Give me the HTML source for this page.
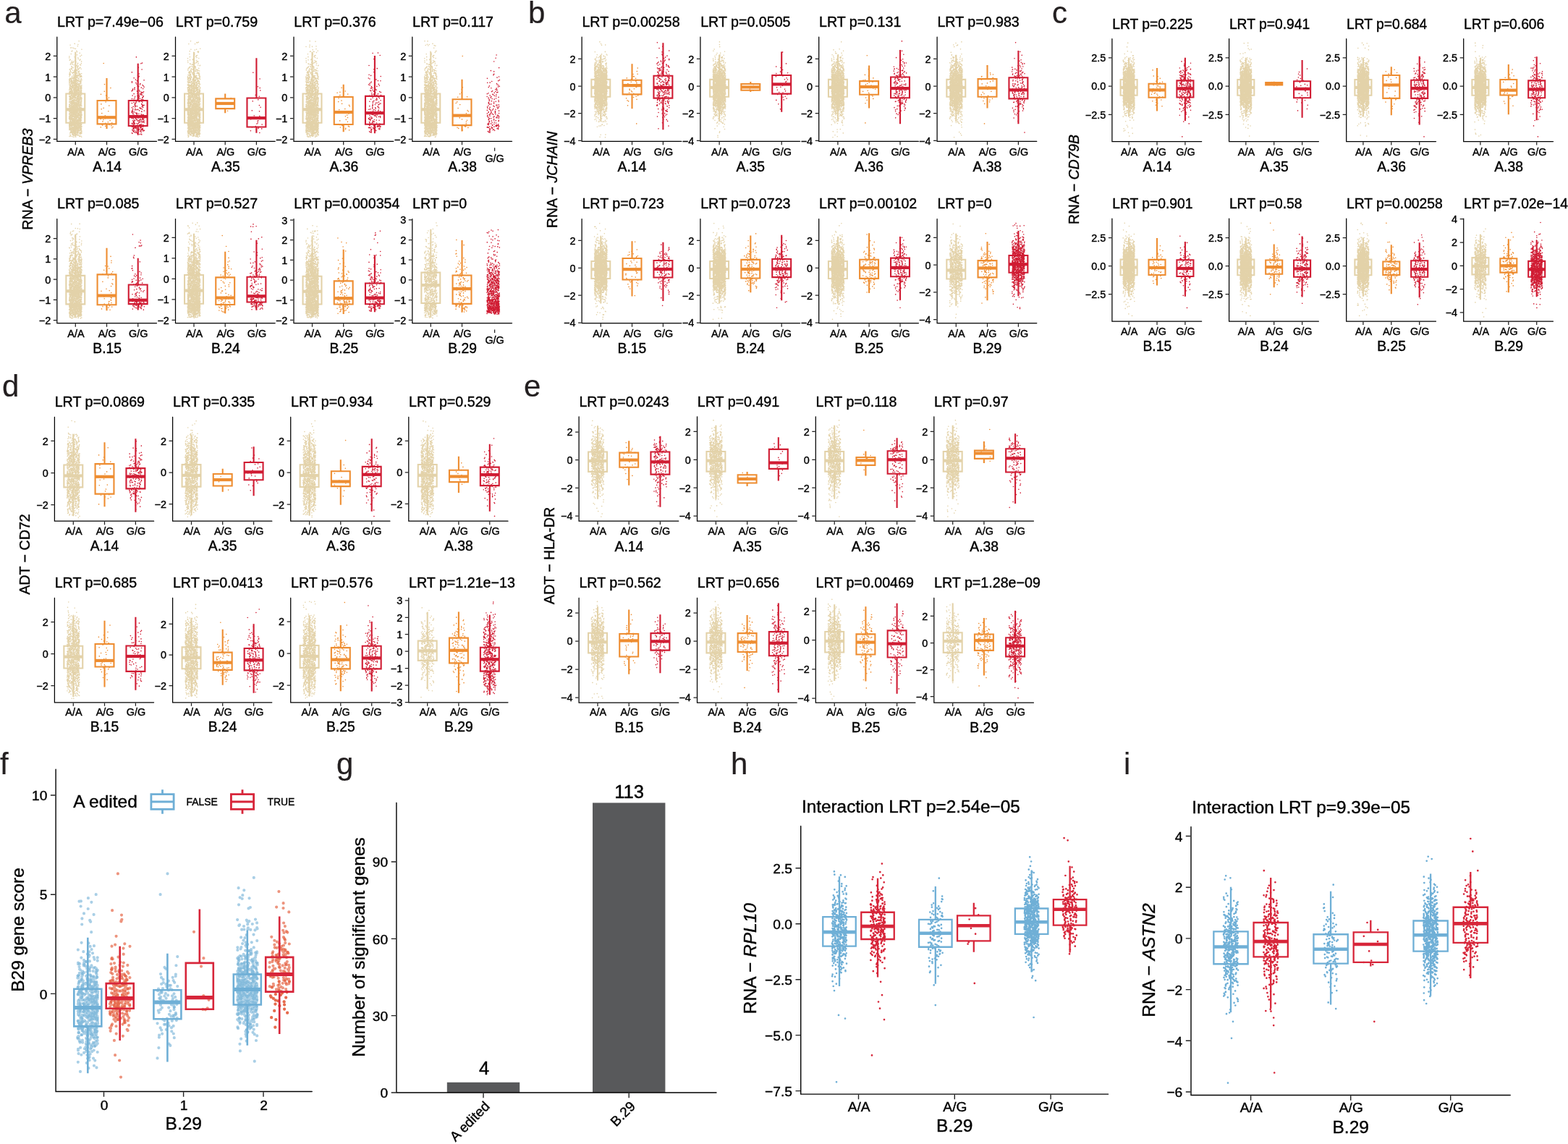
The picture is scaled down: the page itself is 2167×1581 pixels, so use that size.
<!DOCTYPE html>
<html lang="en">
<head>
<meta charset="utf-8">
<title>Figure</title>
<style>
html,body{margin:0;padding:0;background:#fff}
body{width:2167px;height:1581px;overflow:hidden}
svg{display:block;font-family:"Liberation Sans", "DejaVu Sans", sans-serif}
text{stroke:#000;stroke-width:.4px}
.L{fill:#231f20;stroke:#231f20;stroke-width:.2px}
</style>
</head>
<body>
<svg width="2167" height="1581" viewBox="0 0 2167 1581" fill="#000">
<defs><g fill="none">
<path vector-effect="non-scaling-stroke" id="u12a" d="M-98 32h0m58 110h0m-21 42h0m-7 94h0m55 44h0m-52 115h0m36 81h0m-53 117h0m64 88h0m-52 46h0m8 110h0m-33 58h0"/>
<path vector-effect="non-scaling-stroke" id="u12b" d="M93 26h0m-44 127h0m39 2h0m-34 147h0m-134 24h0m157 99h0m-30 95h0m-42 54h0m60 125h0m-119 97h0m-3 97h0m68 88h0"/>
<path vector-effect="non-scaling-stroke" id="u12c" d="M18 14h0m74 104h0m-159 40h0m133 153h0m-120 13h0m-15 111h0m-21 64h0m6 115h0m168 110h0m-30 70h0m-18 53h0m-40 130h0"/>
<path vector-effect="non-scaling-stroke" id="u20a" d="M25 3h0m-3 59h0m69 51h0m-37 36h0m-43 70h0m-78 18h0m13 89h0m12 10h0m46 65h0m-103 23h0m36 73h0m123 55h0m-59 24h0m57 66h0m-75 80h0m93 15h0m-110 42h0m-30 74h0m68 71h0m-21 33h0"/>
<path vector-effect="non-scaling-stroke" id="u20b" d="M-35 32h0m27 18h0m32 52h0m-97 47h0m39 79h0m42 19h0m26 66h0m-82 53h0m21 30h0m42 53h0m-101 54h0m128 37h0m7 33h0m-69 84h0m-27 39h0m43 67h0m-90 29h0m178 58h0m-59 74h0m-119 72h0"/>
<path vector-effect="non-scaling-stroke" id="u20c" d="M-62 28h0m-2 37h0m144 44h0m-11 64h0m-109 17h0m-52 80h0m8 19h0m30 78h0m-43 29h0m100 33h0m-35 82h0m-60 26h0m22 39h0m84 56h0m82 59h0m-25 49h0m-65 42h0m25 79h0m-26 48h0m-75 78h0"/>
<path vector-effect="non-scaling-stroke" id="u30a" d="M18 16h0m-85 39h0m-28 20h0m169 39h0m-11 21h0m-160 41h0m6 25h0m151 26h0m-47 26h0m-91 29h0m-3 60h0m169 7h0m-145 36h0m57 26h0m-56 31h0m105 38h0m-31 30h0m81 36h0m-14 58h0m-74 31h0m17 35h0m18 8h0m-143 59h0m154 12h0m-45 56h0m-59 13h0m143 40h0m-122 37h0m59 55h0m-3 33h0"/>
<path vector-effect="non-scaling-stroke" id="u30b" d="M83 27h0m-177 7h0m176 56h0m-102 14h0m4 41h0m-34 14h0m63 37h0m33 27h0m-69 56h0m50 19h0m-1 39h0m18 23h0m44 16h0m-49 61h0m-14 9h0m-45 27h0m32 39h0m-94 34h0m32 52h0m-47 26h0m155 34h0m-92 42h0m56 12h0m-65 41h0m22 32h0m1 53h0m66 35h0m-32 43h0m-14 45h0m32 21h0"/>
<path vector-effect="non-scaling-stroke" id="u30c" d="M40 30h0m-108 29h0m109 16h0m25 41h0m-103 16h0m15 36h0m0 21h0m70 49h0m-24 18h0m-93 48h0m1 8h0m151 53h0m-121 23h0m1 40h0m-14 13h0m43 51h0m-14 25h0m75 26h0m-15 41h0m42 40h0m-154 42h0m-24 22h0m44 46h0m-1 43h0m53 19h0m21 47h0m-55 39h0m-27 8h0m104 35h0m10 63h0"/>
<path vector-effect="non-scaling-stroke" id="u45a" d="M-75 16h0m107 6h0m-65 19h0m63 33h0m60 21h0m-128 28h0m-58 8h0m84 16h0m-41 32h0m90 9h0m-37 33h0m-61 10h0m132 24h0m-162 34h0m174 22h0m-136 18h0m115 25h0m-155 3h0m109 27h0m75 13h0m-88 36h0m-82 18h0m127 27h0m13 6h0m26 29h0m-145 22h0m24 18h0m-33 20h0m77 31h0m-84 25h0m3 10h0m-2 43h0m84 18h0m76 21h0m-46 15h0m-67 30h0m-34 21h0m144 17h0m-150 37h0m3 28h0m80 21h0m-35 28h0m62 30h0m-120 12h0m2 21h0"/>
<path vector-effect="non-scaling-stroke" id="u45b" d="M61 11h0m-34 25h0m-71 14h0m78 29h0m-22 17h0m6 24h0m-43 9h0m-17 22h0m84 33h0m-52 15h0m-69 18h0m97 21h0m-17 18h0m82 35h0m6 2h0m-27 36h0m-120 21h0m86 7h0m-108 36h0m169 4h0m-137 41h0m8 20h0m-57 22h0m42 17h0m-40 22h0m15 22h0m-6 18h0m17 21h0m63 21h0m33 30h0m44 19h0m-142 21h0m42 29h0m7 29h0m-9 2h0m27 46h0m-22 20h0m-59 19h0m6 14h0m44 29h0m65 29h0m-76 17h0m-30 19h0m156 34h0m-98 21h0"/>
<path vector-effect="non-scaling-stroke" id="u45c" d="M18 0h0m-52 29h0m-11 20h0m-18 21h0m150 27h0m-114 25h0m81 2h0m-45 30h0m53 25h0m-75 18h0m-79 13h0m23 21h0m82 38h0m-49 1h0m103 30h0m-58 21h0m-44 18h0m92 17h0m-11 30h0m-128 23h0m46 15h0m5 33h0m90 26h0m-53 15h0m-38 22h0m104 9h0m20 30h0m-77 29h0m22 15h0m-66 18h0m93 25h0m-145 37h0m52 2h0m17 38h0m106 25h0m-61 22h0m-16 11h0m-78 35h0m97 10h0m-7 48h0m45 5h0m-106 27h0m91 38h0m18 28h0m-131 2h0"/>
<path vector-effect="non-scaling-stroke" id="u70a" d="M-54 8h0m101 17h0m42 12h0m4 12h0m-166 10h0m163 14h0m-126 15h0m-37 6h0m115 14h0m-55 16h0m-21 22h0m4 9h0m15 10h0m-62 14h0m88 16h0m84 6h0m-140 25h0m101 5h0m-43 16h0m37 17h0m-53 6h0m80 21h0m-17 15h0m-155 10h0m137 10h0m-129 12h0m141 18h0m-8 20h0m-140 6h0m172 17h0m-65 11h0m-49 8h0m97 21h0m5 10h0m-55 18h0m28 8h0m-55 13h0m90 25h0m-135 15h0m55 13h0m85 4h0m16 26h0m-150 5h0m98 23h0m3 14h0m0 16h0m39 12h0m-1 9h0m8 14h0m-64 17h0m-60 7h0m-66 18h0m49 16h0m0 12h0m-8 26h0m155 13h0m-56 5h0m-105 17h0m147 18h0m-166 24h0m-1 14h0m183 9h0m-178 24h0m62 11h0m88 18h0m14 14h0m-153 22h0m7 2h0m99 24h0m7 23h0"/>
<path vector-effect="non-scaling-stroke" id="u70b" d="M20 9h0m-40 13h0m87 13h0m-23 16h0m-130 11h0m77 9h0m-51 13h0m127 14h0m20 12h0m-103 10h0m67 23h0m-128 3h0m90 15h0m-34 13h0m-59 16h0m67 15h0m-18 16h0m-3 6h0m-65 22h0m3 11h0m35 19h0m-21 9h0m141 13h0m-1 19h0m-156 13h0m8 13h0m189 14h0m-78 12h0m-104 14h0m0 15h0m37 5h0m25 20h0m21 10h0m68 19h0m-111 15h0m-38 3h0m130 15h0m2 14h0m-14 13h0m-8 17h0m2 22h0m-127 4h0m177 19h0m-128 15h0m111 15h0m-139 10h0m60 25h0m-23 8h0m110 12h0m-121 23h0m133 13h0m12 11h0m-28 10h0m-118 26h0m4 6h0m108 13h0m-4 24h0m-106 15h0m0 6h0m-48 27h0m60 11h0m3 12h0m-33 21h0m136 9h0m-98 25h0m45 8h0m41 27h0m-31 9h0m15 15h0m-137 19h0"/>
<path vector-effect="non-scaling-stroke" id="u70c" d="M74 9h0m-142 11h0m6 11h0m109 20h0m-86 6h0m27 11h0m63 25h0m-136 12h0m168 14h0m-157 11h0m170 14h0m-93 12h0m73 8h0m-111 17h0m-62 6h0m56 22h0m2 6h0m108 18h0m-143 13h0m109 19h0m45 9h0m-103 12h0m62 9h0m50 21h0m-106 5h0m0 20h0m80 8h0m-35 14h0m-43 17h0m-44 21h0m12 9h0m56 15h0m-90 15h0m113 13h0m62 6h0m-35 25h0m-59 13h0m-69 16h0m164 12h0m-65 5h0m-102 27h0m152 8h0m-138 10h0m117 21h0m-28 18h0m33 1h0m-51 18h0m83 21h0m-167 12h0m82 14h0m-73 19h0m-28 11h0m-5 22h0m30 8h0m45 11h0m-28 15h0m48 16h0m-58 25h0m-33 4h0m148 27h0m-127 14h0m104 10h0m12 17h0m35 10h0m-59 23h0m-33 16h0m-56 7h0m-17 23h0m22 19h0m43 18h0"/>
<path vector-effect="non-scaling-stroke" id="u100a" d="M-48 6h0m81 4h0m-91 16h0m132 2h0m-21 16h0m-70 10h0m79 11h0m26 7h0m-75 11h0m5 1h0m-115 14h0m161 7h0m22 12h0m-149 11h0m-28 9h0m50 11h0m-49 10h0m10 7h0m143 11h0m-50 6h0m-40 6h0m6 9h0m48 9h0m-56 13h0m119 8h0m6 15h0m-180 4h0m156 8h0m-143 11h0m16 15h0m38 6h0m-9 5h0m35 16h0m-106 10h0m83 2h0m-4 15h0m81 6h0m-33 15h0m18 3h0m-1 14h0m-34 11h0m54 6h0m23 15h0m-148 3h0m94 9h0m-88 17h0m61 5h0m1 9h0m7 10h0m36 15h0m-69 10h0m-44 2h0m114 10h0m-42 10h0m-28 17h0m93 3h0m-163 17h0m181 9h0m-123 4h0m-29 9h0m45 16h0m-15 5h0m126 16h0m-146 5h0m104 9h0m-118 17h0m28 2h0m102 17h0m-85 12h0m-75 1h0m66 18h0m-19 4h0m127 9h0m-82 14h0m4 8h0m83 11h0m-44 17h0m2 8h0m-74 5h0m86 19h0m-81 5h0m-77 9h0m37 19h0m-1 9h0m73 7h0m-53 8h0m-55 11h0m167 13h0m-81 10h0m16 12h0m-94 10h0m187 12h0m-106 14h0m53 8h0m-20 10h0m-109 15h0m54 12h0m22 5h0m-69 14h0m90 17h0"/>
<path vector-effect="non-scaling-stroke" id="u100b" d="M41 4h0m-68 13h0m105 6h0m-88 7h0m-18 12h0m86 10h0m-75 12h0m71 4h0m-99 13h0m-6 7h0m-7 10h0m11 5h0m7 9h0m2 12h0m91 15h0m28 3h0m-178 11h0m14 10h0m175 7h0m5 12h0m-130 8h0m-18 8h0m69 14h0m-22 11h0m84 9h0m-46 2h0m-63 9h0m56 10h0m-109 10h0m118 15h0m46 10h0m-16 9h0m-74 5h0m-12 12h0m16 9h0m-88 10h0m146 6h0m-113 16h0m6 3h0m42 16h0m10 11h0m54 1h0m-14 10h0m10 18h0m-64 8h0m-40 2h0m113 18h0m-118 7h0m124 9h0m17 6h0m-37 9h0m27 9h0m-61 13h0m23 7h0m-73 20h0m-30 8h0m103 2h0m10 12h0m-116 8h0m77 12h0m-79 10h0m48 8h0m35 10h0m-4 10h0m-96 13h0m108 7h0m-80 17h0m-19 9h0m146 9h0m-70 7h0m-39 18h0m-38 9h0m139 5h0m-97 17h0m8 5h0m0 9h0m49 17h0m-1 11h0m-3 8h0m-13 6h0m-52 12h0m138 11h0m10 17h0m-139 7h0m4 8h0m114 18h0m-69 9h0m43 7h0m-4 16h0m-22 12h0m0 10h0m43 7h0m5 11h0m26 9h0m-156 16h0m19 11h0m-32 5h0m164 15h0m-81 10h0m-75 13h0"/>
<path vector-effect="non-scaling-stroke" id="u100c" d="M-39 6h0m109 4h0m-161 16h0m55 6h0m-1 11h0m-54 10h0m120 11h0m35 5h0m-101 12h0m65 3h0m45 13h0m-7 7h0m-125 15h0m82 4h0m-26 10h0m-18 12h0m-22 5h0m103 16h0m-21 3h0m-17 16h0m-4 10h0m-38 5h0m52 11h0m-102 13h0m149 3h0m-117 13h0m-49 8h0m-5 5h0m19 16h0m39 5h0m-51 13h0m19 3h0m37 15h0m-14 5h0m88 11h0m-141 14h0m17 10h0m64 6h0m-63 6h0m116 16h0m56 10h0m-134 11h0m72 7h0m20 6h0m-34 16h0m-62 8h0m10 11h0m47 4h0m-20 13h0m58 12h0m26 7h0m-99 8h0m-15 16h0m108 1h0m-107 15h0m72 12h0m-30 6h0m2 15h0m-20 1h0m104 12h0m-112 12h0m73 13h0m-17 3h0m-20 19h0m70 3h0m-88 8h0m13 12h0m65 12h0m-83 7h0m-71 12h0m108 16h0m-24 6h0m-94 11h0m-5 9h0m163 8h0m-111 18h0m117 2h0m-127 11h0m66 19h0m41 6h0m-41 16h0m-101 11h0m123 6h0m-42 15h0m-37 8h0m58 12h0m-10 14h0m53 2h0m-133 14h0m73 17h0m-59 2h0m145 12h0m-178 18h0m59 10h0m83 8h0m-91 10h0m100 18h0m-9 11h0m2 13h0m-93 9h0"/>
<path vector-effect="non-scaling-stroke" id="u150a" d="M87 4h0m-43 6h0m-51 3h0m53 9h0m-99 6h0m50 9h0m71 1h0m22 8h0m-38 4h0m-9 10h0m-42 2h0m-41 9h0m63 4h0m74 8h0m-119 5h0m-51 9h0m-9 3h0m139 11h0m-101 1h0m-44 10h0m26 2h0m12 11h0m-17 6h0m102 6h0m-100 6h0m16 5h0m15 5h0m-29 10h0m119 3h0m0 5h0m-32 11h0m-33 6h0m108 6h0m-108 4h0m48 9h0m-60 4h0m115 7h0m-101 5h0m-85 7h0m137 8h0m-6 5h0m-52 7h0m-39 5h0m82 6h0m-91 7h0m-31 4h0m108 7h0m18 6h0m-40 7h0m12 5h0m-62 6h0m83 8h0m-81 7h0m94 7h0m-116 4h0m44 10h0m30 5h0m-35 6h0m77 4h0m47 10h0m-17 5h0m28 6h0m-138 4h0m24 11h0m93 5h0m-164 4h0m111 5h0m-76 13h0m38 3h0m79 7h0m-48 9h0m64 3h0m-120 7h0m71 7h0m17 4h0m-137 8h0m165 8h0m19 8h0m-1 1h0m-17 12h0m-44 1h0m46 8h0m-169 7h0m127 9h0m-56 6h0m63 4h0m-29 6h0m-25 7h0m-42 10h0m2 8h0m28 7h0m11 6h0m-71 4h0m-9 8h0m71 6h0m-31 6h0m126 8h0m-115 9h0m65 5h0m-1 8h0m-96 2h0m23 12h0m-41 5h0m47 7h0m-55 3h0m100 8h0m-97 11h0m61 5h0m73 8h0m-91 3h0m84 12h0m-25 2h0m-77 9h0m75 7h0m71 9h0m21 4h0m-68 8h0m-40 7h0m58 9h0m-143 3h0m58 9h0m126 8h0m-144 6h0m22 8h0m38 7h0m46 5h0m0 11h0m-116 6h0m139 9h0m-30 9h0m-85 1h0m-51 12h0m69 4h0m-72 11h0m122 4h0m-65 5h0m31 13h0m-44 8h0m-18 7h0m127 7h0m-102 3h0m121 10h0m-95 5h0m-64 15h0m-3 7h0m75 5h0m-33 8h0m116 6h0m6 6h0m-144 7h0"/>
<path vector-effect="non-scaling-stroke" id="u150b" d="M8 1h0m-14 7h0m-34 5h0m-36 6h0m87 10h0m-106 5h0m15 8h0m61 6h0m-62 7h0m-11 3h0m115 10h0m-91 2h0m39 10h0m23 1h0m70 8h0m-11 4h0m-141 12h0m133 5h0m29 6h0m-45 5h0m-41 7h0m21 3h0m-40 9h0m108 7h0m-101 5h0m72 6h0m17 5h0m-24 9h0m-128 6h0m160 6h0m-5 6h0m-77 3h0m98 10h0m-148 3h0m10 7h0m31 9h0m53 8h0m46 4h0m-175 8h0m124 3h0m51 8h0m-82 3h0m-62 11h0m48 1h0m-78 7h0m120 8h0m44 8h0m-116 4h0m-44 10h0m16 4h0m-4 8h0m35 7h0m68 7h0m-85 5h0m90 6h0m-20 4h0m57 7h0m-4 10h0m-144 3h0m175 7h0m-168 4h0m-9 6h0m22 9h0m138 9h0m-72 6h0m27 4h0m-20 6h0m-3 4h0m-67 10h0m44 4h0m112 11h0m-133 5h0m119 4h0m-65 6h0m-64 10h0m-6 7h0m91 7h0m-26 4h0m57 9h0m-108 1h0m20 6h0m-6 11h0m-45 6h0m33 4h0m77 7h0m-81 10h0m8 7h0m70 7h0m14 4h0m-110 9h0m24 7h0m130 1h0m-65 13h0m-131 1h0m136 11h0m54 7h0m-29 6h0m-82 5h0m-19 8h0m115 7h0m1 6h0m-126 9h0m11 2h0m53 10h0m21 4h0m-60 8h0m65 5h0m-101 8h0m26 12h0m-55 6h0m117 5h0m-36 8h0m16 3h0m-50 12h0m74 4h0m-3 7h0m-97 7h0m-21 8h0m74 4h0m75 9h0m-92 5h0m45 11h0m1 7h0m-70 10h0m-30 4h0m95 9h0m-87 8h0m31 5h0m132 6h0m-159 6h0m27 8h0m89 10h0m25 4h0m-155 7h0m102 7h0m28 12h0m-64 3h0m48 12h0m-96 7h0m3 8h0m62 2h0m31 12h0m-91 6h0m59 9h0m-42 3h0m93 10h0m50 13h0m-125 4h0m89 10h0m-109 9h0"/>
<path vector-effect="non-scaling-stroke" id="u150c" d="M19 6h0m-72 4h0m-18 8h0m156 5h0m-142 7h0m125 7h0m-8 6h0m-116 6h0m4 2h0m-12 8h0m131 9h0m-116 2h0m-10 5h0m22 7h0m-51 9h0m150 5h0m-36 5h0m53 6h0m-106 8h0m30 9h0m-66 2h0m26 5h0m110 6h0m-5 11h0m-97 4h0m-44 5h0m35 6h0m-24 8h0m62 6h0m16 4h0m35 11h0m-102 4h0m-1 7h0m7 7h0m101 3h0m-100 6h0m21 9h0m106 5h0m15 9h0m-122 4h0m6 7h0m-29 8h0m104 6h0m-1 3h0m3 8h0m-130 6h0m162 6h0m-127 9h0m-58 4h0m111 7h0m-63 4h0m-6 5h0m37 8h0m54 5h0m-103 5h0m-1 9h0m155 9h0m-123 4h0m84 9h0m34 5h0m-67 3h0m75 8h0m-16 5h0m-166 12h0m90 6h0m-7 6h0m-31 7h0m64 2h0m-76 11h0m2 5h0m70 4h0m-24 9h0m32 8h0m-8 1h0m-75 6h0m34 10h0m0 7h0m29 8h0m12 5h0m-16 6h0m-77 3h0m16 9h0m92 6h0m-106 8h0m3 8h0m5 4h0m61 9h0m40 2h0m-89 8h0m67 6h0m-69 10h0m30 10h0m80 1h0m-67 9h0m2 7h0m-86 6h0m101 9h0m-98 6h0m56 5h0m71 7h0m8 5h0m-133 10h0m111 8h0m54 3h0m-64 5h0m30 13h0m-48 7h0m-88 7h0m29 6h0m160 6h0m-29 6h0m0 8h0m-72 2h0m48 12h0m-109 9h0m88 4h0m60 6h0m-169 8h0m134 8h0m-51 7h0m73 6h0m-30 9h0m-120 8h0m150 6h0m18 7h0m-38 5h0m-2 10h0m-53 5h0m-52 11h0m-10 2h0m133 12h0m-87 3h0m48 11h0m62 5h0m-171 8h0m52 6h0m54 6h0m16 10h0m-99 10h0m86 3h0m10 11h0m20 2h0m-143 9h0m8 14h0m20 7h0m140 2h0m9 12h0m-56 2h0m-81 11h0m105 8h0"/>
<path vector-effect="non-scaling-stroke" id="u220a" d="M86 2h0m-65 6h0m-95 1h0m140 6h0m-22 6h0m37 0h0m-155 7h0m162 5h0m-73 2h0m6 6h0m-11 3h0m0 6h0m4 1h0m-99 7h0m80 5h0m-50 1h0m125 4h0m-87 7h0m-38 5h0m121 0h0m-130 8h0m-20 2h0m90 5h0m63 5h0m-100 5h0m-39 2h0m48 5h0m-17 5h0m69 3h0m-83 3h0m86 6h0m-51 3h0m-1 5h0m56 3h0m-88 7h0m117 3h0m-164 5h0m42 3h0m96 6h0m-137 4h0m25 4h0m65 2h0m-42 6h0m95 6h0m-117 4h0m44 3h0m-53 4h0m5 6h0m-22 1h0m171 7h0m-136 2h0m48 4h0m-33 6h0m94 5h0m41 5h0m0 3h0m-111 5h0m-34 1h0m89 8h0m-121 4h0m45 4h0m31 2h0m55 7h0m-141 5h0m123 2h0m-46 4h0m24 6h0m-24 1h0m-21 6h0m110 3h0m28 7h0m-95 4h0m23 5h0m55 4h0m-136 3h0m135 4h0m-98 4h0m75 4h0m19 3h0m-130 5h0m42 5h0m65 6h0m-15 4h0m-12 2h0m-108 7h0m104 6h0m-77 2h0m128 5h0m-153 5h0m167 2h0m-59 4h0m11 8h0m-128 3h0m39 3h0m86 4h0m-130 5h0m79 3h0m29 6h0m49 4h0m20 7h0m-104 4h0m99 3h0m5 3h0m-119 7h0m45 1h0m-69 5h0m44 5h0m58 6h0m17 5h0m-86 3h0m35 4h0m9 5h0m-42 6h0m-34 3h0m78 5h0m-26 5h0m-20 2h0m-33 5h0m103 7h0m49 5h0m-128 1h0m20 6h0m-64 4h0m155 7h0m-96 3h0m32 4h0m38 4h0m-73 4h0m70 7h0m-76 2h0m-35 6h0m92 5h0m-58 3h0m-27 4h0m70 6h0m51 6h0m-44 4h0m-28 2h0m69 8h0m20 4h0m-126 5h0m143 5h0m-78 3h0m45 5h0m-67 5h0m-6 5h0m11 3h0m-93 5h0m163 3h0m9 4h0m-85 8h0m88 5h0m-26 2h0m-76 4h0m-17 5h0m65 8h0m-108 2h0m168 7h0m-177 5h0m51 4h0m37 2h0m88 5h0m-113 4h0m71 5h0m-47 6h0m21 7h0m54 3h0m8 5h0m-35 5h0m-122 4h0m152 5h0m16 6h0m-19 2h0m-169 5h0m38 4h0m116 6h0m18 6h0m-145 4h0m8 5h0m150 7h0m-77 4h0m29 5h0m25 6h0m-65 3h0m-67 5h0m131 3h0m-129 7h0m-30 2h0m109 7h0m38 8h0m-35 2h0m-85 3h0m86 7h0m66 7h0m-105 3h0m-23 4h0m109 5h0m-7 7h0m-63 3h0m-51 8h0m-36 4h0m112 6h0m-112 5h0m65 4h0m125 4h0m-57 7h0m37 4h0m-81 4h0m-62 8h0m63 2h0m77 7h0m-128 6h0m120 4h0m-105 4h0m58 6h0m-89 7h0m141 4h0m0 7h0m-67 6h0m-42 2h0"/>
<path vector-effect="non-scaling-stroke" id="u220b" d="M81 2h0m-24 3h0m-109 5h0m31 3h0m4 7h0m-65 4h0m87 3h0m-49 3h0m-36 7h0m107 4h0m-91 2h0m77 6h0m48 3h0m25 5h0m-97 4h0m-27 6h0m94 4h0m-36 4h0m-85 5h0m138 4h0m-172 2h0m178 7h0m16 3h0m-134 2h0m-28 5h0m139 3h0m-90 6h0m58 4h0m-60 5h0m-15 2h0m-29 5h0m155 6h0m-181 4h0m177 2h0m-111 8h0m-22 2h0m128 5h0m-41 4h0m31 2h0m-164 6h0m140 4h0m13 3h0m-32 6h0m53 6h0m-154 2h0m122 6h0m-68 2h0m-49 7h0m155 1h0m-146 4h0m48 4h0m-46 7h0m57 2h0m13 5h0m-61 5h0m0 6h0m-45 3h0m29 6h0m162 3h0m-60 2h0m45 4h0m-42 7h0m-65 1h0m-26 7h0m62 5h0m60 2h0m-123 6h0m84 3h0m-48 6h0m-74 4h0m7 3h0m125 6h0m-18 4h0m-25 3h0m-72 5h0m-2 6h0m122 2h0m-130 7h0m29 3h0m-28 5h0m36 5h0m110 1h0m-134 5h0m155 4h0m-90 6h0m-75 4h0m120 4h0m-105 2h0m62 9h0m23 1h0m-112 5h0m59 7h0m3 2h0m0 6h0m18 2h0m90 7h0m6 1h0m-157 7h0m106 3h0m21 7h0m-59 2h0m21 6h0m-106 3h0m15 3h0m112 5h0m-43 6h0m-63 4h0m90 3h0m-85 8h0m3 2h0m155 3h0m-34 7h0m-148 4h0m183 3h0m-55 5h0m1 7h0m39 1h0m-134 7h0m17 1h0m-15 6h0m42 5h0m86 4h0m13 6h0m-153 4h0m20 2h0m116 7h0m10 6h0m-81 4h0m-72 3h0m125 3h0m-103 7h0m-49 2h0m45 6h0m-35 7h0m79 3h0m-53 5h0m9 4h0m-4 4h0m58 6h0m-7 1h0m-75 9h0m113 4h0m14 4h0m-66 2h0m58 8h0m-16 4h0m43 3h0m4 4h0m-74 8h0m46 3h0m-111 2h0m25 8h0m97 3h0m-143 6h0m34 4h0m33 5h0m78 4h0m-30 5h0m-64 3h0m59 6h0m35 5h0m-109 4h0m48 5h0m53 7h0m45 2h0m-65 8h0m46 3h0m-52 5h0m-17 2h0m-21 9h0m-9 5h0m85 2h0m-121 5h0m-21 6h0m106 2h0m-100 7h0m-21 4h0m167 7h0m-99 2h0m59 5h0m-18 6h0m3 7h0m31 3h0m2 4h0m-25 8h0m-60 5h0m51 2h0m-9 4h0m13 5h0m-114 9h0m-1 2h0m65 5h0m-39 3h0m68 8h0m-26 6h0m57 5h0m-68 5h0m-45 4h0m86 4h0m84 7h0m-129 5h0m94 3h0m37 8h0m-120 3h0m33 7h0m-13 5h0m-9 2h0m65 7h0m51 4h0m-115 4h0m-46 6h0m150 8h0m-175 6h0m104 0h0m79 7h0m-2 5h0m-181 6h0m138 7h0m-36 4h0m-75 6h0"/>
<path vector-effect="non-scaling-stroke" id="u220c" d="M-21 1h0m46 4h0m-95 6h0m-13 5h0m23 2h0m-3 6h0m126 2h0m-14 5h0m25 6h0m-14 2h0m4 5h0m-142 4h0m161 5h0m-71 3h0m-96 6h0m141 4h0m-155 3h0m81 4h0m-47 6h0m142 1h0m-92 7h0m-68 5h0m149 4h0m-87 3h0m-49 6h0m68 3h0m29 4h0m6 5h0m18 2h0m-101 5h0m100 4h0m24 7h0m18 4h0m-86 5h0m-91 3h0m6 1h0m168 7h0m-7 4h0m-44 3h0m-112 6h0m116 3h0m-2 5h0m24 4h0m-50 5h0m56 5h0m28 3h0m-25 5h0m-11 3h0m-79 4h0m98 6h0m-7 5h0m8 3h0m-152 6h0m34 1h0m101 5h0m-40 6h0m-48 1h0m95 7h0m0 2h0m-14 7h0m40 3h0m-111 5h0m16 5h0m9 5h0m27 3h0m-116 1h0m-13 8h0m98 3h0m-65 6h0m125 2h0m-20 4h0m-7 4h0m49 5h0m-115 4h0m-35 4h0m-9 6h0m68 3h0m-57 7h0m142 1h0m-109 7h0m-13 1h0m-48 5h0m62 5h0m117 6h0m-147 2h0m-11 4h0m77 7h0m-28 2h0m12 5h0m71 6h0m-68 5h0m97 4h0m-93 5h0m-75 4h0m66 3h0m20 4h0m-48 7h0m99 2h0m-57 5h0m-109 6h0m160 2h0m-91 5h0m67 2h0m-110 7h0m79 2h0m49 7h0m-147 4h0m58 5h0m68 5h0m-77 5h0m28 2h0m-16 5h0m-25 3h0m3 6h0m25 5h0m-29 5h0m74 4h0m35 6h0m-45 4h0m-99 3h0m83 4h0m-5 3h0m10 6h0m-79 7h0m46 2h0m25 4h0m87 7h0m-115 1h0m79 7h0m-85 4h0m43 5h0m88 4h0m-13 3h0m-34 7h0m-75 3h0m51 6h0m-86 2h0m-22 7h0m17 4h0m38 5h0m13 5h0m-66 5h0m9 6h0m125 0h0m38 6h0m-179 4h0m33 7h0m121 2h0m22 6h0m-172 6h0m153 4h0m-1 4h0m-51 6h0m33 5h0m-24 2h0m15 8h0m-110 4h0m51 2h0m-29 6h0m103 3h0m-107 6h0m-33 7h0m176 4h0m-87 5h0m38 2h0m59 4h0m-112 7h0m115 4h0m-49 4h0m-92 4h0m83 6h0m-79 6h0m108 5h0m-79 2h0m68 7h0m11 7h0m15 2h0m-72 7h0m-92 6h0m134 2h0m42 6h0m-62 6h0m-44 3h0m-33 7h0m-49 2h0m164 4h0m-92 6h0m-27 8h0m22 5h0m120 4h0m-10 4h0m-126 4h0m94 7h0m-55 6h0m-84 5h0m34 5h0m142 4h0m-70 6h0m-29 4h0m-51 5h0m124 2h0m6 7h0m-131 3h0m69 8h0m37 2h0m-90 8h0m77 3h0m-57 9h0m59 1h0m5 8h0m29 4h0m5 4h0m25 9h0m-148 3h0m-39 6h0m52 6h0m-50 5h0m78 6h0m31 2h0m56 9h0"/>
<path vector-effect="non-scaling-stroke" id="u330a" d="M0 1h0m17 2h0m-100 3h0m-5 4h0m96 2h0m-45 4h0m-3 3h0m3 2h0m-48 3h0m163 3h0m-57 2h0m-11 4h0m-106 1h0m171 3h0m-59 3h0m-115 3h0m135 2h0m-44 3h0m38 5h0m50 2h0m-136 3h0m123 2h0m-98 3h0m46 4h0m-76 2h0m46 2h0m70 4h0m-76 1h0m95 3h0m-72 4h0m20 4h0m33 0h0m-38 3h0m55 4h0m-42 4h0m-107 2h0m145 2h0m-12 3h0m-116 3h0m143 3h0m-67 4h0m84 1h0m-131 3h0m-20 3h0m29 2h0m99 4h0m-69 4h0m-66 3h0m152 2h0m-159 1h0m-1 3h0m90 4h0m-51 4h0m-34 3h0m91 1h0m-5 4h0m-22 2h0m-39 4h0m60 3h0m-90 1h0m93 4h0m-77 3h0m90 2h0m-125 3h0m24 4h0m33 3h0m79 2h0m-123 3h0m167 2h0m-178 3h0m111 4h0m60 1h0m-47 3h0m-98 3h0m72 3h0m-48 4h0m43 3h0m15 2h0m27 3h0m7 4h0m13 0h0m-26 3h0m-109 3h0m1 4h0m82 3h0m70 3h0m-81 1h0m-50 3h0m94 4h0m-48 4h0m-25 3h0m10 1h0m61 5h0m-74 2h0m-17 2h0m-57 3h0m41 4h0m131 1h0m-78 3h0m-62 3h0m3 3h0m134 3h0m-41 5h0m-63 1h0m2 2h0m-3 5h0m19 3h0m13 0h0m39 5h0m-77 2h0m94 3h0m8 2h0m-29 4h0m7 3h0m-8 3h0m62 4h0m-192 2h0m28 2h0m9 4h0m118 3h0m-109 3h0m142 2h0m-108 4h0m83 1h0m-71 4h0m92 4h0m-102 1h0m-81 4h0m168 2h0m-55 3h0m42 4h0m-26 3h0m-115 3h0m159 1h0m-126 4h0m38 2h0m-74 3h0m61 4h0m90 1h0m-151 4h0m151 5h0m10 0h0m-137 5h0m-20 3h0m55 3h0m112 1h0m-62 4h0m51 3h0m6 4h0m-14 2h0m33 3h0m-172 3h0m117 3h0m10 2h0m-8 4h0m-52 3h0m-2 3h0m-3 2h0m-21 2h0m-26 4h0m-35 3h0m43 2h0m-45 3h0m115 4h0m63 3h0m-66 3h0m-65 2h0m125 3h0m-36 5h0m7 3h0m12 3h0m-85 1h0m32 3h0m25 4h0m4 2h0m-122 5h0m48 0h0m98 4h0m-121 5h0m49 0h0m32 4h0m-28 5h0m34 2h0m68 1h0m-130 3h0m36 5h0m-42 1h0m7 5h0m81 1h0m-106 3h0m158 4h0m-106 4h0m26 3h0m-77 4h0m61 1h0m29 3h0m-123 3h0m16 4h0m119 4h0m-105 3h0m-2 2h0m-37 4h0m196 3h0m-57 3h0m-48 2h0m10 3h0m8 3h0m-94 2h0m177 4h0m-8 4h0m-30 3h0m-32 2h0m-103 2h0m68 3h0m-54 3h0m155 3h0m-142 4h0m75 5h0m-68 1h0m-19 5h0m49 1h0m55 5h0m-51 1h0m58 5h0m-56 3h0m10 3h0m-70 2h0m108 3h0m-92 2h0m124 7h0m-151 1h0m24 3h0m60 3h0m-77 5h0m2 2h0m76 2h0m-48 5h0m127 2h0m-108 3h0m76 3h0m-18 4h0m-5 3h0m67 3h0m-183 2h0m172 4h0m-1 3h0m-78 3h0m82 4h0m-101 3h0m-4 4h0m30 3h0m-100 3h0m114 3h0m48 4h0m-59 2h0m-73 4h0m96 1h0m-56 4h0m-42 3h0m43 4h0m29 5h0m-44 1h0m93 2h0m-10 3h0m-122 4h0m29 4h0m24 2h0m-68 3h0m46 4h0m69 3h0m40 5h0m-41 1h0m69 4h0m-148 3h0m129 6h0m-174 3h0m1 1h0m183 4h0m-124 3h0m49 4h0m-55 5h0m81 1h0m-75 3h0m-23 4h0m157 3h0m-156 2h0m17 6h0m81 2h0m-105 3h0m109 3h0m56 5h0m-99 2h0m93 3h0m-63 5h0m32 2h0m-135 5h0m146 1h0m-22 5h0m4 5h0m-120 1h0m91 5h0m19 4h0m-23 1h0m70 5h0m-89 4h0m29 2h0m-43 3h0m-55 3h0m48 4h0m65 4h0m-94 2h0m8 6h0m119 1h0m-106 3h0m122 4h0m-15 6h0m-67 2h0m32 4h0m27 4h0m-159 3h0m70 3h0m67 3h0m-17 5h0m66 3h0m-57 1h0m-32 4h0m-38 4h0m-8 5h0m61 4h0m0 4h0"/>
<path vector-effect="non-scaling-stroke" id="u330b" d="M11 2h0m-109 3h0m42 1h0m149 5h0m-136 1h0m-11 3h0m-9 2h0m-9 5h0m144 2h0m-86 2h0m-63 2h0m101 4h0m60 2h0m16 4h0m-82 3h0m10 3h0m-5 3h0m22 2h0m-24 4h0m-49 1h0m-64 3h0m166 4h0m22 2h0m-189 3h0m-2 3h0m193 2h0m-120 5h0m-64 1h0m30 2h0m25 5h0m118 3h0m-123 3h0m71 2h0m21 1h0m-135 5h0m38 2h0m-13 3h0m-44 2h0m57 4h0m68 2h0m-44 4h0m-52 3h0m127 1h0m-128 3h0m-14 4h0m49 3h0m12 3h0m-19 2h0m15 4h0m114 0h0m-124 5h0m20 2h0m76 2h0m0 5h0m-86 1h0m-53 4h0m48 3h0m1 1h0m4 5h0m-51 1h0m-3 3h0m110 2h0m-50 5h0m21 3h0m-3 2h0m6 4h0m-44 1h0m60 4h0m61 2h0m-92 2h0m-15 3h0m121 5h0m-68 1h0m-117 3h0m112 2h0m44 4h0m-126 4h0m110 1h0m11 3h0m4 4h0m-93 2h0m-48 4h0m62 2h0m-47 4h0m-6 2h0m40 3h0m76 2h0m-3 3h0m-121 4h0m168 3h0m-185 2h0m14 2h0m34 3h0m-36 4h0m74 4h0m-89 1h0m157 3h0m-37 4h0m-120 2h0m194 3h0m-32 2h0m-31 4h0m-55 2h0m65 4h0m-145 2h0m51 3h0m52 2h0m95 3h0m-25 3h0m-64 3h0m-103 3h0m108 2h0m-108 5h0m157 1h0m-26 4h0m-88 3h0m-40 3h0m-8 4h0m106 0h0m-41 3h0m18 5h0m-32 3h0m-37 3h0m26 2h0m19 3h0m134 1h0m-34 5h0m-23 1h0m-99 5h0m100 1h0m-67 4h0m101 4h0m-22 1h0m-92 3h0m76 2h0m-34 4h0m-55 3h0m3 4h0m70 3h0m-81 4h0m111 0h0m9 4h0m-139 3h0m134 4h0m47 3h0m-186 1h0m40 3h0m86 5h0m-2 1h0m52 3h0m-167 5h0m11 2h0m160 4h0m-40 2h0m-79 1h0m-2 6h0m25 2h0m94 3h0m-8 3h0m-156 2h0m148 4h0m-100 2h0m117 3h0m-30 2h0m-22 5h0m-24 3h0m2 3h0m6 3h0m64 0h0m-115 6h0m6 0h0m-28 5h0m-50 4h0m161 1h0m-126 3h0m3 3h0m134 4h0m-2 2h0m-91 5h0m96 1h0m-39 3h0m-23 5h0m-5 1h0m-13 4h0m-92 2h0m-3 5h0m56 2h0m-47 2h0m30 4h0m67 2h0m-43 3h0m23 3h0m106 4h0m-128 3h0m83 2h0m-115 3h0m66 4h0m-99 1h0m54 3h0m108 6h0m25 1h0m-70 4h0m-94 4h0m147 1h0m-21 3h0m-84 4h0m64 4h0m-72 1h0m132 3h0m-146 5h0m-18 2h0m82 2h0m-37 4h0m86 5h0m-21 3h0m33 3h0m-23 2h0m-130 2h0m73 2h0m-14 4h0m-67 5h0m70 3h0m21 1h0m-67 5h0m149 3h0m4 2h0m-109 3h0m-41 4h0m97 3h0m-115 2h0m127 5h0m-72 1h0m35 4h0m27 5h0m-5 3h0m-76 1h0m87 3h0m-133 4h0m173 3h0m-94 4h0m65 1h0m-118 5h0m125 3h0m31 2h0m11 4h0m-72 3h0m-95 4h0m-14 1h0m175 6h0m-105 1h0m24 4h0m21 4h0m-131 2h0m196 4h0m-5 4h0m-41 1h0m-142 5h0m34 2h0m8 4h0m61 3h0m68 3h0m-41 2h0m-117 5h0m47 4h0m-15 2h0m112 2h0m-23 3h0m-98 6h0m23 1h0m130 3h0m-165 3h0m166 3h0m-184 5h0m69 2h0m82 4h0m-118 5h0m3 1h0m-6 3h0m88 4h0m47 4h0m-85 4h0m5 2h0m-17 5h0m-52 2h0m127 5h0m-3 2h0m9 3h0m-165 2h0m150 5h0m-42 3h0m-100 4h0m165 3h0m-121 2h0m27 5h0m-48 3h0m69 4h0m27 3h0m-70 4h0m15 4h0m-5 2h0m79 4h0m40 3h0m-113 4h0m-8 1h0m-8 4h0m96 3h0m19 4h0m-111 2h0m113 7h0m20 3h0m-65 3h0m-100 4h0m85 2h0m3 4h0m57 2h0m-45 4h0m68 2h0m0 4h0m-103 5h0m1 4h0m-9 4h0m77 0h0m-7 5h0m-86 3h0m42 6h0m-64 2h0m-7 2h0m108 4h0m-72 6h0m-73 1h0"/>
<path vector-effect="non-scaling-stroke" id="u330c" d="M77 3h0m-34 2h0m-78 2h0m32 2h0m-12 3h0m19 5h0m-7 1h0m82 3h0m-32 3h0m5 4h0m16 2h0m-46 2h0m53 3h0m-80 4h0m97 2h0m-77 2h0m-75 5h0m63 0h0m-30 3h0m75 3h0m-145 3h0m4 2h0m1 5h0m160 2h0m-112 4h0m114 0h0m13 5h0m-32 3h0m-16 3h0m-111 2h0m121 2h0m-113 5h0m31 1h0m113 4h0m15 1h0m-180 4h0m60 3h0m109 2h0m-121 2h0m12 4h0m66 3h0m-119 3h0m-6 3h0m138 2h0m-104 3h0m-42 2h0m32 4h0m-22 4h0m111 1h0m-68 4h0m112 1h0m-74 5h0m-28 1h0m-38 4h0m144 3h0m-65 2h0m-84 3h0m-7 3h0m168 4h0m-10 3h0m-54 1h0m-34 4h0m40 3h0m-117 1h0m171 5h0m-76 3h0m78 3h0m-47 2h0m-85 1h0m41 4h0m68 2h0m-81 5h0m-16 3h0m-11 2h0m-13 2h0m23 3h0m-36 4h0m18 3h0m94 1h0m-109 4h0m45 3h0m11 3h0m-65 2h0m150 2h0m-3 3h0m-30 3h0m-39 3h0m-40 3h0m100 2h0m16 3h0m-124 5h0m115 1h0m-122 4h0m143 3h0m-78 4h0m38 1h0m-138 3h0m14 3h0m40 2h0m-53 4h0m-7 2h0m195 5h0m-193 2h0m148 1h0m-10 4h0m42 3h0m-66 2h0m-64 4h0m138 2h0m-21 5h0m-57 2h0m-93 2h0m134 4h0m22 1h0m-159 4h0m29 2h0m118 4h0m-78 3h0m-6 4h0m49 0h0m48 5h0m-91 3h0m41 2h0m56 3h0m-15 3h0m-156 3h0m36 1h0m128 5h0m-58 4h0m-1 1h0m-14 3h0m83 3h0m-177 4h0m110 3h0m-30 2h0m65 4h0m-86 1h0m-25 3h0m90 3h0m-84 3h0m119 3h0m5 2h0m-78 5h0m103 1h0m-75 5h0m-1 2h0m-117 3h0m61 2h0m85 3h0m16 4h0m-51 4h0m-73 2h0m103 1h0m-104 6h0m41 2h0m93 3h0m-14 3h0m-24 3h0m24 3h0m-48 1h0m-75 3h0m-4 5h0m5 2h0m41 2h0m66 3h0m-118 3h0m65 4h0m99 3h0m-24 4h0m-144 2h0m23 3h0m-19 3h0m13 3h0m111 4h0m-132 2h0m67 2h0m5 4h0m17 4h0m-70 1h0m122 2h0m5 6h0m0 3h0m-89 2h0m108 3h0m4 2h0m-164 4h0m3 1h0m30 6h0m81 2h0m-74 2h0m-44 3h0m117 3h0m-32 4h0m19 3h0m-97 3h0m36 1h0m94 5h0m12 3h0m-9 3h0m14 3h0m-128 2h0m79 4h0m-79 3h0m82 4h0m-20 2h0m-33 2h0m-50 6h0m94 1h0m-30 3h0m68 2h0m-87 3h0m-39 4h0m-26 5h0m157 0h0m-118 3h0m48 4h0m-87 3h0m169 5h0m-108 1h0m-40 3h0m58 4h0m12 3h0m-91 3h0m75 2h0m79 5h0m-159 2h0m3 5h0m112 1h0m-65 4h0m-19 3h0m-27 4h0m58 1h0m105 5h0m-88 4h0m-6 3h0m-36 2h0m13 3h0m11 4h0m47 4h0m19 1h0m-32 3h0m-48 4h0m-23 1h0m-23 6h0m37 2h0m61 2h0m-15 6h0m-35 3h0m-48 3h0m144 1h0m-52 3h0m65 4h0m-12 4h0m-116 1h0m70 5h0m86 4h0m-32 3h0m-41 2h0m18 4h0m-47 2h0m64 3h0m14 3h0m-143 6h0m14 3h0m-24 3h0m103 2h0m12 5h0m-117 1h0m42 5h0m90 2h0m-104 4h0m157 3h0m-77 3h0m-113 3h0m68 5h0m23 3h0m-37 2h0m96 2h0m9 4h0m18 4h0m-114 3h0m35 4h0m-21 4h0m-31 3h0m67 2h0m-68 4h0m-38 2h0m59 4h0m21 4h0m-53 3h0m61 3h0m89 5h0m-130 3h0m-11 2h0m96 5h0m-116 4h0m52 0h0m15 3h0m103 6h0m-50 2h0m-12 5h0m-6 3h0m-88 4h0m102 1h0m7 3h0m37 5h0m-124 4h0m-55 2h0m79 3h0m111 5h0m-93 4h0m11 3h0m0 1h0m-85 4h0m29 6h0m3 3h0m22 2h0m98 4h0m-155 4h0m75 1h0m-38 4h0m-55 4h0m98 6h0m19 2h0m-124 5h0m144 4h0m-27 2h0m0 4h0m-51 4h0m53 1h0"/>
<path vector-effect="non-scaling-stroke" id="u500a" d="M91 1h0m-70 2h0m23 2h0m-3 2h0m-74 1h0m-22 2h0m-35 2h0m188 1h0m-174 2h0m88 3h0m-3 1h0m-92 3h0m20 2h0m127 0h0m-139 3h0m17 2h0m-22 2h0m107 2h0m-110 1h0m43 3h0m-47 2h0m176 0h0m-187 2h0m192 2h0m-43 2h0m-9 3h0m-78 1h0m-58 2h0m23 2h0m12 2h0m16 1h0m31 2h0m-70 3h0m-11 2h0m49 1h0m98 2h0m-66 1h0m-33 2h0m-10 2h0m125 3h0m-112 2h0m17 0h0m-3 3h0m-32 2h0m91 2h0m-35 1h0m-5 2h0m29 3h0m-52 2h0m67 1h0m-81 2h0m10 1h0m58 2h0m45 2h0m-45 2h0m24 3h0m-72 2h0m64 0h0m53 2h0m-75 2h0m14 3h0m-38 2h0m29 2h0m-41 1h0m-58 2h0m81 2h0m-85 2h0m-9 2h0m189 1h0m-12 1h0m-118 3h0m111 1h0m-45 2h0m-104 3h0m6 1h0m162 2h0m-8 2h0m-87 2h0m26 1h0m-124 3h0m82 1h0m-69 2h0m104 2h0m3 2h0m21 3h0m46 2h0m-82 1h0m50 3h0m14 1h0m-101 2h0m75 1h0m-129 2h0m6 3h0m134 2h0m37 1h0m-136 1h0m-27 2h0m-20 2h0m76 3h0m-5 1h0m82 2h0m-24 1h0m4 2h0m-115 3h0m-15 2h0m54 2h0m-54 1h0m-2 3h0m31 2h0m62 1h0m-27 2h0m0 2h0m59 2h0m36 1h0m-61 3h0m57 2h0m-73 2h0m60 0h0m-34 4h0m-100 1h0m2 1h0m106 2h0m-107 3h0m125 2h0m-41 2h0m-77 1h0m100 2h0m18 3h0m12 0h0m-126 3h0m142 2h0m-174 2h0m178 2h0m0 0h0m-143 4h0m42 0h0m60 3h0m-55 2h0m-70 1h0m17 2h0m36 2h0m124 2h0m-45 2h0m-13 1h0m-86 3h0m19 2h0m86 1h0m-139 3h0m97 2h0m-59 2h0m130 2h0m-29 1h0m8 2h0m-3 2h0m-33 1h0m-86 3h0m54 1h0m37 3h0m15 2h0m33 1h0m-78 3h0m-64 1h0m54 2h0m-28 3h0m-13 1h0m33 3h0m-71 1h0m121 2h0m-69 2h0m49 1h0m15 2h0m-10 3h0m23 0h0m25 4h0m-78 1h0m43 1h0m-120 2h0m82 2h0m8 2h0m90 2h0m-46 2h0m-133 2h0m39 1h0m83 2h0m-11 3h0m-75 1h0m-45 3h0m58 1h0m5 3h0m133 2h0m-169 1h0m74 2h0m-71 2h0m-18 2h0m-2 1h0m110 3h0m-10 2h0m37 2h0m-100 1h0m-17 3h0m135 2h0m-73 2h0m-8 1h0m0 2h0m34 2h0m-84 2h0m70 1h0m-106 3h0m184 2h0m-176 2h0m7 2h0m159 1h0m-80 2h0m41 3h0m35 1h0m-44 1h0m8 3h0m8 2h0m-120 3h0m142 2h0m-150 2h0m42 1h0m53 3h0m60 0h0m-88 4h0m98 1h0m-34 2h0m-70 1h0m-76 2h0m117 3h0m-77 2h0m95 1h0m34 2h0m-22 2h0m-73 1h0m-28 3h0m95 3h0m30 2h0m10 0h0m-165 3h0m3 1h0m6 3h0m13 1h0m15 2h0m132 2h0m-159 3h0m160 1h0m-132 2h0m26 3h0m83 2h0m-51 1h0m31 2h0m-55 2h0m84 3h0m8 2h0m-113 1h0m42 3h0m85 0h0m-107 3h0m111 2h0m-101 2h0m-76 1h0m-12 2h0m80 2h0m15 3h0m-77 2h0m142 3h0m-48 2h0m16 1h0m-125 2h0m9 1h0m117 2h0m20 2h0m-40 3h0m-68 1h0m108 2h0m-59 2h0m-73 2h0m63 3h0m61 1h0m-94 2h0m16 2h0m50 2h0m17 2h0m-45 2h0m-34 3h0m25 2h0m91 2h0m-170 2h0m190 1h0m-118 2h0m47 3h0m24 2h0m-90 1h0m43 3h0m-28 1h0m5 2h0m74 3h0m42 1h0m-49 1h0m-47 4h0m-18 1h0m98 2h0m-99 3h0m-47 2h0m-20 2h0m44 2h0m65 0h0m-3 4h0m77 1h0m-138 2h0m31 2h0m-22 3h0m29 2h0m90 2h0m3 1h0m-156 2h0m-26 3h0m105 1h0m-69 2h0m121 2h0m-158 3h0m192 1h0m-91 3h0m-81 2h0m58 1h0m19 2h0m18 2h0m-45 3h0m102 2h0m-154 2h0m99 1h0m-83 4h0m-36 2h0m112 2h0m36 2h0m32 2h0m-140 2h0m58 1h0m84 1h0m-158 3h0m-5 2h0m170 2h0m-173 2h0m125 2h0m26 2h0m-121 2h0m79 2h0m-75 3h0m-41 1h0m81 2h0m-78 2h0m68 3h0m-32 3h0m-20 1h0m15 2h0m153 2h0m-55 1h0m3 3h0m-117 3h0m157 1h0m-161 3h0m57 2h0m79 1h0m-25 2h0m-106 2h0m-8 2h0m127 4h0m19 2h0m1 0h0m-140 3h0m-13 3h0m126 1h0m12 3h0m-24 2h0m-28 1h0m15 2h0m-39 3h0m-47 3h0m92 0h0m-92 4h0m120 2h0m21 1h0m-68 3h0m-7 1h0m95 3h0m-52 2h0m-100 3h0m138 0h0m-127 4h0m-43 1h0m94 2h0m84 2h0m-128 2h0m12 2h0m-11 4h0m121 0h0m-55 2h0m20 3h0m-116 2h0m158 2h0m-39 2h0m13 3h0m-90 2h0m-11 3h0m60 2h0m-96 1h0m35 2h0m-47 2h0m170 2h0m-41 4h0m-135 1h0m77 3h0m9 2h0m-61 2h0m54 2h0m1 1h0m-46 4h0m76 1h0m-91 3h0m24 3h0m53 1h0m-79 2h0m33 2h0m-48 1h0m137 3h0m-25 2h0m-104 3h0m118 3h0m43 1h0m-146 3h0m48 2h0m71 1h0m-4 2h0m-78 2h0m15 2h0m48 3h0m10 2h0m-121 2h0m94 2h0m72 3h0m-13 2h0m-3 3h0m-40 1h0m55 2h0m-103 2h0m-65 3h0m97 3h0m-96 1h0m46 2h0m-33 4h0m71 2h0m79 2h0m-116 2h0m-50 3h0m109 2h0m-22 2h0m-56 2h0m28 2h0m74 3h0m-40 2h0m-22 1h0m-28 3h0m19 2h0m61 3h0m-8 2h0m41 1h0m-130 4h0m-27 3h0m153 0h0m-2 2h0m-9 2h0m-65 4h0m42 2h0m-17 3h0m-19 1h0m7 3h0m39 2h0m-81 2h0m81 3h0m-54 2h0m-73 3h0m50 1h0m117 4h0m11 1h0m-110 3h0m76 2h0m-35 1h0m24 2h0m-82 4h0m56 2h0m-27 2h0m94 2h0m-172 4h0m90 0h0m80 4h0m-185 2h0m101 2h0m-94 2h0m168 3h0"/>
<path vector-effect="non-scaling-stroke" id="u500b" d="M-18 0h0m-73 4h0m15 0h0m41 3h0m17 1h0m98 2h0m-110 1h0m62 2h0m-27 2h0m74 3h0m-93 2h0m47 1h0m36 2h0m-136 2h0m166 2h0m-18 2h0m-162 2h0m147 1h0m-31 2h0m-32 3h0m-84 1h0m39 2h0m7 1h0m-50 2h0m178 3h0m-22 1h0m-96 2h0m101 1h0m-127 2h0m52 3h0m42 2h0m48 1h0m-93 3h0m-31 2h0m84 1h0m23 2h0m-116 1h0m-30 3h0m125 1h0m7 2h0m-60 3h0m39 0h0m11 3h0m-41 1h0m-108 2h0m97 2h0m98 2h0m-189 3h0m23 0h0m3 4h0m24 1h0m139 2h0m-29 2h0m-42 2h0m52 1h0m-57 3h0m42 0h0m-53 4h0m9 0h0m25 2h0m-35 3h0m-86 1h0m-2 3h0m50 1h0m84 2h0m-86 1h0m89 3h0m28 2h0m-96 1h0m-47 2h0m75 1h0m-15 4h0m-21 1h0m-55 1h0m-15 3h0m55 1h0m100 3h0m-27 2h0m-27 2h0m-24 2h0m101 1h0m-108 1h0m51 2h0m-55 3h0m77 2h0m-85 2h0m74 0h0m9 3h0m13 1h0m-80 2h0m-1 2h0m60 2h0m56 3h0m-118 1h0m46 2h0m33 3h0m-126 1h0m149 1h0m-107 3h0m-21 2h0m32 2h0m99 2h0m-93 1h0m101 2h0m-115 1h0m80 2h0m-5 2h0m-29 3h0m-15 1h0m-29 1h0m3 2h0m-37 3h0m-16 2h0m166 1h0m-47 3h0m-31 1h0m2 2h0m-98 3h0m71 1h0m43 1h0m-136 2h0m104 2h0m10 3h0m51 1h0m-97 3h0m110 2h0m7 1h0m-48 2h0m4 2h0m-103 1h0m43 2h0m114 2h0m-42 3h0m-70 2h0m81 1h0m-113 1h0m12 3h0m38 1h0m-91 3h0m108 2h0m5 1h0m-42 1h0m39 3h0m64 3h0m-121 2h0m-12 2h0m139 0h0m-169 3h0m-11 2h0m65 2h0m-43 2h0m157 2h0m-162 1h0m67 2h0m-42 2h0m133 2h0m-164 1h0m46 3h0m-1 1h0m96 3h0m-24 1h0m-47 1h0m9 4h0m-11 1h0m-81 2h0m109 1h0m-24 3h0m-2 2h0m69 2h0m-21 1h0m57 2h0m-104 3h0m-42 1h0m22 1h0m118 3h0m-133 1h0m134 4h0m-159 1h0m81 2h0m-87 1h0m44 3h0m77 1h0m-61 3h0m-44 1h0m96 2h0m-66 3h0m93 1h0m-158 2h0m40 1h0m136 3h0m-58 2h0m-69 1h0m62 3h0m5 0h0m33 2h0m24 3h0m-172 2h0m139 3h0m-65 1h0m21 2h0m25 2h0m-117 1h0m42 2h0m123 2h0m-157 3h0m24 2h0m31 0h0m89 3h0m-96 2h0m25 1h0m-83 2h0m71 3h0m63 2h0m-16 1h0m32 3h0m-73 2h0m68 2h0m-39 2h0m38 1h0m-60 2h0m46 1h0m13 3h0m-110 2h0m41 1h0m-75 2h0m76 2h0m-66 3h0m61 1h0m-72 3h0m87 2h0m-53 1h0m112 2h0m-6 3h0m-138 2h0m-3 2h0m94 0h0m50 2h0m43 3h0m-57 3h0m-79 1h0m47 3h0m-62 2h0m135 1h0m-56 1h0m-4 3h0m-72 2h0m122 2h0m-56 1h0m67 3h0m-148 1h0m99 3h0m50 1h0m-9 2h0m-160 3h0m174 2h0m-32 2h0m1 2h0m5 0h0m-87 3h0m63 1h0m58 3h0m-180 3h0m155 0h0m-132 3h0m-24 2h0m121 2h0m-65 2h0m127 2h0m-127 2h0m113 2h0m-178 2h0m88 1h0m69 2h0m-15 3h0m-16 2h0m-61 1h0m93 2h0m-116 2h0m12 2h0m87 3h0m17 2h0m-120 1h0m111 3h0m-81 2h0m45 1h0m-111 3h0m117 2h0m-31 1h0m-43 3h0m-39 2h0m64 0h0m81 3h0m-119 2h0m109 3h0m-97 1h0m-13 3h0m43 0h0m-43 4h0m119 0h0m-44 3h0m-64 3h0m-3 2h0m-9 1h0m105 3h0m13 1h0m-57 2h0m32 1h0m-36 3h0m-48 2h0m93 3h0m-22 2h0m-85 2h0m-24 1h0m187 3h0m-165 1h0m95 2h0m-3 2h0m13 1h0m61 3h0m-136 3h0m129 1h0m-121 2h0m113 2h0m-49 3h0m-42 2h0m-47 2h0m134 2h0m-56 2h0m58 2h0m-166 1h0m178 2h0m-179 3h0m27 1h0m126 3h0m12 2h0m-63 2h0m66 2h0m-110 2h0m10 2h0m113 3h0m-134 2h0m112 1h0m-64 2h0m-92 2h0m170 2h0m-181 3h0m193 2h0m-145 1h0m9 2h0m-37 4h0m120 1h0m-2 2h0m-103 2h0m-12 1h0m12 2h0m27 4h0m-18 1h0m32 1h0m59 3h0m-26 3h0m47 0h0m-99 4h0m96 1h0m37 2h0m-167 3h0m-12 2h0m101 3h0m58 1h0m9 1h0m-93 3h0m-25 2h0m49 3h0m-54 1h0m94 2h0m16 2h0m-99 3h0m36 3h0m60 0h0m-163 4h0m108 0h0m-2 4h0m-52 2h0m36 0h0m-58 3h0m103 2h0m-64 2h0m-52 3h0m74 3h0m90 0h0m-15 3h0m-161 2h0m29 2h0m111 2h0m-80 3h0m100 1h0m-25 3h0m-51 2h0m-74 3h0m104 1h0m-55 3h0m-45 3h0m87 0h0m19 3h0m-65 2h0m127 1h0m-124 4h0m62 2h0m-72 1h0m59 2h0m-8 2h0m-72 3h0m145 2h0m-43 2h0m-83 3h0m4 2h0m78 2h0m43 2h0m-74 1h0m-33 4h0m106 2h0m-104 2h0m65 3h0m-123 1h0m47 2h0m135 3h0m-79 1h0m-76 2h0m149 3h0m-47 3h0m-92 1h0m104 2h0m-30 3h0m-76 2h0m62 1h0m-8 3h0m54 2h0m-96 3h0m96 2h0m24 2h0m-40 3h0m-100 2h0m56 1h0m8 2h0m-90 3h0m93 3h0m-68 1h0m17 2h0m-44 3h0m153 2h0m-135 3h0m25 1h0m23 3h0m6 1h0m39 3h0m-99 2h0m-9 2h0m115 2h0m-7 3h0m-71 2h0m104 3h0m-65 3h0m6 0h0m31 4h0m-115 1h0m97 3h0m-8 1h0m-72 3h0m19 4h0m103 0h0m-70 4h0m79 1h0m-134 2h0m-22 3h0m162 3h0m28 2h0m-136 2h0m19 1h0m11 3h0m32 2h0m-77 3h0m33 2h0m30 2h0m-65 1h0m90 4h0m16 1h0m42 4h0m-147 2h0m0 3h0m13 1h0m-58 3h0m141 1h0m-84 4h0m30 2h0m-18 2h0m-17 3h0m94 2h0m-44 3h0m51 1h0m-144 1h0m48 3h0"/>
<path vector-effect="non-scaling-stroke" id="u500c" d="M-52 2h0m96 2h0m51 1h0m-7 1h0m-134 2h0m76 3h0m-94 2h0m27 1h0m90 1h0m-130 2h0m72 3h0m40 1h0m51 3h0m-56 1h0m-85 2h0m121 2h0m-55 1h0m82 2h0m-2 2h0m-190 3h0m129 0h0m-28 3h0m28 2h0m-110 2h0m5 2h0m34 1h0m139 2h0m-48 1h0m0 3h0m45 1h0m-3 2h0m-191 3h0m109 2h0m-40 1h0m-39 2h0m127 1h0m-17 2h0m18 2h0m40 2h0m-133 3h0m18 0h0m82 2h0m27 4h0m-178 2h0m-1 1h0m-12 2h0m93 1h0m-88 2h0m91 3h0m54 0h0m-14 3h0m32 2h0m-67 2h0m-98 1h0m65 2h0m119 1h0m-160 3h0m35 1h0m-43 2h0m32 3h0m-25 2h0m115 2h0m-49 1h0m97 2h0m-86 3h0m32 0h0m-51 2h0m24 2h0m-36 2h0m-44 2h0m-24 2h0m14 2h0m179 1h0m-49 3h0m42 2h0m-70 1h0m38 2h0m-92 2h0m-3 3h0m19 1h0m13 1h0m-85 2h0m41 3h0m30 1h0m-38 3h0m32 2h0m70 1h0m19 2h0m-130 2h0m158 2h0m-100 2h0m-8 1h0m-45 2h0m-4 2h0m9 2h0m13 2h0m129 2h0m-46 2h0m-23 2h0m-85 2h0m104 2h0m-58 1h0m120 2h0m-102 2h0m57 3h0m9 0h0m18 2h0m9 2h0m-141 2h0m103 2h0m-132 1h0m105 4h0m31 1h0m-85 2h0m105 1h0m-106 1h0m-47 4h0m4 1h0m121 2h0m-91 2h0m-18 2h0m146 1h0m9 3h0m-173 1h0m97 3h0m-35 2h0m32 2h0m-56 1h0m81 1h0m41 3h0m-133 1h0m-12 2h0m0 2h0m145 3h0m-180 1h0m74 3h0m105 0h0m-73 2h0m27 3h0m62 2h0m-132 2h0m8 2h0m24 2h0m32 2h0m-77 1h0m142 1h0m6 2h0m-195 2h0m155 2h0m-24 2h0m57 2h0m-94 3h0m-13 2h0m111 0h0m-169 2h0m72 3h0m60 2h0m-118 2h0m1 1h0m70 2h0m-41 2h0m3 3h0m-10 1h0m83 2h0m-32 2h0m70 1h0m-172 3h0m119 1h0m33 2h0m-127 3h0m150 1h0m-139 1h0m73 3h0m36 2h0m7 1h0m-65 4h0m-43 1h0m27 2h0m-15 2h0m103 2h0m20 0h0m-49 3h0m-127 2h0m9 3h0m76 0h0m-58 3h0m142 1h0m-14 3h0m-171 3h0m134 0h0m-134 3h0m119 2h0m77 0h0m3 3h0m-121 1h0m32 2h0m15 3h0m-49 2h0m-53 1h0m173 2h0m-129 3h0m-53 2h0m134 2h0m26 1h0m-66 3h0m42 0h0m43 3h0m-21 3h0m-62 1h0m38 2h0m-3 2h0m-98 1h0m102 3h0m-131 1h0m108 3h0m-41 2h0m-22 2h0m133 1h0m-194 1h0m136 4h0m44 0h0m-149 2h0m134 2h0m-163 2h0m155 3h0m-111 1h0m43 3h0m-32 1h0m118 3h0m-125 2h0m27 2h0m72 1h0m-144 3h0m45 1h0m-7 3h0m33 1h0m101 1h0m-158 3h0m86 1h0m-34 3h0m16 1h0m-7 3h0m71 2h0m-22 2h0m-48 1h0m101 3h0m-110 2h0m56 2h0m35 2h0m20 2h0m-184 1h0m63 2h0m-10 2h0m84 2h0m-67 2h0m28 2h0m-97 3h0m45 1h0m-2 2h0m101 2h0m-67 2h0m50 1h0m-80 2h0m115 2h0m-24 3h0m-58 1h0m-76 3h0m40 1h0m17 4h0m51 0h0m71 2h0m-171 2h0m94 3h0m-47 1h0m13 2h0m-51 2h0m143 3h0m-84 2h0m-62 1h0m101 2h0m27 3h0m-80 1h0m119 3h0m-136 1h0m-24 2h0m-22 3h0m76 1h0m16 2h0m35 3h0m61 1h0m-105 1h0m37 3h0m-112 1h0m177 2h0m-126 3h0m-49 2h0m97 1h0m17 3h0m-115 3h0m43 1h0m4 1h0m-60 4h0m175 2h0m-57 1h0m-41 2h0m35 3h0m42 0h0m-143 4h0m120 2h0m16 1h0m47 2h0m-129 2h0m27 2h0m5 3h0m15 1h0m59 3h0m-112 1h0m95 2h0m-140 3h0m44 2h0m-1 1h0m35 2h0m48 3h0m-44 1h0m-98 2h0m60 4h0m10 0h0m-17 3h0m28 2h0m-76 2h0m114 3h0m-12 1h0m-8 2h0m-51 1h0m146 4h0m-52 1h0m50 3h0m2 1h0m-67 2h0m-20 3h0m-4 2h0m92 2h0m-17 1h0m-15 2h0m-67 2h0m23 2h0m20 2h0m-39 3h0m52 1h0m-31 3h0m-104 3h0m62 0h0m-16 4h0m58 1h0m-17 2h0m21 2h0m-28 3h0m-6 1h0m9 2h0m-87 2h0m-5 3h0m96 2h0m-82 1h0m27 3h0m34 2h0m3 2h0m-61 3h0m38 1h0m117 2h0m-92 2h0m7 2h0m46 2h0m33 2h0m-170 3h0m92 2h0m-60 2h0m62 3h0m19 1h0m2 2h0m3 1h0m68 4h0m-101 2h0m12 2h0m56 0h0m-65 4h0m-56 1h0m25 3h0m-57 1h0m-1 3h0m123 3h0m44 2h0m-73 2h0m-34 1h0m118 2h0m2 2h0m-180 3h0m139 2h0m-125 3h0m175 2h0m1 2h0m-150 1h0m-18 3h0m164 1h0m-46 3h0m-45 2h0m-9 2h0m109 2h0m-120 3h0m-43 2h0m89 1h0m-67 2h0m142 3h0m-43 3h0m13 2h0m15 1h0m-126 3h0m29 2h0m-13 1h0m-49 3h0m96 3h0m-116 2h0m117 1h0m50 3h0m-129 2h0m153 2h0m-187 3h0m103 2h0m6 3h0m22 1h0m-39 2h0m-31 3h0m-20 1h0m126 2h0m-85 2h0m-64 3h0m105 2h0m64 2h0m-170 4h0m140 0h0m2 2h0m-38 2h0m-6 4h0m33 1h0m-71 4h0m61 1h0m-102 1h0m55 3h0m95 3h0m-78 2h0m-66 2h0m-24 2h0m109 3h0m40 1h0m-41 3h0m8 2h0m-113 3h0m151 3h0m-52 2h0m-118 1h0m159 1h0m11 4h0m-180 3h0m3 0h0m74 2h0m74 4h0m-10 2h0m31 3h0m-45 1h0m-73 2h0m-30 3h0m-5 3h0m23 0h0m65 4h0m21 2h0m47 2h0m0 3h0m-9 2h0m27 2h0m-192 2h0m102 2h0m53 2h0m-119 4h0m146 0h0m-151 4h0m70 1h0m-79 2h0m39 4h0m112 3h0m-56 1h0m-6 2h0m27 2h0m58 3h0m-2 2h0m-193 4h0m157 2h0m-91 3h0m42 0h0m-83 3h0m151 3h0m-25 1h0"/>
<path vector-effect="non-scaling-stroke" id="u750a" d="M-38 0h0m63 2h0m36 1h0m-61 1h0m29 2h0m-66 1h0m-61 1h0m24 1h0m51 1h0m61 1h0m-85 3h0m105 0h0m-10 2h0m-67 1h0m74 0h0m-10 2h0m-135 2h0m175 1h0m-78 1h0m49 1h0m11 2h0m-65 1h0m-59 1h0m156 1h0m0 2h0m-53 1h0m-56 1h0m17 1h0m-56 1h0m90 2h0m46 1h0m-174 1h0m157 1h0m-15 1h0m-60 2h0m32 1h0m12 1h0m-44 2h0m10 0h0m-54 2h0m-24 2h0m150 0h0m-166 1h0m40 1h0m89 2h0m-42 1h0m71 2h0m-167 1h0m196 1h0m-64 1h0m-105 2h0m59 0h0m77 2h0m-61 1h0m19 2h0m42 1h0m21 2h0m2 0h0m-106 2h0m-79 1h0m154 1h0m-96 2h0m36 0h0m32 2h0m-47 1h0m-43 1h0m23 2h0m135 0h0m-141 2h0m-11 2h0m92 0h0m-65 1h0m106 2h0m-35 1h0m-50 1h0m-24 2h0m86 0h0m-52 3h0m89 0h0m-47 2h0m48 0h0m-159 3h0m157 0h0m-77 2h0m-56 1h0m-31 1h0m76 1h0m-88 2h0m-11 1h0m107 0h0m-94 3h0m57 1h0m13 1h0m65 1h0m-133 2h0m43 0h0m79 1h0m29 2h0m-7 1h0m-64 1h0m41 1h0m29 2h0m-143 1h0m124 2h0m44 0h0m-162 2h0m165 1h0m-135 1h0m-19 1h0m56 2h0m46 1h0m-111 1h0m-17 2h0m103 1h0m68 1h0m-181 2h0m107 0h0m-13 2h0m-37 1h0m-4 2h0m13 1h0m10 0h0m88 2h0m-111 1h0m33 1h0m-29 1h0m64 2h0m-48 1h0m91 2h0m-144 1h0m17 1h0m-24 1h0m117 2h0m62 1h0m-21 1h0m-150 1h0m169 1h0m-49 1h0m-64 2h0m-33 1h0m-28 2h0m28 0h0m149 2h0m-157 1h0m-41 2h0m162 0h0m-141 2h0m33 1h0m143 1h0m-182 2h0m54 2h0m21 0h0m97 1h0m-28 2h0m-158 1h0m99 2h0m56 0h0m-131 2h0m90 1h0m-56 1h0m73 1h0m-98 2h0m162 1h0m-68 2h0m26 0h0m-45 2h0m-50 1h0m-43 2h0m68 0h0m-45 2h0m62 1h0m43 2h0m39 0h0m-69 2h0m49 1h0m-95 1h0m-62 1h0m77 1h0m59 1h0m4 2h0m-46 1h0m84 2h0m-28 1h0m29 1h0m-130 1h0m29 2h0m-44 1h0m-30 1h0m121 1h0m-127 2h0m48 1h0m9 1h0m-6 1h0m97 2h0m28 1h0m-163 2h0m37 0h0m126 1h0m-123 2h0m21 1h0m-39 1h0m25 2h0m110 0h0m-81 3h0m39 1h0m-33 1h0m-11 1h0m-35 1h0m10 2h0m129 1h0m-139 2h0m86 0h0m-15 1h0m-104 2h0m151 1h0m-99 1h0m86 1h0m-16 2h0m-88 2h0m33 0h0m-78 1h0m71 2h0m-52 1h0m43 1h0m-23 2h0m129 0h0m-164 2h0m-1 2h0m79 0h0m-20 2h0m-54 2h0m91 1h0m33 1h0m-108 1h0m15 1h0m136 2h0m-130 1h0m38 1h0m93 2h0m-159 1h0m-4 1h0m-22 1h0m1 2h0m158 0h0m-89 2h0m-1 1h0m-50 2h0m76 1h0m16 1h0m44 1h0m39 1h0m-139 2h0m-6 1h0m8 1h0m104 2h0m-1 1h0m-105 1h0m15 1h0m24 1h0m-84 2h0m57 1h0m27 2h0m25 1h0m71 1h0m-92 1h0m50 1h0m-24 2h0m-4 2h0m-19 1h0m55 0h0m-59 1h0m-52 2h0m67 2h0m65 1h0m-116 1h0m125 1h0m-102 1h0m-60 2h0m21 2h0m29 0h0m46 2h0m67 1h0m-153 2h0m161 0h0m-172 1h0m125 2h0m-101 2h0m-22 1h0m105 1h0m44 1h0m-107 1h0m121 2h0m-121 1h0m-13 2h0m46 0h0m-5 2h0m-24 2h0m17 0h0m-71 2h0m171 0h0m-183 2h0m33 1h0m104 1h0m-87 2h0m8 1h0m87 1h0m-26 2h0m-54 2h0m-54 1h0m101 1h0m-53 1h0m100 1h0m27 1h0m-64 2h0m-62 1h0m-25 2h0m25 1h0m111 1h0m-97 2h0m101 0h0m-67 2h0m51 1h0m-104 1h0m105 1h0m-35 1h0m-46 2h0m42 2h0m-83 2h0m64 0h0m-88 2h0m127 1h0m-77 2h0m-4 1h0m92 0h0m-43 2h0m-28 1h0m77 2h0m-88 1h0m-23 1h0m-7 2h0m73 0h0m-3 2h0m-44 1h0m12 1h0m-63 2h0m151 1h0m-153 2h0m132 0h0m-107 2h0m-35 1h0m141 2h0m-60 1h0m-64 1h0m68 1h0m-9 2h0m74 2h0m3 1h0m19 0h0m-144 3h0m154 0h0m-149 2h0m92 0h0m41 2h0m-78 2h0m-53 1h0m-37 1h0m70 2h0m8 1h0m-85 1h0m28 1h0m18 1h0m72 2h0m-4 1h0m-41 1h0m-59 2h0m31 0h0m-13 2h0m34 1h0m-58 1h0m136 3h0m-140 1h0m176 1h0m12 1h0m-76 2h0m45 1h0m-131 1h0m72 2h0m-65 1h0m1 1h0m142 1h0m-136 2h0m144 0h0m-113 2h0m119 1h0m-155 2h0m57 2h0m2 0h0m-1 1h0m66 2h0m-105 1h0m0 2h0m141 2h0m-90 1h0m-16 1h0m38 1h0m-71 1h0m76 1h0m-42 1h0m-13 2h0m-6 2h0m102 0h0m5 2h0m-3 2h0m-165 1h0m158 1h0m-52 1h0m-22 1h0m-40 2h0m6 2h0m-34 1h0m124 1h0m-143 1h0m79 2h0m51 1h0m-111 1h0m62 1h0m88 2h0m-78 1h0m13 1h0m17 1h0m56 2h0m-145 2h0m26 0h0m90 3h0m-63 1h0m45 2h0m33 0h0m-80 2h0m78 1h0m-28 1h0m-87 2h0m72 2h0m37 0h0m-162 2h0m16 1h0m142 1h0m-21 2h0m38 2h0m4 1h0m-81 1h0m29 0h0m-68 2h0m118 2h0m-120 1h0m105 1h0m-48 2h0m-52 1h0m67 1h0m51 2h0m-24 1h0m-118 2h0m156 1h0m-141 1h0m-54 1h0m170 1h0m-81 2h0m-93 2h0m70 1h0m21 1h0m49 2h0m15 0h0m-12 2h0m-101 1h0m43 2h0m28 2h0m20 0h0m-98 2h0m-5 1h0m102 2h0m-99 1h0m-20 1h0m118 1h0m65 2h0m-104 2h0m-77 1h0m163 1h0m9 1h0m-164 2h0m82 1h0m-29 2h0m44 1h0m-77 1h0m135 2h0m-50 1h0m65 0h0m-66 3h0m27 0h0m-84 3h0m-38 1h0m67 0h0m94 2h0m-123 1h0m42 3h0m6 0h0m-65 2h0m73 1h0m-41 1h0m52 1h0m-16 2h0m-89 2h0m158 1h0m-45 1h0m-95 2h0m5 1h0m61 2h0m48 1h0m35 1h0m-9 2h0m-156 1h0m-13 1h0m141 2h0m-58 1h0m58 2h0m-65 1h0m-35 1h0m118 1h0m-176 2h0m124 1h0m35 2h0m-31 1h0m-38 1h0m-43 2h0m87 0h0m54 3h0m-123 1h0m71 1h0m-138 1h0m92 2h0m-92 1h0m4 2h0m83 1h0m40 1h0m1 1h0m2 2h0m-106 2h0m96 1h0m-106 1h0m38 1h0m-14 2h0m102 1h0m50 2h0m-151 2h0m-14 1h0m17 0h0m-8 3h0m39 1h0m84 2h0m-152 1h0m96 1h0m-17 1h0m-54 2h0m43 1h0m9 2h0m-3 2h0m-60 1h0m14 1h0m6 2h0m135 0h0m-51 3h0m42 0h0m-55 1h0m-86 2h0m169 2h0m-104 1h0m-14 2h0m13 0h0m-79 3h0m69 0h0m-24 3h0m94 0h0m29 2h0m16 1h0m-185 2h0m133 1h0m22 2h0m22 1h0m-59 1h0m-116 2h0m33 1h0m87 2h0m-67 2h0m78 0h0m9 2h0m-33 1h0m-42 2h0m10 0h0m-1 2h0m20 2h0m-70 2h0m44 1h0m-50 1h0m0 2h0m146 1h0m-153 1h0m81 2h0m49 1h0m-142 2h0m6 1h0m6 2h0m-23 1h0m89 2h0m13 1h0m90 1h0m-45 2h0m-56 2h0m31 0h0m52 2h0m-79 1h0m80 2h0m-156 1h0m102 1h0m31 3h0m29 0h0m-51 2h0m-47 1h0m-31 2h0m130 2h0m-133 1h0m-36 1h0m123 2h0m39 1h0m-3 2h0m-50 1h0m65 1h0m-130 2h0m11 2h0m28 0h0m52 2h0m4 2h0m-36 1h0m54 1h0m-24 1h0m43 3h0m-10 1h0m-16 2h0m-120 1h0m-17 1h0m134 1h0m-89 3h0m-68 1h0m48 1h0m63 1h0m79 2h0m-22 2h0m-145 2h0m173 0h0m-187 2h0m139 2h0m-121 2h0m165 0h0m-22 1h0m-163 3h0m101 1h0m69 2h0m-116 1h0m-3 2h0m9 1h0m33 1h0m91 2h0m-100 1h0m104 1h0m-163 2h0m-33 1h0m108 2h0m66 1h0m-122 1h0m-8 3h0m87 2h0m46 0h0m-47 2h0m22 1h0m-37 2h0m51 2h0m-158 1h0m26 1h0m-23 1h0m84 2h0m-95 2h0m97 2h0m64 1h0m0 2h0m4 1h0m-132 1h0m90 2h0m-66 1h0m-11 2h0m138 1h0m-180 2h0m142 1h0m31 2h0m-28 2h0m46 1h0m-134 1h0m129 1h0m-168 2h0m141 2h0m-96 1h0m-39 2h0m42 1h0m-10 2h0m-24 2h0m153 1h0m1 1h0m-93 1h0m-26 3h0m-22 1h0m77 1h0m1 2h0m-111 2h0m76 1h0m-76 1h0m1 2h0m9 1h0m-11 1h0m127 3h0m-50 1h0m-71 2h0m156 2h0m-31 2h0m20 1h0m-95 1h0m121 1h0m-66 3h0m2 0h0m-50 1h0m-41 2h0m-33 2h0m23 1h0m169 2h0m-107 2h0m-58 2h0m38 1h0m123 2h0m3 1h0m-34 2h0m-25 2h0m-49 1h0m-59 2h0m112 1h0m-140 1h0"/>
<path vector-effect="non-scaling-stroke" id="u750b" d="M63 0h0m-1 2h0m-134 1h0m105 1h0m-64 2h0m28 0h0m71 2h0m-28 1h0m-97 1h0m-22 2h0m173 0h0m0 2h0m-14 1h0m-179 1h0m183 1h0m-109 3h0m0 1h0m70 0h0m47 1h0m-126 2h0m17 2h0m79 1h0m28 0h0m-76 2h0m40 1h0m-118 2h0m-5 1h0m79 2h0m39 0h0m-105 1h0m141 2h0m-96 1h0m-42 1h0m151 1h0m-170 2h0m133 1h0m-135 2h0m19 0h0m148 2h0m-91 1h0m49 1h0m-118 1h0m144 2h0m-140 2h0m144 0h0m-69 1h0m-99 2h0m30 1h0m55 1h0m49 1h0m-116 2h0m112 0h0m11 2h0m36 2h0m-146 1h0m134 1h0m-165 2h0m78 1h0m41 1h0m-65 1h0m-30 1h0m47 1h0m90 1h0m-147 2h0m101 1h0m-19 1h0m-59 2h0m81 0h0m-76 2h0m45 1h0m23 1h0m37 1h0m7 2h0m-149 2h0m41 0h0m-53 2h0m80 1h0m-62 2h0m134 0h0m-9 1h0m-23 2h0m-71 1h0m-17 1h0m28 2h0m102 0h0m-83 3h0m-42 1h0m117 1h0m-118 1h0m30 1h0m-38 2h0m65 0h0m-31 2h0m125 1h0m-59 1h0m-55 1h0m-51 1h0m22 2h0m-37 1h0m52 2h0m43 0h0m-81 2h0m69 1h0m-76 2h0m111 0h0m-126 2h0m41 1h0m146 1h0m-82 1h0m-107 2h0m65 1h0m127 1h0m-8 2h0m-111 1h0m35 1h0m-61 2h0m3 0h0m37 1h0m90 2h0m-81 1h0m49 1h0m-1 2h0m4 1h0m-24 2h0m5 0h0m-50 2h0m15 1h0m72 1h0m10 2h0m-156 1h0m106 1h0m-50 2h0m98 0h0m-41 2h0m-65 1h0m43 1h0m-27 1h0m108 2h0m-172 1h0m-20 1h0m42 1h0m-43 2h0m61 1h0m-29 2h0m30 0h0m54 1h0m8 3h0m36 0h0m-96 1h0m-10 2h0m19 1h0m100 1h0m21 1h0m-30 2h0m-153 1h0m152 1h0m-85 1h0m72 2h0m37 0h0m-49 2h0m50 1h0m-16 1h0m26 2h0m-79 1h0m44 2h0m-59 1h0m-70 1h0m151 2h0m-161 1h0m133 1h0m-104 2h0m42 0h0m93 1h0m-113 2h0m109 1h0m-139 1h0m34 2h0m11 0h0m74 2h0m-110 1h0m54 1h0m-95 2h0m-4 1h0m40 1h0m-29 1h0m72 2h0m-12 1h0m52 1h0m-61 1h0m-7 1h0m51 2h0m54 1h0m12 2h0m-127 1h0m92 1h0m-64 1h0m-7 1h0m-47 1h0m134 1h0m-107 2h0m16 1h0m51 2h0m-22 1h0m-17 2h0m11 0h0m45 1h0m-126 2h0m129 1h0m-134 1h0m168 1h0m-146 3h0m36 0h0m130 2h0m-42 1h0m-125 2h0m72 0h0m18 2h0m-74 2h0m109 1h0m37 1h0m-52 1h0m18 1h0m2 1h0m-120 1h0m93 2h0m41 1h0m-136 1h0m122 2h0m-131 1h0m16 2h0m59 1h0m-74 1h0m149 1h0m-111 1h0m16 1h0m68 2h0m-104 1h0m-18 1h0m115 1h0m-98 2h0m-22 1h0m83 1h0m28 2h0m-93 1h0m145 1h0m-185 2h0m141 0h0m39 2h0m-46 1h0m-67 1h0m-21 1h0m73 2h0m55 1h0m-171 2h0m74 1h0m42 1h0m54 1h0m-141 2h0m56 1h0m-27 1h0m58 1h0m34 2h0m19 1h0m21 1h0m-159 1h0m103 1h0m2 2h0m46 1h0m-8 1h0m-9 2h0m-34 1h0m-126 1h0m-1 2h0m161 1h0m12 0h0m-63 2h0m13 2h0m-116 1h0m162 1h0m-166 1h0m125 2h0m7 1h0m44 1h0m-167 2h0m32 0h0m59 2h0m-27 1h0m-17 1h0m-65 2h0m34 1h0m-8 2h0m90 0h0m-58 2h0m35 2h0m-30 1h0m92 1h0m-102 1h0m-43 1h0m6 1h0m132 2h0m-79 1h0m42 2h0m-103 1h0m157 1h0m-71 1h0m-7 2h0m-15 1h0m1 1h0m-23 1h0m-36 1h0m84 2h0m82 2h0m-60 1h0m-103 1h0m65 1h0m4 1h0m-85 2h0m163 1h0m-109 1h0m68 2h0m-26 1h0m-27 2h0m60 0h0m40 2h0m-121 1h0m-41 1h0m-8 1h0m18 1h0m9 3h0m125 1h0m5 0h0m-19 2h0m-71 1h0m-2 2h0m5 0h0m-7 2h0m10 1h0m104 2h0m-17 1h0m-150 1h0m-1 2h0m12 1h0m41 1h0m9 2h0m90 1h0m-131 2h0m67 0h0m-97 2h0m12 0h0m95 2h0m-110 1h0m111 2h0m60 1h0m-138 1h0m23 2h0m139 1h0m-115 1h0m112 2h0m-172 2h0m33 0h0m-2 1h0m31 1h0m-53 2h0m68 2h0m-83 1h0m80 1h0m-65 2h0m77 1h0m-69 2h0m109 0h0m-24 1h0m-62 2h0m-37 1h0m75 1h0m-56 2h0m31 1h0m106 1h0m-141 2h0m54 0h0m87 2h0m-108 2h0m65 1h0m-134 1h0m141 1h0m-3 2h0m-79 1h0m127 1h0m-82 2h0m76 0h0m-135 3h0m98 0h0m-3 2h0m-108 1h0m156 1h0m-140 2h0m-16 1h0m22 1h0m58 1h0m54 2h0m-90 1h0m-51 2h0m99 0h0m-35 3h0m36 0h0m-47 2h0m-25 2h0m120 0h0m-115 2h0m91 1h0m-10 2h0m48 1h0m-137 1h0m98 2h0m-132 1h0m143 1h0m-25 1h0m-26 2h0m41 1h0m26 1h0m-148 2h0m102 1h0m-98 2h0m41 0h0m-30 2h0m-28 1h0m124 2h0m-50 2h0m23 0h0m-17 2h0m21 1h0m73 1h0m-28 2h0m0 2h0m25 0h0m-98 2h0m-71 1h0m70 2h0m34 1h0m-89 1h0m126 1h0m-150 1h0m43 2h0m-22 2h0m64 0h0m-64 2h0m67 1h0m-56 2h0m56 1h0m-80 1h0m137 1h0m-53 2h0m-47 2h0m33 0h0m-9 1h0m-62 3h0m136 0h0m-82 2h0m-14 1h0m83 2h0m25 0h0m-165 3h0m161 1h0m-73 1h0m-15 1h0m-42 1h0m-4 2h0m82 1h0m89 1h0m-62 2h0m-72 1h0m53 2h0m71 1h0m-133 2h0m-13 1h0m144 1h0m-82 1h0m-77 2h0m148 1h0m-48 1h0m7 2h0m16 2h0m40 1h0m-11 1h0m-124 1h0m5 1h0m39 1h0m29 2h0m-45 1h0m79 1h0m-5 2h0m20 2h0m20 1h0m-80 1h0m78 2h0m-57 1h0m-129 1h0m-2 2h0m29 2h0m77 0h0m-104 1h0m158 2h0m-2 2h0m-147 1h0m174 1h0m-53 2h0m-58 1h0m50 1h0m-95 2h0m-15 1h0m12 2h0m109 1h0m4 1h0m-117 2h0m148 1h0m-130 1h0m27 2h0m78 1h0m7 2h0m10 1h0m-101 2h0m53 0h0m1 1h0m-54 3h0m100 1h0m-138 1h0m164 1h0m-14 2h0m-102 1h0m-24 2h0m72 1h0m69 1h0m-77 1h0m-76 2h0m-26 2h0m108 1h0m-27 1h0m-77 2h0m52 1h0m-21 2h0m102 0h0m-127 2h0m22 1h0m142 2h0m-184 2h0m103 0h0m-100 2h0m175 1h0m-13 1h0m-165 2h0m160 1h0m-68 2h0m-44 1h0m69 2h0m70 1h0m-110 1h0m-73 2h0m171 1h0m-66 2h0m4 0h0m52 3h0m-80 1h0m-31 1h0m44 2h0m-5 1h0m55 1h0m7 2h0m-94 2h0m6 0h0m4 3h0m32 0h0m-23 1h0m-49 2h0m-17 2h0m45 0h0m-18 2h0m151 2h0m-5 2h0m-8 1h0m-129 1h0m34 1h0m32 3h0m49 0h0m-141 1h0m-27 3h0m7 0h0m164 2h0m21 2h0m-109 1h0m-18 2h0m90 0h0m-75 3h0m105 0h0m-87 1h0m33 3h0m-15 1h0m19 2h0m46 0h0m-147 2h0m90 2h0m68 0h0m-46 3h0m4 0h0m-152 2h0m9 1h0m126 2h0m-96 2h0m0 1h0m-30 1h0m-6 2h0m8 0h0m-9 2h0m14 2h0m46 2h0m119 1h0m-34 1h0m-66 2h0m-62 2h0m4 0h0m72 2h0m-1 1h0m72 1h0m-92 3h0m37 1h0m-75 1h0m51 2h0m96 1h0m-2 2h0m-97 1h0m30 2h0m71 1h0m-1 2h0m-77 1h0m-84 1h0m150 1h0m-156 2h0m14 2h0m7 0h0m17 3h0m23 0h0m-50 2h0m99 2h0m23 2h0m21 1h0m1 0h0m-144 2h0m31 1h0m116 2h0m-138 1h0m-34 2h0m2 1h0m137 2h0m42 2h0m-20 1h0m14 2h0m-176 1h0m118 2h0m26 1h0m-67 1h0m-16 1h0m-28 3h0m75 1h0m45 1h0m-153 2h0m99 2h0m80 1h0m-127 2h0m-36 1h0m-15 1h0m48 2h0m68 0h0m-92 2h0m40 2h0m-22 1h0m38 3h0m114 0h0m-168 1h0m-31 3h0m37 1h0m68 2h0m64 1h0m-65 2h0m10 0h0m53 2h0m-133 2h0m-17 2h0m167 1h0m-141 1h0m2 2h0m-22 1h0m-2 3h0m62 0h0m-41 1h0m44 3h0m53 1h0m32 2h0m-122 1h0m105 2h0m13 0h0m-104 2h0m1 2h0m79 2h0m-37 1h0m58 1h0m-81 2h0m-81 2h0m67 0h0m80 2h0m-123 1h0m74 3h0m41 0h0m-98 3h0m117 1h0m-24 2h0m2 2h0m54 0h0m-71 2h0m68 2h0m-100 1h0m-5 2h0m20 1h0m-102 1h0m104 2h0m-42 2h0m53 1h0m-25 2h0m-24 1h0m9 1h0m-58 3h0m135 0h0m27 3h0m-67 1h0m-9 2h0m-81 1h0m23 2h0m65 0h0m-71 3h0m118 2h0m-137 1h0m154 1h0m3 1h0m-59 2h0m-49 2h0m-65 1h0m54 2h0m85 1h0m-102 1h0m83 3h0m-81 2h0m153 0h0m-71 3h0"/>
<path vector-effect="non-scaling-stroke" id="u750c" d="M-88 1h0m148 0h0m-45 2h0m-69 1h0m-40 2h0m102 1h0m-41 2h0m53 0h0m55 2h0m-153 1h0m14 0h0m5 3h0m4 0h0m-44 1h0m30 2h0m165 1h0m-150 2h0m80 0h0m49 1h0m13 2h0m-40 2h0m-10 1h0m52 1h0m-165 2h0m142 0h0m-68 2h0m-81 1h0m18 1h0m-5 1h0m92 1h0m74 2h0m-110 1h0m55 1h0m-62 2h0m114 1h0m-49 1h0m-74 2h0m-4 1h0m92 1h0m-155 2h0m144 0h0m2 2h0m-72 1h0m17 0h0m-24 3h0m26 1h0m45 0h0m-97 2h0m19 1h0m-34 1h0m12 2h0m118 1h0m-41 1h0m72 1h0m-165 2h0m172 1h0m-169 1h0m105 2h0m52 1h0m-179 1h0m6 0h0m0 3h0m162 0h0m-55 2h0m-95 1h0m92 1h0m-65 1h0m13 2h0m90 1h0m-97 2h0m-49 1h0m181 1h0m-1 1h0m-81 1h0m80 1h0m-78 1h0m0 2h0m52 0h0m-156 3h0m63 1h0m51 1h0m3 1h0m-4 1h0m-84 2h0m51 0h0m-54 1h0m113 2h0m-55 2h0m33 0h0m32 2h0m-46 1h0m-101 1h0m16 2h0m10 1h0m77 1h0m-97 1h0m122 2h0m-135 2h0m146 0h0m-136 1h0m160 1h0m-70 2h0m42 2h0m16 0h0m-145 1h0m53 2h0m-10 1h0m42 1h0m-89 2h0m-6 1h0m158 1h0m-159 2h0m109 0h0m-75 2h0m34 1h0m65 2h0m5 1h0m33 0h0m-118 3h0m46 0h0m-21 2h0m49 0h0m-103 2h0m152 1h0m-121 1h0m62 2h0m-72 1h0m0 2h0m127 1h0m23 0h0m-69 2h0m-19 2h0m-94 1h0m97 0h0m-81 3h0m16 0h0m96 1h0m-71 2h0m-3 1h0m-67 1h0m99 1h0m-81 1h0m15 2h0m37 1h0m55 1h0m68 2h0m-188 1h0m70 1h0m28 1h0m-6 1h0m67 2h0m-141 1h0m-1 1h0m24 2h0m45 1h0m-60 1h0m123 1h0m15 1h0m-99 2h0m51 1h0m-89 1h0m78 2h0m56 0h0m-2 3h0m-39 1h0m-37 1h0m-71 1h0m126 1h0m-120 2h0m-20 1h0m95 1h0m59 1h0m-50 2h0m-58 1h0m18 1h0m2 1h0m49 2h0m29 1h0m-80 1h0m-59 1h0m-10 2h0m83 0h0m99 3h0m-48 1h0m-104 1h0m117 1h0m-127 2h0m64 0h0m22 1h0m74 1h0m-52 2h0m-91 1h0m99 1h0m-27 2h0m68 1h0m17 1h0m-191 1h0m83 2h0m73 1h0m-84 1h0m57 1h0m-91 1h0m156 2h0m-151 2h0m6 0h0m-27 2h0m-5 1h0m18 1h0m76 1h0m-85 2h0m-24 2h0m108 1h0m-102 1h0m2 1h0m67 1h0m116 1h0m-118 1h0m-2 2h0m-64 1h0m0 1h0m146 1h0m-87 2h0m-60 1h0m99 2h0m17 0h0m55 2h0m-106 2h0m87 0h0m14 2h0m-134 1h0m88 1h0m0 2h0m-100 1h0m64 1h0m75 2h0m20 1h0m-17 1h0m-158 2h0m24 0h0m116 1h0m-60 2h0m-7 1h0m-2 1h0m101 2h0m-153 1h0m48 2h0m-4 1h0m53 0h0m-18 3h0m49 0h0m-79 2h0m-33 1h0m8 1h0m47 1h0m4 2h0m51 1h0m15 2h0m-3 1h0m-20 1h0m-119 2h0m28 1h0m64 0h0m-61 2h0m83 2h0m21 0h0m-39 1h0m-83 1h0m45 3h0m69 1h0m29 0h0m-126 3h0m68 0h0m-79 1h0m145 1h0m-118 3h0m90 0h0m-120 2h0m-23 1h0m17 1h0m-36 1h0m184 2h0m-81 1h0m1 1h0m-106 2h0m171 0h0m-12 2h0m-62 1h0m69 1h0m-18 2h0m-112 1h0m99 2h0m-60 1h0m14 1h0m34 2h0m-8 1h0m2 0h0m-108 2h0m33 1h0m41 2h0m25 0h0m85 2h0m-185 2h0m161 0h0m-61 2h0m1 1h0m65 1h0m-83 1h0m30 2h0m39 1h0m30 1h0m-103 2h0m-74 2h0m72 1h0m-26 1h0m11 1h0m-17 1h0m83 2h0m22 1h0m-103 2h0m51 1h0m24 1h0m55 1h0m-133 1h0m113 2h0m-94 1h0m79 1h0m-144 1h0m168 2h0m-17 1h0m-102 2h0m-43 1h0m177 1h0m-16 1h0m3 2h0m-146 1h0m-31 1h0m82 2h0m61 1h0m-67 1h0m-61 1h0m180 2h0m-2 1h0m-196 1h0m83 1h0m96 2h0m-8 2h0m25 1h0m-159 1h0m65 0h0m71 2h0m-54 1h0m3 1h0m-40 2h0m67 2h0m45 0h0m-181 1h0m55 3h0m32 1h0m86 1h0m-119 1h0m28 1h0m-63 2h0m120 1h0m-92 1h0m63 2h0m-94 1h0m169 1h0m-153 2h0m-22 1h0m21 1h0m58 1h0m86 2h0m-31 1h0m-98 2h0m136 0h0m-168 3h0m161 0h0m-153 2h0m33 1h0m61 1h0m-4 1h0m72 2h0m-157 1h0m-40 2h0m79 1h0m85 1h0m7 1h0m-29 2h0m-123 1h0m-16 1h0m101 2h0m-84 1h0m111 1h0m-27 2h0m30 2h0m41 1h0m-105 1h0m100 0h0m-90 2h0m73 1h0m-81 1h0m-68 2h0m176 1h0m-170 2h0m173 1h0m-183 1h0m5 2h0m8 1h0m4 1h0m147 1h0m1 2h0m-56 1h0m-66 1h0m136 2h0m-53 2h0m-15 1h0m16 1h0m-24 1h0m67 1h0m-107 2h0m33 1h0m-54 2h0m29 1h0m104 1h0m-36 1h0m40 1h0m-58 2h0m-13 1h0m-87 2h0m96 0h0m-69 2h0m-47 1h0m105 2h0m80 1h0m-25 2h0m-126 1h0m85 1h0m-29 2h0m13 2h0m25 0h0m-32 1h0m73 1h0m-160 2h0m-9 1h0m5 2h0m182 1h0m-67 2h0m-20 1h0m41 1h0m-135 1h0m27 1h0m40 3h0m33 0h0m82 2h0m-175 2h0m105 1h0m48 0h0m-97 2h0m53 1h0m29 2h0m-109 2h0m114 1h0m-149 1h0m33 1h0m92 2h0m-57 2h0m66 0h0m-110 1h0m81 3h0m-86 1h0m53 0h0m68 2h0m-140 2h0m110 0h0m-18 2h0m44 2h0m-118 1h0m15 1h0m157 1h0m-148 3h0m60 0h0m-34 2h0m93 1h0m-30 1h0m-3 2h0m61 1h0m-185 1h0m75 2h0m33 1h0m-107 2h0m32 1h0m77 2h0m-88 1h0m38 1h0m-9 1h0m126 1h0m-57 2h0m-35 2h0m28 0h0m59 1h0m-37 3h0m-38 1h0m-108 1h0m86 2h0m-41 1h0m145 1h0m-101 2h0m57 0h0m-89 2h0m15 2h0m89 0h0m-40 2h0m-98 1h0m150 2h0m0 2h0m5 1h0m-100 2h0m98 1h0m-113 1h0m123 1h0m-18 1h0m-116 2h0m74 1h0m-57 1h0m21 1h0m-15 3h0m30 1h0m-24 1h0m-13 1h0m78 2h0m-77 1h0m10 1h0m-79 2h0m153 1h0m-71 2h0m-8 1h0m29 1h0m72 1h0m-152 3h0m116 0h0m29 2h0m-34 1h0m-66 2h0m108 1h0m-21 2h0m-151 1h0m110 2h0m74 1h0m-108 1h0m66 2h0m-81 1h0m74 1h0m-57 2h0m52 1h0m-105 2h0m133 0h0m-41 2h0m-9 2h0m-106 1h0m2 1h0m-9 3h0m109 0h0m-30 1h0m-22 2h0m65 1h0m61 2h0m-53 1h0m2 1h0m-2 1h0m47 2h0m-28 3h0m6 0h0m-93 2h0m60 1h0m23 2h0m14 0h0m-105 2h0m72 1h0m-35 2h0m-57 1h0m96 3h0m24 0h0m-42 2h0m5 1h0m-92 1h0m42 2h0m77 2h0m-103 1h0m81 1h0m-8 2h0m-98 1h0m172 1h0m-95 2h0m102 1h0m-104 1h0m-65 2h0m11 1h0m153 2h0m-153 2h0m80 0h0m77 3h0m-138 1h0m109 1h0m-97 2h0m54 0h0m44 3h0m25 1h0m-13 1h0m17 1h0m-163 3h0m70 1h0m18 0h0m52 3h0m-31 1h0m-35 1h0m-62 2h0m-27 1h0m29 2h0m84 0h0m-127 3h0m148 0h0m3 2h0m4 2h0m14 2h0m11 0h0m-1 2h0m-14 1h0m-92 2h0m94 1h0m-171 2h0m24 1h0m118 1h0m-102 2h0m35 2h0m-27 1h0m129 2h0m-132 1h0m17 1h0m2 2h0m122 1h0m-137 2h0m7 2h0m-19 1h0m69 0h0m-104 2h0m180 2h0m-3 1h0m-174 2h0m80 1h0m65 2h0m-141 2h0m69 1h0m-14 2h0m22 1h0m-20 1h0m19 1h0m47 2h0m-61 2h0m97 0h0m-24 3h0m-106 1h0m24 1h0m45 2h0m25 2h0m-59 1h0m-5 1h0m-14 2h0m107 0h0m-61 3h0m-77 2h0m171 0h0m-28 3h0m-11 1h0m14 2h0m-43 1h0m-89 1h0m147 1h0m-103 3h0m110 0h0m-56 1h0m5 2h0m-82 1h0m81 3h0m26 0h0m-31 3h0m47 0h0m-75 2h0m-62 2h0m105 1h0m7 2h0m-21 2h0m49 0h0m-51 2h0m51 2h0m-23 2h0m-70 1h0m100 1h0m-102 1h0m68 2h0m-84 2h0m98 1h0m-59 2h0m-43 1h0m57 2h0m-7 2h0m-87 1h0m25 1h0m129 2h0m-21 2h0m-43 1h0m-117 2h0m81 1h0m-25 2h0m12 0h0m4 3h0m-61 2h0m48 1h0m120 1h0m-35 1h0m-121 2h0m165 2h0m-46 1h0m-143 2h0m100 0h0m-63 3h0m102 2h0m-90 1h0m93 1h0m-130 2h0m-2 2h0m66 1h0m-80 2h0m0 1h0m111 1h0m-16 2h0m86 1h0m3 2h0m-36 2h0m-35 1h0m80 1h0m-15 2h0m-131 3h0m140 0h0m-45 3h0m49 1h0m-11 1h0m-144 2h0m134 1h0m-50 1h0m40 3h0"/>
<path vector-effect="non-scaling-stroke" id="t12a" d="M89 31h0m-43 12h0m-145 60h0m82 21h0m76 39h0m-19 38h0m-99 58h0m119 83h0m-112 2h0m119 94h0m-39 181h0m-127 295h0"/>
<path vector-effect="non-scaling-stroke" id="t12b" d="M45 7h0m-16 30h0m-37 58h0m40 33h0m-47 30h0m85 48h0m-59 41h0m-53 41h0m123 90h0m1 50h0m-97 150h0m101 94h0"/>
<path vector-effect="non-scaling-stroke" id="t12c" d="M-95 20h0m58 37h0m-7 17h0m25 46h0m-58 50h0m151 47h0m-152 50h0m45 51h0m-14 73h0m56 71h0m-55 87h0m51 316h0"/>
<path vector-effect="non-scaling-stroke" id="t20a" d="M-47 14h0m113 11h0m-33 31h0m-95 14h0m132 22h0m-150 23h0m40 12h0m17 46h0m-34 16h0m83 40h0m-24 18h0m-23 21h0m-76 58h0m40 24h0m81 25h0m-80 46h0m15 70h0m-4 109h0m-23 34h0m13 124h0"/>
<path vector-effect="non-scaling-stroke" id="t20b" d="M5 6h0m-19 28h0m5 7h0m95 35h0m-142 26h0m24 6h0m122 35h0m-33 10h0m-53 23h0m-69 48h0m152 17h0m-141 38h0m104 35h0m-130 34h0m159 57h0m-40 55h0m41 33h0m13 36h0m-72 130h0m37 128h0"/>
<path vector-effect="non-scaling-stroke" id="t20c" d="M-75 7h0m48 23h0m65 27h0m-50 18h0m100 21h0m-6 29h0m-146 10h0m124 22h0m-21 42h0m-25 16h0m-60 21h0m87 54h0m-90 15h0m48 28h0m-48 77h0m99 40h0m-128 46h0m157 111h0m-44 50h0m7 182h0"/>
<path vector-effect="non-scaling-stroke" id="t30a" d="M22 2h0m-118 18h0m84 14h0m-28 5h0m-56 26h0m143 7h0m-114 20h0m138 4h0m-8 17h0m-36 16h0m71 28h0m-167 4h0m131 24h0m-4 10h0m-38 22h0m0 28h0m22 9h0m-131 39h0m81 16h0m-34 21h0m60 14h0m-97 35h0m34 21h0m2 37h0m119 54h0m-164 36h0m125 29h0m-108 103h0m-7 30h0m114 100h0"/>
<path vector-effect="non-scaling-stroke" id="t30b" d="M-78 12h0m115 3h0m-102 17h0m124 10h0m-148 21h0m13 14h0m-4 12h0m148 10h0m-68 20h0m-30 10h0m18 23h0m29 12h0m-20 14h0m55 29h0m-4 15h0m-74 16h0m-48 22h0m159 14h0m-11 39h0m-83 30h0m4 14h0m-79 17h0m6 44h0m108 41h0m-31 32h0m-54 55h0m60 26h0m-87 88h0m66 53h0m50 234h0"/>
<path vector-effect="non-scaling-stroke" id="t30c" d="M37 3h0m31 12h0m-37 15h0m-7 22h0m-92 14h0m76 6h0m90 21h0m-14 17h0m-1 5h0m8 14h0m-115 20h0m54 22h0m-78 10h0m141 15h0m-168 29h0m140 9h0m-98 22h0m33 34h0m41 15h0m18 34h0m-36 11h0m-72 26h0m93 27h0m-95 41h0m24 50h0m111 48h0m14 67h0m-8 12h0m3 83h0m-123 159h0"/>
<path vector-effect="non-scaling-stroke" id="t45a" d="M57 1h0m-3 15h0m-50 3h0m-71 16h0m35 6h0m36 8h0m-103 5h0m38 8h0m78 14h0m-113 12h0m111 5h0m16 13h0m-61 14h0m-57 9h0m156 8h0m7 9h0m-60 18h0m-105 7h0m67 14h0m-18 7h0m3 16h0m25 15h0m-21 5h0m-31 11h0m54 23h0m-67 11h0m81 12h0m39 24h0m-26 1h0m-81 16h0m61 17h0m95 29h0m-172 10h0m-1 32h0m130 15h0m25 31h0m-144 19h0m57 18h0m86 25h0m-56 58h0m40 29h0m-25 34h0m-31 66h0m71 58h0m-69 124h0"/>
<path vector-effect="non-scaling-stroke" id="t45b" d="M40 1h0m-124 8h0m116 15h0m66 2h0m-143 10h0m26 11h0m71 8h0m-52 17h0m-48 3h0m58 11h0m87 9h0m-19 16h0m-95 10h0m-41 7h0m-14 12h0m98 13h0m-61 2h0m47 14h0m-72 16h0m4 6h0m21 13h0m-20 13h0m5 19h0m83 5h0m41 21h0m-151 11h0m-20 11h0m159 11h0m-144 19h0m20 15h0m7 26h0m147 22h0m-40 4h0m-29 30h0m-103 15h0m-19 19h0m194 42h0m-156 22h0m-29 21h0m87 42h0m-8 23h0m0 65h0m49 23h0m-129 73h0m80 158h0"/>
<path vector-effect="non-scaling-stroke" id="t45c" d="M-93 6h0m109 4h0m-26 13h0m51 11h0m-105 2h0m113 9h0m14 12h0m-42 12h0m-41 8h0m-31 8h0m48 13h0m95 9h0m-129 11h0m-1 13h0m127 7h0m-188 9h0m145 10h0m-103 12h0m87 16h0m-102 11h0m2 9h0m170 16h0m-138 13h0m12 6h0m-19 20h0m72 18h0m68 15h0m-6 8h0m-36 16h0m-107 11h0m52 16h0m101 35h0m-135 17h0m-37 14h0m79 24h0m-31 13h0m-40 43h0m-31 29h0m30 13h0m21 29h0m27 56h0m-24 42h0m104 55h0m-118 118h0m27 130h0"/>
<path vector-effect="non-scaling-stroke" id="t70a" d="M-48 3h0m71 7h0m-11 1h0m-69 9h0m151 8h0m-193 1h0m140 10h0m-88 6h0m100 5h0m-107 2h0m107 8h0m-109 8h0m152 4h0m-76 8h0m54 4h0m-85 7h0m-23 5h0m-57 5h0m68 11h0m86 2h0m13 12h0m-13 1h0m-28 10h0m50 4h0m-155 10h0m-13 7h0m38 4h0m43 9h0m30 8h0m-8 11h0m-77 3h0m53 9h0m-96 12h0m8 5h0m185 6h0m-152 13h0m117 8h0m-150 7h0m124 5h0m-84 10h0m52 11h0m88 6h0m-140 17h0m9 12h0m6 5h0m30 15h0m95 3h0m-67 13h0m63 11h0m-158 13h0m-6 9h0m99 19h0m39 8h0m-142 22h0m86 4h0m-41 19h0m-3 22h0m-38 14h0m43 23h0m17 18h0m39 8h0m47 37h0m30 33h0m-36 5h0m-58 53h0m46 28h0m-91 30h0m81 44h0m-14 58h0m-86 73h0"/>
<path vector-effect="non-scaling-stroke" id="t70b" d="M84 2h0m-70 8h0m56 4h0m-12 8h0m-14 4h0m-69 5h0m102 6h0m-166 3h0m179 6h0m-97 8h0m63 7h0m34 6h0m-106 4h0m-54 5h0m88 7h0m38 5h0m-149 12h0m56 6h0m-34 7h0m2 4h0m99 9h0m-107 2h0m169 8h0m-176 8h0m119 8h0m-21 5h0m-49 10h0m-49 4h0m142 12h0m-102 3h0m44 9h0m2 5h0m91 12h0m-4 7h0m11 11h0m-197 4h0m193 8h0m-160 10h0m-4 7h0m70 13h0m7 5h0m-12 12h0m-92 12h0m85 11h0m3 10h0m20 6h0m64 14h0m-89 7h0m-53 9h0m83 15h0m-57 21h0m-17 7h0m5 14h0m-17 9h0m68 23h0m73 8h0m-100 27h0m42 7h0m-75 22h0m18 26h0m30 9h0m103 36h0m-115 9h0m30 21h0m-11 57h0m-50 13h0m-16 46h0m82 53h0m-98 99h0m161 86h0"/>
<path vector-effect="non-scaling-stroke" id="t70c" d="M37 4h0m6 7h0m-110 6h0m77 1h0m-92 6h0m23 8h0m124 7h0m-70 1h0m100 5h0m-128 7h0m18 6h0m-57 9h0m123 6h0m-59 5h0m-65 8h0m61 2h0m-6 8h0m-63 5h0m128 10h0m-134 7h0m94 6h0m-27 3h0m107 7h0m-151 11h0m56 3h0m-31 11h0m-21 3h0m29 14h0m95 6h0m-116 5h0m57 8h0m-57 7h0m-27 7h0m14 9h0m9 10h0m-34 11h0m59 1h0m46 11h0m84 6h0m-9 14h0m-113 5h0m106 10h0m-30 12h0m29 12h0m-162 10h0m136 14h0m-5 10h0m-104 4h0m-44 18h0m85 13h0m-73 15h0m93 1h0m-81 23h0m41 12h0m53 13h0m-58 12h0m69 21h0m63 10h0m0 24h0m-80 23h0m-111 17h0m134 14h0m26 44h0m-74 20h0m-7 28h0m19 27h0m-18 40h0m112 40h0m-158 76h0m54 53h0"/>
<path vector-effect="non-scaling-stroke" id="t100a" d="M-25 2h0m107 2h0m-152 6h0m44 5h0m-73 1h0m15 7h0m165 4h0m-152 4h0m125 3h0m-121 2h0m148 6h0m-34 4h0m-31 3h0m-42 4h0m-71 4h0m155 7h0m35 2h0m-33 4h0m-14 5h0m-66 3h0m-39 7h0m119 4h0m-41 5h0m-74 4h0m134 5h0m-58 2h0m-118 4h0m178 4h0m-115 6h0m77 4h0m-42 6h0m-36 3h0m-36 6h0m78 7h0m-98 3h0m34 4h0m-30 6h0m43 3h0m66 8h0m75 6h0m-79 3h0m-68 5h0m-16 4h0m121 9h0m12 4h0m-162 8h0m171 2h0m-170 9h0m181 4h0m-39 7h0m-10 5h0m-33 5h0m82 7h0m-60 8h0m-94 2h0m69 10h0m-78 4h0m64 6h0m-1 5h0m-80 8h0m91 7h0m-74 5h0m155 12h0m-70 6h0m-102 4h0m31 7h0m33 7h0m-35 15h0m79 7h0m-73 8h0m-35 6h0m31 6h0m101 9h0m-65 15h0m74 4h0m-23 10h0m-103 7h0m178 11h0m-102 10h0m35 14h0m-83 9h0m-43 20h0m82 12h0m0 6h0m29 10h0m41 22h0m-25 15h0m-85 20h0m73 16h0m62 17h0m1 20h0m-75 18h0m16 17h0m-66 14h0m-54 30h0m-5 45h0m39 15h0m62 46h0m-96 66h0m52 63h0"/>
<path vector-effect="non-scaling-stroke" id="t100b" d="M-44 3h0m86 3h0m-9 4h0m9 5h0m-111 3h0m106 4h0m-21 4h0m-104 4h0m63 5h0m-8 1h0m-1 5h0m119 5h0m-165 2h0m114 4h0m-75 5h0m-17 6h0m116 2h0m-71 8h0m-17 1h0m125 6h0m-26 5h0m-7 4h0m-161 5h0m170 3h0m-136 6h0m145 4h0m-80 1h0m-61 7h0m27 3h0m-10 8h0m87 1h0m-46 7h0m-24 6h0m-14 6h0m135 0h0m-29 9h0m-85 1h0m62 8h0m-118 5h0m147 3h0m-12 6h0m-149 3h0m142 10h0m-33 2h0m-67 9h0m52 1h0m-12 9h0m55 4h0m-60 8h0m99 5h0m1 7h0m-180 5h0m90 6h0m-25 4h0m117 7h0m-137 10h0m137 3h0m-124 10h0m4 5h0m94 4h0m29 9h0m-14 4h0m-45 11h0m28 3h0m-37 7h0m-103 13h0m-9 4h0m53 5h0m92 11h0m-112 5h0m49 16h0m10 0h0m-2 14h0m46 12h0m-102 2h0m142 17h0m-85 9h0m-98 7h0m166 14h0m-155 6h0m93 14h0m59 8h0m1 10h0m-52 18h0m5 13h0m60 11h0m-179 24h0m40 9h0m-38 18h0m129 25h0m-80 12h0m51 18h0m-81 22h0m143 15h0m-146 29h0m48 55h0m-66 4h0m64 54h0m44 67h0m-89 102h0"/>
<path vector-effect="non-scaling-stroke" id="t100c" d="M-91 1h0m18 4h0m149 3h0m-60 6h0m-5 3h0m10 5h0m65 5h0m-46 2h0m39 5h0m-80 5h0m1 0h0m-40 6h0m102 3h0m-130 4h0m22 6h0m15 5h0m19 5h0m33 1h0m-11 6h0m-107 3h0m16 8h0m71 0h0m91 5h0m-72 5h0m70 5h0m-149 7h0m110 4h0m-54 2h0m32 5h0m82 6h0m-98 5h0m-61 3h0m-28 6h0m40 3h0m11 9h0m51 0h0m-53 5h0m-25 6h0m28 7h0m-30 5h0m-4 6h0m142 6h0m-75 1h0m15 10h0m-80 1h0m18 8h0m116 4h0m-33 8h0m-107 7h0m63 5h0m-74 3h0m61 9h0m19 5h0m2 7h0m41 7h0m-102 2h0m45 11h0m-77 6h0m112 2h0m-9 9h0m-23 7h0m88 5h0m-41 10h0m-115 10h0m39 5h0m90 8h0m23 8h0m-18 7h0m31 10h0m1 7h0m11 9h0m-72 6h0m5 12h0m-72 3h0m75 8h0m-95 10h0m-6 16h0m167 9h0m-166 10h0m62 8h0m35 11h0m-48 20h0m-63 1h0m9 17h0m48 15h0m26 12h0m62 21h0m-132 18h0m-1 9h0m-21 24h0m127 14h0m-118 17h0m-13 25h0m55 27h0m128 19h0m11 24h0m1 39h0m-52 31h0m17 54h0m-71 87h0"/>
<path vector-effect="non-scaling-stroke" id="t150a" d="M-93 1h0m51 3h0m76 1h0m-32 3h0m9 4h0m-18 3h0m52 2h0m-77 2h0m16 2h0m33 3h0m-70 2h0m-46 3h0m29 4h0m97 3h0m-116 2h0m151 2h0m-42 3h0m-1 3h0m-110 3h0m139 3h0m-35 1h0m-105 3h0m-2 4h0m79 4h0m72 2h0m10 4h0m27 2h0m-148 3h0m65 2h0m-25 4h0m83 3h0m-89 3h0m42 0h0m-31 5h0m-51 3h0m-3 2h0m76 2h0m-80 4h0m19 3h0m22 3h0m58 2h0m-12 4h0m-93 4h0m47 2h0m6 3h0m-60 4h0m59 4h0m37 4h0m-50 2h0m100 3h0m30 4h0m-185 2h0m66 3h0m-14 4h0m10 2h0m-2 5h0m105 2h0m-139 6h0m59 1h0m72 5h0m-153 4h0m112 1h0m-55 6h0m116 3h0m-178 2h0m159 3h0m-161 6h0m137 4h0m-77 2h0m20 5h0m44 1h0m58 6h0m-70 4h0m-67 3h0m134 3h0m-24 5h0m-124 3h0m14 6h0m-14 1h0m105 5h0m7 6h0m-67 1h0m-13 8h0m17 4h0m40 4h0m-7 3h0m-14 5h0m-27 5h0m85 3h0m-16 3h0m-42 8h0m-31 1h0m-1 9h0m-62 2h0m100 6h0m66 2h0m-132 6h0m21 8h0m113 3h0m-92 5h0m-53 3h0m138 7h0m-29 7h0m52 3h0m-95 4h0m66 7h0m-121 5h0m151 8h0m-166 6h0m79 4h0m-17 5h0m-92 6h0m133 12h0m-102 7h0m12 6h0m125 3h0m-121 6h0m-46 6h0m117 13h0m-20 7h0m-51 6h0m-41 4h0m-6 12h0m33 7h0m141 9h0m-119 12h0m141 9h0m-195 8h0m28 5h0m76 7h0m-104 14h0m80 7h0m-16 20h0m132 4h0m-14 13h0m-23 17h0m-143 10h0m-16 19h0m133 10h0m-71 21h0m108 4h0m-129 29h0m28 24h0m119 24h0m-98 24h0m91 25h0m-87 26h0m41 45h0m-134 31h0m52 39h0"/>
<path vector-effect="non-scaling-stroke" id="t150b" d="M-6 1h0m-28 2h0m128 2h0m-54 4h0m-74 3h0m-32 3h0m-25 3h0m70 2h0m46 2h0m-99 1h0m96 5h0m-97 2h0m137 4h0m-74 2h0m-60 2h0m61 2h0m-55 4h0m140 3h0m-25 3h0m-112 3h0m94 2h0m60 2h0m-176 3h0m35 2h0m149 2h0m-197 6h0m151 2h0m9 2h0m-17 4h0m-18 2h0m-98 2h0m-5 3h0m127 5h0m-118 3h0m113 1h0m47 5h0m-159 1h0m12 3h0m24 4h0m63 3h0m16 4h0m-117 1h0m39 3h0m122 5h0m-132 3h0m90 3h0m-132 3h0m74 3h0m62 2h0m-112 5h0m-29 2h0m180 3h0m-147 4h0m103 4h0m-134 2h0m120 3h0m-73 6h0m98 2h0m-156 3h0m6 4h0m118 4h0m-53 1h0m92 4h0m-36 5h0m-1 1h0m40 5h0m-127 3h0m40 3h0m-46 7h0m76 2h0m-59 5h0m140 4h0m-8 4h0m-7 1h0m-111 3h0m111 5h0m-84 6h0m-33 2h0m-42 6h0m-9 3h0m167 4h0m-174 5h0m121 2h0m-36 5h0m-7 4h0m-18 6h0m68 4h0m-36 5h0m-41 1h0m95 5h0m42 8h0m-148 2h0m107 7h0m-107 2h0m14 4h0m129 8h0m-104 5h0m21 3h0m5 8h0m38 2h0m-118 7h0m18 5h0m123 5h0m-51 4h0m-98 7h0m-9 7h0m164 2h0m-102 7h0m12 7h0m-11 4h0m54 10h0m8 7h0m-35 3h0m-53 6h0m138 7h0m-157 7h0m-14 8h0m19 7h0m51 9h0m38 6h0m-57 7h0m74 3h0m-63 8h0m73 14h0m-21 10h0m-89 4h0m-5 9h0m-11 6h0m173 18h0m-109 6h0m90 14h0m-97 9h0m-16 9h0m26 11h0m-89 14h0m45 6h0m102 21h0m-108 4h0m144 16h0m-131 20h0m76 17h0m-79 13h0m-42 16h0m25 37h0m14 24h0m138 26h0m-82 13h0m-10 51h0m30 35h0m67 31h0"/>
<path vector-effect="non-scaling-stroke" id="t150c" d="M-56 1h0m97 2h0m-8 2h0m9 3h0m-106 3h0m19 4h0m106 2h0m-25 3h0m-27 2h0m-9 2h0m98 2h0m-94 3h0m90 2h0m-110 3h0m85 3h0m-158 4h0m147 4h0m10 1h0m-109 3h0m-24 1h0m164 4h0m-117 2h0m6 4h0m-7 2h0m16 3h0m36 2h0m-22 4h0m50 4h0m12 3h0m-109 1h0m-15 3h0m137 4h0m5 3h0m-58 4h0m25 1h0m-90 4h0m27 3h0m-88 3h0m34 2h0m155 5h0m-40 1h0m-22 4h0m-113 3h0m91 1h0m-85 5h0m113 3h0m50 2h0m-78 5h0m33 2h0m23 3h0m-58 3h0m-94 3h0m138 5h0m-40 4h0m-60 1h0m70 3h0m-99 6h0m78 1h0m-18 5h0m102 2h0m-39 3h0m27 6h0m-32 4h0m-96 2h0m64 4h0m48 2h0m-66 5h0m-58 2h0m91 4h0m63 6h0m-168 1h0m109 7h0m-127 4h0m118 2h0m3 3h0m24 3h0m7 6h0m-1 5h0m-56 3h0m-13 3h0m-54 5h0m21 6h0m129 2h0m-46 3h0m-132 7h0m62 5h0m127 4h0m-106 1h0m21 7h0m-29 4h0m114 4h0m-82 5h0m-40 5h0m-12 3h0m100 5h0m9 7h0m-106 5h0m55 5h0m-107 5h0m167 3h0m-52 7h0m44 4h0m-141 7h0m-9 6h0m125 6h0m57 4h0m-156 3h0m-4 9h0m-2 8h0m-2 4h0m64 7h0m-85 4h0m109 4h0m7 10h0m-36 7h0m-67 3h0m88 10h0m-64 5h0m16 6h0m21 13h0m-55 8h0m30 1h0m89 15h0m24 7h0m-162 4h0m46 13h0m14 5h0m125 14h0m-150 5h0m3 7h0m27 12h0m106 10h0m-43 8h0m-117 18h0m124 12h0m20 16h0m-61 3h0m-46 15h0m-30 13h0m141 26h0m-116 9h0m111 25h0m-149 27h0m164 22h0m-102 23h0m21 12h0m-41 23h0m15 58h0m54 57h0m-24 23h0"/>
<path vector-effect="non-scaling-stroke" id="t220a" d="M-57 2h0m64 1h0m44 1h0m-143 3h0m139 1h0m32 2h0m-110 1h0m130 3h0m-166 1h0m142 2h0m-86 1h0m11 3h0m51 0h0m-56 2h0m-91 2h0m19 2h0m21 2h0m105 2h0m-120 2h0m60 2h0m26 2h0m-50 2h0m32 1h0m4 2h0m-32 2h0m-45 2h0m101 2h0m9 2h0m-133 1h0m21 3h0m172 1h0m-144 1h0m126 3h0m-143 1h0m128 3h0m-141 1h0m177 2h0m-151 3h0m-34 2h0m83 1h0m-70 2h0m13 2h0m154 2h0m-67 3h0m-34 1h0m75 1h0m33 4h0m-36 1h0m-121 3h0m101 0h0m8 4h0m-41 2h0m-1 1h0m4 2h0m-112 2h0m131 3h0m15 2h0m-65 2h0m-47 2h0m81 2h0m-108 2h0m166 2h0m9 2h0m-146 2h0m23 1h0m-50 5h0m8 0h0m39 2h0m5 4h0m42 1h0m-10 3h0m87 2h0m-156 2h0m43 3h0m38 1h0m10 2h0m-82 3h0m49 1h0m94 3h0m-101 2h0m-38 2h0m61 2h0m-33 2h0m2 3h0m50 2h0m30 3h0m-29 2h0m-83 3h0m13 1h0m127 4h0m-2 2h0m20 2h0m-112 2h0m0 2h0m-75 4h0m96 2h0m4 3h0m-20 1h0m43 4h0m16 2h0m-15 1h0m36 5h0m-106 2h0m47 1h0m-29 4h0m35 2h0m-68 2h0m-14 5h0m40 1h0m-15 3h0m28 3h0m-15 1h0m11 3h0m-7 4h0m-12 4h0m62 0h0m-57 4h0m9 3h0m99 2h0m-103 4h0m47 3h0m7 1h0m-98 5h0m1 1h0m78 4h0m44 3h0m-86 1h0m6 4h0m105 3h0m-67 5h0m43 2h0m-12 2h0m-114 4h0m134 4h0m-28 2h0m-26 2h0m-42 3h0m-1 4h0m128 3h0m-110 5h0m44 3h0m-81 1h0m135 7h0m-2 1h0m-53 5h0m-108 1h0m178 6h0m-180 4h0m-7 1h0m109 5h0m69 4h0m-127 4h0m21 4h0m-9 5h0m18 2h0m-44 5h0m86 4h0m-50 1h0m-8 4h0m-16 6h0m12 3h0m107 4h0m-160 3h0m155 7h0m-48 2h0m1 7h0m-65 5h0m77 4h0m-75 5h0m35 5h0m60 0h0m-42 9h0m84 2h0m-4 7h0m-83 6h0m-106 1h0m31 9h0m103 5h0m55 2h0m-151 7h0m99 5h0m36 4h0m-103 6h0m69 8h0m-94 5h0m-8 4h0m-4 11h0m2 2h0m6 7h0m79 10h0m-12 3h0m-37 9h0m79 7h0m-23 5h0m-100 9h0m138 13h0m-155 2h0m163 7h0m-165 9h0m11 10h0m48 9h0m-57 16h0m52 3h0m70 17h0m-24 9h0m-81 4h0m49 23h0m-18 7h0m108 10h0m2 10h0m-4 27h0m15 12h0m-121 11h0m75 26h0m-124 11h0m17 41h0m53 28h0m-26 22h0m97 11h0m-15 46h0"/>
<path vector-effect="non-scaling-stroke" id="t220b" d="M-86 0h0m181 3h0m-122 1h0m-48 2h0m-2 2h0m46 1h0m-62 2h0m103 3h0m45 2h0m1 1h0m-1 2h0m-25 1h0m46 3h0m-151 1h0m86 3h0m47 1h0m-107 2h0m-50 1h0m195 1h0m-85 4h0m19 1h0m-76 1h0m64 3h0m-89 1h0m4 2h0m-30 3h0m5 2h0m165 1h0m-38 1h0m34 2h0m-1 2h0m-135 2h0m150 2h0m-84 1h0m60 3h0m-114 1h0m116 2h0m36 2h0m-139 3h0m-25 1h0m-17 2h0m158 2h0m-168 2h0m88 2h0m57 3h0m-84 2h0m72 1h0m-61 2h0m-50 2h0m39 3h0m16 1h0m67 3h0m7 2h0m42 2h0m-41 1h0m-90 2h0m46 3h0m-25 1h0m85 4h0m-87 2h0m19 0h0m9 4h0m-29 1h0m46 2h0m18 3h0m41 1h0m-126 2h0m-14 4h0m120 1h0m-114 2h0m-11 1h0m10 2h0m-45 4h0m96 2h0m63 1h0m1 3h0m-121 3h0m84 1h0m36 3h0m-118 1h0m55 4h0m-5 3h0m-13 1h0m-65 2h0m170 2h0m-167 4h0m116 1h0m28 2h0m-31 2h0m-94 4h0m4 1h0m-45 3h0m101 2h0m20 4h0m47 2h0m1 3h0m-66 1h0m15 2h0m-112 4h0m44 1h0m-36 3h0m134 4h0m-108 2h0m71 2h0m33 3h0m47 2h0m-3 2h0m-29 2h0m-8 5h0m-52 2h0m24 3h0m-1 2h0m-78 4h0m18 2h0m66 3h0m-113 2h0m-17 2h0m45 3h0m33 3h0m-20 2h0m-26 5h0m-13 3h0m26 3h0m93 2h0m-63 3h0m101 3h0m-122 1h0m142 4h0m-78 3h0m-95 4h0m169 3h0m-70 2h0m1 4h0m-38 2h0m21 4h0m5 3h0m50 2h0m-116 6h0m87 0h0m-68 4h0m71 4h0m17 2h0m-85 6h0m47 3h0m39 5h0m-48 3h0m-13 2h0m-61 4h0m123 5h0m8 3h0m-104 3h0m6 2h0m-42 6h0m59 2h0m-13 4h0m62 6h0m-92 4h0m34 3h0m95 5h0m-65 2h0m-102 6h0m187 2h0m-10 6h0m18 2h0m-99 5h0m-43 3h0m43 4h0m77 9h0m-26 1h0m-27 6h0m-67 3h0m122 8h0m-16 3h0m12 5h0m-80 4h0m77 4h0m-48 5h0m-75 7h0m36 3h0m-55 10h0m76 3h0m45 4h0m-120 9h0m76 4h0m28 9h0m23 3h0m-112 8h0m77 7h0m48 2h0m-128 8h0m117 10h0m15 5h0m-82 8h0m-22 7h0m127 6h0m-149 8h0m136 7h0m-183 11h0m165 10h0m-9 11h0m22 6h0m-135 13h0m119 1h0m-155 11h0m19 20h0m138 2h0m-10 22h0m-132 5h0m105 10h0m43 22h0m-145 7h0m97 14h0m-24 24h0m99 24h0m-172 14h0m55 27h0m117 34h0m-126 23h0m92 15h0m15 33h0"/>
<path vector-effect="non-scaling-stroke" id="t220c" d="M-15 1h0m98 1h0m-77 2h0m-56 2h0m24 2h0m-2 3h0m8 0h0m106 2h0m2 2h0m-43 1h0m-21 3h0m-9 2h0m64 2h0m-15 2h0m-141 1h0m-9 2h0m72 2h0m71 0h0m24 4h0m-28 1h0m-34 2h0m-53 2h0m35 1h0m-15 3h0m-7 1h0m-66 1h0m28 3h0m103 2h0m-111 2h0m-19 1h0m56 2h0m69 3h0m53 1h0m-99 1h0m65 2h0m-17 3h0m-111 1h0m159 3h0m-161 2h0m147 2h0m9 2h0m-83 1h0m66 3h0m-126 1h0m150 2h0m-71 3h0m-47 2h0m59 1h0m-66 1h0m-13 3h0m130 2h0m-163 3h0m139 1h0m10 3h0m-23 1h0m-18 3h0m-109 2h0m12 2h0m21 3h0m69 0h0m-31 3h0m11 1h0m74 3h0m-162 3h0m141 2h0m-72 1h0m39 3h0m38 2h0m-146 1h0m64 3h0m-17 3h0m104 1h0m-160 2h0m192 4h0m-102 2h0m-14 1h0m43 2h0m63 3h0m-42 1h0m27 4h0m-132 3h0m42 0h0m56 3h0m42 2h0m-33 3h0m-125 3h0m98 2h0m-17 2h0m-80 2h0m1 1h0m-14 3h0m130 4h0m-80 2h0m-55 3h0m119 1h0m-59 4h0m44 0h0m-107 4h0m185 1h0m-79 3h0m24 2h0m-68 5h0m34 1h0m65 2h0m-116 4h0m74 3h0m-98 3h0m107 0h0m-126 4h0m149 2h0m-87 4h0m112 2h0m-71 2h0m63 3h0m-25 4h0m49 2h0m-118 2h0m-70 5h0m98 2h0m-39 3h0m-5 3h0m-42 1h0m143 4h0m35 3h0m-97 2h0m84 3h0m-93 2h0m-44 6h0m88 2h0m55 4h0m-5 2h0m-133 3h0m-15 4h0m42 1h0m47 4h0m-64 2h0m-14 3h0m97 6h0m51 2h0m-148 4h0m27 2h0m109 5h0m-84 2h0m75 3h0m-160 4h0m21 3h0m163 2h0m-27 4h0m-36 4h0m-95 6h0m110 4h0m34 2h0m-56 4h0m-96 2h0m51 5h0m-59 3h0m75 3h0m69 8h0m-164 3h0m82 5h0m-48 3h0m6 2h0m-17 4h0m92 7h0m-30 2h0m-69 4h0m101 5h0m65 5h0m11 5h0m-46 4h0m-144 4h0m106 5h0m-55 8h0m14 3h0m44 7h0m-70 1h0m107 5h0m-11 10h0m-11 3h0m48 4h0m-30 8h0m-50 7h0m34 5h0m68 6h0m-195 2h0m40 6h0m114 8h0m-90 5h0m-8 11h0m48 0h0m-107 12h0m197 4h0m-116 5h0m4 7h0m-29 13h0m129 7h0m-7 7h0m-155 10h0m111 8h0m-106 5h0m106 15h0m-117 8h0m113 9h0m-103 8h0m114 11h0m-51 18h0m-16 1h0m-61 21h0m51 17h0m-45 13h0m14 10h0m122 14h0m-44 27h0m18 13h0m-23 17h0m-92 31h0m147 25h0m-55 21h0m15 17h0m-91 39h0"/>
<path vector-effect="non-scaling-stroke" id="t330a" d="M15 1h0m-112 1h0m119 1h0m-52 1h0m89 2h0m-86 1h0m36 1h0m-98 1h0m20 1h0m9 2h0m63 0h0m-38 2h0m72 0h0m-70 2h0m-52 1h0m14 2h0m121 0h0m-140 2h0m63 1h0m-44 1h0m-14 1h0m166 1h0m-114 2h0m1 0h0m51 2h0m-12 1h0m-17 1h0m-44 2h0m60 1h0m91 1h0m-130 1h0m-58 1h0m16 2h0m73 1h0m28 1h0m-41 1h0m57 2h0m24 0h0m-81 2h0m63 2h0m-123 1h0m118 1h0m-106 1h0m136 2h0m-13 1h0m-117 1h0m120 1h0m-18 2h0m-90 1h0m-37 1h0m29 1h0m119 1h0m-115 1h0m-44 2h0m177 1h0m-133 1h0m122 2h0m-23 1h0m16 2h0m-102 1h0m92 1h0m-147 2h0m34 0h0m73 2h0m12 1h0m-96 2h0m55 2h0m6 0h0m3 1h0m73 2h0m-103 1h0m-3 2h0m0 1h0m46 1h0m-17 1h0m-75 1h0m-13 2h0m32 2h0m63 0h0m-26 3h0m118 0h0m-102 3h0m48 1h0m-65 1h0m52 1h0m18 2h0m-23 1h0m-66 1h0m12 2h0m74 1h0m-60 2h0m0 0h0m-51 3h0m84 0h0m3 2h0m-95 1h0m-5 2h0m137 2h0m-43 1h0m-6 1h0m-13 2h0m5 1h0m-88 2h0m157 1h0m-125 2h0m68 0h0m17 3h0m21 1h0m-125 1h0m171 2h0m-173 2h0m155 1h0m-147 1h0m13 2h0m10 2h0m113 0h0m-144 3h0m56 0h0m73 2h0m-89 1h0m-47 2h0m115 2h0m-116 1h0m73 2h0m5 1h0m-56 1h0m49 3h0m-15 1h0m15 1h0m88 2h0m-104 1h0m-35 2h0m107 2h0m-23 1h0m-29 2h0m-49 1h0m77 2h0m-109 1h0m79 2h0m-44 2h0m39 1h0m-6 2h0m16 2h0m49 1h0m-78 2h0m-27 2h0m110 1h0m-75 1h0m98 2h0m-29 2h0m-38 1h0m95 2h0m-114 3h0m-13 1h0m107 1h0m-13 3h0m-70 1h0m84 1h0m3 3h0m-35 1h0m-81 2h0m-49 1h0m63 2h0m-54 2h0m132 2h0m22 3h0m-163 1h0m124 2h0m-58 1h0m-38 2h0m86 2h0m-25 2h0m58 1h0m-83 2h0m70 3h0m-55 2h0m-42 2h0m92 0h0m6 2h0m-63 3h0m-20 2h0m103 1h0m-140 3h0m48 1h0m-31 3h0m100 1h0m-88 1h0m-42 3h0m23 3h0m63 1h0m-58 1h0m59 4h0m-64 2h0m84 1h0m49 1h0m-7 3h0m-74 1h0m-87 4h0m127 0h0m-40 4h0m-58 2h0m92 1h0m-35 3h0m91 1h0m-137 3h0m-3 2h0m13 1h0m109 3h0m-144 3h0m174 3h0m-2 1h0m-2 2h0m7 3h0m-10 1h0m-83 4h0m-32 2h0m-38 2h0m116 2h0m39 3h0m6 0h0m-150 5h0m7 1h0m67 4h0m29 2h0m-79 1h0m38 2h0m90 2h0m2 3h0m-174 3h0m71 3h0m-50 3h0m141 1h0m-21 5h0m20 0h0m-168 5h0m179 3h0m-128 2h0m126 3h0m-38 1h0m-56 2h0m-86 4h0m89 2h0m39 5h0m35 1h0m-9 2h0m23 4h0m-154 3h0m80 2h0m80 4h0m1 3h0m-148 2h0m148 3h0m-46 3h0m7 2h0m-147 6h0m149 1h0m-153 4h0m190 3h0m-181 2h0m0 5h0m148 3h0m-29 4h0m-30 2h0m-86 3h0m177 3h0m-145 5h0m76 4h0m-34 1h0m75 5h0m-91 5h0m-21 2h0m21 3h0m6 4h0m-17 7h0m56 1h0m-60 6h0m37 4h0m-42 2h0m-34 5h0m109 4h0m-82 6h0m37 3h0m32 5h0m-63 4h0m139 3h0m-88 4h0m-10 4h0m44 9h0m-7 1h0m-84 8h0m35 5h0m3 2h0m-82 8h0m152 3h0m-59 8h0m-94 3h0m33 9h0m45 3h0m29 3h0m19 11h0m66 2h0m-69 8h0m-41 5h0m102 8h0m-69 8h0m46 5h0m-27 8h0m-90 8h0m56 10h0m-73 5h0m120 11h0m-39 2h0m87 13h0m-124 10h0m88 6h0m-140 11h0m33 10h0m57 9h0m-82 18h0m12 3h0m120 16h0m-76 15h0m26 16h0m56 14h0m-161 12h0m60 23h0m83 16h0m-50 26h0m41 37h0m-39 27h0"/>
<path vector-effect="non-scaling-stroke" id="t330b" d="M-48 1h0m7 0h0m65 1h0m33 3h0m22 1h0m-104 1h0m-1 1h0m-26 1h0m79 0h0m-70 3h0m59 0h0m-61 2h0m-43 1h0m105 0h0m-112 2h0m66 1h0m-3 1h0m91 1h0m-90 2h0m-63 2h0m94 0h0m-53 1h0m153 1h0m-44 2h0m-137 1h0m114 2h0m26 0h0m33 2h0m-147 1h0m52 1h0m51 1h0m18 2h0m19 0h0m-113 2h0m104 2h0m-42 1h0m-95 1h0m94 1h0m52 1h0m-128 2h0m6 0h0m-8 2h0m117 1h0m-91 2h0m-18 1h0m5 0h0m121 2h0m-179 1h0m-2 1h0m68 3h0m112 0h0m-61 2h0m72 1h0m-178 2h0m48 1h0m16 1h0m46 0h0m52 2h0m-43 2h0m-22 1h0m-26 1h0m56 1h0m-25 2h0m30 1h0m-102 2h0m62 0h0m73 2h0m-34 1h0m-15 1h0m25 2h0m-143 1h0m157 1h0m-58 3h0m31 0h0m-147 2h0m191 1h0m-148 1h0m0 1h0m80 2h0m-24 1h0m-35 2h0m74 1h0m-23 1h0m18 2h0m-33 2h0m66 0h0m-92 3h0m7 0h0m74 1h0m-19 3h0m-35 1h0m33 1h0m52 2h0m-147 1h0m107 1h0m-116 1h0m128 2h0m14 2h0m-76 1h0m97 1h0m-114 2h0m25 1h0m-4 2h0m49 1h0m-26 1h0m-15 2h0m-28 1h0m-34 1h0m3 3h0m127 0h0m-145 3h0m6 1h0m76 0h0m-108 3h0m22 1h0m3 2h0m144 1h0m-154 1h0m23 2h0m-2 2h0m72 1h0m-2 1h0m6 3h0m7 1h0m74 2h0m-188 1h0m59 1h0m122 3h0m-64 1h0m42 1h0m-92 2h0m-69 1h0m188 2h0m-18 1h0m-55 2h0m-108 2h0m97 0h0m-82 2h0m42 2h0m45 1h0m48 3h0m-56 2h0m33 1h0m4 1h0m-148 2h0m192 1h0m-183 2h0m52 2h0m87 1h0m-37 3h0m-99 2h0m58 0h0m56 2h0m-7 3h0m10 0h0m-39 2h0m81 3h0m16 0h0m9 2h0m-49 3h0m-138 2h0m37 1h0m102 2h0m-94 2h0m10 0h0m73 2h0m-3 3h0m-25 1h0m-101 1h0m42 2h0m53 3h0m-49 2h0m30 1h0m-44 2h0m74 1h0m-94 3h0m7 2h0m148 2h0m-72 2h0m-46 1h0m-44 2h0m165 2h0m18 2h0m-155 3h0m118 0h0m-2 2h0m16 3h0m-98 2h0m92 1h0m-32 2h0m-74 2h0m16 2h0m114 3h0m-1 1h0m-32 4h0m-141 2h0m92 1h0m49 2h0m-118 2h0m41 2h0m97 2h0m-2 2h0m-26 3h0m-107 1h0m49 3h0m-40 3h0m76 1h0m8 2h0m19 3h0m-145 2h0m134 1h0m15 3h0m-28 2h0m-102 2h0m15 2h0m127 4h0m-15 3h0m-53 1h0m53 2h0m-62 2h0m-40 4h0m16 2h0m116 2h0m-137 3h0m20 2h0m-39 2h0m9 2h0m34 4h0m32 0h0m-24 3h0m46 3h0m-114 4h0m6 2h0m-12 2h0m182 4h0m-92 1h0m-27 2h0m121 3h0m-3 3h0m-118 2h0m-25 3h0m11 3h0m5 4h0m12 2h0m67 3h0m-92 3h0m37 2h0m110 4h0m-20 3h0m-166 2h0m97 2h0m-53 4h0m-48 3h0m71 4h0m21 2h0m-90 5h0m83 2h0m3 3h0m-66 2h0m100 5h0m-83 3h0m16 2h0m95 4h0m-130 3h0m-6 4h0m85 2h0m-25 3h0m51 5h0m-84 5h0m-24 4h0m103 3h0m59 3h0m-133 3h0m9 4h0m94 6h0m-56 3h0m60 2h0m-33 7h0m37 1h0m-139 6h0m70 4h0m16 4h0m44 6h0m-97 5h0m143 4h0m-41 2h0m-78 5h0m101 3h0m-115 8h0m57 2h0m-21 7h0m-82 3h0m21 6h0m-39 7h0m190 3h0m4 9h0m-113 3h0m90 9h0m19 6h0m-180 1h0m150 11h0m-149 6h0m94 2h0m-101 6h0m24 12h0m152 4h0m-44 8h0m-92 6h0m61 10h0m59 5h0m-75 9h0m39 13h0m-126 9h0m112 7h0m-82 13h0m99 9h0m40 6h0m-105 10h0m-30 14h0m153 16h0m-83 11h0m-4 12h0m16 20h0m23 10h0m47 23h0m-182 17h0m92 12h0m-30 28h0m23 15h0m-78 35h0"/>
<path vector-effect="non-scaling-stroke" id="t330c" d="M-86 1h0m76 0h0m-70 2h0m-9 1h0m54 2h0m58 0h0m66 2h0m-169 1h0m62 0h0m-42 2h0m89 1h0m-17 1h0m-92 2h0m11 1h0m163 1h0m-36 1h0m18 1h0m-135 1h0m22 2h0m72 1h0m-126 1h0m155 1h0m-74 1h0m-36 2h0m-1 1h0m96 1h0m-78 2h0m23 0h0m24 1h0m60 2h0m-69 1h0m-25 1h0m9 2h0m-17 1h0m96 1h0m-40 2h0m-87 1h0m86 0h0m-94 3h0m159 0h0m-150 1h0m93 1h0m-63 2h0m-65 2h0m102 0h0m-108 2h0m54 1h0m123 1h0m-107 1h0m-18 2h0m53 1h0m34 2h0m42 0h0m-153 2h0m-7 2h0m163 0h0m-105 2h0m106 1h0m-96 2h0m-66 1h0m65 1h0m-78 2h0m13 0h0m41 3h0m19 1h0m64 1h0m-26 1h0m-108 1h0m178 2h0m-142 2h0m-20 1h0m58 1h0m-54 2h0m85 0h0m-88 2h0m143 1h0m-137 1h0m73 2h0m-93 2h0m7 0h0m-17 1h0m151 2h0m-77 1h0m-16 2h0m110 1h0m-92 1h0m-80 2h0m128 2h0m1 0h0m-129 3h0m72 1h0m-23 1h0m93 2h0m-148 1h0m144 1h0m-122 1h0m16 2h0m-12 2h0m13 1h0m-14 2h0m140 1h0m-66 2h0m53 0h0m-94 2h0m1 1h0m25 2h0m-40 1h0m141 1h0m-132 3h0m78 1h0m5 1h0m-93 2h0m-5 1h0m120 2h0m7 1h0m13 1h0m-134 2h0m31 1h0m-65 2h0m135 2h0m27 1h0m-98 2h0m94 1h0m-16 2h0m-137 2h0m153 0h0m-75 3h0m74 0h0m-76 3h0m40 1h0m-85 2h0m70 0h0m-72 2h0m7 2h0m-26 2h0m124 1h0m11 2h0m6 2h0m-45 1h0m-103 2h0m103 2h0m47 1h0m-5 2h0m-163 2h0m11 1h0m184 2h0m-167 1h0m-23 2h0m41 2h0m26 2h0m59 1h0m31 2h0m-106 1h0m97 3h0m45 0h0m-96 2h0m-39 3h0m56 0h0m-35 2h0m-55 3h0m16 0h0m-21 3h0m115 2h0m-132 1h0m156 1h0m-72 2h0m24 3h0m39 1h0m-89 3h0m7 1h0m58 1h0m-122 3h0m23 1h0m56 3h0m-22 2h0m50 2h0m15 0h0m-57 3h0m48 2h0m36 2h0m-16 2h0m-24 1h0m-82 2h0m75 2h0m61 2h0m27 1h0m-42 3h0m-108 1h0m83 3h0m57 2h0m-91 1h0m79 4h0m-52 1h0m-111 3h0m-13 1h0m129 2h0m-118 1h0m138 3h0m13 3h0m-8 1h0m-131 2h0m46 2h0m29 2h0m-15 3h0m-60 1h0m30 2h0m95 4h0m-117 1h0m70 3h0m-94 3h0m135 2h0m-6 1h0m-27 4h0m86 1h0m-141 3h0m140 2h0m-182 2h0m83 1h0m-48 4h0m100 1h0m-66 3h0m50 3h0m-95 2h0m53 2h0m-33 1h0m137 4h0m-135 3h0m17 3h0m-34 2h0m96 3h0m-119 1h0m124 2h0m49 3h0m-44 2h0m18 2h0m-61 5h0m82 2h0m-87 4h0m0 3h0m65 2h0m-151 3h0m164 2h0m-120 2h0m-30 3h0m104 3h0m39 1h0m-118 4h0m105 5h0m-29 3h0m-90 1h0m11 4h0m-8 1h0m-36 5h0m122 2h0m-20 3h0m67 3h0m-97 3h0m-59 2h0m87 6h0m92 2h0m-7 4h0m8 4h0m-58 4h0m-130 3h0m55 1h0m26 5h0m-63 5h0m85 1h0m-71 3h0m56 3h0m95 7h0m-7 2h0m-181 4h0m62 3h0m52 6h0m-73 2h0m115 7h0m-110 2h0m-15 5h0m101 3h0m-42 5h0m-81 5h0m89 4h0m-96 5h0m147 2h0m-135 3h0m33 7h0m115 3h0m-13 4h0m-74 6h0m-18 5h0m46 8h0m-103 5h0m124 5h0m-33 3h0m53 4h0m-88 7h0m107 9h0m-100 4h0m114 7h0m-123 7h0m-35 3h0m48 11h0m-30 1h0m136 7h0m-176 9h0m185 8h0m-59 10h0m-113 1h0m64 13h0m13 9h0m61 8h0m-42 5h0m-16 10h0m-65 10h0m-13 14h0m5 6h0m75 10h0m48 7h0m-118 22h0m-24 8h0m121 13h0m7 13h0m-18 11h0m-56 31h0m90 10h0m-85 20h0m62 15h0m-96 49h0m156 9h0"/>
<path vector-effect="non-scaling-stroke" id="t500a" d="M-92 0h0m69 1h0m-61 1h0m40 1h0m8 0h0m10 2h0m83 0h0m-23 1h0m-91 1h0m94 0h0m-44 1h0m-57 1h0m7 0h0m75 1h0m19 1h0m-121 1h0m115 0h0m-113 2h0m142 0h0m-131 1h0m93 1h0m67 1h0m-123 1h0m17 0h0m97 1h0m-157 1h0m49 1h0m63 0h0m17 1h0m-49 1h0m-45 1h0m45 0h0m95 1h0m-170 2h0m40 0h0m-18 1h0m86 0h0m-110 2h0m13 0h0m-32 1h0m123 1h0m8 1h0m7 0h0m36 1h0m-48 1h0m-81 1h0m117 1h0m26 0h0m-173 1h0m152 1h0m-112 1h0m-28 1h0m-8 1h0m16 0h0m112 1h0m-16 1h0m-51 1h0m5 0h0m12 2h0m85 0h0m-131 1h0m19 1h0m-60 1h0m38 0h0m84 1h0m32 1h0m-133 1h0m63 1h0m-51 1h0m103 0h0m-152 1h0m116 1h0m-87 1h0m133 1h0m-66 1h0m64 0h0m-116 1h0m43 1h0m-18 1h0m54 1h0m56 0h0m3 1h0m-111 1h0m38 1h0m29 1h0m5 1h0m-74 1h0m11 1h0m27 0h0m-25 1h0m-35 1h0m38 1h0m93 1h0m-79 1h0m-30 1h0m79 0h0m-126 1h0m80 1h0m-25 1h0m-71 1h0m13 1h0m121 1h0m-94 1h0m91 0h0m15 2h0m27 0h0m-85 1h0m58 1h0m32 1h0m-134 1h0m-13 1h0m74 0h0m-52 1h0m-39 1h0m88 1h0m65 1h0m-96 1h0m110 0h0m-23 2h0m-88 1h0m-16 1h0m-5 1h0m-31 1h0m16 0h0m57 1h0m-7 1h0m5 1h0m43 1h0m56 0h0m-169 1h0m-4 2h0m35 0h0m-54 2h0m34 1h0m45 0h0m109 1h0m-56 1h0m1 1h0m48 1h0m16 1h0m-185 1h0m164 0h0m-148 1h0m154 2h0m-128 1h0m17 0h0m-7 1h0m108 1h0m-136 1h0m126 1h0m-45 1h0m-33 1h0m-7 1h0m-51 1h0m17 0h0m18 2h0m-34 1h0m-6 1h0m111 0h0m-71 1h0m98 2h0m-95 1h0m4 0h0m-71 2h0m46 0h0m125 1h0m17 1h0m-130 1h0m80 1h0m-49 1h0m-82 2h0m56 0h0m91 1h0m-76 1h0m-22 1h0m125 1h0m-176 1h0m25 1h0m132 1h0m-53 1h0m7 1h0m-74 1h0m57 2h0m46 1h0m6 0h0m10 1h0m-81 1h0m-23 1h0m-17 1h0m-35 2h0m74 0h0m48 1h0m-67 1h0m20 2h0m71 0h0m-136 1h0m67 2h0m2 0h0m-78 1h0m8 1h0m120 1h0m-68 2h0m10 0h0m123 2h0m-113 1h0m74 1h0m-26 1h0m-94 1h0m116 1h0m-14 1h0m-79 1h0m121 1h0m-42 1h0m-75 1h0m-57 1h0m173 1h0m-128 1h0m-51 1h0m121 2h0m54 0h0m-157 2h0m167 1h0m-158 1h0m27 1h0m-40 1h0m117 1h0m-121 1h0m126 1h0m-68 2h0m108 0h0m-68 2h0m-69 1h0m131 1h0m-79 1h0m-53 1h0m52 1h0m8 1h0m-94 1h0m51 2h0m60 1h0m-91 2h0m61 0h0m-80 1h0m34 2h0m74 0h0m-24 1h0m-58 2h0m51 1h0m-10 1h0m52 2h0m9 0h0m-108 1h0m6 2h0m-20 2h0m-9 1h0m10 0h0m74 2h0m103 1h0m-184 2h0m157 0h0m-99 1h0m97 2h0m15 1h0m-123 1h0m29 1h0m-7 2h0m77 1h0m-121 1h0m106 1h0m-93 1h0m66 2h0m-77 1h0m117 1h0m-116 2h0m41 1h0m122 1h0m-195 2h0m69 0h0m-58 2h0m136 1h0m38 2h0m-2 1h0m-9 1h0m-25 1h0m-60 1h0m38 2h0m28 1h0m-42 2h0m-108 1h0m122 1h0m-114 1h0m120 2h0m-12 1h0m30 1h0m-12 2h0m34 1h0m-116 1h0m-59 2h0m82 2h0m-1 1h0m57 1h0m45 1h0m-50 1h0m24 2h0m-15 1h0m-145 2h0m157 1h0m-88 2h0m82 1h0m-2 1h0m-113 2h0m133 1h0m-50 1h0m-20 2h0m-16 2h0m-65 2h0m57 0h0m-15 1h0m100 2h0m-78 1h0m66 2h0m-14 2h0m63 1h0m-153 1h0m125 2h0m-78 1h0m15 2h0m71 2h0m-161 2h0m12 0h0m149 2h0m-35 1h0m-136 3h0m149 0h0m-93 3h0m126 2h0m-18 1h0m-38 2h0m-14 1h0m-64 1h0m87 2h0m22 1h0m-76 2h0m-65 2h0m176 1h0m-168 2h0m18 3h0m70 1h0m19 1h0m-29 2h0m32 1h0m-119 2h0m93 1h0m-87 3h0m-19 2h0m57 1h0m-27 3h0m3 0h0m-20 2h0m175 2h0m-135 1h0m-13 2h0m-39 2h0m140 3h0m5 0h0m-134 3h0m108 1h0m64 3h0m-70 1h0m-56 3h0m113 1h0m-147 1h0m80 2h0m29 4h0m34 0h0m-137 2h0m-19 3h0m10 1h0m171 1h0m-74 4h0m-29 1h0m-25 2h0m103 1h0m-109 3h0m7 3h0m51 1h0m55 2h0m-132 2h0m-21 3h0m165 2h0m-161 2h0m167 2h0m-194 1h0m131 4h0m-133 1h0m57 2h0m139 3h0m-123 2h0m3 1h0m31 3h0m90 2h0m-19 2h0m-112 2h0m80 3h0m-130 2h0m67 3h0m-34 3h0m44 1h0m35 4h0m64 2h0m-91 1h0m85 4h0m9 3h0m-62 1h0m39 3h0m-53 3h0m-25 1h0m26 4h0m-1 1h0m62 5h0m-19 2h0m5 4h0m-115 2h0m-46 1h0m95 3h0m47 5h0m-94 1h0m15 3h0m110 4h0m-108 2h0m13 2h0m77 4h0m-103 4h0m135 1h0m-132 5h0m53 3h0m-46 2h0m60 3h0m70 2h0m-2 4h0m-180 4h0m85 3h0m9 5h0m36 3h0m10 2h0m-39 6h0m-100 2h0m76 5h0m90 1h0m-58 6h0m-110 3h0m180 3h0m-182 5h0m135 4h0m-51 4h0m37 3h0m49 4h0m-88 5h0m-2 4h0m-70 4h0m-11 3h0m-2 7h0m156 3h0m-158 7h0m182 4h0m-65 7h0m-2 2h0m-18 8h0m14 4h0m9 5h0m-59 4h0m107 4h0m-73 8h0m65 8h0m-52 4h0m-39 3h0m-16 8h0m-31 10h0m118 3h0m-28 11h0m-7 8h0m59 1h0m-47 14h0m-108 7h0m166 1h0m-112 17h0m20 9h0m103 5h0m-139 10h0m-16 11h0m139 8h0m-151 13h0m80 9h0m30 10h0m27 23h0m-43 16h0m-90 2h0m22 16h0m0 18h0m-54 31h0"/>
<path vector-effect="non-scaling-stroke" id="t500b" d="M21 0h0m68 1h0m-177 1h0m109 0h0m-35 2h0m-78 1h0m117 0h0m57 0h0m-160 2h0m174 0h0m-100 1h0m44 1h0m-56 1h0m-67 1h0m96 0h0m-60 1h0m43 0h0m-74 1h0m63 2h0m109 0h0m-173 1h0m143 1h0m-8 1h0m37 0h0m-44 1h0m-70 1h0m112 0h0m-184 2h0m42 0h0m89 1h0m-133 1h0m167 0h0m-66 1h0m-103 2h0m60 0h0m-52 1h0m51 0h0m-26 2h0m39 0h0m117 1h0m-71 1h0m73 0h0m-142 1h0m147 1h0m-128 1h0m104 0h0m-78 1h0m-77 1h0m130 1h0m-141 1h0m25 1h0m124 1h0m18 0h0m-26 1h0m-37 1h0m-37 1h0m39 1h0m33 0h0m-54 1h0m-82 2h0m137 0h0m9 1h0m-71 1h0m-44 1h0m29 0h0m97 1h0m-44 1h0m-109 1h0m107 0h0m-114 1h0m181 1h0m-114 1h0m-1 1h0m119 1h0m-129 1h0m33 0h0m47 1h0m36 1h0m-63 1h0m-76 1h0m75 0h0m-45 2h0m94 1h0m8 0h0m-152 1h0m141 1h0m-92 1h0m6 0h0m20 1h0m71 1h0m-112 1h0m110 1h0m-155 1h0m101 1h0m-45 1h0m-63 1h0m62 0h0m-28 1h0m35 1h0m19 1h0m39 1h0m-125 1h0m90 1h0m-50 1h0m125 0h0m-90 1h0m77 1h0m-98 1h0m72 1h0m4 0h0m-42 2h0m-50 1h0m-3 1h0m157 0h0m-99 1h0m23 1h0m-73 1h0m57 1h0m-90 1h0m44 0h0m8 2h0m0 0h0m-28 1h0m93 1h0m41 1h0m-112 1h0m50 1h0m12 1h0m-106 1h0m167 1h0m-112 1h0m120 0h0m-96 1h0m90 2h0m6 0h0m-133 1h0m98 1h0m-141 1h0m68 1h0m48 0h0m-17 1h0m63 1h0m-117 2h0m-60 1h0m61 0h0m94 2h0m8 0h0m-57 1h0m-63 2h0m44 0h0m28 1h0m-91 1h0m81 1h0m82 0h0m-13 2h0m-163 1h0m53 1h0m-37 1h0m161 0h0m-103 2h0m-43 1h0m-32 1h0m86 1h0m23 0h0m-71 2h0m91 0h0m11 1h0m-64 2h0m37 0h0m-22 2h0m80 0h0m-163 1h0m171 1h0m-189 1h0m4 1h0m115 1h0m-56 1h0m-10 1h0m8 1h0m0 1h0m17 1h0m60 1h0m-93 1h0m112 1h0m8 1h0m-114 1h0m-35 2h0m66 0h0m19 1h0m-76 1h0m162 1h0m-116 1h0m-17 2h0m9 0h0m62 2h0m13 0h0m-43 1h0m-13 1h0m-79 1h0m163 1h0m-22 2h0m38 0h0m-1 2h0m-137 1h0m5 1h0m30 0h0m-29 1h0m107 2h0m-121 1h0m82 1h0m-36 1h0m73 1h0m-133 1h0m69 1h0m-69 1h0m156 2h0m-140 1h0m68 1h0m79 1h0m-164 1h0m117 1h0m3 1h0m-8 1h0m-134 1h0m70 1h0m42 2h0m68 0h0m-97 2h0m-37 1h0m101 0h0m-24 2h0m1 0h0m55 2h0m15 1h0m-103 1h0m-20 1h0m22 1h0m102 1h0m-141 2h0m41 0h0m54 2h0m2 1h0m-112 2h0m70 0h0m-48 2h0m114 0h0m-71 2h0m-53 1h0m-18 1h0m61 1h0m0 1h0m-22 1h0m54 1h0m-79 2h0m119 1h0m-37 1h0m-109 2h0m106 0h0m-17 3h0m52 0h0m-117 2h0m125 0h0m-26 2h0m52 1h0m-98 2h0m-87 1h0m68 1h0m14 1h0m-74 1h0m-4 1h0m8 1h0m102 2h0m13 1h0m8 2h0m46 0h0m-121 2h0m-7 2h0m43 1h0m64 0h0m-78 2h0m19 1h0m2 1h0m1 2h0m3 1h0m-15 2h0m54 0h0m-21 2h0m-121 1h0m183 2h0m-97 2h0m21 0h0m-103 1h0m124 2h0m-111 2h0m128 1h0m12 1h0m-58 1h0m1 2h0m41 1h0m-105 1h0m23 2h0m-57 1h0m25 2h0m41 1h0m-72 1h0m60 2h0m65 1h0m48 1h0m13 2h0m-147 1h0m-34 1h0m111 2h0m37 1h0m-139 2h0m40 1h0m48 2h0m44 1h0m10 2h0m29 2h0m-139 1h0m18 2h0m26 0h0m-101 3h0m133 0h0m-42 3h0m70 0h0m-28 2h0m-40 2h0m22 2h0m82 1h0m2 1h0m-120 2h0m-35 1h0m136 2h0m-6 2h0m-76 2h0m7 1h0m-89 1h0m160 2h0m-72 2h0m63 2h0m21 0h0m-183 2h0m107 3h0m17 1h0m14 1h0m20 2h0m7 2h0m-115 1h0m-9 2h0m89 2h0m54 0h0m-35 2h0m-34 3h0m-45 1h0m53 2h0m26 2h0m-36 1h0m13 3h0m-62 2h0m21 1h0m-18 2h0m9 2h0m10 1h0m34 2h0m-108 2h0m138 1h0m-40 2h0m-83 2h0m-31 2h0m72 2h0m-59 2h0m90 1h0m1 2h0m-82 2h0m56 3h0m117 2h0m-43 2h0m-25 1h0m-111 3h0m42 1h0m-53 2h0m83 3h0m-41 1h0m-10 2h0m9 2h0m18 3h0m49 2h0m74 2h0m-104 1h0m23 2h0m-41 3h0m-44 2h0m19 1h0m93 3h0m47 3h0m-68 1h0m70 4h0m3 0h0m12 3h0m0 2h0m-161 3h0m-14 2h0m24 3h0m-7 1h0m-37 4h0m184 2h0m-110 2h0m13 3h0m56 3h0m-36 2h0m-41 1h0m56 2h0m-81 3h0m107 4h0m-61 2h0m46 3h0m57 2h0m-101 2h0m33 3h0m47 2h0m-51 5h0m-32 2h0m-37 2h0m9 4h0m51 1h0m-17 4h0m15 2h0m-73 3h0m142 2h0m-73 3h0m11 5h0m-29 2h0m55 2h0m-64 5h0m101 3h0m-77 4h0m10 3h0m-49 1h0m1 5h0m24 3h0m103 4h0m-145 1h0m109 6h0m11 1h0m-157 3h0m149 4h0m-100 5h0m111 4h0m-135 4h0m2 3h0m27 2h0m72 6h0m-64 5h0m-49 1h0m131 5h0m-53 4h0m53 4h0m-50 5h0m-43 5h0m103 4h0m-96 4h0m-14 8h0m28 1h0m0 8h0m-2 1h0m-64 9h0m110 3h0m-98 7h0m152 4h0m-30 3h0m-84 6h0m81 7h0m26 5h0m-166 5h0m55 6h0m105 11h0m-29 4h0m16 5h0m-61 5h0m37 13h0m-125 3h0m153 10h0m-51 8h0m-74 8h0m159 4h0m-10 13h0m-158 5h0m31 12h0m44 10h0m100 15h0m-140 3h0m55 19h0m83 11h0m-173 8h0m-20 23h0m71 8h0m95 22h0m-138 21h0m42 28h0"/>
<path vector-effect="non-scaling-stroke" id="t500c" d="M-98 1h0m98 0h0m-22 1h0m-53 1h0m8 0h0m73 1h0m73 1h0m-124 1h0m81 0h0m45 1h0m-36 1h0m-88 1h0m-50 1h0m18 0h0m60 1h0m-46 1h0m69 0h0m-97 2h0m64 0h0m13 1h0m20 1h0m-56 1h0m37 0h0m52 1h0m-89 1h0m102 1h0m-86 1h0m23 0h0m99 1h0m-176 1h0m130 0h0m-78 1h0m97 1h0m-146 1h0m168 1h0m-40 1h0m-42 1h0m46 0h0m-131 1h0m17 1h0m59 1h0m59 0h0m-85 1h0m-39 1h0m63 1h0m79 1h0m20 0h0m-96 1h0m69 1h0m-111 1h0m42 0h0m-76 2h0m25 0h0m20 1h0m107 1h0m-81 1h0m32 1h0m38 0h0m37 1h0m-84 1h0m-1 1h0m-28 1h0m74 1h0m24 0h0m-56 1h0m-76 1h0m60 1h0m-17 1h0m58 0h0m-127 2h0m157 0h0m-74 1h0m75 1h0m-179 1h0m101 0h0m82 1h0m-159 1h0m161 1h0m-36 1h0m-140 1h0m53 1h0m-55 1h0m110 0h0m-25 2h0m18 0h0m-6 1h0m19 0h0m-77 2h0m-28 1h0m90 1h0m88 0h0m-57 1h0m-67 1h0m66 1h0m-105 1h0m33 1h0m11 0h0m-74 1h0m33 1h0m128 1h0m-133 1h0m40 0h0m-29 2h0m18 0h0m7 2h0m98 0h0m17 1h0m-87 1h0m42 1h0m33 0h0m-152 2h0m165 0h0m-32 1h0m-49 1h0m85 1h0m-86 1h0m-62 1h0m-7 1h0m21 1h0m37 1h0m69 0h0m-66 1h0m-82 1h0m152 1h0m-59 1h0m52 1h0m-91 1h0m84 0h0m-150 2h0m111 0h0m21 2h0m-74 1h0m38 0h0m-72 1h0m166 1h0m-116 1h0m59 1h0m-112 1h0m7 1h0m119 1h0m-121 1h0m125 1h0m-65 1h0m1 0h0m64 1h0m-73 2h0m10 0h0m65 1h0m-127 1h0m92 1h0m-41 1h0m10 1h0m-52 1h0m29 0h0m132 2h0m-55 1h0m-34 1h0m63 0h0m-172 2h0m21 0h0m132 2h0m-107 1h0m86 0h0m-113 1h0m23 1h0m104 1h0m-125 1h0m125 1h0m-138 1h0m-2 1h0m58 2h0m-61 1h0m150 0h0m46 1h0m-189 1h0m117 1h0m-51 1h0m85 1h0m-19 1h0m-42 1h0m20 1h0m9 1h0m-24 1h0m38 1h0m-123 1h0m-5 1h0m65 1h0m-54 1h0m38 1h0m-6 2h0m121 0h0m1 1h0m-118 1h0m-14 1h0m24 1h0m60 2h0m45 1h0m-142 1h0m149 0h0m-84 1h0m-28 2h0m115 0h0m-123 1h0m61 1h0m-54 1h0m70 2h0m-101 1h0m63 0h0m0 2h0m-45 1h0m-38 1h0m68 1h0m5 1h0m-8 1h0m-63 2h0m37 1h0m118 0h0m-84 1h0m-81 1h0m118 1h0m26 1h0m-130 2h0m-3 1h0m14 0h0m31 2h0m-18 1h0m40 1h0m-90 2h0m55 0h0m-18 2h0m72 0h0m9 2h0m-95 1h0m112 1h0m-36 1h0m93 1h0m-46 1h0m-46 2h0m52 1h0m-45 1h0m-46 2h0m7 1h0m43 0h0m-10 1h0m-92 1h0m108 1h0m79 2h0m0 1h0m-53 1h0m-75 2h0m124 0h0m-182 2h0m105 0h0m-7 2h0m-20 2h0m6 0h0m75 2h0m-54 1h0m-50 2h0m110 0h0m-25 1h0m-38 2h0m-8 1h0m81 1h0m-14 1h0m-58 2h0m73 1h0m-108 1h0m53 2h0m-90 1h0m27 1h0m-26 1h0m-31 1h0m59 1h0m69 2h0m40 1h0m-48 1h0m-95 2h0m1 0h0m0 3h0m39 0h0m-55 2h0m4 1h0m2 1h0m119 1h0m-131 1h0m-7 1h0m118 2h0m19 2h0m-81 2h0m120 0h0m-139 2h0m142 1h0m-187 2h0m152 1h0m12 2h0m18 0h0m-89 2h0m72 1h0m-102 2h0m121 0h0m-112 2h0m-51 2h0m133 1h0m0 2h0m-42 1h0m1 1h0m-15 2h0m28 0h0m39 2h0m-144 2h0m156 1h0m-86 1h0m-75 2h0m25 1h0m135 2h0m-57 1h0m11 2h0m-112 1h0m101 2h0m-33 2h0m77 0h0m-40 2h0m-122 2h0m91 1h0m2 1h0m-18 2h0m-30 1h0m37 2h0m-41 1h0m-5 2h0m121 2h0m-54 1h0m27 2h0m-80 2h0m148 1h0m-103 2h0m63 2h0m-152 1h0m8 2h0m68 0h0m-42 2h0m104 3h0m36 1h0m-20 2h0m24 1h0m-180 2h0m30 1h0m152 2h0m-9 2h0m-21 1h0m-155 3h0m124 1h0m-114 1h0m38 3h0m42 1h0m102 2h0m-171 1h0m121 2h0m-81 3h0m39 0h0m-68 3h0m80 1h0m-113 1h0m105 4h0m33 1h0m-12 2h0m65 2h0m1 2h0m-74 1h0m4 1h0m-16 3h0m-72 1h0m21 3h0m-52 2h0m118 2h0m65 1h0m10 3h0m-70 1h0m-77 3h0m64 2h0m5 1h0m26 2h0m36 3h0m-39 1h0m-32 2h0m-82 2h0m16 3h0m133 1h0m-156 3h0m18 2h0m-30 3h0m25 1h0m52 3h0m99 0h0m-78 4h0m-57 1h0m0 3h0m-7 1h0m-1 3h0m-2 2h0m43 3h0m105 1h0m-76 5h0m59 0h0m-136 2h0m1 3h0m110 3h0m28 1h0m-99 3h0m83 3h0m-141 2h0m155 2h0m8 3h0m-102 2h0m-38 3h0m53 4h0m-67 2h0m-5 3h0m41 3h0m95 3h0m-116 2h0m65 1h0m-2 4h0m-4 4h0m-73 2h0m103 1h0m3 3h0m-8 4h0m-67 2h0m130 4h0m-138 3h0m109 2h0m9 5h0m-119 2h0m77 5h0m-120 2h0m43 3h0m94 3h0m12 4h0m-59 3h0m-13 2h0m-19 3h0m34 5h0m-13 4h0m44 1h0m-121 5h0m49 4h0m120 4h0m0 5h0m-158 3h0m103 1h0m-101 4h0m13 6h0m-2 4h0m95 3h0m-51 6h0m45 2h0m-16 5h0m19 4h0m-83 3h0m27 6h0m41 5h0m84 7h0m-100 1h0m105 7h0m-33 7h0m-68 1h0m-26 8h0m1 3h0m10 7h0m-34 4h0m-11 8h0m71 2h0m62 8h0m-47 8h0m19 6h0m-136 8h0m83 2h0m56 10h0m21 5h0m-61 11h0m53 4h0m-154 6h0m135 10h0m-102 12h0m45 3h0m4 9h0m3 10h0m-87 14h0m176 5h0m-32 15h0m-110 17h0m95 6h0m6 19h0m14 10h0m-43 18h0m-78 14h0m79 14h0m60 24h0"/>
<path vector-effect="non-scaling-stroke" id="t750a" d="M86 0h0m-109 1h0m123 0h0m-48 1h0m19 0h0m-153 1h0m6 0h0m-14 1h0m86 0h0m64 1h0m-30 1h0m37 0h0m10 0h0m-60 1h0m-87 1h0m29 0h0m-22 1h0m27 0h0m102 1h0m5 0h0m-105 1h0m81 0h0m36 0h0m-17 1h0m-46 1h0m36 0h0m-116 1h0m128 0h0m7 0h0m-167 1h0m125 1h0m11 0h0m18 1h0m-153 1h0m16 0h0m2 0h0m91 1h0m68 0h0m-2 1h0m0 0h0m-145 1h0m23 1h0m81 0h0m-43 1h0m99 0h0m-194 1h0m111 0h0m-27 1h0m50 0h0m-72 1h0m25 0h0m-11 1h0m15 1h0m62 0h0m-57 1h0m39 0h0m46 0h0m-69 1h0m-27 1h0m58 0h0m-129 1h0m63 0h0m-63 1h0m104 0h0m-108 1h0m118 0h0m-121 1h0m97 1h0m51 0h0m-111 1h0m40 0h0m96 0h0m-148 1h0m163 0h0m-165 1h0m-33 1h0m151 0h0m-94 1h0m93 0h0m-116 1h0m150 0h0m-34 1h0m-110 1h0m18 0h0m97 0h0m-79 1h0m43 1h0m9 0h0m-18 1h0m-73 1h0m109 0h0m46 0h0m-124 1h0m-30 1h0m58 0h0m-31 1h0m49 0h0m22 1h0m25 0h0m-112 1h0m141 0h0m-147 1h0m117 0h0m-68 1h0m-50 1h0m23 0h0m34 1h0m84 0h0m-130 1h0m119 0h0m-117 1h0m46 0h0m80 1h0m6 0h0m-109 1h0m-46 1h0m130 0h0m-152 1h0m27 0h0m105 1h0m45 0h0m-182 1h0m69 1h0m90 0h0m-142 1h0m96 0h0m-37 1h0m21 0h0m24 1h0m-22 1h0m93 0h0m-119 1h0m-66 1h0m26 0h0m120 0h0m23 1h0m-160 1h0m155 0h0m-170 1h0m73 1h0m60 0h0m15 0h0m-48 1h0m64 0h0m-116 1h0m-23 1h0m153 0h0m-156 1h0m123 0h0m-95 1h0m-58 1h0m83 0h0m-20 1h0m7 0h0m25 1h0m5 1h0m38 0h0m-126 1h0m174 0h0m-24 1h0m-62 1h0m12 0h0m2 1h0m52 0h0m-166 1h0m136 1h0m11 0h0m-83 1h0m72 0h0m-110 1h0m47 0h0m77 1h0m33 0h0m0 1h0m-21 1h0m0 0h0m-65 1h0m91 0h0m-76 1h0m-79 1h0m47 0h0m68 1h0m-18 1h0m5 0h0m12 1h0m8 0h0m-108 1h0m105 0h0m-58 1h0m-28 1h0m130 0h0m-103 1h0m-11 1h0m25 0h0m-98 1h0m128 0h0m-87 1h0m-35 1h0m162 0h0m-161 1h0m44 1h0m83 0h0m-128 1h0m163 0h0m-39 1h0m39 0h0m-85 1h0m93 0h0m-86 1h0m-4 1h0m35 0h0m-105 1h0m137 1h0m25 0h0m-148 1h0m77 0h0m-19 1h0m-86 1h0m54 0h0m2 1h0m17 0h0m-37 2h0m10 0h0m116 0h0m-31 1h0m-40 1h0m7 1h0m33 0h0m23 1h0m16 0h0m-6 1h0m15 1h0m3 0h0m-138 1h0m4 0h0m95 1h0m-31 1h0m-37 1h0m107 0h0m-139 1h0m70 0h0m33 1h0m-59 1h0m33 1h0m53 0h0m-147 1h0m42 0h0m-50 1h0m97 0h0m69 1h0m1 1h0m-31 1h0m14 0h0m-79 1h0m13 0h0m19 1h0m-65 1h0m21 0h0m17 1h0m32 1h0m20 0h0m-137 1h0m75 1h0m6 0h0m-97 1h0m111 0h0m8 1h0m48 1h0m-160 1h0m102 0h0m29 1h0m-39 1h0m13 0h0m26 1h0m-98 1h0m83 0h0m25 1h0m15 0h0m-79 1h0m16 1h0m-88 1h0m169 0h0m-97 1h0m68 0h0m-70 1h0m-52 1h0m90 1h0m69 0h0m-193 1h0m8 0h0m39 2h0m128 0h0m-82 1h0m19 0h0m-18 1h0m45 1h0m-37 1h0m43 0h0m6 1h0m10 0h0m-38 1h0m-25 1h0m73 0h0m-22 1h0m-38 1h0m12 1h0m-89 1h0m31 0h0m120 1h0m-135 1h0m32 0h0m-6 1h0m-62 1h0m18 0h0m81 1h0m-86 1h0m90 0h0m-8 1h0m26 1h0m30 1h0m-113 1h0m91 0h0m-78 1h0m19 0h0m-51 1h0m84 1h0m64 0h0m-89 1h0m-72 1h0m22 1h0m69 0h0m-62 1h0m-37 1h0m156 0h0m-58 1h0m65 1h0m-73 1h0m6 0h0m23 1h0m63 1h0m-191 1h0m21 1h0m8 0h0m-11 1h0m122 1h0m-66 1h0m-69 1h0m141 0h0m-9 1h0m0 1h0m50 0h0m-138 1h0m33 1h0m0 0h0m113 1h0m-151 1h0m-28 1h0m174 0h0m-55 2h0m45 0h0m-51 1h0m-4 1h0m41 0h0m-155 1h0m-15 1h0m122 1h0m73 1h0m3 0h0m-28 1h0m28 0h0m-111 2h0m96 0h0m-21 1h0m30 1h0m-149 1h0m62 0h0m-28 2h0m24 0h0m-28 1h0m-65 1h0m49 0h0m115 1h0m-126 1h0m29 1h0m65 1h0m47 0h0m-133 1h0m-25 1h0m50 1h0m78 1h0m27 0h0m-142 1h0m45 1h0m53 1h0m11 0h0m-12 1h0m-121 1h0m63 1h0m66 0h0m31 1h0m-114 1h0m55 1h0m-116 1h0m59 1h0m69 1h0m-62 1h0m89 1h0m37 0h0m-145 1h0m-1 1h0m55 1h0m60 0h0m-158 2h0m89 0h0m1 1h0m73 1h0m-84 1h0m14 1h0m44 1h0m-134 1h0m25 0h0m36 1h0m109 1h0m-49 1h0m-120 1h0m69 1h0m25 0h0m47 1h0m-133 1h0m152 1h0m20 1h0m-122 1h0m53 0h0m-77 1h0m151 1h0m-143 2h0m59 0h0m44 1h0m19 1h0m-145 1h0m114 0h0m52 1h0m-167 1h0m17 1h0m98 1h0m34 1h0m-13 1h0m-158 1h0m187 1h0m-149 1h0m63 1h0m36 1h0m-35 1h0m51 0h0m-78 1h0m-42 1h0m56 1h0m36 1h0m56 1h0m-172 1h0m119 1h0m-85 1h0m-16 1h0m99 0h0m64 1h0m-143 2h0m-49 1h0m108 1h0m62 0h0m-141 1h0m53 1h0m-29 1h0m13 1h0m28 2h0m7 0h0m71 1h0m-57 1h0m-75 1h0m77 1h0m-71 1h0m16 1h0m81 1h0m-104 1h0m-35 1h0m115 1h0m-43 1h0m1 1h0m95 1h0m-62 1h0m-34 1h0m-69 1h0m49 1h0m80 1h0m-126 1h0m137 1h0m-77 1h0m1 1h0m-26 1h0m138 1h0m-18 1h0m-165 1h0m95 2h0m62 0h0m-127 1h0m30 2h0m77 0h0m8 1h0m-20 2h0m51 1h0m-2 1h0m-121 1h0m76 1h0m-21 1h0m-97 1h0m73 1h0m71 1h0m-153 1h0m2 1h0m140 1h0m-10 1h0m-93 2h0m-22 1h0m24 1h0m25 1h0m-16 1h0m26 1h0m-65 1h0m83 2h0m42 1h0m-133 1h0m26 1h0m89 1h0m-113 1h0m93 1h0m-100 2h0m26 0h0m12 1h0m66 2h0m-14 1h0m-48 1h0m10 2h0m44 0h0m-97 2h0m30 2h0m73 0h0m24 1h0m-56 2h0m-5 1h0m86 1h0m-145 1h0m11 1h0m-16 2h0m22 1h0m112 1h0m-76 2h0m94 1h0m31 1h0m-79 1h0m-72 1h0m91 2h0m30 1h0m-50 1h0m13 2h0m47 0h0m-12 2h0m-84 2h0m-63 1h0m68 1h0m-6 1h0m87 2h0m-7 1h0m-45 1h0m44 1h0m15 1h0m-133 2h0m111 2h0m-16 1h0m51 1h0m-79 2h0m34 2h0m9 0h0m7 1h0m-20 3h0m34 1h0m25 1h0m-184 1h0m-3 2h0m86 1h0m105 2h0m-159 1h0m2 2h0m71 1h0m58 1h0m-71 2h0m25 2h0m-25 1h0m-72 1h0m86 2h0m-93 2h0m144 1h0m-136 2h0m160 1h0m-54 1h0m47 1h0m-146 2h0m-24 2h0m54 2h0m105 1h0m-82 1h0m72 2h0m32 2h0m-178 2h0m65 1h0m4 1h0m66 1h0m-73 3h0m113 2h0m-167 1h0m64 2h0m-59 1h0m125 2h0m-20 2h0m1 2h0m-17 1h0m21 2h0m-90 2h0m70 1h0m54 2h0m9 2h0m-63 2h0m77 2h0m-136 2h0m10 1h0m-51 2h0m9 2h0m1 1h0m122 2h0m-129 2h0m117 2h0m-82 2h0m55 3h0m62 1h0m-1 1h0m-153 3h0m119 1h0m-23 2h0m11 2h0m-47 2h0m11 3h0m93 2h0m-54 2h0m-30 2h0m41 1h0m-94 2h0m91 3h0m58 2h0m-46 1h0m-122 4h0m-16 2h0m161 2h0m-163 2h0m154 2h0m-141 2h0m103 3h0m-63 1h0m-15 4h0m121 1h0m-28 3h0m36 3h0m-38 3h0m28 1h0m-15 3h0m-28 2h0m77 2h0m-108 2h0m-33 3h0m-16 2h0m123 3h0m-158 4h0m178 2h0m-88 2h0m-2 4h0m107 3h0m-67 1h0m56 4h0m-69 2h0m-1 2h0m-40 5h0m65 0h0m-102 4h0m-7 3h0m-27 4h0m24 1h0m96 4h0m-81 5h0m88 2h0m-97 2h0m-5 4h0m146 2h0m-81 5h0m59 1h0m-144 7h0m154 3h0m-161 4h0m105 1h0m-85 6h0m40 4h0m5 4h0m3 2h0m-61 5h0m0 2h0m146 4h0m-87 7h0m-36 4h0m61 3h0m2 4h0m66 2h0m-88 5h0m-16 4h0m58 6h0m-70 4h0m53 5h0m22 6h0m-71 3h0m18 6h0m88 8h0m-33 4h0m24 7h0m-81 7h0m112 6h0m-44 6h0m-47 2h0m-33 11h0m85 1h0m-67 8h0m67 7h0m4 12h0m0 6h0m-135 6h0m54 6h0m107 7h0m-131 11h0m59 8h0m16 17h0m-97 7h0m25 11h0m-14 8h0m112 19h0m31 11h0m-2 12h0"/>
<path vector-effect="non-scaling-stroke" id="t750b" d="M-70 0h0m64 1h0m59 0h0m-144 1h0m151 0h0m-152 1h0m50 1h0m62 0h0m30 0h0m-84 1h0m16 1h0m104 0h0m-127 1h0m88 0h0m-103 1h0m47 0h0m95 0h0m-132 1h0m98 0h0m-71 1h0m80 0h0m-38 1h0m57 1h0m5 0h0m-122 1h0m9 0h0m72 1h0m38 0h0m-138 1h0m156 0h0m-176 1h0m101 0h0m-78 1h0m69 0h0m-62 1h0m103 0h0m-37 1h0m-67 1h0m62 0h0m3 0h0m-47 1h0m-28 1h0m43 0h0m-22 1h0m36 0h0m95 0h0m-95 1h0m-71 1h0m41 0h0m-18 1h0m125 0h0m-171 1h0m61 0h0m96 1h0m9 0h0m-121 1h0m130 0h0m-60 1h0m-96 1h0m113 0h0m54 0h0m-176 1h0m-14 1h0m145 0h0m-109 1h0m98 0h0m-40 1h0m24 0h0m43 1h0m-87 1h0m7 0h0m18 1h0m41 0h0m55 0h0m-148 1h0m76 1h0m11 0h0m-101 1h0m90 0h0m-103 1h0m6 0h0m35 1h0m68 0h0m-110 1h0m170 1h0m4 0h0m-191 1h0m127 0h0m-108 1h0m176 0h0m-156 1h0m1 0h0m-41 1h0m174 0h0m-107 1h0m19 0h0m47 1h0m-54 1h0m106 0h0m-10 1h0m-167 1h0m28 0h0m-5 1h0m141 0h0m-167 1h0m162 0h0m-151 1h0m75 0h0m-70 1h0m28 0h0m35 1h0m10 0h0m28 1h0m-96 1h0m102 0h0m-34 1h0m77 0h0m-105 1h0m-46 1h0m36 0h0m84 0h0m-16 1h0m-13 1h0m75 0h0m-157 1h0m161 0h0m-131 1h0m54 0h0m-85 1h0m14 0h0m125 1h0m-122 1h0m82 0h0m40 1h0m-145 1h0m110 0h0m-54 1h0m42 0h0m-21 1h0m80 0h0m-32 1h0m-96 1h0m48 0h0m-21 1h0m63 0h0m-81 1h0m60 0h0m-47 1h0m23 0h0m-82 1h0m-14 1h0m18 0h0m-14 1h0m114 0h0m-69 1h0m110 0h0m-96 1h0m37 1h0m-98 1h0m31 0h0m141 0h0m-171 1h0m29 1h0m87 0h0m-68 1h0m4 1h0m30 0h0m106 0h0m-32 1h0m-150 1h0m93 0h0m-15 1h0m43 0h0m-71 1h0m104 0h0m-15 1h0m5 1h0m16 0h0m-154 1h0m13 1h0m32 0h0m-16 1h0m73 0h0m50 1h0m-43 1h0m42 0h0m18 1h0m1 0h0m-33 1h0m-150 1h0m15 1h0m74 0h0m-57 1h0m82 0h0m46 0h0m-161 1h0m169 1h0m-58 1h0m48 0h0m-82 1h0m-34 1h0m31 0h0m5 0h0m-27 1h0m41 1h0m1 0h0m-57 1h0m128 0h0m12 1h0m-122 1h0m-58 1h0m78 0h0m48 0h0m25 1h0m-152 1h0m76 0h0m-7 1h0m55 1h0m-95 1h0m114 0h0m11 1h0m29 0h0m-103 1h0m-63 1h0m123 0h0m-39 1h0m98 0h0m-110 1h0m-11 1h0m116 0h0m-49 1h0m-140 1h0m155 0h0m-75 1h0m-28 1h0m131 0h0m1 0h0m-99 2h0m89 0h0m-118 1h0m42 0h0m19 1h0m-99 1h0m138 0h0m-148 1h0m42 0h0m105 1h0m-40 1h0m78 0h0m-178 1h0m74 1h0m75 0h0m-93 1h0m-70 1h0m156 0h0m-64 1h0m13 1h0m67 0h0m-31 1h0m-38 1h0m54 0h0m-138 1h0m20 1h0m116 0h0m-74 1h0m66 0h0m-151 1h0m94 1h0m28 1h0m53 0h0m-133 1h0m9 0h0m-25 1h0m40 1h0m-1 1h0m115 0h0m-11 1h0m-156 1h0m159 0h0m-157 1h0m119 0h0m-59 1h0m-1 1h0m-75 1h0m67 0h0m64 1h0m-23 1h0m73 0h0m-85 1h0m-97 1h0m129 0h0m-115 1h0m34 1h0m82 0h0m14 1h0m-52 1h0m1 1h0m71 0h0m7 1h0m-159 1h0m113 0h0m10 1h0m26 0h0m-120 1h0m-8 1h0m88 1h0m-42 1h0m34 0h0m-87 1h0m6 0h0m52 1h0m-56 1h0m2 1h0m146 0h0m-132 1h0m-40 1h0m10 0h0m171 1h0m-97 1h0m56 0h0m-61 1h0m89 1h0m-97 1h0m18 0h0m18 1h0m70 1h0m-163 1h0m143 0h0m-155 1h0m88 1h0m-83 1h0m177 0h0m-185 1h0m91 1h0m52 0h0m-128 1h0m10 1h0m44 1h0m100 0h0m-62 1h0m-85 1h0m20 0h0m99 1h0m-8 1h0m-107 1h0m63 0h0m-6 1h0m56 1h0m-83 1h0m-53 1h0m44 1h0m129 0h0m-66 1h0m31 0h0m-26 1h0m16 1h0m-7 1h0m44 0h0m-41 1h0m-26 1h0m-11 1h0m64 0h0m-145 1h0m162 1h0m-153 1h0m128 1h0m-124 1h0m50 0h0m67 1h0m12 1h0m29 0h0m-172 1h0m185 1h0m-83 1h0m-52 1h0m99 0h0m-3 1h0m-6 1h0m-141 1h0m21 0h0m135 1h0m-76 1h0m-89 1h0m10 1h0m80 0h0m-17 2h0m112 0h0m-166 1h0m120 0h0m-63 1h0m-60 1h0m146 1h0m13 1h0m-150 1h0m35 1h0m-22 1h0m28 0h0m38 1h0m-58 1h0m68 0h0m-47 1h0m-52 2h0m107 0h0m62 1h0m-109 1h0m36 1h0m14 0h0m-122 2h0m163 0h0m-60 1h0m-63 1h0m54 0h0m-50 2h0m90 1h0m17 0h0m-46 1h0m50 1h0m-136 1h0m61 1h0m-75 1h0m17 0h0m7 1h0m93 1h0m-68 1h0m35 0h0m-85 1h0m-3 2h0m116 0h0m-47 1h0m-37 1h0m4 1h0m40 1h0m-55 1h0m145 1h0m29 0h0m-74 2h0m27 0h0m-41 1h0m55 1h0m-42 1h0m-71 1h0m100 0h0m-51 1h0m93 2h0m-60 1h0m30 0h0m-30 1h0m-36 1h0m60 1h0m5 0h0m-134 2h0m126 1h0m-143 1h0m17 1h0m133 0h0m-125 1h0m44 1h0m-75 1h0m54 1h0m-3 1h0m132 0h0m-48 2h0m-141 1h0m34 0h0m112 2h0m40 1h0m-180 1h0m136 0h0m-64 1h0m45 1h0m-33 1h0m91 1h0m-175 1h0m122 1h0m-50 1h0m91 1h0m-55 1h0m-71 1h0m117 1h0m-101 1h0m47 1h0m81 1h0m-63 1h0m66 1h0m-168 1h0m99 1h0m-87 1h0m114 1h0m-132 1h0m127 1h0m-27 1h0m20 1h0m44 1h0m-45 1h0m-121 1h0m30 1h0m-6 1h0m40 1h0m-36 1h0m112 1h0m34 1h0m-45 1h0m-143 2h0m17 0h0m81 1h0m-43 2h0m80 1h0m-16 1h0m60 0h0m-129 2h0m59 0h0m51 2h0m-43 1h0m73 1h0m-110 1h0m110 1h0m-21 1h0m-129 1h0m132 2h0m-8 1h0m19 0h0m-170 1h0m132 1h0m-9 2h0m-135 2h0m197 0h0m-107 2h0m90 0h0m-42 1h0m-118 2h0m169 1h0m-86 1h0m28 1h0m-62 2h0m-38 1h0m111 1h0m28 1h0m-1 1h0m-114 2h0m13 0h0m0 2h0m96 0h0m-130 2h0m128 2h0m26 1h0m-45 1h0m6 1h0m-44 1h0m11 0h0m-111 3h0m159 0h0m-61 2h0m-13 1h0m38 1h0m-94 1h0m70 2h0m28 0h0m-67 2h0m30 1h0m-32 1h0m92 2h0m-142 1h0m115 2h0m-82 1h0m58 1h0m-26 2h0m91 1h0m-63 1h0m-74 1h0m50 2h0m35 1h0m38 1h0m-93 1h0m16 2h0m28 1h0m-36 2h0m53 1h0m-28 2h0m-50 1h0m-9 1h0m23 2h0m21 1h0m42 1h0m-90 2h0m120 1h0m-125 1h0m152 2h0m-93 1h0m-73 2h0m-12 1h0m48 1h0m53 2h0m70 1h0m-172 2h0m96 1h0m15 2h0m47 1h0m-56 2h0m-40 1h0m-6 1h0m63 2h0m59 1h0m-117 2h0m6 2h0m105 1h0m-19 2h0m29 2h0m-169 1h0m33 2h0m9 2h0m80 0h0m-129 2h0m12 1h0m179 2h0m-15 3h0m14 0h0m-56 2h0m0 3h0m-139 1h0m54 1h0m-8 3h0m119 0h0m-111 2h0m125 3h0m-174 1h0m187 1h0m-55 2h0m-40 1h0m47 2h0m-124 2h0m115 2h0m-119 2h0m121 1h0m-84 2h0m11 3h0m49 2h0m67 0h0m-107 3h0m-35 3h0m70 2h0m-102 1h0m108 1h0m-42 3h0m86 1h0m-160 3h0m128 2h0m54 1h0m-81 3h0m76 1h0m-112 2h0m131 3h0m-14 3h0m-94 1h0m-53 2h0m155 2h0m7 1h0m-156 2h0m131 3h0m-142 2h0m-13 3h0m166 2h0m-149 2h0m115 2h0m-48 2h0m-24 2h0m16 4h0m68 2h0m-67 2h0m77 2h0m-161 3h0m161 3h0m-5 2h0m-45 2h0m-103 3h0m44 1h0m43 3h0m15 4h0m-108 2h0m73 3h0m-72 2h0m125 3h0m-18 1h0m9 5h0m-48 2h0m-46 1h0m18 5h0m59 3h0m-41 2h0m-21 2h0m-10 4h0m78 2h0m53 4h0m-1 4h0m-32 1h0m-56 5h0m-51 1h0m44 5h0m15 1h0m7 3h0m95 4h0m-24 5h0m-68 1h0m42 6h0m-49 3h0m95 3h0m-7 5h0m-78 1h0m-9 5h0m-77 5h0m150 3h0m-58 4h0m73 5h0m-124 1h0m0 4h0m77 5h0m-68 4h0m103 6h0m-131 2h0m-38 4h0m125 6h0m38 8h0m-44 2h0m20 8h0m-36 3h0m-99 5h0m49 8h0m58 5h0m32 5h0m51 3h0m-82 8h0m64 6h0m-116 4h0m73 9h0m-39 3h0m51 7h0m-147 8h0m55 11h0m113 4h0m-108 11h0m60 3h0m-82 10h0m-13 10h0m69 10h0m21 7h0m-1 18h0m42 10h0m-120 12h0m87 12h0m-63 4h0m-54 24h0"/>
<path vector-effect="non-scaling-stroke" id="t750c" d="M78 0h0m-52 1h0m67 0h0m-149 1h0m105 0h0m-31 1h0m81 0h0m-88 1h0m75 0h0m-11 1h0m20 0h0m-9 1h0m-148 1h0m121 0h0m-60 1h0m18 0h0m-112 1h0m155 0h0m-136 1h0m134 0h0m-17 1h0m18 0h0m-75 1h0m46 0h0m-95 1h0m39 0h0m9 1h0m98 0h0m-165 1h0m80 0h0m-19 1h0m104 0h0m-110 1h0m102 0h0m-131 1h0m92 0h0m-130 1h0m79 0h0m-57 1h0m154 0h0m-62 1h0m31 0h0m-102 1h0m7 0h0m73 1h0m-117 1h0m175 0h0m-137 1h0m29 0h0m-33 1h0m67 0h0m-40 1h0m55 0h0m-64 1h0m30 0h0m-74 1h0m105 0h0m-22 1h0m34 0h0m-133 1h0m40 0h0m63 1h0m40 0h0m-9 1h0m7 1h0m14 0h0m-112 1h0m150 0h0m-178 1h0m91 0h0m-106 1h0m132 0h0m-31 1h0m-7 1h0m77 0h0m-148 1h0m54 0h0m-48 1h0m46 0h0m-49 1h0m40 0h0m74 1h0m53 0h0m-117 1h0m-76 1h0m66 0h0m5 0h0m-71 1h0m42 1h0m-1 1h0m141 0h0m-92 1h0m33 0h0m-119 1h0m29 0h0m139 1h0m17 0h0m-176 1h0m98 0h0m-30 1h0m11 0h0m-20 1h0m22 1h0m2 0h0m95 0h0m-58 1h0m-64 1h0m18 0h0m-77 1h0m176 0h0m-117 1h0m62 0h0m-55 1h0m103 0h0m-26 1h0m-153 1h0m7 1h0m9 0h0m65 0h0m-17 1h0m-57 1h0m153 0h0m-128 1h0m11 0h0m-32 1h0m7 0h0m-6 1h0m105 1h0m20 0h0m11 0h0m1 1h0m-126 1h0m14 0h0m-27 1h0m142 0h0m-3 1h0m-147 1h0m149 0h0m-60 1h0m97 0h0m-151 1h0m-2 1h0m31 0h0m-62 1h0m98 0h0m-33 1h0m6 0h0m-15 1h0m9 1h0m93 0h0m-138 1h0m43 0h0m-10 1h0m53 0h0m-78 1h0m151 0h0m-182 1h0m195 0h0m-104 1h0m-79 1h0m49 1h0m117 0h0m-106 1h0m97 0h0m20 1h0m-53 1h0m19 0h0m-18 1h0m57 0h0m-96 1h0m78 0h0m-76 1h0m87 0h0m4 1h0m-92 1h0m61 0h0m8 1h0m-104 1h0m119 0h0m-150 1h0m78 0h0m-84 1h0m133 0h0m-161 1h0m176 0h0m-19 1h0m-52 1h0m-59 1h0m134 0h0m-141 1h0m81 0h0m-28 1h0m77 0h0m28 1h0m-122 1h0m101 0h0m-9 1h0m-72 1h0m32 0h0m-121 1h0m10 0h0m98 1h0m-98 1h0m96 0h0m-28 1h0m107 0h0m-145 1h0m75 1h0m39 0h0m-64 1h0m10 1h0m41 0h0m-72 1h0m105 0h0m-67 1h0m84 0h0m-99 1h0m95 1h0m-26 1h0m23 0h0m-187 1h0m148 0h0m-54 1h0m23 0h0m-71 1h0m-10 1h0m-16 1h0m96 0h0m9 0h0m-62 1h0m-1 1h0m31 1h0m35 0h0m-13 1h0m-55 1h0m7 0h0m90 1h0m30 0h0m-93 1h0m18 1h0m58 0h0m24 1h0m-123 1h0m36 0h0m-35 1h0m68 0h0m17 1h0m6 1h0m17 0h0m-112 1h0m47 1h0m-103 1h0m140 0h0m-140 1h0m73 0h0m-69 1h0m58 1h0m-45 1h0m36 0h0m-2 1h0m97 1h0m21 0h0m-110 1h0m25 0h0m68 1h0m-49 1h0m41 0h0m-94 1h0m99 0h0m-85 1h0m19 1h0m52 0h0m-118 1h0m61 1h0m-38 1h0m12 0h0m12 1h0m79 1h0m17 0h0m-176 1h0m87 1h0m86 0h0m0 1h0m-74 1h0m54 0h0m-131 1h0m57 1h0m79 0h0m-75 1h0m14 0h0m57 1h0m-22 1h0m-129 1h0m43 1h0m126 0h0m6 1h0m-177 1h0m175 0h0m-143 1h0m85 1h0m39 0h0m38 1h0m-147 1h0m67 0h0m13 1h0m-8 1h0m57 0h0m-78 1h0m53 1h0m-118 1h0m29 0h0m100 1h0m-158 1h0m188 0h0m-137 1h0m-21 1h0m118 1h0m1 0h0m-113 1h0m100 1h0m7 0h0m-140 1h0m84 1h0m-90 1h0m108 0h0m-48 1h0m72 0h0m38 1h0m-102 1h0m126 1h0m-181 1h0m8 0h0m24 1h0m61 1h0m-40 1h0m7 0h0m-17 1h0m39 1h0m10 0h0m-55 1h0m-9 1h0m-3 1h0m104 0h0m-117 1h0m102 1h0m-127 1h0m4 0h0m38 1h0m89 1h0m-78 1h0m30 0h0m5 1h0m13 0h0m-99 2h0m150 0h0m-123 1h0m34 1h0m-5 1h0m75 0h0m-125 1h0m10 1h0m15 0h0m72 1h0m-24 1h0m-32 1h0m109 1h0m32 0h0m-164 1h0m115 1h0m-144 1h0m25 0h0m100 1h0m38 1h0m-120 1h0m95 1h0m45 0h0m-97 1h0m-77 1h0m151 1h0m-65 1h0m66 0h0m-83 1h0m-76 1h0m151 1h0m26 0h0m-61 1h0m-90 1h0m-18 1h0m49 0h0m-25 1h0m151 1h0m-120 1h0m8 1h0m29 0h0m-15 1h0m53 1h0m-59 1h0m12 1h0m46 1h0m8 0h0m-73 1h0m-44 1h0m11 1h0m54 1h0m36 0h0m-116 1h0m6 1h0m59 1h0m-50 1h0m54 1h0m-60 1h0m103 0h0m52 1h0m-165 1h0m48 1h0m60 0h0m-45 2h0m-57 1h0m174 0h0m-161 1h0m111 2h0m13 0h0m-119 1h0m70 0h0m-55 2h0m43 0h0m-82 1h0m153 1h0m-117 1h0m43 0h0m50 2h0m40 0h0m-176 1h0m11 1h0m27 1h0m122 1h0m-32 1h0m-71 1h0m13 1h0m65 1h0m-111 1h0m41 0h0m2 1h0m105 1h0m-162 1h0m112 1h0m3 1h0m55 1h0m-127 1h0m100 0h0m-79 2h0m-79 1h0m186 1h0m6 0h0m-66 1h0m-123 2h0m162 0h0m-16 1h0m-62 1h0m74 1h0m-14 1h0m41 1h0m-1 1h0m-172 1h0m48 0h0m103 1h0m-62 1h0m-101 1h0m58 1h0m-47 2h0m46 0h0m-31 2h0m5 0h0m53 1h0m-85 1h0m1 1h0m79 2h0m40 0h0m20 1h0m-17 1h0m65 1h0m-78 1h0m4 1h0m-50 1h0m5 1h0m49 1h0m69 1h0m-5 1h0m-92 1h0m99 1h0m-105 1h0m10 1h0m79 1h0m12 1h0m-19 1h0m11 1h0m-137 1h0m-30 1h0m24 1h0m-27 1h0m14 1h0m73 1h0m-95 1h0m174 1h0m-143 1h0m110 1h0m-43 1h0m-65 2h0m38 1h0m-23 1h0m5 1h0m44 1h0m61 0h0m-114 2h0m114 1h0m-48 2h0m73 1h0m-16 1h0m-115 1h0m137 0h0m-175 2h0m87 0h0m-24 1h0m51 2h0m54 1h0m-101 2h0m19 1h0m61 1h0m-20 1h0m-15 1h0m-32 1h0m34 1h0m-6 1h0m-25 1h0m-1 2h0m24 1h0m-46 1h0m33 1h0m-96 1h0m121 2h0m22 0h0m-8 1h0m42 1h0m-110 2h0m104 1h0m-105 1h0m-32 2h0m67 1h0m-7 1h0m-57 2h0m18 0h0m79 2h0m-1 1h0m10 2h0m-4 1h0m23 1h0m-12 1h0m-2 1h0m36 1h0m-72 2h0m-26 1h0m80 1h0m-38 2h0m-121 1h0m110 1h0m-35 1h0m68 2h0m7 1h0m-149 1h0m130 1h0m-119 1h0m17 2h0m-37 2h0m158 1h0m-73 1h0m89 2h0m-119 1h0m126 1h0m-7 1h0m-109 2h0m-7 1h0m120 2h0m-67 1h0m-51 1h0m99 2h0m9 1h0m-136 1h0m128 2h0m-111 2h0m62 1h0m-66 2h0m109 1h0m20 2h0m13 0h0m-69 2h0m-72 1h0m-4 2h0m97 1h0m-149 2h0m20 2h0m112 2h0m-42 1h0m-54 2h0m54 0h0m105 3h0m-142 2h0m18 0h0m89 2h0m26 1h0m-37 2h0m-41 1h0m63 2h0m3 2h0m-155 2h0m134 0h0m-55 3h0m-55 2h0m-37 1h0m49 2h0m53 1h0m55 2h0m-116 1h0m31 2h0m65 2h0m-52 2h0m83 2h0m-111 1h0m34 2h0m-90 2h0m52 2h0m-21 2h0m120 1h0m-76 3h0m110 0h0m-127 2h0m-2 3h0m28 1h0m25 1h0m-87 4h0m18 1h0m-10 3h0m13 1h0m-35 2h0m155 1h0m-157 2h0m10 2h0m125 2h0m-2 3h0m27 1h0m15 2h0m-3 2h0m-141 2h0m74 2h0m1 2h0m-10 3h0m-59 3h0m-44 1h0m31 3h0m64 2h0m47 1h0m-97 3h0m79 3h0m-90 1h0m27 2h0m125 2h0m-151 4h0m10 2h0m-14 2h0m105 2h0m9 3h0m-68 2h0m-60 3h0m110 2h0m14 3h0m46 1h0m-129 4h0m-61 1h0m138 2h0m33 5h0m-2 2h0m-22 3h0m-12 2h0m4 4h0m-70 3h0m-56 2h0m166 1h0m-13 4h0m16 3h0m-1 2h0m-75 3h0m44 5h0m-11 2h0m-28 3h0m48 2h0m-56 3h0m-7 3h0m6 5h0m-101 2h0m154 2h0m-79 4h0m19 4h0m-63 2h0m114 3h0m-132 7h0m107 1h0m-55 4h0m-2 4h0m-34 6h0m138 0h0m25 5h0m-64 3h0m-5 7h0m15 3h0m-99 3h0m142 6h0m-10 1h0m-39 6h0m-77 5h0m57 5h0m74 5h0m-41 3h0m-10 7h0m-129 4h0m177 7h0m-74 1h0m-89 8h0m148 3h0m-144 10h0m72 1h0m63 10h0m-127 5h0m72 6h0m-93 5h0m77 6h0m61 6h0m-149 12h0m180 8h0m-11 6h0m-43 3h0m39 8h0m-6 12h0m-139 11h0m-11 5h0m81 8h0m-58 12h0m11 13h0m106 7h0m-68 19h0m-39 15h0m86 6h0"/>
<path vector-effect="non-scaling-stroke" id="m12a" d="M23 46h0m-60 52h0m45 19h0m2 52h0m-99 77h0m157 32h0m-89 107h0m16 64h0m36 72h0m-125 32h0m142 155h0m-125 139h0"/>
<path vector-effect="non-scaling-stroke" id="m12b" d="M-46 29h0m9 62h0m63 52h0m-72 51h0m97 15h0m-150 94h0m130 44h0m-77 69h0m128 61h0m-61 110h0m42 127h0m-93 219h0"/>
<path vector-effect="non-scaling-stroke" id="m12c" d="M-63 7h0m44 88h0m90 20h0m-48 74h0m-84 36h0m125 85h0m-118 40h0m57 80h0m-77 107h0m68 57h0m3 97h0m-74 153h0"/>
<path vector-effect="non-scaling-stroke" id="m20a" d="M-76 2h0m152 52h0m-28 15h0m-82 50h0m73 12h0m57 53h0m3 33h0m-151 32h0m51 11h0m-5 44h0m88 59h0m-33 4h0m-17 81h0m1 37h0m55 38h0m-126 33h0m56 106h0m39 37h0m-41 116h0m68 21h0"/>
<path vector-effect="non-scaling-stroke" id="m20b" d="M43 18h0m-79 43h0m103 13h0m7 27h0m-37 29h0m-5 39h0m-55 44h0m-2 36h0m18 29h0m-42 29h0m47 24h0m-86 58h0m63 42h0m-30 41h0m-6 52h0m112 27h0m-104 91h0m-18 87h0m153 74h0m-74 86h0"/>
<path vector-effect="non-scaling-stroke" id="m20c" d="M-52 13h0m121 39h0m-7 13h0m-92 28h0m-42 58h0m138 29h0m-91 19h0m-55 38h0m179 22h0m-144 54h0m131 46h0m-103 22h0m68 51h0m8 42h0m-67 28h0m-44 91h0m148 67h0m-39 59h0m-18 92h0m-18 33h0"/>
<path vector-effect="non-scaling-stroke" id="m30a" d="M90 0h0m5 25h0m1 25h0m-88 29h0m-47 21h0m-40 14h0m-21 28h0m75 14h0m43 25h0m-99 5h0m38 37h0m-49 25h0m-4 14h0m49 21h0m102 41h0m-150 14h0m169 15h0m-117 43h0m93 24h0m30 36h0m-49 36h0m-12 25h0m21 35h0m-26 37h0m-111 23h0m136 49h0m8 49h0m-39 83h0m64 43h0m-37 99h0"/>
<path vector-effect="non-scaling-stroke" id="m30b" d="M19 3h0m-94 30h0m32 13h0m40 20h0m70 20h0m-32 31h0m-91 13h0m115 15h0m-76 28h0m10 15h0m31 23h0m7 38h0m50 21h0m-146 19h0m13 13h0m42 47h0m7 18h0m67 14h0m-163 52h0m160 16h0m-83 45h0m-26 16h0m5 41h0m42 38h0m42 14h0m-19 61h0m-66 29h0m-11 72h0m140 58h0m-173 124h0"/>
<path vector-effect="non-scaling-stroke" id="m30c" d="M92 11h0m-96 15h0m46 32h0m-76 24h0m35 4h0m-22 37h0m50 8h0m-93 27h0m67 15h0m-15 31h0m-36 4h0m6 39h0m49 6h0m2 38h0m-40 25h0m106 27h0m-53 15h0m21 44h0m-60 18h0m-60 36h0m108 37h0m67 24h0m-193 23h0m180 25h0m-58 54h0m28 31h0m-8 82h0m51 18h0m-58 111h0m-117 16h0"/>
<path vector-effect="non-scaling-stroke" id="m45a" d="M59 10h0m-146 9h0m8 18h0m50 4h0m-61 26h0m24 10h0m125 12h0m34 10h0m-99 17h0m99 8h0m-173 25h0m101 10h0m-45 18h0m25 10h0m-67 15h0m108 20h0m25 8h0m-29 17h0m-95 18h0m17 16h0m129 14h0m-43 19h0m54 13h0m-64 16h0m54 9h0m-88 26h0m-90 26h0m121 12h0m-71 26h0m113 20h0m-133 17h0m16 6h0m-4 44h0m13 11h0m103 17h0m-16 43h0m-53 9h0m-53 41h0m-22 30h0m71 18h0m60 57h0m-64 31h0m29 56h0m-22 7h0m67 72h0"/>
<path vector-effect="non-scaling-stroke" id="m45b" d="M-29 1h0m113 21h0m-144 7h0m34 25h0m79 11h0m5 6h0m13 12h0m-81 18h0m105 12h0m-82 14h0m-87 18h0m35 17h0m6 13h0m33 15h0m77 9h0m-163 13h0m152 25h0m-17 3h0m0 24h0m-111 16h0m-17 7h0m156 17h0m-39 16h0m52 17h0m-123 15h0m62 33h0m2 20h0m26 14h0m-70 21h0m107 24h0m5 7h0m-140 29h0m-20 24h0m92 28h0m-40 24h0m-9 3h0m-54 33h0m77 18h0m-8 37h0m94 52h0m-19 39h0m-79 11h0m105 79h0m-40 32h0m-131 43h0"/>
<path vector-effect="non-scaling-stroke" id="m45c" d="M37 0h0m31 19h0m21 15h0m-103 13h0m88 21h0m-155 3h0m3 19h0m158 16h0m-131 16h0m67 3h0m66 12h0m-69 15h0m-90 22h0m90 15h0m-77 9h0m10 10h0m13 20h0m2 17h0m-54 11h0m9 19h0m32 13h0m109 21h0m-70 9h0m98 31h0m-59 8h0m71 19h0m-2 10h0m-21 23h0m-154 20h0m93 18h0m8 37h0m-82 19h0m117 12h0m-8 28h0m-127 18h0m71 31h0m61 31h0m-48 18h0m55 28h0m-82 34h0m75 54h0m31 38h0m-29 20h0m17 56h0m-18 40h0"/>
<path vector-effect="non-scaling-stroke" id="m70a" d="M-56 3h0m63 11h0m81 9h0m1 9h0m-35 6h0m-106 14h0m-34 8h0m-12 3h0m137 10h0m-70 12h0m110 4h0m-174 11h0m126 14h0m-106 9h0m130 9h0m-105 5h0m-19 10h0m31 3h0m-27 16h0m39 7h0m5 12h0m0 4h0m26 14h0m43 2h0m-14 9h0m-88 16h0m21 6h0m7 13h0m-8 7h0m-40 7h0m6 12h0m143 9h0m-153 15h0m74 10h0m65 15h0m-137 3h0m152 12h0m-146 12h0m90 16h0m45 7h0m12 17h0m-32 11h0m-33 5h0m-32 13h0m-71 15h0m150 19h0m-46 5h0m-72 19h0m143 14h0m16 16h0m-57 7h0m-124 20h0m80 14h0m83 11h0m-115 19h0m-39 9h0m105 27h0m-96 19h0m116 15h0m-2 26h0m-111 17h0m35 10h0m-15 27h0m37 23h0m-92 21h0m84 39h0m-79 11h0m139 44h0m-21 62h0m30 15h0"/>
<path vector-effect="non-scaling-stroke" id="m70b" d="M-9 5h0m-20 8h0m109 6h0m-19 12h0m-82 10h0m108 7h0m-152 9h0m39 6h0m-73 12h0m149 11h0m-84 6h0m109 10h0m-82 13h0m101 0h0m-160 15h0m13 10h0m-30 8h0m152 10h0m-149 8h0m47 4h0m106 15h0m-32 9h0m-60 6h0m-32 5h0m107 18h0m-39 10h0m8 5h0m-109 9h0m167 10h0m-32 10h0m-35 8h0m-116 13h0m34 10h0m45 9h0m113 18h0m-51 7h0m-35 13h0m-31 3h0m74 17h0m18 14h0m4 11h0m-63 4h0m-26 12h0m-50 13h0m109 15h0m11 13h0m-2 9h0m-124 17h0m96 11h0m58 18h0m-173 21h0m186 4h0m-142 21h0m57 8h0m-102 27h0m42 18h0m-8 11h0m26 17h0m129 12h0m-82 32h0m-69 14h0m21 14h0m-20 22h0m34 39h0m41 11h0m-15 19h0m-49 36h0m20 34h0m87 68h0m-56 6h0"/>
<path vector-effect="non-scaling-stroke" id="m70c" d="M-67 1h0m65 11h0m-85 8h0m72 13h0m-59 10h0m-19 2h0m71 16h0m117 4h0m-166 12h0m123 10h0m-92 3h0m3 15h0m-34 5h0m14 6h0m27 10h0m-46 14h0m4 5h0m111 13h0m-13 9h0m-33 7h0m-3 5h0m-25 15h0m-56 8h0m80 8h0m-58 13h0m0 7h0m-19 6h0m-11 10h0m45 7h0m-16 13h0m41 16h0m-42 10h0m85 10h0m-66 9h0m-1 11h0m50 11h0m55 4h0m-92 13h0m18 19h0m114 12h0m-38 12h0m15 3h0m-83 16h0m-43 7h0m62 15h0m-72 13h0m84 15h0m-98 14h0m58 14h0m39 7h0m-56 17h0m4 12h0m-56 22h0m135 15h0m32 21h0m-49 6h0m-24 12h0m-85 26h0m81 19h0m-75 9h0m-8 33h0m119 22h0m-117 22h0m110 25h0m-89 32h0m43 13h0m-70 48h0m10 5h0m136 69h0m31 27h0"/>
<path vector-effect="non-scaling-stroke" id="m100a" d="M57 0h0m-151 7h0m113 7h0m-24 9h0m-18 4h0m-51 6h0m-14 6h0m60 10h0m-11 3h0m-16 8h0m-29 6h0m148 5h0m-55 6h0m-35 8h0m13 2h0m41 12h0m57 0h0m-49 8h0m-18 9h0m17 3h0m-113 9h0m157 2h0m-125 12h0m35 1h0m12 9h0m94 5h0m-62 6h0m-120 6h0m183 10h0m-105 6h0m-46 2h0m74 8h0m35 5h0m-7 8h0m42 9h0m-137 6h0m-44 8h0m16 5h0m25 8h0m140 7h0m-145 7h0m67 8h0m33 5h0m-71 6h0m68 7h0m9 10h0m-116 7h0m75 9h0m-34 6h0m58 3h0m-55 7h0m-48 12h0m160 8h0m-173 9h0m93 3h0m28 7h0m-131 11h0m52 10h0m-23 8h0m-6 6h0m60 7h0m62 15h0m-70 6h0m84 7h0m-43 9h0m22 13h0m28 2h0m-18 11h0m-107 9h0m37 13h0m-42 13h0m20 8h0m110 3h0m-43 17h0m-12 5h0m-91 12h0m157 17h0m-136 7h0m9 13h0m-24 14h0m23 7h0m93 16h0m39 4h0m-160 20h0m150 7h0m1 16h0m-133 23h0m88 10h0m-119 11h0m176 14h0m-32 16h0m-90 22h0m84 23h0m-49 17h0m-33 16h0m87 30h0m-103 14h0m9 19h0m-40 41h0m49 47h0"/>
<path vector-effect="non-scaling-stroke" id="m100b" d="M-4 0h0m24 9h0m35 9h0m-129 6h0m-11 4h0m111 6h0m70 5h0m-109 7h0m-55 4h0m-28 11h0m73 5h0m-66 4h0m-10 5h0m90 10h0m41 4h0m-112 4h0m18 7h0m97 7h0m30 10h0m-26 4h0m-8 6h0m32 4h0m-52 6h0m-61 10h0m138 6h0m-53 2h0m-72 10h0m2 7h0m-43 2h0m51 11h0m43 1h0m-114 11h0m128 4h0m-123 10h0m25 4h0m-21 4h0m138 7h0m30 9h0m-78 7h0m41 9h0m27 8h0m18 4h0m-78 4h0m55 11h0m36 9h0m-127 5h0m-11 8h0m107 5h0m-61 7h0m1 7h0m40 7h0m-67 13h0m28 4h0m-75 8h0m-6 12h0m-4 5h0m77 7h0m21 7h0m-7 7h0m-37 9h0m28 10h0m-83 14h0m41 2h0m69 8h0m39 8h0m-129 13h0m-6 12h0m147 8h0m-26 11h0m25 10h0m-128 10h0m27 1h0m29 15h0m33 15h0m-98 1h0m143 18h0m-85 10h0m25 15h0m14 1h0m-122 18h0m152 15h0m2 5h0m-122 20h0m54 11h0m39 8h0m-109 20h0m94 10h0m-8 18h0m-20 17h0m55 4h0m34 30h0m-21 13h0m-25 6h0m-127 22h0m104 18h0m-43 38h0m-11 23h0m55 24h0m49 32h0m-4 28h0"/>
<path vector-effect="non-scaling-stroke" id="m100c" d="M27 5h0m48 5h0m-90 7h0m-10 6h0m-24 7h0m106 7h0m-107 6h0m55 2h0m56 5h0m-142 8h0m26 5h0m131 9h0m-155 8h0m164 3h0m-174 7h0m185 7h0m-164 2h0m121 11h0m34 3h0m-57 6h0m-29 6h0m-76 6h0m120 7h0m-35 6h0m38 5h0m-140 9h0m57 8h0m-19 6h0m-28 5h0m145 3h0m-128 9h0m-13 6h0m173 7h0m-166 10h0m31 0h0m-45 7h0m175 8h0m-72 11h0m18 7h0m-80 6h0m43 5h0m-94 5h0m125 10h0m-103 5h0m45 8h0m95 10h0m-31 2h0m-114 8h0m17 8h0m-25 8h0m43 8h0m-39 12h0m166 2h0m-92 10h0m-80 7h0m146 11h0m-53 4h0m44 11h0m-44 9h0m-56 5h0m75 11h0m-14 10h0m42 9h0m3 10h0m-54 6h0m65 6h0m11 9h0m9 10h0m-179 15h0m147 5h0m-39 13h0m-85 6h0m119 9h0m17 16h0m-65 4h0m27 9h0m-35 20h0m-89 6h0m183 15h0m-28 12h0m-55 2h0m29 14h0m26 11h0m28 16h0m-170 22h0m19 12h0m-27 9h0m5 11h0m115 16h0m38 15h0m-162 23h0m21 14h0m145 23h0m-143 21h0m60 11h0m2 37h0m58 17h0m-137 29h0m74 22h0m-2 28h0"/>
<path vector-effect="non-scaling-stroke" id="m150a" d="M49 2h0m49 6h0m-94 2h0m-84 3h0m12 4h0m144 4h0m-71 4h0m-60 7h0m-13 3h0m54 6h0m97 1h0m-116 4h0m-64 4h0m125 6h0m-93 6h0m103 4h0m-81 4h0m99 2h0m6 5h0m-10 1h0m-44 6h0m-28 4h0m112 5h0m-176 5h0m170 5h0m-173 1h0m54 7h0m28 0h0m-62 7h0m145 2h0m-14 6h0m-46 3h0m68 5h0m-42 6h0m34 2h0m-136 6h0m-17 2h0m124 3h0m14 5h0m-61 3h0m82 5h0m-65 4h0m-52 5h0m66 4h0m25 4h0m-86 5h0m110 5h0m-109 2h0m72 6h0m-31 6h0m-67 3h0m96 3h0m-54 8h0m36 3h0m61 3h0m1 5h0m-155 4h0m104 4h0m-18 5h0m-40 4h0m-28 4h0m116 5h0m2 8h0m-105 1h0m101 7h0m-134 4h0m-16 5h0m-5 5h0m167 6h0m-175 3h0m160 7h0m-160 4h0m85 3h0m63 7h0m-68 5h0m-59 4h0m61 8h0m4 4h0m71 5h0m-146 4h0m173 3h0m-181 10h0m65 2h0m-51 5h0m-15 5h0m16 6h0m128 4h0m40 10h0m-152 2h0m9 9h0m6 5h0m-14 3h0m141 5h0m-14 5h0m-86 7h0m87 5h0m-134 6h0m15 6h0m23 11h0m95 1h0m-62 7h0m-100 6h0m158 6h0m-136 8h0m11 10h0m108 1h0m-73 12h0m-46 7h0m128 2h0m-116 6h0m159 11h0m-113 4h0m-26 6h0m119 10h0m22 10h0m-131 2h0m115 7h0m-128 9h0m23 6h0m-74 7h0m186 12h0m-102 9h0m76 9h0m-87 4h0m-43 6h0m10 13h0m29 10h0m-11 12h0m109 5h0m-61 4h0m-106 14h0m177 14h0m-79 2h0m31 18h0m-90 8h0m3 15h0m-27 4h0m164 15h0m-101 9h0m71 18h0m-31 5h0m-6 24h0m-79 5h0m75 22h0m55 14h0m-39 12h0m-67 36h0m-36 9h0m132 25h0m-52 29h0"/>
<path vector-effect="non-scaling-stroke" id="m150b" d="M-98 4h0m139 0h0m-101 8h0m-2 2h0m5 4h0m75 6h0m-27 5h0m42 0h0m38 7h0m-61 4h0m11 4h0m-54 4h0m70 5h0m-55 1h0m4 6h0m66 6h0m-76 3h0m-42 4h0m145 5h0m-29 2h0m44 2h0m-4 6h0m-101 5h0m-4 5h0m18 3h0m49 2h0m-134 6h0m85 5h0m-23 2h0m8 7h0m38 1h0m-36 4h0m-42 7h0m67 3h0m27 3h0m-123 7h0m93 3h0m56 5h0m-17 1h0m-31 5h0m69 4h0m7 6h0m0 2h0m-76 4h0m-7 8h0m2 4h0m-49 1h0m13 6h0m-19 3h0m55 7h0m1 2h0m-67 5h0m64 3h0m31 6h0m-56 4h0m18 4h0m-14 5h0m-73 5h0m176 4h0m-170 5h0m94 3h0m-74 8h0m34 3h0m38 4h0m-74 6h0m122 5h0m-72 2h0m-54 6h0m150 5h0m6 8h0m-19 4h0m-127 2h0m137 6h0m-112 8h0m-6 5h0m74 2h0m-66 5h0m121 8h0m-9 2h0m-179 8h0m24 4h0m60 5h0m35 6h0m4 6h0m-6 3h0m-49 7h0m1 2h0m101 9h0m-116 3h0m118 6h0m-26 5h0m-124 7h0m18 4h0m123 7h0m-113 8h0m-10 6h0m42 4h0m103 4h0m-4 9h0m5 4h0m-169 7h0m171 7h0m-99 4h0m-33 7h0m-34 10h0m135 7h0m-150 4h0m102 6h0m39 6h0m-89 8h0m53 6h0m51 7h0m6 11h0m-142 8h0m154 6h0m-79 5h0m-63 10h0m61 1h0m-85 11h0m-22 8h0m176 5h0m-41 8h0m32 11h0m-152 12h0m135 5h0m-29 6h0m14 9h0m-50 15h0m-1 2h0m-47 10h0m102 18h0m-126 6h0m93 5h0m25 17h0m-54 8h0m28 5h0m24 17h0m-66 7h0m55 22h0m-104 4h0m52 13h0m35 15h0m33 24h0m52 6h0m-43 18h0m46 23h0m-149 16h0m92 30h0m-108 10h0m114 47h0"/>
<path vector-effect="non-scaling-stroke" id="m150c" d="M-34 1h0m105 5h0m-69 3h0m49 5h0m-80 4h0m19 4h0m40 3h0m47 4h0m-21 6h0m26 4h0m-82 4h0m94 6h0m-125 4h0m112 3h0m-91 4h0m-35 2h0m118 8h0m-144 1h0m110 6h0m-44 4h0m45 3h0m-110 5h0m136 5h0m-84 2h0m-62 7h0m127 4h0m24 2h0m-41 5h0m-119 4h0m53 2h0m77 6h0m-19 2h0m14 7h0m-66 3h0m-31 6h0m98 1h0m-126 7h0m-7 4h0m189 4h0m-157 1h0m130 7h0m-97 4h0m131 1h0m-60 5h0m-104 5h0m158 5h0m-24 5h0m-103 4h0m-2 3h0m93 7h0m8 4h0m-11 2h0m-104 5h0m103 5h0m-127 2h0m138 8h0m-139 2h0m69 6h0m2 2h0m-55 9h0m-39 4h0m69 3h0m100 5h0m-138 3h0m49 5h0m93 7h0m0 4h0m-78 6h0m-8 5h0m65 2h0m-30 5h0m70 6h0m0 3h0m-22 9h0m-69 5h0m9 3h0m-22 5h0m37 5h0m52 5h0m-169 8h0m51 6h0m114 2h0m-160 5h0m128 9h0m-53 3h0m-24 6h0m9 4h0m122 7h0m-77 7h0m-101 1h0m106 8h0m-113 7h0m-8 3h0m190 4h0m-186 9h0m103 4h0m81 7h0m-60 9h0m-56 1h0m-2 9h0m58 6h0m-103 5h0m-4 5h0m81 10h0m67 6h0m13 8h0m-9 4h0m-148 8h0m35 7h0m48 6h0m-81 4h0m77 9h0m76 7h0m-22 9h0m30 6h0m-143 9h0m146 7h0m-102 7h0m-30 6h0m3 12h0m64 2h0m-105 7h0m0 14h0m46 2h0m-20 15h0m-1 4h0m0 12h0m63 8h0m-82 10h0m162 12h0m-141 8h0m91 12h0m-4 6h0m-117 5h0m6 21h0m5 10h0m37 13h0m-44 11h0m162 3h0m-9 12h0m-42 12h0m-26 21h0m83 16h0m-136 9h0m-6 18h0m42 28h0m-39 9h0m-3 33h0m57 22h0m36 16h0"/>
<path vector-effect="non-scaling-stroke" id="m220a" d="M-81 1h0m179 4h0m-109 1h0m45 4h0m-119 2h0m83 5h0m73 1h0m-73 2h0m-73 3h0m-4 2h0m134 4h0m22 3h0m-170 4h0m132 1h0m54 3h0m-162 3h0m153 3h0m-129 5h0m10 1h0m60 1h0m-83 4h0m143 4h0m-151 3h0m80 2h0m49 3h0m25 2h0m-172 4h0m41 1h0m-13 4h0m118 3h0m-75 4h0m83 1h0m-68 2h0m-25 3h0m-20 4h0m89 4h0m32 2h0m-73 3h0m88 3h0m-12 3h0m-85 3h0m-38 1h0m110 4h0m-142 2h0m138 3h0m-101 4h0m41 0h0m80 3h0m-152 5h0m12 3h0m59 2h0m-58 3h0m50 2h0m8 3h0m-24 3h0m-53 1h0m107 5h0m8 3h0m-40 2h0m68 4h0m-129 3h0m-1 3h0m34 1h0m56 3h0m-38 2h0m77 6h0m-64 2h0m-84 2h0m176 4h0m-91 1h0m-26 3h0m117 5h0m-41 1h0m10 5h0m-134 3h0m40 1h0m-61 4h0m161 2h0m-59 5h0m-60 2h0m117 2h0m-111 4h0m93 5h0m-72 2h0m33 2h0m65 3h0m-105 3h0m87 4h0m-135 4h0m92 3h0m75 4h0m-98 3h0m90 2h0m-124 2h0m72 4h0m-76 2h0m61 5h0m-3 3h0m63 3h0m-139 3h0m3 3h0m-22 4h0m88 3h0m-88 4h0m137 3h0m9 3h0m22 5h0m-114 2h0m127 2h0m-129 5h0m85 2h0m-116 6h0m137 3h0m-6 3h0m-141 5h0m71 3h0m22 4h0m-16 2h0m-84 4h0m169 4h0m-51 2h0m-17 5h0m-7 4h0m79 2h0m-175 4h0m162 5h0m-93 1h0m-27 5h0m26 4h0m107 5h0m-105 5h0m67 0h0m-26 6h0m-8 2h0m-24 7h0m-68 3h0m157 5h0m-22 2h0m-84 6h0m90 1h0m-96 7h0m30 4h0m80 2h0m-34 5h0m-127 5h0m57 1h0m-31 5h0m129 4h0m-72 4h0m-24 6h0m-83 2h0m111 5h0m16 4h0m-22 8h0m-62 5h0m130 4h0m25 5h0m-164 4h0m-18 2h0m176 7h0m-86 1h0m45 6h0m-26 6h0m-125 4h0m48 3h0m49 8h0m88 3h0m-25 6h0m-89 2h0m-25 9h0m-6 5h0m-6 2h0m111 7h0m-128 5h0m4 7h0m133 4h0m-152 7h0m-2 5h0m9 6h0m168 2h0m-139 6h0m27 5h0m-51 8h0m5 7h0m111 3h0m-100 7h0m168 9h0m-86 5h0m-14 8h0m46 6h0m-7 7h0m-126 6h0m24 5h0m26 7h0m-11 6h0m120 7h0m-36 10h0m-130 2h0m108 6h0m-81 13h0m15 5h0m58 13h0m-75 1h0m98 8h0m57 9h0m-54 17h0m13 7h0m-68 4h0m99 15h0m-109 9h0m126 7h0m-11 18h0m4 7h0m-184 17h0m186 4h0m-73 17h0m5 17h0m11 10h0m55 29h0m-25 11h0"/>
<path vector-effect="non-scaling-stroke" id="m220b" d="M6 0h0m79 3h0m-63 5h0m-103 1h0m45 5h0m87 1h0m-135 2h0m78 4h0m-11 3h0m-73 2h0m78 5h0m1 1h0m11 3h0m-79 4h0m7 1h0m57 3h0m60 4h0m-64 3h0m37 3h0m11 3h0m68 2h0m-176 3h0m91 3h0m40 1h0m-38 5h0m78 2h0m-31 3h0m-3 3h0m8 2h0m-7 2h0m-16 5h0m-30 1h0m71 3h0m-33 4h0m-44 1h0m-106 5h0m126 3h0m-70 1h0m40 3h0m-72 3h0m145 2h0m-155 5h0m-11 1h0m65 2h0m53 4h0m-5 4h0m33 2h0m-138 3h0m146 1h0m17 5h0m11 3h0m-171 3h0m101 0h0m47 5h0m-133 3h0m45 3h0m-61 1h0m93 3h0m-14 5h0m12 0h0m-99 4h0m63 3h0m25 4h0m-92 2h0m1 3h0m50 4h0m97 3h0m18 1h0m-130 3h0m-24 4h0m62 2h0m-35 3h0m40 5h0m-8 1h0m-21 4h0m146 1h0m-91 3h0m27 5h0m-82 2h0m13 4h0m81 1h0m-21 4h0m5 3h0m13 4h0m-32 1h0m-79 6h0m19 2h0m104 3h0m-154 5h0m159 1h0m-118 4h0m-1 4h0m98 3h0m-118 1h0m167 5h0m-67 3h0m19 2h0m-109 5h0m82 3h0m85 2h0m-48 4h0m-80 3h0m10 2h0m38 6h0m-36 4h0m-31 1h0m43 5h0m20 2h0m74 2h0m1 4h0m-104 4h0m53 5h0m10 2h0m23 5h0m-100 1h0m110 4h0m-44 6h0m-51 2h0m-1 3h0m77 4h0m-94 5h0m17 2h0m86 4h0m23 5h0m-132 2h0m59 5h0m72 2h0m-185 5h0m168 4h0m13 4h0m-86 2h0m-41 4h0m-30 6h0m68 3h0m64 5h0m-79 2h0m72 4h0m32 6h0m-75 3h0m-75 2h0m144 5h0m-169 4h0m146 5h0m-158 3h0m0 3h0m122 8h0m12 1h0m32 4h0m5 6h0m-166 4h0m48 5h0m-33 4h0m171 4h0m-34 4h0m-138 4h0m121 4h0m-116 4h0m34 4h0m68 8h0m-58 4h0m26 5h0m85 6h0m-60 4h0m31 2h0m-139 7h0m72 3h0m63 6h0m-122 3h0m-7 7h0m68 6h0m-31 4h0m107 5h0m-89 2h0m115 6h0m-164 5h0m6 10h0m5 2h0m119 5h0m-12 7h0m-105 3h0m91 10h0m-39 6h0m-30 6h0m118 4h0m-134 3h0m118 9h0m-162 8h0m114 4h0m-69 5h0m-20 7h0m-24 9h0m80 6h0m65 8h0m-13 4h0m53 5h0m-167 11h0m10 8h0m115 2h0m-126 7h0m61 7h0m-20 14h0m23 8h0m36 6h0m9 4h0m-43 10h0m-83 9h0m68 14h0m84 7h0m-134 13h0m125 4h0m-104 16h0m-5 4h0m-33 13h0m92 12h0m104 20h0m-54 17h0m-117 11h0m133 13h0m-58 31h0m14 17h0"/>
<path vector-effect="non-scaling-stroke" id="m220c" d="M45 2h0m-132 1h0m173 3h0m-70 4h0m33 1h0m-44 3h0m-64 6h0m-1 2h0m135 3h0m17 2h0m-77 2h0m-71 4h0m98 1h0m-96 4h0m1 2h0m145 4h0m-114 2h0m116 3h0m-174 2h0m77 3h0m31 4h0m-75 4h0m97 1h0m40 4h0m-33 2h0m-125 2h0m111 4h0m10 1h0m-118 3h0m117 4h0m-129 4h0m-21 2h0m159 2h0m-38 2h0m-33 3h0m-52 3h0m44 4h0m34 3h0m32 3h0m13 2h0m-89 4h0m16 1h0m35 2h0m-59 3h0m-48 3h0m100 4h0m75 3h0m-175 3h0m33 3h0m56 3h0m15 0h0m-103 5h0m-16 2h0m123 3h0m-120 2h0m18 5h0m83 0h0m-52 5h0m141 3h0m-58 1h0m57 5h0m-6 1h0m-129 3h0m-54 4h0m6 2h0m4 4h0m7 4h0m97 0h0m-66 4h0m9 5h0m-49 2h0m99 3h0m-39 2h0m-36 2h0m28 4h0m133 2h0m-41 4h0m-38 3h0m-116 2h0m116 5h0m30 2h0m-14 2h0m15 3h0m-30 3h0m-38 4h0m-65 3h0m-8 4h0m-3 2h0m103 5h0m-18 2h0m-29 4h0m-53 3h0m158 3h0m29 3h0m-162 4h0m107 4h0m-100 1h0m-5 5h0m40 1h0m-18 6h0m28 1h0m5 3h0m11 4h0m-21 5h0m10 2h0m-43 3h0m133 5h0m-21 4h0m-96 1h0m63 4h0m39 3h0m-162 3h0m45 4h0m101 4h0m-40 3h0m-48 5h0m-34 3h0m33 4h0m41 3h0m39 2h0m-130 5h0m95 4h0m48 3h0m-28 3h0m-5 6h0m42 1h0m-110 4h0m-23 6h0m144 2h0m-129 4h0m19 4h0m97 4h0m-34 3h0m-68 6h0m-47 5h0m58 1h0m71 4h0m-11 4h0m-24 4h0m-63 5h0m136 1h0m-126 8h0m100 1h0m-105 6h0m140 4h0m-169 3h0m93 6h0m17 2h0m-78 7h0m110 3h0m-54 5h0m80 2h0m1 5h0m-129 3h0m17 5h0m73 8h0m-49 2h0m26 4h0m-96 4h0m66 5h0m-78 6h0m45 3h0m-35 7h0m141 6h0m-117 1h0m128 5h0m-124 5h0m96 6h0m-133 4h0m143 6h0m-60 4h0m-49 5h0m8 6h0m117 8h0m23 3h0m-3 6h0m-173 6h0m130 2h0m-95 8h0m81 5h0m-92 7h0m86 3h0m-60 10h0m33 3h0m-20 7h0m-16 2h0m-35 11h0m104 5h0m-115 4h0m145 10h0m-104 3h0m84 8h0m-97 4h0m83 9h0m39 5h0m-171 10h0m193 8h0m-174 5h0m138 9h0m-65 7h0m33 12h0m-106 8h0m29 4h0m1 8h0m-1 12h0m60 5h0m9 8h0m-80 13h0m-1 13h0m147 9h0m-94 8h0m-60 10h0m74 14h0m9 8h0m-97 14h0m21 20h0m125 5h0m-132 24h0m43 24h0m78 25h0"/>
<path vector-effect="non-scaling-stroke" id="m330a" d="M-53 2h0m152 0h0m-15 2h0m-169 2h0m1 2h0m-3 3h0m101 1h0m-88 2h0m41 1h0m124 3h0m-34 2h0m-108 2h0m-38 1h0m22 3h0m63 2h0m79 0h0m-145 3h0m47 1h0m27 2h0m24 2h0m-58 2h0m123 3h0m-90 2h0m-22 1h0m118 1h0m-132 4h0m-26 1h0m141 1h0m-17 3h0m-147 2h0m37 2h0m46 0h0m-48 3h0m53 1h0m-9 3h0m-29 2h0m92 1h0m-70 3h0m79 1h0m-131 2h0m75 2h0m-39 2h0m88 2h0m-89 1h0m89 2h0m-111 2h0m-41 2h0m112 2h0m11 2h0m-118 2h0m166 1h0m-173 2h0m170 2h0m-157 2h0m96 1h0m-76 4h0m-12 2h0m159 0h0m-157 3h0m151 1h0m-132 3h0m32 0h0m91 3h0m-83 1h0m-62 3h0m-15 2h0m65 1h0m16 2h0m-12 2h0m94 1h0m-90 3h0m-82 1h0m152 2h0m-98 3h0m47 2h0m-37 2h0m81 1h0m-128 1h0m-17 2h0m71 3h0m117 2h0m-22 1h0m-7 3h0m12 2h0m-174 1h0m56 2h0m17 3h0m105 0h0m-46 2h0m-42 2h0m-43 3h0m17 1h0m9 2h0m-61 2h0m170 2h0m-41 2h0m-139 3h0m1 1h0m178 3h0m-166 1h0m151 2h0m-65 1h0m-33 3h0m-16 2h0m111 2h0m9 2h0m-5 3h0m-80 1h0m-66 1h0m8 3h0m129 1h0m-36 2h0m67 2h0m-133 2h0m-35 3h0m86 2h0m-103 2h0m62 1h0m76 3h0m-104 1h0m73 3h0m55 3h0m-108 1h0m116 3h0m-3 2h0m26 1h0m-1 2h0m-39 2h0m16 2h0m-136 1h0m156 3h0m-132 2h0m137 2h0m-50 4h0m43 1h0m-172 2h0m124 2h0m-68 2h0m-33 2h0m129 2h0m-149 2h0m77 2h0m-37 3h0m47 2h0m60 2h0m-64 2h0m71 2h0m-144 2h0m-20 3h0m45 3h0m102 1h0m-97 3h0m24 2h0m77 2h0m-132 3h0m161 0h0m-72 3h0m24 2h0m-35 4h0m-35 1h0m80 3h0m-46 3h0m81 2h0m-58 2h0m-125 3h0m15 2h0m16 2h0m16 2h0m-46 2h0m95 1h0m-69 3h0m21 4h0m-21 1h0m-26 3h0m77 2h0m51 2h0m-34 3h0m-43 2h0m-41 4h0m153 0h0m-124 3h0m-19 3h0m10 1h0m139 4h0m-13 1h0m-87 3h0m101 3h0m-32 1h0m-64 4h0m-8 1h0m83 3h0m-126 4h0m-20 3h0m157 1h0m-65 3h0m51 3h0m-139 2h0m99 3h0m25 3h0m-133 2h0m47 2h0m2 2h0m28 3h0m-50 4h0m22 2h0m81 1h0m-78 3h0m-43 4h0m177 1h0m-165 4h0m65 3h0m84 2h0m-142 3h0m67 3h0m-10 2h0m-36 5h0m16 2h0m-7 1h0m11 2h0m29 5h0m41 1h0m-139 5h0m43 1h0m37 3h0m-24 3h0m-17 4h0m146 3h0m-73 3h0m64 2h0m-6 3h0m-136 2h0m48 3h0m16 5h0m23 0h0m68 6h0m-73 1h0m-67 5h0m106 2h0m-71 2h0m-23 5h0m-22 1h0m69 5h0m-18 1h0m-61 6h0m127 1h0m11 2h0m-102 4h0m70 4h0m-27 4h0m-110 1h0m51 6h0m14 3h0m77 4h0m-70 2h0m43 3h0m-9 4h0m-3 4h0m-91 2h0m126 3h0m-54 4h0m-73 3h0m1 5h0m60 3h0m34 4h0m-58 3h0m117 5h0m8 1h0m-16 3h0m-154 7h0m128 2h0m-122 4h0m139 5h0m-9 3h0m-33 5h0m8 2h0m44 4h0m-106 3h0m137 4h0m-172 4h0m43 4h0m-4 5h0m18 7h0m103 2h0m-80 2h0m85 8h0m-34 2h0m-48 6h0m27 2h0m25 5h0m37 5h0m-69 6h0m-103 4h0m73 3h0m-81 5h0m129 8h0m-75 1h0m-42 6h0m65 3h0m-71 10h0m27 2h0m73 8h0m46 3h0m29 3h0m-183 7h0m79 7h0m-31 6h0m-15 7h0m144 4h0m-77 7h0m-102 5h0m29 8h0m-18 7h0m64 1h0m85 11h0m-93 6h0m-51 4h0m66 13h0m20 6h0m24 10h0m-79 7h0m-49 8h0m7 5h0m164 11h0m-91 13h0m84 2h0m-126 11h0m-6 21h0m115 11h0m-42 10h0m-40 16h0"/>
<path vector-effect="non-scaling-stroke" id="m330b" d="M25 1h0m-98 1h0m17 2h0m122 2h0m1 2h0m-7 2h0m1 1h0m-123 3h0m123 1h0m-88 2h0m-35 2h0m132 2h0m-77 2h0m-28 2h0m1 3h0m-54 1h0m107 1h0m9 2h0m-29 3h0m9 1h0m92 3h0m-8 2h0m-131 1h0m96 3h0m0 0h0m23 2h0m-140 3h0m110 1h0m-2 2h0m-79 3h0m-28 1h0m105 2h0m-132 2h0m132 1h0m-34 2h0m-20 3h0m70 2h0m-154 2h0m-8 2h0m35 0h0m149 3h0m-131 2h0m46 2h0m-48 2h0m64 2h0m6 2h0m53 2h0m-168 1h0m100 2h0m30 1h0m1 2h0m-134 3h0m130 2h0m-42 1h0m-13 3h0m86 1h0m-143 2h0m79 1h0m-19 2h0m109 3h0m-43 1h0m-74 2h0m-42 2h0m94 2h0m-70 2h0m86 1h0m-14 2h0m-30 2h0m70 2h0m-4 2h0m-39 1h0m18 3h0m-135 1h0m4 3h0m147 2h0m-77 1h0m116 3h0m-184 1h0m121 1h0m-10 2h0m-88 2h0m86 2h0m-35 3h0m-59 1h0m-2 2h0m-8 1h0m106 4h0m34 0h0m-83 3h0m-40 2h0m95 2h0m-117 1h0m144 2h0m26 2h0m-87 3h0m-93 1h0m100 1h0m-11 3h0m103 2h0m-21 2h0m-107 1h0m81 3h0m-24 3h0m8 1h0m19 2h0m-68 2h0m-70 1h0m11 4h0m148 1h0m-88 1h0m-66 2h0m130 3h0m-55 3h0m68 1h0m-28 2h0m-95 2h0m103 2h0m-100 2h0m-19 2h0m154 2h0m-133 2h0m53 2h0m7 1h0m-99 3h0m102 2h0m-8 1h0m63 3h0m-95 3h0m2 1h0m-59 2h0m82 3h0m48 2h0m-25 1h0m22 3h0m32 1h0m-122 4h0m-36 2h0m137 1h0m-1 3h0m15 2h0m-47 1h0m48 3h0m-101 1h0m53 2h0m18 3h0m-120 2h0m107 2h0m74 4h0m-105 1h0m-39 2h0m67 3h0m16 2h0m-132 2h0m33 2h0m-18 3h0m128 2h0m-91 3h0m37 0h0m-7 3h0m71 2h0m30 3h0m-107 3h0m22 0h0m-76 4h0m30 1h0m63 4h0m14 2h0m-119 2h0m73 3h0m-61 1h0m149 3h0m-118 1h0m114 4h0m14 2h0m-85 2h0m-33 2h0m5 2h0m-20 4h0m33 2h0m45 2h0m-126 3h0m194 2h0m-123 2h0m-10 3h0m-59 2h0m26 4h0m43 0h0m94 3h0m-39 2h0m-18 3h0m39 2h0m32 4h0m-2 1h0m-51 5h0m11 0h0m-48 3h0m93 4h0m-127 3h0m37 1h0m10 4h0m32 0h0m-99 3h0m119 3h0m-79 3h0m-27 2h0m147 4h0m-72 1h0m9 4h0m-102 2h0m50 2h0m92 3h0m-140 3h0m164 3h0m-157 2h0m63 3h0m79 4h0m-139 1h0m46 3h0m90 4h0m8 4h0m7 1h0m-111 2h0m93 5h0m-141 1h0m161 4h0m-50 3h0m-1 2h0m-17 3h0m-101 2h0m18 3h0m13 4h0m-27 3h0m14 3h0m22 3h0m-45 4h0m131 0h0m-84 5h0m121 4h0m-103 1h0m23 3h0m29 5h0m-113 2h0m30 5h0m-44 2h0m69 3h0m-26 4h0m-33 1h0m64 4h0m-30 4h0m132 3h0m-93 4h0m42 2h0m-116 3h0m5 2h0m-2 4h0m122 6h0m-130 1h0m26 4h0m147 3h0m-23 3h0m-79 3h0m95 5h0m-50 5h0m49 4h0m1 2h0m-171 2h0m24 4h0m46 4h0m-70 6h0m28 3h0m-29 4h0m118 4h0m-28 2h0m36 6h0m30 2h0m-20 6h0m36 3h0m-82 4h0m-13 4h0m-82 3h0m42 6h0m145 3h0m-116 4h0m103 5h0m-82 2h0m87 6h0m-39 6h0m-63 1h0m-37 6h0m93 3h0m50 4h0m-80 9h0m59 0h0m-113 5h0m-17 6h0m86 5h0m-16 4h0m-29 4h0m81 7h0m-140 8h0m26 6h0m38 3h0m-74 5h0m45 4h0m-1 4h0m133 7h0m-171 9h0m85 1h0m-35 9h0m62 9h0m-111 5h0m70 4h0m17 7h0m-36 10h0m3 4h0m12 4h0m-63 9h0m166 6h0m-67 10h0m29 8h0m-123 9h0m147 8h0m-157 11h0m128 5h0m32 19h0m-129 10h0m61 2h0m-22 21h0m-45 5h0m102 18h0"/>
<path vector-effect="non-scaling-stroke" id="m330c" d="M-39 0h0m-17 2h0m86 3h0m52 1h0m-159 2h0m133 3h0m-121 2h0m79 0h0m61 3h0m-70 2h0m3 2h0m-68 1h0m14 2h0m138 3h0m-146 2h0m139 1h0m-102 1h0m58 3h0m-88 1h0m135 2h0m-18 3h0m11 1h0m-61 3h0m-89 1h0m-17 2h0m153 1h0m-18 2h0m-74 2h0m116 3h0m-12 2h0m8 1h0m-51 2h0m4 2h0m-98 2h0m20 1h0m120 2h0m-164 3h0m176 2h0m-171 1h0m97 1h0m-47 4h0m33 1h0m-24 1h0m-64 3h0m69 2h0m30 0h0m-104 2h0m174 3h0m-27 2h0m-123 2h0m4 2h0m100 1h0m13 2h0m-49 3h0m-48 1h0m128 2h0m-69 2h0m-18 1h0m-73 3h0m152 2h0m-64 1h0m-69 3h0m137 0h0m-170 3h0m139 2h0m-88 1h0m13 3h0m44 1h0m-97 3h0m86 0h0m-93 2h0m89 2h0m72 3h0m-90 2h0m111 2h0m-91 1h0m11 3h0m11 2h0m55 0h0m-145 4h0m23 1h0m-33 2h0m30 2h0m-47 2h0m68 1h0m85 1h0m-109 2h0m39 3h0m-38 1h0m10 3h0m23 1h0m19 2h0m-60 2h0m-39 2h0m133 3h0m-95 1h0m140 3h0m-86 1h0m1 2h0m-28 2h0m63 2h0m5 2h0m18 2h0m-1 1h0m-69 2h0m70 3h0m-82 1h0m-15 2h0m92 3h0m-11 1h0m-11 2h0m-130 3h0m140 1h0m-109 2h0m-3 2h0m153 2h0m-99 2h0m61 3h0m-79 2h0m-50 1h0m88 2h0m28 3h0m-111 3h0m115 0h0m-96 3h0m21 2h0m131 2h0m-189 3h0m160 1h0m-104 2h0m136 2h0m-14 3h0m-82 2h0m5 1h0m-64 3h0m152 2h0m-62 3h0m31 0h0m-134 3h0m156 2h0m-22 3h0m-127 1h0m93 3h0m-9 2h0m-92 2h0m147 2h0m-11 2h0m6 3h0m-115 3h0m137 2h0m-138 2h0m37 1h0m92 3h0m-15 2h0m20 2h0m-107 3h0m-70 1h0m189 4h0m-31 1h0m-92 2h0m-58 3h0m43 1h0m114 4h0m-153 2h0m3 3h0m107 1h0m36 3h0m-161 2h0m98 1h0m-13 4h0m-58 2h0m29 1h0m68 3h0m34 4h0m-137 2h0m27 2h0m33 1h0m-41 4h0m-23 1h0m32 4h0m54 1h0m60 3h0m23 2h0m-128 4h0m109 0h0m-107 4h0m30 1h0m28 2h0m-91 3h0m52 4h0m-18 3h0m116 1h0m-7 3h0m-103 3h0m-71 1h0m196 3h0m-118 4h0m104 2h0m-110 1h0m-1 5h0m30 2h0m-70 1h0m4 5h0m1 1h0m106 3h0m-53 2h0m-78 3h0m183 3h0m-29 2h0m-91 3h0m33 1h0m74 3h0m-128 4h0m114 2h0m-4 4h0m-88 3h0m114 3h0m-36 1h0m-39 4h0m-91 1h0m103 4h0m-95 4h0m-8 1h0m102 3h0m-15 4h0m-46 1h0m120 4h0m-31 4h0m-25 1h0m-130 3h0m99 3h0m30 4h0m-119 4h0m169 3h0m-59 3h0m-103 1h0m35 5h0m51 3h0m65 2h0m-23 4h0m-126 3h0m91 3h0m-91 4h0m49 1h0m120 3h0m-100 4h0m-29 3h0m71 4h0m56 4h0m-94 1h0m84 5h0m-168 1h0m164 4h0m-159 3h0m1 3h0m40 5h0m43 4h0m-12 2h0m32 5h0m56 4h0m-76 2h0m-63 3h0m20 5h0m-40 2h0m47 5h0m-41 2h0m143 4h0m17 4h0m-48 5h0m-123 1h0m158 5h0m-130 4h0m-25 3h0m143 4h0m44 3h0m-111 5h0m20 6h0m-22 1h0m99 7h0m-18 3h0m-129 3h0m11 4h0m101 5h0m-110 6h0m51 4h0m-6 5h0m44 0h0m16 4h0m-99 5h0m40 4h0m42 9h0m-72 2h0m-30 6h0m156 5h0m-158 4h0m13 7h0m52 4h0m35 3h0m-34 8h0m-50 3h0m8 3h0m113 8h0m-5 6h0m-99 4h0m-18 6h0m75 3h0m81 6h0m-168 10h0m115 6h0m14 4h0m-45 5h0m-37 8h0m88 9h0m-73 7h0m-85 1h0m97 7h0m68 7h0m-126 10h0m60 6h0m-22 15h0m-15 1h0m-34 10h0m104 12h0m-37 5h0m-38 16h0m-41 8h0m-17 19h0m64 6h0m-24 10h0m55 17h0"/>
<path vector-effect="non-scaling-stroke" id="m500a" d="M59 0h0m-116 2h0m24 1h0m88 1h0m-24 2h0m-124 1h0m155 1h0m-53 1h0m-18 2h0m-64 1h0m-23 2h0m100 0h0m-31 1h0m102 2h0m-141 1h0m150 1h0m-76 2h0m66 1h0m-25 1h0m-69 1h0m91 1h0m8 1h0m-164 2h0m89 0h0m40 3h0m-47 1h0m-89 1h0m44 0h0m-48 2h0m80 1h0m35 2h0m-114 1h0m167 2h0m-2 1h0m-162 1h0m50 1h0m104 1h0m-49 1h0m41 1h0m-152 2h0m14 1h0m13 1h0m45 2h0m-28 1h0m59 1h0m-95 1h0m169 2h0m-18 1h0m-71 1h0m-23 1h0m-45 1h0m121 2h0m22 0h0m-89 2h0m37 1h0m-49 1h0m68 2h0m-58 1h0m112 2h0m-184 1h0m160 0h0m-64 2h0m1 2h0m69 0h0m-150 1h0m136 2h0m-1 1h0m-8 1h0m-84 1h0m-28 1h0m105 2h0m20 2h0m-150 1h0m49 1h0m-11 1h0m111 1h0m-120 2h0m145 0h0m-71 2h0m-106 2h0m108 0h0m27 1h0m9 2h0m-29 1h0m58 2h0m-54 1h0m-33 1h0m68 2h0m-158 1h0m104 0h0m-75 2h0m42 1h0m-8 2h0m44 0h0m90 2h0m-177 1h0m156 1h0m-165 2h0m130 0h0m-118 2h0m-9 1h0m166 2h0m-116 1h0m-4 1h0m137 1h0m-170 1h0m80 2h0m-98 1h0m58 0h0m-22 2h0m136 1h0m-32 1h0m-138 2h0m175 1h0m-110 1h0m29 2h0m36 0h0m-62 2h0m51 2h0m10 0h0m-132 2h0m16 1h0m-8 2h0m-16 1h0m138 1h0m-50 1h0m-16 2h0m-59 1h0m59 0h0m-7 2h0m-7 1h0m9 2h0m116 1h0m-147 1h0m9 2h0m56 0h0m-53 2h0m-36 1h0m35 1h0m105 2h0m39 1h0m-20 2h0m-106 1h0m93 0h0m1 2h0m-140 2h0m79 0h0m-86 1h0m148 2h0m-18 1h0m0 1h0m-95 2h0m121 1h0m-167 2h0m138 0h0m48 3h0m-62 1h0m16 0h0m-42 2h0m42 1h0m-82 2h0m25 0h0m-54 2h0m0 1h0m89 2h0m-63 1h0m15 2h0m-36 1h0m37 1h0m27 1h0m-51 2h0m104 1h0m-28 1h0m-23 1h0m64 2h0m-90 2h0m96 1h0m-84 2h0m31 0h0m-76 2h0m-30 1h0m59 1h0m92 1h0m-162 2h0m121 1h0m-99 2h0m160 1h0m-98 2h0m5 1h0m31 1h0m-81 2h0m84 1h0m28 1h0m23 2h0m-129 1h0m35 1h0m-48 1h0m57 1h0m11 2h0m7 2h0m-68 2h0m65 1h0m77 1h0m2 2h0m-58 1h0m67 1h0m-9 1h0m-106 2h0m26 2h0m83 1h0m-98 2h0m6 1h0m-91 1h0m195 2h0m-4 1h0m-64 2h0m58 0h0m-36 2h0m-39 1h0m52 3h0m22 1h0m-17 1h0m-83 2h0m50 1h0m48 2h0m-179 1h0m154 1h0m37 1h0m-70 2h0m-41 1h0m36 2h0m-108 1h0m153 1h0m-167 2h0m79 2h0m79 1h0m-118 2h0m119 2h0m-147 1h0m178 1h0m-22 2h0m5 1h0m-39 1h0m13 2h0m-58 2h0m103 2h0m-59 1h0m1 0h0m-75 2h0m84 2h0m14 1h0m-15 3h0m-9 1h0m-4 2h0m-67 2h0m7 0h0m94 2h0m-161 2h0m183 1h0m-58 1h0m-86 2h0m116 2h0m-29 1h0m-72 2h0m15 1h0m11 2h0m34 1h0m3 2h0m-59 2h0m122 2h0m-54 1h0m-65 2h0m86 0h0m-77 2h0m-60 2h0m2 2h0m-1 1h0m4 2h0m8 1h0m-12 3h0m94 0h0m-74 3h0m57 0h0m40 3h0m-78 1h0m90 1h0m-29 3h0m-62 1h0m10 1h0m68 3h0m-50 1h0m24 1h0m65 2h0m-55 2h0m17 1h0m-98 3h0m93 0h0m-12 3h0m1 1h0m-50 3h0m61 0h0m10 2h0m-11 2h0m-121 2h0m90 1h0m61 3h0m23 0h0m16 3h0m-149 2h0m40 1h0m-28 1h0m-41 2h0m20 2h0m151 3h0m-50 1h0m-119 2h0m79 2h0m-54 1h0m67 1h0m74 2h0m-155 3h0m-28 2h0m52 0h0m120 3h0m-157 1h0m99 3h0m79 1h0m-121 3h0m9 0h0m-21 2h0m128 2h0m-87 2h0m15 1h0m28 3h0m-128 2h0m89 3h0m80 0h0m-164 3h0m102 1h0m61 2h0m-167 3h0m110 1h0m-73 1h0m74 3h0m-108 1h0m13 2h0m38 2h0m-2 4h0m-48 1h0m44 1h0m43 3h0m45 0h0m-89 3h0m109 2h0m-77 2h0m-90 3h0m100 0h0m81 4h0m-132 2h0m54 2h0m81 2h0m-120 1h0m18 3h0m83 0h0m-170 3h0m139 2h0m-111 2h0m19 2h0m80 3h0m1 2h0m-38 2h0m-37 1h0m110 4h0m-82 1h0m-51 3h0m16 0h0m-27 3h0m52 3h0m34 1h0m-50 2h0m40 4h0m69 1h0m-22 3h0m-83 3h0m40 0h0m74 2h0m-109 3h0m102 2h0m-84 2h0m3 3h0m46 1h0m-2 3h0m61 3h0m-119 1h0m12 3h0m35 2h0m-57 4h0m-32 2h0m51 1h0m3 3h0m111 3h0m-125 2h0m80 3h0m-70 1h0m-17 2h0m2 3h0m-8 2h0m97 4h0m-90 3h0m24 0h0m109 3h0m-104 3h0m42 3h0m-68 1h0m-19 3h0m-22 2h0m74 5h0m97 1h0m-116 4h0m9 2h0m-17 3h0m-20 2h0m-31 2h0m114 2h0m-8 5h0m-4 3h0m64 3h0m-165 1h0m54 3h0m59 4h0m-58 3h0m18 0h0m85 4h0m-145 5h0m1 0h0m73 4h0m-5 3h0m-53 4h0m120 3h0m-92 1h0m111 4h0m-54 3h0m-15 2h0m-89 6h0m33 0h0m18 4h0m105 3h0m-145 4h0m-24 3h0m128 4h0m23 2h0m-93 6h0m-62 2h0m50 4h0m131 2h0m-186 2h0m128 6h0m-88 4h0m111 1h0m-109 5h0m76 4h0m66 3h0m-68 2h0m41 7h0m-73 2h0m96 5h0m-115 5h0m2 4h0m24 4h0m-1 3h0m81 4h0m-138 2h0m125 7h0m-74 6h0m75 0h0m-57 8h0m-37 2h0m-18 6h0m-7 6h0m-5 3h0m12 7h0m49 3h0m29 6h0m-122 6h0m1 7h0m52 5h0m-7 3h0m2 7h0m80 6h0m-21 4h0m11 9h0m-60 8h0m82 1h0m-69 15h0m-21 6h0m-47 6h0m75 9h0m7 4h0m86 13h0m-12 8h0"/>
<path vector-effect="non-scaling-stroke" id="m500b" d="M-17 1h0m94 1h0m-169 1h0m87 1h0m-80 1h0m29 2h0m56 1h0m-75 1h0m103 2h0m69 0h0m-48 2h0m-86 1h0m41 1h0m36 1h0m47 2h0m-98 1h0m20 1h0m19 2h0m-111 1h0m46 2h0m35 0h0m-39 1h0m-30 2h0m47 1h0m-59 2h0m113 0h0m20 2h0m-30 1h0m62 1h0m-122 2h0m-47 1h0m42 1h0m131 1h0m-49 1h0m-20 2h0m20 1h0m-80 1h0m41 1h0m-65 2h0m113 0h0m-24 2h0m76 2h0m-47 1h0m-49 1h0m40 0h0m-120 2h0m84 1h0m57 1h0m-12 2h0m-58 2h0m11 0h0m16 1h0m27 2h0m51 1h0m-72 1h0m-124 1h0m69 1h0m2 1h0m-27 3h0m98 0h0m52 1h0m-15 1h0m-75 2h0m-95 2h0m174 1h0m-183 1h0m184 1h0m-116 2h0m113 1h0m-137 1h0m145 1h0m-130 2h0m128 0h0m-6 1h0m-170 2h0m51 1h0m103 2h0m8 0h0m-63 2h0m-46 2h0m38 0h0m-83 2h0m152 1h0m1 1h0m-45 2h0m-39 1h0m68 0h0m-155 3h0m75 0h0m-36 2h0m-37 1h0m120 1h0m30 1h0m-121 2h0m-4 1h0m98 0h0m29 2h0m-57 2h0m5 0h0m-38 2h0m120 2h0m-130 1h0m91 1h0m2 1h0m-63 1h0m32 1h0m-83 2h0m-30 1h0m160 1h0m-151 2h0m80 0h0m42 1h0m54 2h0m-174 1h0m2 1h0m164 2h0m-42 1h0m17 1h0m-102 1h0m-47 2h0m159 0h0m-165 3h0m24 1h0m93 0h0m17 2h0m3 1h0m50 1h0m-159 2h0m130 0h0m-45 1h0m-105 3h0m160 0h0m-73 2h0m-54 2h0m-15 1h0m142 0h0m-78 2h0m78 1h0m-67 2h0m15 0h0m14 2h0m-90 1h0m6 1h0m91 2h0m38 0h0m-153 2h0m137 2h0m32 0h0m-59 2h0m-127 2h0m190 0h0m-46 2h0m-54 1h0m98 1h0m-70 2h0m-12 1h0m-29 2h0m19 1h0m93 1h0m-177 1h0m39 2h0m90 1h0m-38 1h0m-25 2h0m60 1h0m-121 1h0m109 1h0m-120 1h0m153 1h0m-136 3h0m165 0h0m-155 2h0m-31 1h0m67 2h0m36 0h0m-44 2h0m16 2h0m46 2h0m69 0h0m-21 2h0m-95 1h0m97 1h0m-43 2h0m-22 1h0m-116 2h0m156 0h0m-127 2h0m145 1h0m-132 1h0m-40 2h0m47 1h0m113 2h0m-126 1h0m-25 1h0m-7 3h0m173 0h0m-149 1h0m159 2h0m-132 2h0m8 1h0m135 1h0m-97 2h0m-64 1h0m3 1h0m-18 1h0m47 2h0m1 1h0m15 2h0m4 1h0m-10 2h0m15 1h0m-1 1h0m94 2h0m-157 2h0m61 1h0m99 1h0m-182 2h0m75 1h0m42 1h0m-45 2h0m-55 2h0m-21 1h0m8 1h0m79 1h0m86 2h0m-99 2h0m122 1h0m-151 1h0m55 2h0m67 2h0m-145 1h0m75 1h0m10 1h0m30 3h0m-134 1h0m155 1h0m2 2h0m-125 2h0m41 0h0m-36 2h0m30 2h0m100 1h0m-27 1h0m15 2h0m-151 2h0m8 2h0m7 1h0m160 0h0m-144 3h0m-13 1h0m7 2h0m141 2h0m-113 1h0m65 1h0m8 2h0m-23 2h0m26 1h0m-88 2h0m130 1h0m-24 1h0m-150 2h0m101 2h0m8 1h0m-2 2h0m-88 2h0m81 1h0m-56 1h0m39 2h0m-2 2h0m-39 2h0m97 0h0m20 2h0m-14 2h0m-13 2h0m-13 1h0m-2 1h0m-30 2h0m-25 1h0m40 2h0m-34 3h0m-30 1h0m0 1h0m29 2h0m-28 1h0m-14 3h0m2 1h0m0 1h0m121 2h0m28 2h0m-178 1h0m76 3h0m117 1h0m-62 1h0m-114 3h0m166 0h0m-111 2h0m85 2h0m-126 1h0m13 2h0m60 3h0m-71 1h0m-36 2h0m161 1h0m-48 2h0m65 2h0m-139 2h0m76 1h0m-60 2h0m-22 2h0m139 0h0m-8 3h0m-86 2h0m95 1h0m-100 3h0m48 1h0m-12 3h0m-84 1h0m144 1h0m-32 3h0m56 0h0m-23 2h0m-76 3h0m-20 1h0m-70 1h0m84 2h0m-42 3h0m116 0h0m-100 2h0m69 3h0m-49 2h0m51 1h0m-22 3h0m44 1h0m-19 3h0m2 1h0m-18 1h0m-66 2h0m-52 2h0m44 3h0m3 2h0m48 2h0m-34 1h0m-35 2h0m61 2h0m-75 2h0m71 2h0m56 2h0m-33 1h0m-93 3h0m35 1h0m-13 2h0m67 2h0m32 3h0m53 1h0m-107 3h0m-36 1h0m-6 2h0m93 3h0m-3 2h0m55 1h0m-26 2h0m-114 3h0m94 1h0m-54 3h0m29 1h0m45 3h0m-61 2h0m99 2h0m-192 2h0m19 1h0m3 3h0m149 1h0m-113 4h0m97 2h0m-88 2h0m8 2h0m103 2h0m-124 2h0m-21 2h0m-16 1h0m64 3h0m106 3h0m-112 2h0m-41 2h0m19 1h0m38 3h0m33 2h0m-56 3h0m119 1h0m-132 4h0m-37 2h0m142 1h0m-21 4h0m51 1h0m-191 2h0m32 2h0m130 2h0m4 4h0m-106 2h0m-29 2h0m136 1h0m-98 5h0m-44 1h0m75 4h0m62 1h0m-8 3h0m-150 3h0m91 1h0m-9 3h0m28 3h0m64 2h0m-11 1h0m-143 4h0m66 2h0m101 3h0m-23 3h0m-169 2h0m146 4h0m-126 1h0m-9 2h0m107 4h0m-41 2h0m-54 2h0m0 3h0m151 4h0m-43 3h0m-129 1h0m-4 5h0m88 1h0m-51 3h0m113 4h0m-76 2h0m-16 3h0m133 3h0m-108 3h0m-45 3h0m148 1h0m-9 5h0m12 2h0m-93 2h0m-52 3h0m27 6h0m124 0h0m-100 3h0m14 6h0m-28 1h0m-82 4h0m80 4h0m-51 3h0m71 3h0m-4 2h0m-56 3h0m43 3h0m31 5h0m-50 2h0m-8 4h0m-48 3h0m118 3h0m-49 7h0m-65 2h0m156 2h0m-7 5h0m-117 3h0m120 4h0m-156 4h0m53 6h0m120 3h0m-81 4h0m-28 2h0m16 4h0m68 7h0m-11 2h0m-39 6h0m77 5h0m-175 1h0m72 8h0m7 2h0m89 4h0m-156 6h0m50 6h0m-68 3h0m180 4h0m-136 9h0m49 5h0m81 4h0m-176 6h0m138 7h0m-141 1h0m115 10h0m61 3h0m-70 10h0m-95 6h0m25 9h0m86 7h0m-27 3h0m-21 8h0m72 13h0m-43 7h0m29 12h0m47 14h0"/>
<path vector-effect="non-scaling-stroke" id="m500c" d="M16 1h0m40 1h0m20 1h0m-172 2h0m89 0h0m-29 2h0m73 1h0m47 2h0m12 0h0m-133 2h0m6 1h0m-34 2h0m6 0h0m150 1h0m-55 2h0m-54 1h0m90 1h0m-76 2h0m44 1h0m-133 1h0m89 2h0m45 1h0m-54 1h0m-5 1h0m-31 1h0m102 1h0m-94 2h0m139 1h0m-76 2h0m58 1h0m-40 1h0m-138 1h0m109 1h0m-39 2h0m107 0h0m-2 2h0m-92 1h0m113 1h0m-141 2h0m8 0h0m-37 2h0m-13 1h0m16 2h0m82 1h0m22 1h0m-41 1h0m-21 1h0m-6 1h0m76 2h0m-18 1h0m-67 2h0m-33 1h0m-23 1h0m31 2h0m130 0h0m22 2h0m-154 1h0m83 0h0m-100 3h0m141 0h0m-140 2h0m169 1h0m-144 1h0m29 1h0m-3 2h0m105 1h0m20 1h0m-138 1h0m-46 2h0m80 1h0m30 1h0m-101 1h0m142 2h0m-118 1h0m113 1h0m7 2h0m-35 1h0m-96 1h0m156 1h0m-80 1h0m52 1h0m-17 2h0m-80 1h0m129 1h0m-36 2h0m-55 1h0m57 0h0m-136 2h0m47 2h0m13 0h0m-27 2h0m6 0h0m-56 2h0m102 1h0m-13 2h0m58 1h0m-91 1h0m21 1h0m90 2h0m-83 1h0m49 1h0m57 1h0m-149 2h0m55 0h0m21 2h0m-18 2h0m-78 1h0m104 1h0m-104 1h0m89 1h0m-96 1h0m-4 2h0m108 1h0m-109 1h0m57 2h0m39 0h0m42 2h0m-19 1h0m-16 1h0m-12 1h0m-35 1h0m-26 2h0m133 1h0m-101 1h0m-18 2h0m88 1h0m-135 1h0m7 2h0m99 0h0m-69 2h0m-22 1h0m95 1h0m-48 2h0m-36 1h0m21 1h0m-11 2h0m-38 1h0m127 1h0m8 1h0m-96 2h0m5 1h0m62 2h0m-41 1h0m-45 1h0m143 1h0m-167 2h0m157 0h0m13 1h0m-95 2h0m-46 1h0m-12 2h0m5 0h0m157 2h0m14 1h0m-92 1h0m51 2h0m-4 1h0m14 2h0m-85 1h0m35 1h0m85 1h0m-169 2h0m102 2h0m64 0h0m-85 1h0m52 2h0m-159 1h0m64 1h0m108 3h0m-57 1h0m-27 1h0m37 0h0m-36 2h0m-69 1h0m16 2h0m49 2h0m67 0h0m2 2h0m-122 1h0m151 2h0m-164 1h0m36 1h0m47 1h0m-96 2h0m38 2h0m102 0h0m32 3h0m17 0h0m-43 2h0m-87 1h0m25 1h0m35 2h0m-72 1h0m11 2h0m130 2h0m-163 1h0m97 1h0m-98 2h0m46 1h0m44 1h0m25 2h0m-109 1h0m53 0h0m64 3h0m-6 1h0m-95 2h0m131 0h0m-27 2h0m-126 2h0m33 0h0m31 2h0m-55 2h0m82 1h0m30 2h0m-56 1h0m5 1h0m71 2h0m-123 2h0m103 0h0m-69 2h0m-72 1h0m14 3h0m156 0h0m-122 1h0m-48 3h0m18 1h0m86 1h0m32 2h0m-35 1h0m-5 1h0m-5 2h0m-39 2h0m130 0h0m-99 2h0m73 2h0m-14 1h0m15 2h0m-55 1h0m14 2h0m-123 2h0m22 0h0m166 2h0m-123 2h0m5 0h0m39 2h0m6 1h0m42 2h0m-28 2h0m-28 1h0m51 2h0m30 1h0m-161 2h0m146 2h0m-12 1h0m-27 2h0m-67 1h0m-27 2h0m126 1h0m-151 2h0m108 1h0m19 2h0m-40 1h0m57 2h0m32 2h0m-151 1h0m-15 1h0m149 3h0m-139 1h0m131 1h0m15 3h0m-62 1h0m53 2h0m0 2h0m-30 1h0m57 0h0m-38 3h0m-55 2h0m5 0h0m-84 2h0m77 1h0m-32 2h0m-52 2h0m41 1h0m120 2h0m-106 3h0m8 0h0m38 3h0m-105 2h0m7 0h0m69 2h0m99 2h0m-31 1h0m-56 3h0m-38 2h0m112 0h0m-57 2h0m-115 3h0m105 0h0m-43 2h0m111 2h0m-118 1h0m-35 2h0m-26 3h0m186 1h0m-136 2h0m43 0h0m57 3h0m7 1h0m-113 3h0m87 1h0m-95 2h0m-35 1h0m191 2h0m-185 3h0m178 0h0m-31 2h0m5 3h0m7 1h0m-91 3h0m107 0h0m-84 3h0m28 2h0m35 1h0m-135 2h0m2 1h0m141 2h0m4 2h0m-88 2h0m85 2h0m-72 1h0m-65 2h0m-10 3h0m45 1h0m66 2h0m29 2h0m16 2h0m-104 1h0m104 3h0m-119 2h0m-27 2h0m149 1h0m-146 2h0m87 3h0m-101 1h0m10 1h0m157 4h0m-140 1h0m135 1h0m-133 2h0m3 3h0m29 0h0m-58 3h0m141 1h0m-47 4h0m71 1h0m-163 2h0m159 2h0m-129 1h0m88 4h0m32 2h0m-15 1h0m18 1h0m-149 2h0m109 3h0m36 2h0m-31 2h0m37 2h0m-124 2h0m-48 3h0m176 2h0m-56 3h0m18 0h0m-117 3h0m165 1h0m-164 3h0m110 3h0m-40 1h0m52 2h0m44 2h0m-99 2h0m-60 3h0m69 3h0m20 1h0m27 3h0m-89 2h0m-43 1h0m164 2h0m-120 4h0m27 1h0m-41 3h0m25 3h0m-73 1h0m50 2h0m0 4h0m74 2h0m-75 2h0m39 3h0m21 0h0m57 5h0m-95 2h0m108 0h0m-36 5h0m-62 2h0m-22 2h0m-60 1h0m50 3h0m23 3h0m-16 4h0m92 1h0m-83 1h0m33 3h0m-40 4h0m14 2h0m104 2h0m-140 3h0m-40 2h0m119 2h0m73 4h0m-175 3h0m38 3h0m73 2h0m-66 3h0m106 2h0m-60 2h0m16 4h0m63 1h0m-148 4h0m-13 1h0m4 4h0m16 4h0m12 2h0m-58 4h0m130 1h0m-11 3h0m23 2h0m-117 5h0m88 3h0m57 1h0m-43 3h0m-54 3h0m-68 5h0m84 2h0m-69 3h0m14 2h0m42 5h0m-53 3h0m103 2h0m60 3h0m-31 4h0m-140 4h0m-10 4h0m80 2h0m49 2h0m-79 4h0m117 3h0m-57 5h0m47 3h0m2 5h0m21 4h0m6 2h0m-121 3h0m9 5h0m89 2h0m-26 3h0m-62 5h0m-74 5h0m23 3h0m125 5h0m-88 2h0m130 4h0m-176 8h0m136 0h0m-107 5h0m126 4h0m-82 6h0m-10 2h0m-3 7h0m53 6h0m-99 2h0m14 6h0m141 5h0m-44 8h0m17 3h0m-156 6h0m83 5h0m46 3h0m-1 8h0m20 4h0m10 8h0m-123 5h0m141 5h0m-126 12h0m38 3h0m32 10h0m23 4h0m-143 12h0m11 9h0m59 9h0m8 13h0m-70 6h0"/>
<path vector-effect="non-scaling-stroke" id="m750a" d="M37 0h0m-64 1h0m24 1h0m-84 1h0m103 0h0m-78 2h0m86 0h0m-76 1h0m61 1h0m-93 1h0m8 1h0m-23 1h0m124 0h0m7 1h0m40 1h0m-55 1h0m48 0h0m-146 1h0m67 2h0m51 0h0m-20 1h0m-29 1h0m56 0h0m-47 1h0m79 1h0m-117 1h0m-50 1h0m154 1h0m-162 1h0m136 0h0m35 1h0m-137 1h0m57 1h0m102 0h0m-50 1h0m-63 2h0m71 0h0m-49 1h0m-80 1h0m33 0h0m-56 1h0m34 1h0m-17 1h0m127 1h0m-70 1h0m125 0h0m-194 2h0m175 0h0m-17 1h0m-115 1h0m32 0h0m26 1h0m9 1h0m-81 1h0m138 1h0m-117 1h0m24 0h0m74 2h0m6 0h0m-99 1h0m-30 1h0m85 1h0m-30 1h0m20 1h0m67 0h0m-167 1h0m54 0h0m16 2h0m120 0h0m-182 1h0m56 1h0m128 0h0m-49 1h0m24 1h0m26 1h0m-158 2h0m96 0h0m-133 1h0m26 1h0m11 0h0m42 2h0m57 0h0m-88 1h0m65 1h0m52 0h0m-134 1h0m126 1h0m-98 1h0m-5 1h0m3 0h0m47 1h0m-74 2h0m18 0h0m39 1h0m7 1h0m-83 1h0m6 0h0m7 1h0m161 1h0m-147 1h0m92 1h0m32 0h0m-37 1h0m-69 1h0m-46 1h0m-5 1h0m2 1h0m66 0h0m-25 1h0m125 1h0m-1 1h0m-118 1h0m77 0h0m-24 2h0m49 0h0m28 1h0m-82 1h0m-1 1h0m27 0h0m-59 1h0m58 1h0m-94 1h0m-36 1h0m35 1h0m48 0h0m16 1h0m77 1h0m-116 1h0m20 1h0m20 1h0m-75 1h0m154 0h0m-62 1h0m-63 1h0m129 1h0m-134 1h0m-9 1h0m140 0h0m-74 1h0m-75 1h0m-17 1h0m181 0h0m-50 1h0m-65 1h0m-11 1h0m-52 1h0m56 0h0m-57 1h0m118 2h0m6 0h0m39 1h0m-77 1h0m51 0h0m-138 1h0m6 2h0m41 0h0m121 1h0m11 0h0m-194 2h0m70 0h0m-25 1h0m-15 1h0m136 0h0m-158 2h0m42 0h0m54 2h0m1 0h0m76 1h0m-100 1h0m14 1h0m20 0h0m-103 2h0m152 0h0m-88 1h0m28 0h0m79 1h0m-176 2h0m174 0h0m-149 1h0m-14 1h0m11 1h0m154 0h0m-162 1h0m3 1h0m82 1h0m-104 1h0m4 0h0m87 1h0m-88 1h0m50 1h0m-20 1h0m-21 1h0m86 1h0m-87 1h0m84 0h0m45 1h0m6 1h0m-52 1h0m-81 1h0m136 0h0m44 1h0m-151 1h0m68 1h0m39 0h0m10 2h0m-88 1h0m127 0h0m-133 1h0m-44 1h0m155 1h0m-19 1h0m-92 1h0m116 0h0m-148 1h0m150 1h0m-33 1h0m30 0h0m-119 1h0m39 2h0m0 1h0m53 0h0m-129 1h0m141 0h0m26 1h0m-112 2h0m38 0h0m-63 1h0m-45 1h0m164 1h0m-22 1h0m-114 1h0m89 0h0m-101 2h0m90 0h0m-33 1h0m-11 1h0m33 1h0m-43 1h0m94 1h0m26 0h0m-71 1h0m-26 1h0m64 1h0m-50 1h0m-38 1h0m91 1h0m16 0h0m-122 2h0m56 0h0m-87 1h0m106 1h0m-90 1h0m29 1h0m-25 1h0m54 1h0m-62 1h0m105 0h0m-122 1h0m96 1h0m-5 1h0m45 1h0m-89 1h0m103 1h0m-144 1h0m63 0h0m-4 1h0m21 1h0m8 1h0m38 1h0m2 0h0m-43 2h0m-39 1h0m50 1h0m-44 1h0m4 0h0m112 1h0m-114 1h0m68 1h0m-90 1h0m-16 1h0m77 0h0m-54 2h0m138 0h0m-148 1h0m-46 2h0m85 0h0m108 1h0m-170 2h0m117 0h0m57 1h0m-89 1h0m65 0h0m-163 2h0m18 0h0m24 1h0m118 2h0m5 0h0m-58 1h0m-48 1h0m-52 1h0m49 1h0m123 1h0m-125 1h0m-25 1h0m56 1h0m34 1h0m-59 1h0m105 0h0m-144 2h0m159 0h0m-102 1h0m104 1h0m-168 1h0m147 1h0m-28 1h0m52 1h0m-82 1h0m-90 1h0m25 1h0m57 0h0m-40 1h0m123 2h0m-43 1h0m-116 1h0m2 0h0m5 1h0m13 2h0m8 0h0m-32 1h0m149 2h0m-156 1h0m11 0h0m137 1h0m-74 1h0m-54 1h0m36 1h0m-38 1h0m91 1h0m24 1h0m-97 1h0m63 1h0m-14 1h0m41 0h0m-117 2h0m123 0h0m36 2h0m-154 1h0m76 0h0m-48 1h0m-53 2h0m130 1h0m38 1h0m11 1h0m-136 1h0m3 0h0m126 1h0m-138 1h0m6 1h0m-30 1h0m177 2h0m-27 1h0m-125 1h0m-31 1h0m77 1h0m39 0h0m-59 2h0m-64 1h0m45 1h0m-20 1h0m6 0h0m121 1h0m-68 2h0m57 0h0m-72 2h0m-13 1h0m27 1h0m56 0h0m17 1h0m-86 1h0m107 1h0m-167 1h0m183 1h0m-34 2h0m6 0h0m-111 1h0m109 2h0m-94 1h0m6 0h0m-64 2h0m-5 1h0m81 0h0m-19 2h0m39 1h0m79 1h0m5 1h0m-108 1h0m91 1h0m-63 1h0m16 1h0m-103 1h0m117 1h0m-107 1h0m76 2h0m41 0h0m-143 2h0m159 0h0m-34 1h0m-100 1h0m-26 1h0m37 1h0m122 2h0m-18 1h0m-110 1h0m66 0h0m-69 2h0m84 1h0m49 1h0m-157 1h0m19 1h0m91 1h0m40 2h0m-86 1h0m4 0h0m-54 2h0m117 0h0m-60 2h0m-45 1h0m78 1h0m-116 1h0m81 1h0m45 1h0m-116 1h0m156 1h0m-164 2h0m85 0h0m-56 2h0m54 1h0m-88 1h0m19 1h0m114 2h0m32 0h0m-162 1h0m187 1h0m-174 1h0m155 2h0m20 0h0m-190 2h0m89 1h0m80 1h0m-168 2h0m76 0h0m59 2h0m21 1h0m-101 1h0m95 1h0m-67 1h0m-54 1h0m67 1h0m49 1h0m-131 2h0m78 0h0m4 2h0m9 1h0m-20 2h0m31 0h0m-21 1h0m-88 2h0m11 1h0m163 1h0m-87 1h0m-80 1h0m96 1h0m-38 2h0m32 1h0m77 1h0m-65 1h0m-41 2h0m20 1h0m66 0h0m-126 2h0m75 1h0m4 2h0m41 1h0m-7 1h0m-61 1h0m-2 1h0m-77 2h0m165 0h0m-10 2h0m-107 2h0m70 0h0m-69 1h0m102 1h0m-90 2h0m110 1h0m-40 1h0m48 2h0m-12 1h0m11 1h0m-176 1h0m136 1h0m-97 1h0m10 2h0m57 2h0m-54 1h0m-23 1h0m85 1h0m-117 1h0m168 1h0m-92 1h0m-27 3h0m125 0h0m-31 2h0m-46 1h0m10 1h0m2 1h0m-36 2h0m68 1h0m-21 1h0m-93 1h0m-15 2h0m55 0h0m-36 3h0m45 0h0m95 2h0m15 1h0m-77 1h0m-75 1h0m23 2h0m38 1h0m-15 2h0m-32 1h0m-51 1h0m130 2h0m-95 1h0m63 1h0m-37 2h0m88 1h0m-118 1h0m65 2h0m14 1h0m-35 1h0m-71 2h0m86 1h0m69 1h0m24 1h0m-46 2h0m38 2h0m-16 1h0m32 1h0m-22 2h0m-2 1h0m-72 1h0m-77 2h0m72 2h0m-24 1h0m122 1h0m-122 2h0m45 1h0m25 2h0m56 0h0m-28 2h0m-57 1h0m66 1h0m4 3h0m-23 1h0m-144 2h0m10 0h0m146 1h0m-35 2h0m-26 2h0m31 2h0m-88 1h0m103 1h0m-20 1h0m-128 2h0m82 1h0m-36 2h0m-46 2h0m99 1h0m18 1h0m-20 2h0m-34 1h0m93 2h0m-32 2h0m-77 1h0m25 1h0m81 1h0m-98 2h0m52 2h0m-53 1h0m53 3h0m-108 1h0m142 1h0m-135 2h0m106 1h0m14 2h0m40 1h0m-73 2h0m23 1h0m-62 2h0m62 2h0m0 1h0m-26 1h0m31 3h0m51 2h0m11 1h0m-172 2h0m32 0h0m36 2h0m-59 2h0m7 2h0m25 1h0m-24 3h0m85 1h0m-23 1h0m-18 3h0m47 1h0m-25 2h0m-19 1h0m-69 1h0m151 3h0m-109 1h0m5 2h0m37 1h0m42 3h0m-34 1h0m92 1h0m-21 2h0m-81 3h0m29 1h0m24 2h0m-17 3h0m-65 1h0m11 2h0m66 0h0m-127 3h0m-7 2h0m148 1h0m-114 3h0m79 1h0m38 1h0m-71 3h0m-72 2h0m16 2h0m5 2h0m93 2h0m11 1h0m7 2h0m38 1h0m-130 2h0m-4 3h0m140 3h0m-90 2h0m46 1h0m-148 1h0m160 2h0m-124 3h0m59 2h0m-94 1h0m140 2h0m43 2h0m-31 3h0m-155 1h0m83 3h0m-55 2h0m157 1h0m-177 4h0m123 1h0m-49 2h0m-45 3h0m91 2h0m45 2h0m-14 2h0m-111 1h0m13 3h0m-13 2h0m19 2h0m-45 3h0m-18 3h0m119 1h0m63 2h0m-104 3h0m30 3h0m25 1h0m-118 2h0m26 3h0m138 3h0m-10 2h0m-1 2h0m24 2h0m-182 3h0m132 4h0m-63 2h0m20 3h0m93 2h0m-164 2h0m68 2h0m77 3h0m-124 4h0m-11 3h0m55 0h0m-7 3h0m-75 3h0m129 4h0m34 2h0m13 3h0m-6 4h0m-18 1h0m-57 3h0m62 3h0m-139 3h0m88 2h0m-117 4h0m121 2h0m-24 3h0m6 4h0m68 4h0m-131 2h0m67 5h0m-31 3h0m60 4h0m-66 2h0m109 5h0m-98 3h0m-7 1h0m-69 7h0m67 0h0m-20 5h0m-40 5h0m24 2h0m37 4h0m82 6h0m-18 3h0m-81 5h0m132 4h0m-165 3h0m14 4h0m30 6h0m-68 4h0m33 7h0m56 3h0m16 5h0m76 8h0m4 7h0m-15 5h0m-31 8h0m-113 6h0m-16 7h0m122 7h0"/>
<path vector-effect="non-scaling-stroke" id="m750b" d="M45 0h0m-21 1h0m-14 1h0m6 1h0m47 1h0m-26 1h0m-19 1h0m12 0h0m-95 1h0m-10 1h0m150 1h0m-167 1h0m160 0h0m-116 1h0m119 1h0m-93 1h0m-3 1h0m94 0h0m-149 1h0m154 1h0m-74 1h0m-71 1h0m19 0h0m99 2h0m44 0h0m-52 1h0m38 0h0m19 1h0m-119 1h0m23 2h0m74 0h0m-149 1h0m28 0h0m62 2h0m1 0h0m-18 1h0m89 1h0m-70 1h0m-95 1h0m9 0h0m6 1h0m47 2h0m54 0h0m32 1h0m-23 1h0m43 0h0m-27 1h0m-133 1h0m122 1h0m-128 1h0m156 1h0m5 0h0m-47 1h0m-59 1h0m44 1h0m36 0h0m-55 2h0m8 0h0m53 1h0m-74 1h0m83 0h0m-68 1h0m37 1h0m-102 1h0m-33 1h0m61 1h0m100 0h0m-136 1h0m66 1h0m67 1h0m-122 1h0m3 1h0m71 1h0m8 0h0m-48 1h0m85 1h0m-163 1h0m80 1h0m64 0h0m-90 1h0m125 1h0m-131 1h0m23 1h0m45 0h0m-114 2h0m185 0h0m-17 1h0m22 1h0m-78 1h0m-55 1h0m106 0h0m33 1h0m-89 1h0m-34 1h0m59 0h0m-100 2h0m96 0h0m-126 1h0m71 1h0m48 1h0m-28 1h0m-15 1h0m116 0h0m-5 1h0m-166 1h0m101 0h0m-65 1h0m11 1h0m-10 1h0m12 1h0m1 1h0m-49 1h0m73 0h0m-43 1h0m-47 2h0m92 0h0m-32 1h0m85 1h0m8 0h0m20 2h0m1 0h0m-28 1h0m13 1h0m-50 1h0m13 1h0m-38 1h0m61 0h0m-34 1h0m49 1h0m-129 1h0m141 0h0m19 1h0m-75 1h0m-15 1h0m-33 1h0m52 1h0m40 0h0m-90 1h0m19 1h0m-24 1h0m69 1h0m17 0h0m-68 1h0m-43 1h0m-15 1h0m82 0h0m33 2h0m-74 1h0m38 0h0m38 1h0m17 1h0m-71 1h0m30 0h0m-98 1h0m136 1h0m-135 1h0m88 1h0m-23 1h0m60 0h0m-130 2h0m105 0h0m44 1h0m-144 1h0m66 0h0m-7 2h0m88 0h0m-172 1h0m53 1h0m59 1h0m41 0h0m-3 1h0m-44 1h0m-104 1h0m98 1h0m-11 1h0m68 1h0m-88 1h0m86 0h0m-7 1h0m18 1h0m-127 1h0m-41 1h0m170 0h0m-132 1h0m33 1h0m14 0h0m-54 1h0m4 1h0m16 1h0m90 1h0m32 0h0m-15 2h0m26 0h0m-186 1h0m91 1h0m56 1h0m27 1h0m-62 1h0m61 0h0m-12 1h0m-134 1h0m54 1h0m105 1h0m-152 1h0m48 1h0m85 0h0m-107 1h0m-55 1h0m71 1h0m18 0h0m-20 1h0m-47 1h0m34 2h0m22 0h0m-75 1h0m166 1h0m-76 1h0m78 0h0m-153 2h0m32 0h0m-37 1h0m105 1h0m-122 1h0m64 1h0m102 0h0m-118 2h0m35 0h0m80 1h0m-54 1h0m41 0h0m-51 1h0m-82 2h0m8 1h0m140 0h0m-78 1h0m-45 1h0m52 0h0m76 2h0m-157 1h0m128 0h0m-122 2h0m85 0h0m-2 1h0m-40 1h0m30 0h0m-10 2h0m102 0h0m-71 2h0m-35 1h0m50 0h0m54 1h0m-103 1h0m111 0h0m-87 1h0m-77 2h0m15 0h0m59 1h0m60 1h0m-41 1h0m76 1h0m-12 1h0m-1 1h0m12 0h0m-80 2h0m39 1h0m1 0h0m-68 1h0m106 1h0m-25 1h0m10 0h0m19 2h0m-163 1h0m14 1h0m84 0h0m8 1h0m-8 1h0m-108 1h0m93 1h0m-49 1h0m128 0h0m-111 1h0m-41 2h0m144 0h0m-155 2h0m145 0h0m-81 2h0m75 0h0m-131 1h0m6 1h0m93 1h0m-6 1h0m-43 1h0m18 1h0m83 1h0m-190 1h0m96 1h0m45 0h0m-72 1h0m125 1h0m-135 1h0m9 1h0m-67 1h0m45 1h0m-7 1h0m62 1h0m80 1h0m-12 1h0m-157 1h0m65 1h0m21 0h0m67 1h0m-27 1h0m-21 1h0m-59 1h0m58 1h0m14 1h0m-121 1h0m176 1h0m-150 1h0m63 0h0m71 1h0m-49 1h0m16 2h0m-47 1h0m-49 1h0m149 0h0m-141 1h0m-4 2h0m42 1h0m101 0h0m-138 1h0m41 2h0m5 1h0m88 0h0m5 1h0m-92 1h0m58 1h0m4 1h0m20 1h0m-27 1h0m20 1h0m-88 1h0m57 1h0m-40 1h0m-99 1h0m75 1h0m47 0h0m-73 1h0m15 1h0m-50 2h0m136 0h0m-105 1h0m35 2h0m-45 1h0m107 0h0m-33 1h0m-11 1h0m-86 1h0m15 2h0m102 1h0m-126 1h0m35 0h0m-32 1h0m102 1h0m75 1h0m-53 1h0m-40 1h0m-47 1h0m-44 2h0m180 0h0m-109 1h0m63 1h0m-102 2h0m103 0h0m-79 2h0m118 1h0m-39 1h0m8 0h0m-82 1h0m-40 2h0m-18 1h0m163 0h0m-16 1h0m-23 1h0m-121 1h0m47 2h0m-41 1h0m54 0h0m24 2h0m-68 1h0m95 1h0m17 0h0m-128 2h0m50 1h0m4 1h0m28 1h0m-20 1h0m-39 2h0m57 0h0m1 1h0m19 1h0m-52 1h0m98 1h0m-127 1h0m146 2h0m7 0h0m-71 1h0m-12 2h0m100 0h0m-108 2h0m71 0h0m-104 2h0m27 0h0m-10 2h0m64 0h0m-136 2h0m101 1h0m71 1h0m-172 1h0m102 1h0m-49 1h0m48 1h0m46 1h0m-117 2h0m75 1h0m86 0h0m-172 2h0m175 1h0m-126 1h0m9 1h0m84 1h0m-34 1h0m-125 2h0m123 0h0m-81 1h0m-24 2h0m73 1h0m-21 1h0m-69 1h0m4 1h0m108 1h0m15 1h0m40 1h0m10 2h0m-48 1h0m-45 1h0m12 1h0m90 1h0m-94 2h0m45 0h0m-105 2h0m10 0h0m151 2h0m-135 1h0m73 0h0m-69 2h0m16 2h0m45 0h0m-121 2h0m175 0h0m-39 2h0m49 1h0m-124 1h0m8 1h0m-20 1h0m-32 2h0m173 0h0m-145 2h0m19 1h0m-50 1h0m66 1h0m-32 2h0m136 0h0m-45 1h0m-113 2h0m36 2h0m46 0h0m51 2h0m-88 1h0m68 1h0m-74 1h0m114 2h0m13 0h0m-145 1h0m65 2h0m-77 2h0m122 1h0m-95 1h0m102 1h0m-53 1h0m-26 2h0m29 0h0m-74 2h0m46 1h0m84 1h0m-15 2h0m-155 1h0m3 1h0m22 1h0m114 1h0m26 1h0m-150 1h0m71 2h0m89 1h0m-131 1h0m42 2h0m29 0h0m-117 2h0m138 1h0m-39 2h0m-53 1h0m144 1h0m-119 1h0m96 1h0m-38 2h0m-63 1h0m-38 1h0m38 1h0m18 2h0m-39 2h0m146 0h0m-44 2h0m-131 1h0m121 2h0m12 0h0m-30 2h0m-76 1h0m-23 2h0m6 1h0m18 2h0m13 1h0m130 1h0m-75 1h0m15 2h0m-22 1h0m26 1h0m24 1h0m-26 2h0m-33 1h0m23 1h0m47 1h0m-106 2h0m-53 1h0m-10 2h0m155 1h0m18 2h0m-133 1h0m-36 2h0m117 1h0m24 2h0m51 0h0m-89 2h0m69 1h0m-13 2h0m-128 1h0m160 1h0m-10 2h0m-62 1h0m3 2h0m-105 1h0m-13 1h0m123 2h0m-76 1h0m3 2h0m-33 2h0m15 1h0m116 0h0m-94 2h0m-32 2h0m44 2h0m-43 1h0m11 2h0m47 0h0m-51 3h0m67 0h0m17 2h0m-7 1h0m77 2h0m-35 1h0m27 1h0m-76 3h0m8 0h0m69 2h0m-90 2h0m26 2h0m-14 1h0m-79 2h0m-14 2h0m33 1h0m98 1h0m11 1h0m36 2h0m-10 1h0m-49 2h0m-48 1h0m-45 3h0m123 0h0m-101 3h0m-25 1h0m65 2h0m37 1h0m2 2h0m-128 1h0m-3 3h0m147 1h0m-88 1h0m-70 2h0m67 2h0m-47 2h0m110 0h0m1 2h0m-66 2h0m93 1h0m-48 2h0m57 2h0m26 2h0m-19 1h0m-118 2h0m139 2h0m-83 2h0m-59 2h0m19 1h0m92 1h0m-82 1h0m14 3h0m-69 2h0m7 2h0m164 0h0m-21 2h0m-115 2h0m6 2h0m38 2h0m-18 1h0m95 2h0m-73 2h0m-18 2h0m-64 1h0m-22 3h0m72 2h0m50 1h0m43 2h0m1 2h0m25 2h0m-142 2h0m-53 1h0m165 2h0m-88 3h0m88 0h0m-161 4h0m103 0h0m-75 3h0m39 1h0m-37 3h0m109 1h0m-35 4h0m9 0h0m-118 2h0m131 3h0m2 1h0m-106 3h0m139 2h0m23 1h0m-44 3h0m34 1h0m-28 2h0m-97 3h0m1 1h0m51 3h0m-19 1h0m6 2h0m55 4h0m-51 2h0m8 1h0m56 3h0m-149 1h0m79 2h0m104 3h0m-6 4h0m-46 1h0m-142 3h0m0 1h0m174 4h0m-136 1h0m44 2h0m2 2h0m51 3h0m25 2h0m-80 2h0m96 4h0m-3 2h0m-117 1h0m55 4h0m-30 2h0m-31 3h0m-46 3h0m165 1h0m-69 2h0m97 4h0m-136 1h0m-20 3h0m55 4h0m-28 2h0m74 3h0m-76 2h0m0 4h0m-51 3h0m14 1h0m-8 5h0m160 3h0m-114 2h0m-14 2h0m118 3h0m-85 2h0m82 5h0m-132 1h0m153 5h0m-186 2h0m176 4h0m-119 2h0m38 4h0m63 2h0m-134 6h0m117 4h0m9 1h0m-46 5h0m-1 4h0m41 3h0m49 3h0m-49 3h0m-3 3h0m35 5h0m-40 3h0m-45 6h0m-8 5h0m27 4h0m8 3h0m35 4h0m-113 5h0m-40 4h0m162 4h0m0 5h0m8 6h0m3 5h0m-106 8h0m91 3h0m-105 8h0m73 9h0m-115 6h0m39 7h0m-9 4h0"/>
<path vector-effect="non-scaling-stroke" id="m750c" d="M-74 1h0m145 0h0m-108 1h0m-48 1h0m110 1h0m-37 1h0m-87 1h0m50 0h0m106 1h0m-41 1h0m-69 1h0m10 0h0m114 1h0m-28 1h0m28 1h0m8 1h0m17 0h0m-63 1h0m-44 1h0m37 1h0m-10 1h0m3 1h0m29 0h0m-76 1h0m53 1h0m-102 1h0m63 1h0m64 0h0m40 1h0m-7 1h0m-157 1h0m170 1h0m-147 1h0m141 0h0m-188 2h0m76 0h0m6 1h0m92 1h0m14 1h0m-82 1h0m-90 1h0m38 0h0m34 1h0m66 1h0m-132 1h0m58 0h0m-33 1h0m93 1h0m-83 1h0m-24 1h0m21 0h0m-51 1h0m2 2h0m27 0h0m-4 1h0m107 0h0m-17 1h0m-47 2h0m48 0h0m56 1h0m-38 1h0m22 0h0m-37 1h0m-15 1h0m-18 1h0m-86 1h0m30 0h0m1 2h0m73 0h0m76 1h0m-168 1h0m-16 1h0m77 1h0m26 0h0m44 1h0m-94 1h0m28 1h0m44 1h0m-33 1h0m23 0h0m59 1h0m-169 1h0m20 1h0m122 1h0m-127 1h0m127 0h0m43 1h0m-175 1h0m156 1h0m-98 1h0m-18 1h0m25 0h0m63 1h0m-120 1h0m25 1h0m132 0h0m-21 2h0m13 0h0m-92 1h0m-15 1h0m-8 1h0m78 1h0m16 1h0m8 0h0m-107 1h0m-44 1h0m173 0h0m-145 2h0m88 0h0m11 2h0m28 0h0m35 1h0m-124 1h0m124 0h0m-179 1h0m120 1h0m-77 1h0m1 1h0m13 0h0m93 1h0m-167 1h0m144 1h0m-81 1h0m-56 1h0m124 0h0m51 1h0m-68 1h0m-46 1h0m33 1h0m-60 1h0m17 0h0m74 1h0m-99 1h0m164 1h0m-168 1h0m4 1h0m95 0h0m0 1h0m52 1h0m-32 1h0m31 1h0m-114 1h0m23 0h0m-58 1h0m117 1h0m15 1h0m-39 1h0m-100 1h0m134 0h0m-14 1h0m-102 1h0m25 0h0m-27 2h0m45 0h0m-16 1h0m-28 1h0m126 1h0m26 0h0m-140 1h0m38 1h0m-92 1h0m92 1h0m-73 1h0m105 0h0m-87 2h0m75 0h0m-2 1h0m-19 1h0m101 0h0m-106 2h0m-82 1h0m159 0h0m-74 1h0m-36 1h0m29 1h0m10 0h0m14 2h0m69 0h0m-99 1h0m61 1h0m1 0h0m-124 2h0m118 0h0m-4 1h0m-55 1h0m95 1h0m-107 1h0m57 0h0m-64 1h0m87 1h0m-108 1h0m29 1h0m-31 1h0m134 0h0m-160 1h0m186 1h0m-103 1h0m12 1h0m-88 1h0m16 0h0m138 1h0m-123 1h0m-43 1h0m133 0h0m-111 2h0m111 0h0m-70 2h0m70 0h0m-113 1h0m40 0h0m-15 2h0m-13 1h0m113 1h0m51 0h0m-177 1h0m95 1h0m75 0h0m-105 2h0m61 0h0m1 1h0m-33 1h0m14 1h0m47 1h0m-102 1h0m25 0h0m-24 2h0m2 0h0m-35 1h0m-39 1h0m111 0h0m-17 2h0m65 1h0m-122 1h0m73 0h0m-4 1h0m-76 1h0m-4 1h0m52 0h0m-19 1h0m26 2h0m96 0h0m1 1h0m-34 1h0m-15 1h0m-12 1h0m0 1h0m-120 1h0m46 1h0m-42 1h0m111 0h0m59 1h0m-168 1h0m25 1h0m129 0h0m-130 2h0m25 0h0m45 1h0m-82 2h0m1 0h0m124 1h0m-52 1h0m21 0h0m37 1h0m-40 1h0m15 1h0m-29 2h0m24 0h0m-16 1h0m-86 1h0m126 1h0m41 0h0m-156 2h0m158 0h0m9 1h0m-179 1h0m53 1h0m41 2h0m62 0h0m-25 1h0m-78 1h0m1 1h0m-18 1h0m25 0h0m-78 2h0m163 0h0m-148 1h0m50 1h0m-37 1h0m74 1h0m-70 1h0m-4 1h0m-27 1h0m91 0h0m93 1h0m-116 2h0m-1 1h0m114 0h0m-76 2h0m10 0h0m-43 1h0m-7 1h0m128 1h0m-150 1h0m-15 1h0m9 0h0m48 2h0m34 1h0m-31 1h0m23 0h0m35 1h0m-125 2h0m57 0h0m97 1h0m-44 1h0m-108 1h0m113 1h0m-19 1h0m-85 1h0m20 1h0m-24 1h0m1 0h0m4 2h0m17 1h0m109 1h0m12 0h0m-112 1h0m-33 1h0m75 1h0m-51 1h0m131 1h0m-89 1h0m-63 2h0m120 0h0m-81 1h0m76 1h0m-71 1h0m15 1h0m-18 1h0m109 1h0m10 1h0m-91 1h0m-67 1h0m159 1h0m-61 1h0m-63 1h0m67 0h0m-19 1h0m11 2h0m-36 1h0m81 0h0m-17 1h0m-141 1h0m24 2h0m35 0h0m-7 1h0m-33 1h0m100 1h0m-115 2h0m4 0h0m40 2h0m70 0h0m-101 1h0m48 2h0m78 0h0m-69 2h0m17 0h0m-97 2h0m165 1h0m-68 1h0m66 0h0m-71 1h0m-7 2h0m104 0h0m-72 1h0m-53 2h0m-1 1h0m-45 1h0m132 0h0m-138 2h0m115 1h0m-120 1h0m61 1h0m37 0h0m-87 2h0m55 1h0m-69 1h0m67 0h0m80 2h0m-141 1h0m124 1h0m-129 1h0m180 1h0m-43 1h0m31 0h0m-85 1h0m92 2h0m-8 1h0m5 1h0m-101 1h0m27 1h0m-52 2h0m69 0h0m-30 1h0m82 1h0m-64 2h0m-55 1h0m-9 1h0m57 0h0m-77 2h0m108 1h0m-84 1h0m126 1h0m-86 1h0m70 1h0m-66 1h0m-93 1h0m20 1h0m15 1h0m77 1h0m-60 1h0m75 1h0m-79 2h0m23 0h0m64 1h0m-106 2h0m-11 1h0m104 1h0m47 0h0m-111 2h0m-59 1h0m146 1h0m-8 2h0m7 1h0m-105 1h0m132 0h0m-140 2h0m30 1h0m32 1h0m-40 1h0m-44 1h0m47 2h0m107 0h0m-84 2h0m86 0h0m-84 1h0m84 1h0m-159 2h0m75 1h0m-34 1h0m12 1h0m44 1h0m54 2h0m-76 1h0m9 1h0m64 1h0m-56 1h0m-78 1h0m50 2h0m14 1h0m6 0h0m31 2h0m-31 1h0m1 1h0m79 1h0m-65 2h0m76 0h0m-112 2h0m64 1h0m-110 1h0m162 2h0m-36 1h0m10 0h0m-34 1h0m31 1h0m4 2h0m30 1h0m-126 2h0m69 1h0m-138 1h0m82 1h0m55 1h0m-105 2h0m11 0h0m19 2h0m67 1h0m-68 2h0m124 0h0m-36 1h0m17 2h0m-161 1h0m103 1h0m-22 1h0m1 2h0m95 1h0m-129 1h0m-31 1h0m28 1h0m-39 2h0m104 1h0m81 1h0m-134 2h0m101 0h0m-110 1h0m-2 2h0m-19 1h0m106 1h0m-67 2h0m99 1h0m-143 2h0m144 1h0m-4 1h0m-166 2h0m190 0h0m-64 2h0m-33 1h0m55 1h0m-74 1h0m82 2h0m-39 1h0m-19 2h0m95 0h0m-148 2h0m44 1h0m-16 1h0m-43 2h0m55 2h0m-41 1h0m143 1h0m-126 1h0m-65 1h0m31 1h0m-29 2h0m108 1h0m81 1h0m-9 2h0m-37 1h0m36 2h0m-53 1h0m-107 1h0m89 2h0m57 1h0m-102 2h0m46 1h0m60 1h0m-156 2h0m169 0h0m-35 3h0m41 0h0m-90 1h0m-31 2h0m61 1h0m24 2h0m46 2h0m-101 1h0m-23 1h0m71 1h0m-99 2h0m21 1h0m46 1h0m83 2h0m-176 2h0m113 0h0m53 2h0m-147 1h0m-1 3h0m52 1h0m56 0h0m-77 2h0m0 2h0m58 1h0m-67 1h0m36 3h0m-98 1h0m59 1h0m55 1h0m82 2h0m-174 2h0m98 1h0m44 1h0m-25 2h0m-86 2h0m50 1h0m28 2h0m-113 1h0m166 2h0m-170 2h0m114 1h0m1 1h0m30 2h0m-127 1h0m152 1h0m-13 2h0m-52 2h0m18 1h0m22 2h0m29 1h0m-23 2h0m-46 2h0m79 0h0m-125 3h0m-34 2h0m30 1h0m4 1h0m35 2h0m8 1h0m-52 2h0m90 2h0m43 2h0m-77 1h0m-57 1h0m67 2h0m-127 2h0m188 1h0m-97 1h0m-50 3h0m106 1h0m-100 2h0m62 2h0m13 2h0m-1 1h0m-8 1h0m-56 3h0m22 1h0m115 1h0m-170 3h0m25 2h0m142 1h0m-136 1h0m39 3h0m5 0h0m19 4h0m49 0h0m-116 2h0m56 2h0m-81 3h0m-23 1h0m104 3h0m45 0h0m-95 2h0m-45 3h0m74 2h0m101 1h0m-13 2h0m-107 1h0m-37 3h0m118 2h0m-96 1h0m86 2h0m20 3h0m-58 1h0m19 1h0m11 3h0m51 2h0m-1 2h0m-106 2h0m36 1h0m-95 2h0m-18 3h0m31 3h0m142 0h0m-33 3h0m-136 2h0m157 1h0m-146 3h0m184 2h0m-83 2h0m9 1h0m-77 3h0m103 3h0m-75 1h0m3 1h0m-5 3h0m68 4h0m-117 2h0m33 0h0m-2 3h0m-3 2h0m112 2h0m24 3h0m-120 2h0m57 3h0m42 1h0m-158 4h0m96 2h0m85 2h0m-30 2h0m-123 2h0m109 2h0m-4 2h0m10 4h0m-102 3h0m38 2h0m72 3h0m-149 2h0m107 1h0m27 3h0m-99 4h0m149 2h0m-64 2h0m48 2h0m-132 4h0m57 3h0m-38 3h0m-66 2h0m63 2h0m-6 3h0m26 3h0m19 2h0m-82 2h0m179 5h0m-10 4h0m-96 2h0m19 2h0m2 4h0m-29 2h0m-60 2h0m147 6h0m-169 3h0m-2 3h0m17 2h0m-2 4h0m155 2h0m-115 4h0m-9 3h0m68 5h0m8 4h0m14 3h0m5 1h0m-84 6h0m49 3h0m-14 5h0m100 2h0m-177 5h0m181 3h0m-128 5h0m58 6h0m40 3h0m-23 4h0m13 4h0m37 9h0m-121 1h0m17 6h0m27 8h0m55 5h0m-92 7h0m63 5h0m-88 2h0m93 9h0m-52 9h0m-3 7h0"/>
</g></defs>
<g stroke-linecap="round" fill="none">
<text fill="#000" x="6.2" y="32" font-size="42" class="L">a</text>
<text fill="#000" x="45" y="247.6" font-size="19.65" text-anchor="middle" transform="rotate(-90 45 247.6)">RNA − <tspan font-style="italic">VPREB3</tspan></text>
<g stroke="#E3D2A9" stroke-width="1.65"><use href="#u500b" transform="translate(104.3 151.31)scale(-0.087 -0.02184)"/><use href="#t500b" transform="translate(104.3 129.46)scale(-0.087 -0.05776)"/><use href="#u500a" transform="translate(104.3 151.31)scale(-0.087 0.01839)"/><use href="#m500a" transform="translate(104.3 169.7)scale(0.087 0.01868)"/><path d="M109.1 56.8h0M102.4 67h0M112.9 68.2h0M98.3 65.8h0M99 71h0M100.7 66.1h0M107.8 61.5h0M97.1 62.2h0M103.2 60.4h0M107.3 63.7h0M105.9 70.4h0M104.4 67.4h0M99.8 70.3h0M98 66.2h0M102.1 189.5h0M110 188.6h0M98.2 188.4h0M109.7 188.4h0M112.7 189.2h0M104.7 189.3h0M100.4 188.8h0M96.1 188.6h0"/></g>
<g stroke="#EE8D31" stroke-width="1.65"><path d="M143.2 87.5h0M139.4 161.8h0M145.3 159.7h0M140.8 156.6h0M149.8 153.7h0M140.2 150.8h0M143.1 149.3h0M150.8 146h0M139.9 143.9h0M146.2 141.1h0M143.4 138.8h0M148.9 137h0M150.4 135h0M147.5 132.9h0M146.7 131.9h0M139.5 130.3h0M144.3 126.3h0M152.9 121.6h0M144.5 116.6h0M145.7 162.4h0M145.3 163.7h0M139.1 164.5h0M142.9 165.5h0M152.1 166.6h0M142 167.9h0M149.3 168.7h0M154.7 169.9h0M145.8 170.3h0M142.1 171.6h0M141 172.2h0M151 172.4h0M141.7 173.1h0M153.9 173.8h0M145.7 174.3h0M156 175.2h0M139.3 175.8h0M154.8 176.7h0"/></g>
<g stroke="#D01C33" stroke-width="1.65"><use href="#u70b" transform="translate(190.7 161.08)scale(0.087 -0.02213)"/><use href="#t70c" transform="translate(190.7 138.95)scale(-0.087 -0.05115)"/><use href="#u70c" transform="translate(190.7 161.08)scale(0.087 0.01293)"/><use href="#m70a" transform="translate(190.7 174.01)scale(0.087 0.01264)"/><path d="M188.4 78.9h0M194.9 87.8h0M196.5 87.1h0"/></g>
<path d="M104.3 71.7V129.46M104.3 169.7V188.38M91.35 129.46H117.25V169.7H91.35Z" stroke="#E3D2A9" stroke-width="2.1" fill="none" stroke-linecap="butt"/>
<path d="M91.35 151.31H117.25" stroke="#E3D2A9" stroke-width="4.2" stroke-linecap="butt"/>
<path d="M147.5 107.91V138.95M147.5 171.42V178.03M134.55 138.95H160.45V171.42H134.55Z" stroke="#EE8D31" stroke-width="2.1" fill="none" stroke-linecap="butt"/>
<path d="M134.55 162.23H160.45" stroke="#EE8D31" stroke-width="4.2" stroke-linecap="butt"/>
<path d="M190.7 87.8V138.95M190.7 174.01V186.65M177.75 138.95H203.65V174.01H177.75Z" stroke="#D01C33" stroke-width="2.1" fill="none" stroke-linecap="butt"/>
<path d="M177.75 161.08H203.65" stroke="#D01C33" stroke-width="4.2" stroke-linecap="butt"/>
<path d="M78.8 51.2V195.25H216.5" stroke="#000" stroke-width="1.25" fill="none" stroke-linejoin="miter"/>
<path d="M78.17 77.45h-4.4M78.17 106.19h-4.4M78.17 134.93h-4.4M78.17 163.66h-4.4M78.17 192.4h-4.4M104.3 195.88v4.4M147.5 195.88v4.4M190.7 195.88v4.4" stroke="#222" stroke-width="1.25" stroke-linecap="butt"/>
<text fill="#000" x="70.17" y="83" font-size="14.4" text-anchor="end">2</text>
<text fill="#000" x="70.17" y="112" font-size="14.4" text-anchor="end">1</text>
<text fill="#000" x="70.17" y="140" font-size="14.4" text-anchor="end">0</text>
<text fill="#000" x="70.17" y="169" font-size="14.4" text-anchor="end">−1</text>
<text fill="#000" x="70.17" y="198" font-size="14.4" text-anchor="end">−2</text>
<text fill="#000" x="104.9" y="215" font-size="14.4" text-anchor="middle">A/A</text>
<text fill="#000" x="148.1" y="215" font-size="14.4" text-anchor="middle">A/G</text>
<text fill="#000" x="191.3" y="215" font-size="14.4" text-anchor="middle">G/G</text>
<text fill="#000" x="79.1" y="37" font-size="19.65">LRT p=7.49e−06</text>
<text fill="#000" x="148.15" y="237" font-size="19.3" text-anchor="middle">A.14</text>
<g stroke="#E3D2A9" stroke-width="1.65"><use href="#u500a" transform="translate(268 151.31)scale(0.087 -0.02184)"/><use href="#t500c" transform="translate(268 129.46)scale(0.087 -0.05776)"/><use href="#u500c" transform="translate(268 151.31)scale(-0.087 0.01839)"/><use href="#m500c" transform="translate(268 169.7)scale(0.087 0.01868)"/><path d="M263.5 56.8h0M262.2 70.8h0M274.4 71.6h0M269.5 60.7h0M271.7 58.7h0M276.7 67.2h0M274 71.1h0M269.2 69.1h0M260.9 60.7h0M273.1 71.6h0M274.2 58.3h0M272.9 59.1h0M263.9 68.2h0M271.6 68.3h0M260.2 189.5h0M270.4 188.4h0M270.3 188.6h0M271.5 188.6h0M273.8 189.4h0M272 188.7h0M273 188.4h0M275.7 188.4h0"/></g>
<g stroke="#EE8D31" stroke-width="1.65"><path d="M306.4 142.6h0M319.1 135.5h0M319.3 144.1h0M314.6 153.2h0"/></g>
<g stroke="#D01C33" stroke-width="1.65"><path d="M358.9 160.3h0M351.2 159.8h0M358.5 153.8h0M348.3 152.8h0M360.1 148.2h0M358.4 145.6h0M349.2 139.8h0M356.8 137.8h0M358.3 133.2h0M353.3 131.4h0M359.8 125h0M359.2 121.6h0M356.3 119.7h0M359.1 109h0M349.8 100.2h0M359.1 164.4h0M346.6 164.8h0M356.7 166.8h0M356.1 167.6h0M356.2 169.7h0M355 171.1h0M362.1 172.1h0M353.4 174.6h0M348.3 175.8h0M357.2 176.7h0M356.9 177.6h0M361.7 177.9h0M354.1 179.1h0M346.4 180.7h0M358.8 183.5h0"/></g>
<path d="M268 71.7V129.46M268 169.7V188.38M255.05 129.46H280.95V169.7H255.05Z" stroke="#E3D2A9" stroke-width="2.1" fill="none" stroke-linecap="butt"/>
<path d="M255.05 151.31H280.95" stroke="#E3D2A9" stroke-width="4.2" stroke-linecap="butt"/>
<path d="M311.2 129.46V136.36M311.2 150.16V156.19M298.25 136.36H324.15V150.16H298.25Z" stroke="#EE8D31" stroke-width="2.1" fill="none" stroke-linecap="butt"/>
<path d="M298.25 142.97H324.15" stroke="#EE8D31" stroke-width="4.2" stroke-linecap="butt"/>
<path d="M354.4 80.32V135.5M354.4 175.44V183.78M341.45 135.5H367.35V175.44H341.45Z" stroke="#D01C33" stroke-width="2.1" fill="none" stroke-linecap="butt"/>
<path d="M341.45 163.09H367.35" stroke="#D01C33" stroke-width="4.2" stroke-linecap="butt"/>
<path d="M242.5 51.2V195.25H380.2" stroke="#000" stroke-width="1.25" fill="none" stroke-linejoin="miter"/>
<path d="M241.88 77.45h-4.4M241.88 106.19h-4.4M241.88 134.93h-4.4M241.88 163.66h-4.4M241.88 192.4h-4.4M268 195.88v4.4M311.2 195.88v4.4M354.4 195.88v4.4" stroke="#222" stroke-width="1.25" stroke-linecap="butt"/>
<text fill="#000" x="233.88" y="83" font-size="14.4" text-anchor="end">2</text>
<text fill="#000" x="233.88" y="112" font-size="14.4" text-anchor="end">1</text>
<text fill="#000" x="233.88" y="140" font-size="14.4" text-anchor="end">0</text>
<text fill="#000" x="233.88" y="169" font-size="14.4" text-anchor="end">−1</text>
<text fill="#000" x="233.88" y="198" font-size="14.4" text-anchor="end">−2</text>
<text fill="#000" x="268.6" y="215" font-size="14.4" text-anchor="middle">A/A</text>
<text fill="#000" x="311.8" y="215" font-size="14.4" text-anchor="middle">A/G</text>
<text fill="#000" x="355" y="215" font-size="14.4" text-anchor="middle">G/G</text>
<text fill="#000" x="242.8" y="37" font-size="19.65">LRT p=0.759</text>
<text fill="#000" x="311.85" y="237" font-size="19.3" text-anchor="middle">A.35</text>
<g stroke="#E3D2A9" stroke-width="1.65"><use href="#u500b" transform="translate(431.5 151.31)scale(-0.087 -0.02184)"/><use href="#t500c" transform="translate(431.5 129.46)scale(0.087 -0.05776)"/><use href="#u500b" transform="translate(431.5 151.31)scale(0.087 0.01839)"/><use href="#m500b" transform="translate(431.5 169.7)scale(-0.087 0.01868)"/><path d="M428.2 56.8h0M431.5 64.4h0M434.1 71.5h0M432.2 68.8h0M433.3 71.2h0M439.2 70.2h0M437 64h0M423 64.5h0M436 57.3h0M437 67.7h0M429.3 71h0M427.9 64.9h0M428.1 62.4h0M428.5 71.4h0M435.6 189.5h0M426.4 188.8h0M437.8 188.4h0M425.4 189h0M436 188.4h0M428.7 189.5h0M426.5 189.3h0M432.2 188.4h0"/></g>
<g stroke="#EE8D31" stroke-width="1.65"><path d="M481.3 154h0M468.7 151.6h0M476.8 150.6h0M483.3 147h0M482.5 145.4h0M472.6 143.3h0M467.7 140.6h0M472 139.1h0M468.1 136h0M474 133.4h0M468.4 133.3h0M470 131.7h0M469.9 131.5h0M480.7 130.1h0M466.1 128.2h0M469.9 127.3h0M477.3 126h0M472.1 121.2h0M478.9 155.6h0M481.9 157.1h0M479.7 159.1h0M477.4 160.7h0M480.5 162.6h0M478.3 165.3h0M469.7 166.9h0M480.4 168.3h0M467.3 171.5h0M470.1 172.7h0M472.6 173.3h0M473.5 173.5h0M481.4 174.4h0M482.7 175.1h0M470.4 176h0M477.7 177.4h0M477.5 178.7h0M482.6 179.8h0"/></g>
<g stroke="#D01C33" stroke-width="1.65"><use href="#u45c" transform="translate(517.9 156.19)scale(0.087 -0.02328)"/><use href="#t45b" transform="translate(517.9 132.91)scale(0.087 -0.05604)"/><use href="#u45b" transform="translate(517.9 156.19)scale(0.087 0.01552)"/><use href="#m45c" transform="translate(517.9 171.71)scale(-0.087 0.01264)"/><path d="M522.4 73.1h0M525.2 76.5h0M515.1 73.5h0"/></g>
<path d="M431.5 71.7V129.46M431.5 169.7V188.38M418.55 129.46H444.45V169.7H418.55Z" stroke="#E3D2A9" stroke-width="2.1" fill="none" stroke-linecap="butt"/>
<path d="M418.55 151.31H444.45" stroke="#E3D2A9" stroke-width="4.2" stroke-linecap="butt"/>
<path d="M474.7 116.82V134.06M474.7 172V182.34M461.75 134.06H487.65V172H461.75Z" stroke="#EE8D31" stroke-width="2.1" fill="none" stroke-linecap="butt"/>
<path d="M461.75 155.04H487.65" stroke="#EE8D31" stroke-width="4.2" stroke-linecap="butt"/>
<path d="M517.9 76.88V132.91M517.9 171.71V184.35M504.95 132.91H530.85V171.71H504.95Z" stroke="#D01C33" stroke-width="2.1" fill="none" stroke-linecap="butt"/>
<path d="M504.95 156.19H530.85" stroke="#D01C33" stroke-width="4.2" stroke-linecap="butt"/>
<path d="M406 51.2V195.25H543.7" stroke="#000" stroke-width="1.25" fill="none" stroke-linejoin="miter"/>
<path d="M405.38 77.45h-4.4M405.38 106.19h-4.4M405.38 134.93h-4.4M405.38 163.66h-4.4M405.38 192.4h-4.4M431.5 195.88v4.4M474.7 195.88v4.4M517.9 195.88v4.4" stroke="#222" stroke-width="1.25" stroke-linecap="butt"/>
<text fill="#000" x="397.38" y="83" font-size="14.4" text-anchor="end">2</text>
<text fill="#000" x="397.38" y="112" font-size="14.4" text-anchor="end">1</text>
<text fill="#000" x="397.38" y="140" font-size="14.4" text-anchor="end">0</text>
<text fill="#000" x="397.38" y="169" font-size="14.4" text-anchor="end">−1</text>
<text fill="#000" x="397.38" y="198" font-size="14.4" text-anchor="end">−2</text>
<text fill="#000" x="432.1" y="215" font-size="14.4" text-anchor="middle">A/A</text>
<text fill="#000" x="475.3" y="215" font-size="14.4" text-anchor="middle">A/G</text>
<text fill="#000" x="518.5" y="215" font-size="14.4" text-anchor="middle">G/G</text>
<text fill="#000" x="406.3" y="37" font-size="19.65">LRT p=0.376</text>
<text fill="#000" x="475.35" y="237" font-size="19.3" text-anchor="middle">A.36</text>
<g stroke="#E3D2A9" stroke-width="1.65"><use href="#u500c" transform="translate(595.3 151.31)scale(-0.087 -0.02184)"/><use href="#t500c" transform="translate(595.3 129.46)scale(0.087 -0.05776)"/><use href="#u500c" transform="translate(595.3 151.31)scale(-0.087 0.01839)"/><use href="#m500c" transform="translate(595.3 169.7)scale(0.087 0.01868)"/><path d="M587 56.8h0M590.4 61.3h0M603.1 70.5h0M601.9 71h0M591 56.9h0M599.7 66.3h0M598 60.4h0M588.2 62.5h0M591 56.9h0M594.9 71.3h0M593.2 61.5h0M601.8 63.3h0M600.2 62.9h0M591.8 63h0M601.4 189.5h0M586.6 188.4h0M591.4 188.6h0M602.1 188.8h0M593 188.4h0M593.8 188.9h0M592.4 188.5h0M589.3 188.5h0"/></g>
<g stroke="#EE8D31" stroke-width="1.65"><path d="M639.2 77.5h0M644.4 156.8h0M647.2 154h0M646.1 152.6h0M633.1 149.5h0M635.7 144.6h0M630.2 142.5h0M631.7 140.8h0M645.2 137.1h0M632.7 134.3h0M645.6 133.8h0M635.6 129.8h0M637.8 128.1h0M638.2 123.6h0M639.3 120.8h0M631.8 160.1h0M635.2 162.9h0M638.5 164.9h0M645.5 166.2h0M644.4 168.2h0M644.2 170.9h0M639.8 172.6h0M644.5 173.7h0M642.3 174.6h0M643.3 174.9h0M632 176.2h0M646.9 176.4h0M633.7 177.4h0M639 179.9h0"/></g>
<g stroke="#D01C33" stroke-width="1.65"><use href="#u45a" transform="translate(681.7 155.04)scale(0.087 -0.02012)"/><use href="#t45b" transform="translate(681.7 134.93)scale(-0.087 -0.0546)"/><use href="#u45a" transform="translate(681.7 155.04)scale(0.087 0.01581)"/><use href="#m45c" transform="translate(681.7 170.85)scale(-0.087 0.01351)"/><path d="M686.1 76h0M685.1 80.2h0"/></g>
<path d="M595.3 71.7V129.46M595.3 169.7V188.38M582.35 129.46H608.25V169.7H582.35Z" stroke="#E3D2A9" stroke-width="2.1" fill="none" stroke-linecap="butt"/>
<path d="M582.35 151.31H608.25" stroke="#E3D2A9" stroke-width="4.2" stroke-linecap="butt"/>
<path d="M638.5 109.64V137.22M638.5 173.15V181.48M625.55 137.22H651.45V173.15H625.55Z" stroke="#EE8D31" stroke-width="2.1" fill="none" stroke-linecap="butt"/>
<path d="M625.55 159.64H651.45" stroke="#EE8D31" stroke-width="4.2" stroke-linecap="butt"/>
<path d="M569.8 51.2V195.25H707.5" stroke="#000" stroke-width="1.25" fill="none" stroke-linejoin="miter"/>
<path d="M569.17 77.45h-4.4M569.17 106.19h-4.4M569.17 134.93h-4.4M569.17 163.66h-4.4M569.17 192.4h-4.4M595.3 195.88v4.4M638.5 195.88v4.4M683.6 204.28v4.4" stroke="#222" stroke-width="1.25" stroke-linecap="butt"/>
<text fill="#000" x="561.17" y="83" font-size="14.4" text-anchor="end">2</text>
<text fill="#000" x="561.17" y="112" font-size="14.4" text-anchor="end">1</text>
<text fill="#000" x="561.17" y="140" font-size="14.4" text-anchor="end">0</text>
<text fill="#000" x="561.17" y="169" font-size="14.4" text-anchor="end">−1</text>
<text fill="#000" x="561.17" y="198" font-size="14.4" text-anchor="end">−2</text>
<text fill="#000" x="595.9" y="215" font-size="14.4" text-anchor="middle">A/A</text>
<text fill="#000" x="639.1" y="215" font-size="14.4" text-anchor="middle">A/G</text>
<text fill="#000" x="683.6" y="224" font-size="14.4" text-anchor="middle">G/G</text>
<text fill="#000" x="570.1" y="37" font-size="19.65">LRT p=0.117</text>
<text fill="#000" x="639.15" y="237" font-size="19.3" text-anchor="middle">A.38</text>
<g stroke="#E3D2A9" stroke-width="1.65"><use href="#u500a" transform="translate(104.3 402.3)scale(0.087 -0.02147)"/><use href="#t500c" transform="translate(104.3 380.83)scale(-0.087 -0.05678)"/><use href="#u500b" transform="translate(104.3 402.3)scale(0.087 0.01808)"/><use href="#m500c" transform="translate(104.3 420.38)scale(0.087 0.01836)"/><path d="M110.1 309.4h0M104.3 315.5h0M109.7 320.3h0M99.5 323.9h0M106.7 323.2h0M100.3 319.6h0M107.4 315.8h0M97.2 322.3h0M97.7 320.7h0M101.7 319h0M97.3 322.9h0M105.3 323.6h0M110.3 316.5h0M98.7 309.6h0M111.3 439.9h0M105.1 438.9h0M108.3 439h0M99.1 439.9h0M108.1 439.4h0M100.6 439.4h0M98.1 439h0M112.8 439.1h0"/></g>
<g stroke="#EE8D31" stroke-width="1.65"><path d="M143.5 408.5h0M153.7 404.5h0M140 402.3h0M151.2 401.6h0M147 399.2h0M153.6 395.6h0M155.8 393h0M154.8 391.7h0M141.9 389.3h0M155.9 386.3h0M149.3 383.9h0M149.5 381.2h0M141.9 378.9h0M154.2 377.8h0M155.7 375.6h0M147.2 374.6h0M143.7 373.2h0M150.7 371.1h0M149.1 368.1h0M145.6 367.5h0M153.9 363h0M154 360.2h0M153 354.4h0M151.5 408.8h0M143.8 410h0M153.3 411.3h0M154.2 411.8h0M144.2 412.7h0M153.1 414.4h0M153.5 415.1h0M151 416.5h0M150.4 417h0M154 418.6h0M150.3 419.4h0M144.2 420.1h0M150.3 421.5h0M141.8 421.7h0M151.4 422.5h0M151.6 422.7h0M147 423.3h0M142 423.7h0M154.7 424.1h0M150 425.1h0M147.6 425.5h0M140.5 426.9h0M152 428.2h0"/></g>
<g stroke="#D01C33" stroke-width="1.65"><use href="#u30b" transform="translate(190.7 414.73)scale(-0.087 -0.02119)"/><use href="#t30c" transform="translate(190.7 393.55)scale(-0.087 -0.03673)"/><use href="#u30b" transform="translate(190.7 414.73)scale(-0.087 0.00537)"/><use href="#m30b" transform="translate(190.7 420.1)scale(-0.087 0.00848)"/><path d="M183.4 324h0M194.1 332.1h0M192.1 334.7h0M194.3 335.8h0M195.8 339h0M187 342.4h0M185 356.8h0M193.1 339.8h0M185.4 353.1h0M184.5 355.3h0M194.8 340.1h0M192.4 340.1h0"/></g>
<path d="M104.3 324.05V380.83M104.3 420.38V438.75M91.35 380.83H117.25V420.38H91.35Z" stroke="#E3D2A9" stroke-width="2.1" fill="none" stroke-linecap="butt"/>
<path d="M91.35 402.3H117.25" stroke="#E3D2A9" stroke-width="4.2" stroke-linecap="butt"/>
<path d="M147.5 342.69V379.42M147.5 421.23V429.14M134.55 379.42H160.45V421.23H134.55Z" stroke="#EE8D31" stroke-width="2.1" fill="none" stroke-linecap="butt"/>
<path d="M134.55 408.52H160.45" stroke="#EE8D31" stroke-width="4.2" stroke-linecap="butt"/>
<path d="M190.7 356.82V393.55M190.7 420.1V428.57M177.75 393.55H203.65V420.1H177.75Z" stroke="#D01C33" stroke-width="2.1" fill="none" stroke-linecap="butt"/>
<path d="M177.75 414.73H203.65" stroke="#D01C33" stroke-width="4.2" stroke-linecap="butt"/>
<path d="M78.8 302.5V446.6H216.5" stroke="#000" stroke-width="1.25" fill="none" stroke-linejoin="miter"/>
<path d="M78.17 329.7h-4.4M78.17 357.95h-4.4M78.17 386.2h-4.4M78.17 414.45h-4.4M78.17 442.7h-4.4M104.3 447.23v4.4M147.5 447.23v4.4M190.7 447.23v4.4" stroke="#222" stroke-width="1.25" stroke-linecap="butt"/>
<text fill="#000" x="70.17" y="335" font-size="14.4" text-anchor="end">2</text>
<text fill="#000" x="70.17" y="363" font-size="14.4" text-anchor="end">1</text>
<text fill="#000" x="70.17" y="392" font-size="14.4" text-anchor="end">0</text>
<text fill="#000" x="70.17" y="420" font-size="14.4" text-anchor="end">−1</text>
<text fill="#000" x="70.17" y="448" font-size="14.4" text-anchor="end">−2</text>
<text fill="#000" x="104.9" y="466" font-size="14.4" text-anchor="middle">A/A</text>
<text fill="#000" x="148.1" y="466" font-size="14.4" text-anchor="middle">A/G</text>
<text fill="#000" x="191.3" y="466" font-size="14.4" text-anchor="middle">G/G</text>
<text fill="#000" x="79.1" y="288" font-size="19.65">LRT p=0.085</text>
<text fill="#000" x="148.15" y="488" font-size="19.3" text-anchor="middle">B.15</text>
<g stroke="#E3D2A9" stroke-width="1.65"><use href="#u500a" transform="translate(268 401.58)scale(0.087 -0.02164)"/><use href="#t500a" transform="translate(268 379.94)scale(0.087 -0.05723)"/><use href="#u500c" transform="translate(268 401.58)scale(0.087 0.01822)"/><use href="#m500b" transform="translate(268 419.8)scale(-0.087 0.01851)"/><path d="M272.7 307.9h0M261.9 322.5h0M275.2 312.3h0M261.5 314.8h0M266.1 308.3h0M271.2 319.9h0M276.6 316.6h0M261.5 321.2h0M260.4 322.5h0M270.4 310.4h0M273.7 320.2h0M260.3 312.5h0M259.5 312h0M272.2 317h0M268.3 439.5h0M271 438.6h0M259.4 438.6h0M269.9 438.5h0M263.4 438.4h0M262.4 438.4h0M272.9 438.6h0M267.7 438.3h0"/></g>
<g stroke="#EE8D31" stroke-width="1.65"><use href="#u20a" transform="translate(311.2 411.55)scale(0.087 -0.02819)"/><use href="#t20a" transform="translate(311.2 383.36)scale(-0.087 -0.03559)"/><use href="#u20a" transform="translate(311.2 411.55)scale(0.087 0.0094)"/><use href="#m20c" transform="translate(311.2 420.94)scale(-0.087 0.01224)"/><path d="M307.2 325.6h0M312.6 340.5h0M316 347.5h0"/></g>
<g stroke="#D01C33" stroke-width="1.65"><use href="#u45b" transform="translate(354.4 409.27)scale(0.087 -0.02648)"/><use href="#t45b" transform="translate(354.4 382.79)scale(-0.087 -0.05097)"/><use href="#u45b" transform="translate(354.4 409.27)scale(0.087 0.00826)"/><use href="#m45b" transform="translate(354.4 417.53)scale(0.087 0.01111)"/><path d="M350 309.9h0M349.6 313.3h0M361.8 327.8h0M346.9 330.4h0M354.1 312.7h0M357.3 329.9h0M347.4 320.2h0M346.6 313.1h0"/></g>
<path d="M268 322.7V379.94M268 419.8V438.31M255.05 379.94H280.95V419.8H255.05Z" stroke="#E3D2A9" stroke-width="2.1" fill="none" stroke-linecap="butt"/>
<path d="M255.05 401.58H280.95" stroke="#E3D2A9" stroke-width="4.2" stroke-linecap="butt"/>
<path d="M311.2 347.76V383.36M311.2 420.94V433.19M298.25 383.36H324.15V420.94H298.25Z" stroke="#EE8D31" stroke-width="2.1" fill="none" stroke-linecap="butt"/>
<path d="M298.25 411.55H324.15" stroke="#EE8D31" stroke-width="4.2" stroke-linecap="butt"/>
<path d="M354.4 331.82V382.79M354.4 417.53V428.63M341.45 382.79H367.35V417.53H341.45Z" stroke="#D01C33" stroke-width="2.1" fill="none" stroke-linecap="butt"/>
<path d="M341.45 409.27H367.35" stroke="#D01C33" stroke-width="4.2" stroke-linecap="butt"/>
<path d="M242.5 302.5V446.6H380.2" stroke="#000" stroke-width="1.25" fill="none" stroke-linejoin="miter"/>
<path d="M241.88 328.4h-4.4M241.88 356.88h-4.4M241.88 385.35h-4.4M241.88 413.83h-4.4M241.88 442.3h-4.4M268 447.23v4.4M311.2 447.23v4.4M354.4 447.23v4.4" stroke="#222" stroke-width="1.25" stroke-linecap="butt"/>
<text fill="#000" x="233.88" y="334" font-size="14.4" text-anchor="end">2</text>
<text fill="#000" x="233.88" y="362" font-size="14.4" text-anchor="end">1</text>
<text fill="#000" x="233.88" y="391" font-size="14.4" text-anchor="end">0</text>
<text fill="#000" x="233.88" y="419" font-size="14.4" text-anchor="end">−1</text>
<text fill="#000" x="233.88" y="448" font-size="14.4" text-anchor="end">−2</text>
<text fill="#000" x="268.6" y="466" font-size="14.4" text-anchor="middle">A/A</text>
<text fill="#000" x="311.8" y="466" font-size="14.4" text-anchor="middle">A/G</text>
<text fill="#000" x="355" y="466" font-size="14.4" text-anchor="middle">G/G</text>
<text fill="#000" x="242.8" y="288" font-size="19.65">LRT p=0.527</text>
<text fill="#000" x="311.85" y="488" font-size="19.3" text-anchor="middle">B.24</text>
<g stroke="#E3D2A9" stroke-width="1.65"><use href="#u500c" transform="translate(431.5 402.77)scale(0.087 -0.02101)"/><use href="#t500b" transform="translate(431.5 381.77)scale(-0.087 -0.05556)"/><use href="#u500c" transform="translate(431.5 402.77)scale(-0.087 0.01769)"/><use href="#m500b" transform="translate(431.5 420.46)scale(-0.087 0.01797)"/><path d="M432 311.8h0M438.8 318.8h0M435.2 320h0M424.8 316.4h0M436.1 319h0M438 313h0M439 323.9h0M438 313h0M433.2 322.3h0M429.3 321.3h0M432 325.7h0M431.1 322h0M431.9 319.6h0M434.4 319.4h0M429.5 439.5h0M425.9 438.8h0M436.2 438.4h0M438.4 439.3h0M436.3 438.5h0M430.7 438.4h0M426.8 438.4h0M429.4 439.3h0"/></g>
<g stroke="#EE8D31" stroke-width="1.65"><use href="#u30b" transform="translate(474.7 412.17)scale(-0.087 -0.02377)"/><use href="#t30b" transform="translate(474.7 388.4)scale(0.087 -0.04367)"/><use href="#u30a" transform="translate(474.7 412.17)scale(0.087 0.00829)"/><use href="#m30b" transform="translate(474.7 420.46)scale(0.087 0.01354)"/><path d="M466.9 329h0M478.7 335.7h0M472 334.5h0M474.1 341h0"/></g>
<g stroke="#D01C33" stroke-width="1.65"><use href="#u45b" transform="translate(517.9 411.62)scale(0.087 -0.02018)"/><use href="#t45b" transform="translate(517.9 391.44)scale(0.087 -0.03842)"/><use href="#u45b" transform="translate(517.9 411.62)scale(-0.087 0.00857)"/><use href="#m45c" transform="translate(517.9 420.19)scale(-0.087 0.01106)"/><path d="M525.4 319.3h0M518.8 321.9h0M519.2 324.6h0M525.7 347.5h0M519.7 352.6h0M521.8 335.5h0M512.4 344.8h0M517.3 352.9h0M525.7 353h0M518.2 325.2h0M510.7 352h0M517.2 330.3h0"/></g>
<path d="M431.5 326.21V381.77M431.5 420.46V438.43M418.55 381.77H444.45V420.46H418.55Z" stroke="#E3D2A9" stroke-width="2.1" fill="none" stroke-linecap="butt"/>
<path d="M418.55 402.77H444.45" stroke="#E3D2A9" stroke-width="4.2" stroke-linecap="butt"/>
<path d="M474.7 344.73V388.4M474.7 420.46V434.01M461.75 388.4H487.65V420.46H461.75Z" stroke="#EE8D31" stroke-width="2.1" fill="none" stroke-linecap="butt"/>
<path d="M461.75 412.17H487.65" stroke="#EE8D31" stroke-width="4.2" stroke-linecap="butt"/>
<path d="M517.9 353.02V391.44M517.9 420.19V431.24M504.95 391.44H530.85V420.19H504.95Z" stroke="#D01C33" stroke-width="2.1" fill="none" stroke-linecap="butt"/>
<path d="M504.95 411.62H530.85" stroke="#D01C33" stroke-width="4.2" stroke-linecap="butt"/>
<path d="M406 302.5V446.6H543.7" stroke="#000" stroke-width="1.25" fill="none" stroke-linejoin="miter"/>
<path d="M405.38 304.1h-4.4M405.38 331.74h-4.4M405.38 359.38h-4.4M405.38 387.02h-4.4M405.38 414.66h-4.4M405.38 442.3h-4.4M431.5 447.23v4.4M474.7 447.23v4.4M517.9 447.23v4.4" stroke="#222" stroke-width="1.25" stroke-linecap="butt"/>
<text fill="#000" x="397.38" y="310" font-size="14.4" text-anchor="end">3</text>
<text fill="#000" x="397.38" y="337" font-size="14.4" text-anchor="end">2</text>
<text fill="#000" x="397.38" y="365" font-size="14.4" text-anchor="end">1</text>
<text fill="#000" x="397.38" y="392" font-size="14.4" text-anchor="end">0</text>
<text fill="#000" x="397.38" y="420" font-size="14.4" text-anchor="end">−1</text>
<text fill="#000" x="397.38" y="448" font-size="14.4" text-anchor="end">−2</text>
<text fill="#000" x="432.1" y="466" font-size="14.4" text-anchor="middle">A/A</text>
<text fill="#000" x="475.3" y="466" font-size="14.4" text-anchor="middle">A/G</text>
<text fill="#000" x="518.5" y="466" font-size="14.4" text-anchor="middle">G/G</text>
<text fill="#000" x="406.3" y="288" font-size="19.65">LRT p=0.000354</text>
<text fill="#000" x="475.35" y="488" font-size="19.3" text-anchor="middle">B.25</text>
<g stroke="#E3D2A9" stroke-width="1.65"><use href="#u220c" transform="translate(595.3 394.1)scale(0.087 -0.01745)"/><use href="#t220a" transform="translate(595.3 376.65)scale(-0.087 -0.05983)"/><use href="#u220c" transform="translate(595.3 394.1)scale(-0.087 0.02493)"/><use href="#m220a" transform="translate(595.3 419.03)scale(-0.087 0.01994)"/><path d="M602.9 308h0M598.3 316.5h0M603.9 311.9h0M597.8 439.5h0M593.7 439h0M598 439.5h0"/></g>
<g stroke="#EE8D31" stroke-width="1.65"><use href="#u30b" transform="translate(638.5 399.09)scale(-0.087 -0.01856)"/><use href="#t30c" transform="translate(638.5 380.53)scale(-0.087 -0.04848)"/><use href="#u30b" transform="translate(638.5 399.09)scale(-0.087 0.02078)"/><use href="#m30a" transform="translate(638.5 419.86)scale(0.087 0.01191)"/><path d="M630.8 331.5h0"/></g>
<g stroke="#D01C33" stroke-width="1.65"><use href="#u220c" transform="translate(681.7 413.21)scale(0.087 -0.02077)"/><use href="#t220c" transform="translate(681.7 392.44)scale(0.087 -0.04986)"/><use href="#u220a" transform="translate(681.7 413.21)scale(0.087 0.01108)"/><use href="#m220a" transform="translate(681.7 424.29)scale(0.087 0.01025)"/><path d="M688.4 317.6h0M684.1 329.9h0M687.8 332.2h0M674.7 322h0M681.1 326.9h0M681.2 339.8h0M675.7 320.2h0M688.3 337.4h0M679 318.1h0M679 335.3h0M679.9 342.3h0M680.9 331.7h0M689.9 332.7h0M676.3 326.2h0M673.2 321.6h0M676.5 340.5h0M690.3 342.1h0M688.5 336.9h0M678.7 330.5h0M688.8 327.1h0M673.3 334.9h0M687.8 340.9h0M684.1 340.6h0M681.1 319.3h0M686 324.8h0"/></g>
<path d="M595.3 316.82V376.65M595.3 419.03V438.98M582.35 376.65H608.25V419.03H582.35Z" stroke="#E3D2A9" stroke-width="2.1" fill="none" stroke-linecap="butt"/>
<path d="M582.35 394.1H608.25" stroke="#E3D2A9" stroke-width="4.2" stroke-linecap="butt"/>
<path d="M638.5 332.05V380.53M638.5 419.86V431.77M625.55 380.53H651.45V419.86H625.55Z" stroke="#EE8D31" stroke-width="2.1" fill="none" stroke-linecap="butt"/>
<path d="M625.55 399.09H651.45" stroke="#EE8D31" stroke-width="4.2" stroke-linecap="butt"/>
<path d="M569.8 302.5V446.6H707.5" stroke="#000" stroke-width="1.25" fill="none" stroke-linejoin="miter"/>
<path d="M569.17 303.8h-4.4M569.17 331.5h-4.4M569.17 359.2h-4.4M569.17 386.9h-4.4M569.17 414.6h-4.4M569.17 442.3h-4.4M595.3 447.23v4.4M638.5 447.23v4.4M683.6 455.62v4.4" stroke="#222" stroke-width="1.25" stroke-linecap="butt"/>
<text fill="#000" x="561.17" y="309" font-size="14.4" text-anchor="end">3</text>
<text fill="#000" x="561.17" y="337" font-size="14.4" text-anchor="end">2</text>
<text fill="#000" x="561.17" y="365" font-size="14.4" text-anchor="end">1</text>
<text fill="#000" x="561.17" y="392" font-size="14.4" text-anchor="end">0</text>
<text fill="#000" x="561.17" y="420" font-size="14.4" text-anchor="end">−1</text>
<text fill="#000" x="561.17" y="448" font-size="14.4" text-anchor="end">−2</text>
<text fill="#000" x="595.9" y="466" font-size="14.4" text-anchor="middle">A/A</text>
<text fill="#000" x="639.1" y="466" font-size="14.4" text-anchor="middle">A/G</text>
<text fill="#000" x="683.6" y="475" font-size="14.4" text-anchor="middle">G/G</text>
<text fill="#000" x="570.1" y="288" font-size="19.65">LRT p=0</text>
<text fill="#000" x="639.15" y="488" font-size="19.3" text-anchor="middle">B.29</text>
<text fill="#000" x="729.9" y="32" font-size="42" class="L">b</text>
<text fill="#000" x="770" y="248.4" font-size="19.65" text-anchor="middle" transform="rotate(-90 770 248.4)">RNA − <tspan font-style="italic">JCHAIN</tspan></text>
<g stroke="#E3D2A9" stroke-width="1.65"><use href="#u500b" transform="translate(830.3 120.95)scale(-0.087 -0.01111)"/><use href="#t500a" transform="translate(830.3 109.84)scale(-0.087 -0.03409)"/><use href="#u500a" transform="translate(830.3 120.95)scale(-0.087 0.01281)"/><use href="#t500b" transform="translate(830.3 133.76)scale(0.087 0.03428)"/><path d="M828.9 57.9h0M831.5 74.9h0M830.5 60.5h0M836.7 62.1h0M822.3 71.7h0M831.5 62.4h0M825.3 75.7h0M836.4 71.7h0M836.4 71.2h0M838.1 75h0M836.5 189.7h0M832.2 171.8h0M825.4 175.2h0M830.2 173.9h0M838.9 171.3h0M829.1 189.2h0M834.9 173.5h0M834.8 168.1h0M837.3 168.1h0M830.1 186.2h0M827.3 168.3h0M828 174.1h0M832.1 172.5h0M836.9 186.1h0M832.1 168.2h0M834.1 168.2h0"/></g>
<g stroke="#EE8D31" stroke-width="1.65"><path d="M879.7 170.9h0M874.3 117.8h0M875 117.3h0M870.9 116.5h0M867.8 115.6h0M879.9 114.8h0M880 114.5h0M872.2 113.3h0M879.1 112.7h0M878.5 111.7h0M879.5 110.9h0M880.9 110.5h0M872.5 109.3h0M878.6 108.2h0M866.3 107.9h0M876.3 105.8h0M875.1 105.5h0M875 102.5h0M881.1 102.3h0M880.3 98.6h0M881.2 94.1h0M880.1 118.3h0M878.8 120h0M879.6 120.4h0M876.4 122.7h0M870 123.1h0M870.2 124.4h0M872.6 125.7h0M873.5 127.1h0M869.5 128.1h0M875.8 129.4h0M866.5 130.8h0M881.7 131.3h0M881.6 132.1h0M879.1 133.3h0M875.5 134.5h0M865.6 135.8h0M880 137.3h0M867 138.8h0M868.6 139.9h0M867.5 145.8h0"/></g>
<g stroke="#D01C33" stroke-width="1.65"><use href="#u70a" transform="translate(916.4 120.95)scale(0.087 -0.0162)"/><use href="#t70c" transform="translate(916.4 104.75)scale(0.087 -0.04539)"/><use href="#u70c" transform="translate(916.4 120.95)scale(0.087 0.01469)"/><use href="#t70b" transform="translate(916.4 135.64)scale(-0.087 0.04369)"/><path d="M908.4 58.8h0"/></g>
<path d="M830.3 75.75V109.84M830.3 133.76V168.03M817.35 109.84H843.25V133.76H817.35Z" stroke="#E3D2A9" stroke-width="2.1" fill="none" stroke-linecap="butt"/>
<path d="M817.35 120.95H843.25" stroke="#E3D2A9" stroke-width="4.2" stroke-linecap="butt"/>
<path d="M873.5 88.18V110.78M873.5 130.37V150.33M860.55 110.78H886.45V130.37H860.55Z" stroke="#EE8D31" stroke-width="2.1" fill="none" stroke-linecap="butt"/>
<path d="M860.55 118.12H886.45" stroke="#EE8D31" stroke-width="4.2" stroke-linecap="butt"/>
<path d="M916.4 59.37V104.75M916.4 135.64V179.33M903.45 104.75H929.35V135.64H903.45Z" stroke="#D01C33" stroke-width="2.1" fill="none" stroke-linecap="butt"/>
<path d="M903.45 120.95H929.35" stroke="#D01C33" stroke-width="4.2" stroke-linecap="butt"/>
<path d="M804.1 51.2V195.25H941.8" stroke="#000" stroke-width="1.25" fill="none" stroke-linejoin="miter"/>
<path d="M803.48 81.4h-4.4M803.48 119.07h-4.4M803.48 156.73h-4.4M803.48 194.4h-4.4M830.3 195.88v4.4M873.5 195.88v4.4M916.4 195.88v4.4" stroke="#222" stroke-width="1.25" stroke-linecap="butt"/>
<text fill="#000" x="795.48" y="87" font-size="14.4" text-anchor="end">2</text>
<text fill="#000" x="795.48" y="125" font-size="14.4" text-anchor="end">0</text>
<text fill="#000" x="795.48" y="162" font-size="14.4" text-anchor="end">−2</text>
<text fill="#000" x="795.48" y="200" font-size="14.4" text-anchor="end">−4</text>
<text fill="#000" x="830.9" y="215" font-size="14.4" text-anchor="middle">A/A</text>
<text fill="#000" x="874.1" y="215" font-size="14.4" text-anchor="middle">A/G</text>
<text fill="#000" x="917" y="215" font-size="14.4" text-anchor="middle">G/G</text>
<text fill="#000" x="804.4" y="37" font-size="19.65">LRT p=0.00258</text>
<text fill="#000" x="873.45" y="237" font-size="19.3" text-anchor="middle">A.14</text>
<g stroke="#E3D2A9" stroke-width="1.65"><use href="#u500c" transform="translate(994.1 120.95)scale(0.087 -0.01111)"/><use href="#t500c" transform="translate(994.1 109.84)scale(0.087 -0.03409)"/><use href="#u500b" transform="translate(994.1 120.95)scale(-0.087 0.01281)"/><use href="#t500b" transform="translate(994.1 133.76)scale(-0.087 0.03428)"/><path d="M994.4 57.9h0M995 75.5h0M991 73.5h0M990 75.6h0M994.4 61.6h0M1001.5 71.2h0M985.9 70.3h0M995.7 73.3h0M987.1 68.1h0M994.7 64.7h0M992.1 189.7h0M1001.2 171.8h0M996.3 168.2h0M999.5 170.1h0M990.7 170.1h0M993.6 171.2h0M994.6 181.9h0M997.6 169.1h0M991.7 168.9h0M998.6 170.4h0M992 187.4h0M988 177.8h0M1000.1 175.2h0M1001.5 178.5h0M994.3 183.3h0M991.2 174.1h0"/></g>
<g stroke="#EE8D31" stroke-width="1.65"><path d="M1041.2 116.7h0M1034.6 115.6h0M1036.3 123h0M1041.1 125.2h0"/></g>
<g stroke="#D01C33" stroke-width="1.65"><path d="M1078.2 115.6h0M1087.2 115h0M1085.8 113.3h0M1086.6 112.5h0M1088.4 110h0M1084.4 109.7h0M1087.1 107.8h0M1072.4 105.8h0M1081.9 105h0M1077.3 103.2h0M1072.7 101.6h0M1088.6 100.7h0M1078.5 99.1h0M1081.6 96.5h0M1078.9 93.6h0M1072.7 92.1h0M1086.5 87.9h0M1081.6 72.1h0M1080.4 117.4h0M1081.5 118.3h0M1078.9 120.3h0M1073.6 120.8h0M1084.6 123.3h0M1074.4 124.2h0M1085.5 125.8h0M1076.7 127.5h0M1082 128h0M1074.7 130.6h0M1088 130.7h0M1085.2 133.2h0M1082.2 134.2h0M1087.1 136h0M1083.2 137.9h0M1072.8 138.4h0M1075.9 143.8h0M1078.5 150.8h0"/></g>
<path d="M994.1 75.75V109.84M994.1 133.76V168.03M981.15 109.84H1007.05V133.76H981.15Z" stroke="#E3D2A9" stroke-width="2.1" fill="none" stroke-linecap="butt"/>
<path d="M981.15 120.95H1007.05" stroke="#E3D2A9" stroke-width="4.2" stroke-linecap="butt"/>
<path d="M1037.3 113.04V116.05M1037.3 124.72V126.98M1024.35 116.05H1050.25V124.72H1024.35Z" stroke="#EE8D31" stroke-width="2.1" fill="none" stroke-linecap="butt"/>
<path d="M1024.35 120.38H1050.25" stroke="#EE8D31" stroke-width="4.2" stroke-linecap="butt"/>
<path d="M1080.2 71.61V104M1080.2 129.61V154.66M1067.25 104H1093.15V129.61H1067.25Z" stroke="#D01C33" stroke-width="2.1" fill="none" stroke-linecap="butt"/>
<path d="M1067.25 116.43H1093.15" stroke="#D01C33" stroke-width="4.2" stroke-linecap="butt"/>
<path d="M967.9 51.2V195.25H1105.6" stroke="#000" stroke-width="1.25" fill="none" stroke-linejoin="miter"/>
<path d="M967.27 81.4h-4.4M967.27 119.07h-4.4M967.27 156.73h-4.4M967.27 194.4h-4.4M994.1 195.88v4.4M1037.3 195.88v4.4M1080.2 195.88v4.4" stroke="#222" stroke-width="1.25" stroke-linecap="butt"/>
<text fill="#000" x="959.27" y="87" font-size="14.4" text-anchor="end">2</text>
<text fill="#000" x="959.27" y="125" font-size="14.4" text-anchor="end">0</text>
<text fill="#000" x="959.27" y="162" font-size="14.4" text-anchor="end">−2</text>
<text fill="#000" x="959.27" y="200" font-size="14.4" text-anchor="end">−4</text>
<text fill="#000" x="994.7" y="215" font-size="14.4" text-anchor="middle">A/A</text>
<text fill="#000" x="1037.9" y="215" font-size="14.4" text-anchor="middle">A/G</text>
<text fill="#000" x="1080.8" y="215" font-size="14.4" text-anchor="middle">G/G</text>
<text fill="#000" x="968.2" y="37" font-size="19.65">LRT p=0.0505</text>
<text fill="#000" x="1037.25" y="237" font-size="19.3" text-anchor="middle">A.35</text>
<g stroke="#E3D2A9" stroke-width="1.65"><use href="#u500b" transform="translate(1157.9 120.95)scale(-0.087 -0.01111)"/><use href="#t500c" transform="translate(1157.9 109.84)scale(0.087 -0.03409)"/><use href="#u500a" transform="translate(1157.9 120.95)scale(0.087 0.01281)"/><use href="#t500b" transform="translate(1157.9 133.76)scale(0.087 0.03428)"/><path d="M1162.7 57.9h0M1150.1 75.7h0M1152 68.9h0M1163.1 73.4h0M1154.7 73.7h0M1158.3 75.5h0M1165.6 70.3h0M1160.1 67.8h0M1154.6 71.6h0M1156 73.8h0M1151 189.7h0M1149.2 172.3h0M1165.3 183.9h0M1154 186.7h0M1164.7 173h0M1163.9 168h0M1157.4 170.6h0M1153.2 168.1h0M1164.3 170h0M1157.1 182.2h0M1161.3 178.6h0M1157.2 188.7h0M1163.3 168.9h0M1153.9 169.8h0M1151.3 181.8h0M1157.1 179h0"/></g>
<g stroke="#EE8D31" stroke-width="1.65"><path d="M1198.3 76.7h0M1195.9 169.9h0M1195.6 118.8h0M1204 118.1h0M1196.4 116.9h0M1198.7 115.6h0M1201.3 113.8h0M1206 113.2h0M1193 110.9h0M1195.6 110.3h0M1206.9 107.9h0M1200.3 105.1h0M1195.4 103.4h0M1200.2 95.8h0M1197.1 120.2h0M1206.7 121.9h0M1209.6 123.2h0M1199.2 125.2h0M1192.6 126.4h0M1200.6 128.4h0M1201.3 130.1h0M1204.9 131.6h0M1206.1 132.9h0M1196.6 135h0M1206.8 136.4h0M1198.3 138.4h0M1196 142.7h0"/></g>
<g stroke="#D01C33" stroke-width="1.65"><use href="#u45b" transform="translate(1244 122.08)scale(0.087 -0.01563)"/><use href="#t45c" transform="translate(1244 106.45)scale(-0.087 -0.03748)"/><use href="#u45c" transform="translate(1244 122.08)scale(-0.087 0.01318)"/><use href="#t45a" transform="translate(1244 135.26)scale(-0.087 0.03597)"/><path d="M1246.4 56.9h0"/></g>
<path d="M1157.9 75.75V109.84M1157.9 133.76V168.03M1144.95 109.84H1170.85V133.76H1144.95Z" stroke="#E3D2A9" stroke-width="2.1" fill="none" stroke-linecap="butt"/>
<path d="M1144.95 120.95H1170.85" stroke="#E3D2A9" stroke-width="4.2" stroke-linecap="butt"/>
<path d="M1201.1 90.44V112.1M1201.1 130.74V149.58M1188.15 112.1H1214.05V130.74H1188.15Z" stroke="#EE8D31" stroke-width="2.1" fill="none" stroke-linecap="butt"/>
<path d="M1188.15 120.01H1214.05" stroke="#EE8D31" stroke-width="4.2" stroke-linecap="butt"/>
<path d="M1244 68.97V106.45M1244 135.26V171.23M1231.05 106.45H1256.95V135.26H1231.05Z" stroke="#D01C33" stroke-width="2.1" fill="none" stroke-linecap="butt"/>
<path d="M1231.05 122.08H1256.95" stroke="#D01C33" stroke-width="4.2" stroke-linecap="butt"/>
<path d="M1131.7 51.2V195.25H1269.4" stroke="#000" stroke-width="1.25" fill="none" stroke-linejoin="miter"/>
<path d="M1131.08 81.4h-4.4M1131.08 119.07h-4.4M1131.08 156.73h-4.4M1131.08 194.4h-4.4M1157.9 195.88v4.4M1201.1 195.88v4.4M1244 195.88v4.4" stroke="#222" stroke-width="1.25" stroke-linecap="butt"/>
<text fill="#000" x="1123.08" y="87" font-size="14.4" text-anchor="end">2</text>
<text fill="#000" x="1123.08" y="125" font-size="14.4" text-anchor="end">0</text>
<text fill="#000" x="1123.08" y="162" font-size="14.4" text-anchor="end">−2</text>
<text fill="#000" x="1123.08" y="200" font-size="14.4" text-anchor="end">−4</text>
<text fill="#000" x="1158.5" y="215" font-size="14.4" text-anchor="middle">A/A</text>
<text fill="#000" x="1201.7" y="215" font-size="14.4" text-anchor="middle">A/G</text>
<text fill="#000" x="1244.6" y="215" font-size="14.4" text-anchor="middle">G/G</text>
<text fill="#000" x="1132" y="37" font-size="19.65">LRT p=0.131</text>
<text fill="#000" x="1201.05" y="237" font-size="19.3" text-anchor="middle">A.36</text>
<g stroke="#E3D2A9" stroke-width="1.65"><use href="#u500b" transform="translate(1321.3 120.95)scale(0.087 -0.01111)"/><use href="#t500c" transform="translate(1321.3 109.84)scale(-0.087 -0.03409)"/><use href="#u500c" transform="translate(1321.3 120.95)scale(-0.087 0.01281)"/><use href="#t500b" transform="translate(1321.3 133.76)scale(-0.087 0.03428)"/><path d="M1328.9 57.9h0M1321 59.6h0M1328.9 74.7h0M1323.6 62.1h0M1314.3 72.4h0M1315.3 75.7h0M1317.7 62h0M1327.5 67.8h0M1322.5 62.9h0M1318.7 64.7h0M1318.6 189.7h0M1329 169.4h0M1325.1 170.5h0M1325.7 182.6h0M1325.8 170.6h0M1329.1 175.8h0M1316.2 168.2h0M1321.3 169.3h0M1327.5 184.6h0M1314.6 173.6h0M1328.7 172.7h0M1328.7 168.3h0M1323.9 168.8h0M1328.7 186.9h0M1323.5 168.5h0M1324.1 169.1h0"/></g>
<g stroke="#EE8D31" stroke-width="1.65"><path d="M1360.5 170.9h0M1358.4 121.4h0M1366.5 119.8h0M1362.7 118.7h0M1357.2 115.9h0M1364.5 114.9h0M1368.6 112.9h0M1372.3 111.9h0M1356.4 110.1h0M1358 108.8h0M1372.3 107.4h0M1356.4 106.1h0M1356.9 105.6h0M1368.9 103.1h0M1372.4 103h0M1368.5 100.8h0M1364.4 91.3h0M1368.9 122.7h0M1365 123.6h0M1369.9 126.3h0M1358.3 127.5h0M1360 129.6h0M1356.3 130.9h0M1365.5 132.4h0M1362.9 134.2h0M1356.4 134.7h0M1360 135.8h0M1371.5 136.3h0M1367.9 138.3h0M1358.9 139.5h0M1367.6 140.8h0M1360.7 143.4h0"/></g>
<g stroke="#D01C33" stroke-width="1.65"><use href="#u45a" transform="translate(1407.4 124.34)scale(-0.087 -0.01714)"/><use href="#t45c" transform="translate(1407.4 107.2)scale(-0.087 -0.0371)"/><use href="#u45a" transform="translate(1407.4 124.34)scale(0.087 0.01205)"/><use href="#t45a" transform="translate(1407.4 136.39)scale(-0.087 0.03484)"/><path d="M1403.6 58.8h0M1416 183.1h0"/></g>
<path d="M1321.3 75.75V109.84M1321.3 133.76V168.03M1308.35 109.84H1334.25V133.76H1308.35Z" stroke="#E3D2A9" stroke-width="2.1" fill="none" stroke-linecap="butt"/>
<path d="M1308.35 120.95H1334.25" stroke="#E3D2A9" stroke-width="4.2" stroke-linecap="butt"/>
<path d="M1364.5 89.88V109.08M1364.5 133.76V149.58M1351.55 109.08H1377.45V133.76H1351.55Z" stroke="#EE8D31" stroke-width="2.1" fill="none" stroke-linecap="butt"/>
<path d="M1351.55 121.7H1377.45" stroke="#EE8D31" stroke-width="4.2" stroke-linecap="butt"/>
<path d="M1407.4 70.1V107.2M1407.4 136.39V171.23M1394.45 107.2H1420.35V136.39H1394.45Z" stroke="#D01C33" stroke-width="2.1" fill="none" stroke-linecap="butt"/>
<path d="M1394.45 124.34H1420.35" stroke="#D01C33" stroke-width="4.2" stroke-linecap="butt"/>
<path d="M1295.1 51.2V195.25H1432.8" stroke="#000" stroke-width="1.25" fill="none" stroke-linejoin="miter"/>
<path d="M1294.47 81.4h-4.4M1294.47 119.07h-4.4M1294.47 156.73h-4.4M1294.47 194.4h-4.4M1321.3 195.88v4.4M1364.5 195.88v4.4M1407.4 195.88v4.4" stroke="#222" stroke-width="1.25" stroke-linecap="butt"/>
<text fill="#000" x="1286.47" y="87" font-size="14.4" text-anchor="end">2</text>
<text fill="#000" x="1286.47" y="125" font-size="14.4" text-anchor="end">0</text>
<text fill="#000" x="1286.47" y="162" font-size="14.4" text-anchor="end">−2</text>
<text fill="#000" x="1286.47" y="200" font-size="14.4" text-anchor="end">−4</text>
<text fill="#000" x="1321.9" y="215" font-size="14.4" text-anchor="middle">A/A</text>
<text fill="#000" x="1365.1" y="215" font-size="14.4" text-anchor="middle">A/G</text>
<text fill="#000" x="1408" y="215" font-size="14.4" text-anchor="middle">G/G</text>
<text fill="#000" x="1295.4" y="37" font-size="19.65">LRT p=0.983</text>
<text fill="#000" x="1364.45" y="237" font-size="19.3" text-anchor="middle">A.38</text>
<g stroke="#E3D2A9" stroke-width="1.65"><use href="#u500a" transform="translate(830.3 372.16)scale(-0.087 -0.01117)"/><use href="#t500a" transform="translate(830.3 360.99)scale(0.087 -0.03427)"/><use href="#u500a" transform="translate(830.3 372.16)scale(-0.087 0.01287)"/><use href="#t500a" transform="translate(830.3 385.03)scale(-0.087 0.03446)"/><path d="M828.7 308.7h0M836.6 316.6h0M832.7 326.6h0M830.2 326.2h0M824.1 315.6h0M822.9 313.2h0M825.7 323.7h0M835.3 322.7h0M829.6 318.8h0M821.8 313.3h0M833 441.3h0M837.1 430.7h0M836.5 430.2h0M823.4 419.5h0M823.9 424h0M834.4 434.9h0M833.4 425.1h0M834.2 426.7h0M831.2 426.5h0M833.3 434.9h0M833.2 438.4h0M825.8 431.7h0M829.1 432.2h0M824.5 434.8h0M825.5 422.9h0M832.6 424.5h0"/></g>
<g stroke="#EE8D31" stroke-width="1.65"><path d="M866.2 371.8h0M866 370.8h0M879 368.8h0M870.4 367.4h0M877.9 366.4h0M865.9 364.6h0M873 363.1h0M880.1 362.3h0M872 360.9h0M876.1 359.2h0M872 357.1h0M875.4 356.9h0M879.4 355.6h0M879.7 354.5h0M881.4 353.7h0M868 352.8h0M869.8 351.7h0M875.2 350.8h0M869.7 348.5h0M873.1 347.3h0M880.3 345h0M877.6 334.2h0M881.2 372.8h0M878.7 374h0M879.4 375.4h0M880.8 377h0M879.7 377.5h0M865 378.4h0M864.9 379.9h0M873.3 382.1h0M878.2 383.1h0M865.8 384.6h0M866.5 386.1h0M881.4 387.3h0M870 388.1h0M872.7 388.9h0M871.2 389.8h0M879.7 390.6h0M881.6 392h0M867.9 392.8h0M880.9 394.9h0M869.1 396.4h0M870.6 399h0M877.3 408.6h0"/></g>
<g stroke="#D01C33" stroke-width="1.65"><use href="#u30a" transform="translate(916.4 371.97)scale(0.087 -0.01193)"/><use href="#t30c" transform="translate(916.4 360.04)scale(0.087 -0.02537)"/><use href="#u30b" transform="translate(916.4 371.97)scale(-0.087 0.01155)"/><use href="#t30c" transform="translate(916.4 383.52)scale(0.087 0.03257)"/><path d="M915.6 422.3h0"/></g>
<path d="M830.3 326.72V360.99M830.3 385.03V419.49M817.35 360.99H843.25V385.03H817.35Z" stroke="#E3D2A9" stroke-width="2.1" fill="none" stroke-linecap="butt"/>
<path d="M817.35 372.16H843.25" stroke="#E3D2A9" stroke-width="4.2" stroke-linecap="butt"/>
<path d="M873.5 333.16V357.01M873.5 386.55V409.46M860.55 357.01H886.45V386.55H860.55Z" stroke="#EE8D31" stroke-width="2.1" fill="none" stroke-linecap="butt"/>
<path d="M860.55 372.16H886.45" stroke="#EE8D31" stroke-width="4.2" stroke-linecap="butt"/>
<path d="M916.4 334.67V360.04M916.4 383.52V416.09M903.45 360.04H929.35V383.52H903.45Z" stroke="#D01C33" stroke-width="2.1" fill="none" stroke-linecap="butt"/>
<path d="M903.45 371.97H929.35" stroke="#D01C33" stroke-width="4.2" stroke-linecap="butt"/>
<path d="M804.1 302.5V446.6H941.8" stroke="#000" stroke-width="1.25" fill="none" stroke-linejoin="miter"/>
<path d="M803.48 332.4h-4.4M803.48 370.27h-4.4M803.48 408.13h-4.4M803.48 446h-4.4M830.3 447.23v4.4M873.5 447.23v4.4M916.4 447.23v4.4" stroke="#222" stroke-width="1.25" stroke-linecap="butt"/>
<text fill="#000" x="795.48" y="338" font-size="14.4" text-anchor="end">2</text>
<text fill="#000" x="795.48" y="376" font-size="14.4" text-anchor="end">0</text>
<text fill="#000" x="795.48" y="414" font-size="14.4" text-anchor="end">−2</text>
<text fill="#000" x="795.48" y="451" font-size="14.4" text-anchor="end">−4</text>
<text fill="#000" x="830.9" y="466" font-size="14.4" text-anchor="middle">A/A</text>
<text fill="#000" x="874.1" y="466" font-size="14.4" text-anchor="middle">A/G</text>
<text fill="#000" x="917" y="466" font-size="14.4" text-anchor="middle">G/G</text>
<text fill="#000" x="804.4" y="288" font-size="19.65">LRT p=0.723</text>
<text fill="#000" x="873.45" y="488" font-size="19.3" text-anchor="middle">B.15</text>
<g stroke="#E3D2A9" stroke-width="1.65"><use href="#u500c" transform="translate(994.1 372.16)scale(0.087 -0.01117)"/><use href="#t500a" transform="translate(994.1 360.99)scale(-0.087 -0.03427)"/><use href="#u500c" transform="translate(994.1 372.16)scale(0.087 0.01287)"/><use href="#t500a" transform="translate(994.1 385.03)scale(0.087 0.03446)"/><path d="M986.7 308.7h0M999.5 312.5h0M990.7 322.1h0M993.2 316.2h0M989.1 325.8h0M990.4 324.3h0M1000.1 315.1h0M1000.6 325.8h0M985.9 321.4h0M998.2 321.6h0M985.5 441.3h0M1001.6 424.4h0M998 432h0M997.3 439.9h0M996 425h0M1002.1 423.7h0M996.2 423.3h0M998.4 428.9h0M993.9 428h0M986.7 427.7h0M997 425.1h0M996.5 428.2h0M992 419.5h0M993.1 440h0M992.1 425.3h0M1002.5 424h0"/></g>
<g stroke="#EE8D31" stroke-width="1.65"><use href="#u30b" transform="translate(1037.3 371.97)scale(-0.087 -0.01306)"/><use href="#t30a" transform="translate(1037.3 358.91)scale(-0.087 -0.03351)"/><use href="#u30b" transform="translate(1037.3 371.97)scale(-0.087 0.0125)"/><use href="#t30c" transform="translate(1037.3 384.47)scale(0.087 0.01988)"/><path d="M1044.6 322.9h0"/></g>
<g stroke="#D01C33" stroke-width="1.65"><use href="#u45a" transform="translate(1080.2 371.59)scale(0.087 -0.01363)"/><use href="#t45a" transform="translate(1080.2 357.96)scale(0.087 -0.03313)"/><use href="#u45c" transform="translate(1080.2 371.59)scale(0.087 0.01155)"/><use href="#t45b" transform="translate(1080.2 383.14)scale(0.087 0.03219)"/><path d="M1073.5 425.2h0M1087 416.7h0M1085.3 417.6h0"/></g>
<path d="M994.1 326.72V360.99M994.1 385.03V419.49M981.15 360.99H1007.05V385.03H981.15Z" stroke="#E3D2A9" stroke-width="2.1" fill="none" stroke-linecap="butt"/>
<path d="M981.15 372.16H1007.05" stroke="#E3D2A9" stroke-width="4.2" stroke-linecap="butt"/>
<path d="M1037.3 325.39V358.91M1037.3 384.47V404.35M1024.35 358.91H1050.25V384.47H1024.35Z" stroke="#EE8D31" stroke-width="2.1" fill="none" stroke-linecap="butt"/>
<path d="M1024.35 371.97H1050.25" stroke="#EE8D31" stroke-width="4.2" stroke-linecap="butt"/>
<path d="M1080.2 324.83V357.96M1080.2 383.14V415.33M1067.25 357.96H1093.15V383.14H1067.25Z" stroke="#D01C33" stroke-width="2.1" fill="none" stroke-linecap="butt"/>
<path d="M1067.25 371.59H1093.15" stroke="#D01C33" stroke-width="4.2" stroke-linecap="butt"/>
<path d="M967.9 302.5V446.6H1105.6" stroke="#000" stroke-width="1.25" fill="none" stroke-linejoin="miter"/>
<path d="M967.27 332.4h-4.4M967.27 370.27h-4.4M967.27 408.13h-4.4M967.27 446h-4.4M994.1 447.23v4.4M1037.3 447.23v4.4M1080.2 447.23v4.4" stroke="#222" stroke-width="1.25" stroke-linecap="butt"/>
<text fill="#000" x="959.27" y="338" font-size="14.4" text-anchor="end">2</text>
<text fill="#000" x="959.27" y="376" font-size="14.4" text-anchor="end">0</text>
<text fill="#000" x="959.27" y="414" font-size="14.4" text-anchor="end">−2</text>
<text fill="#000" x="959.27" y="451" font-size="14.4" text-anchor="end">−4</text>
<text fill="#000" x="994.7" y="466" font-size="14.4" text-anchor="middle">A/A</text>
<text fill="#000" x="1037.9" y="466" font-size="14.4" text-anchor="middle">A/G</text>
<text fill="#000" x="1080.8" y="466" font-size="14.4" text-anchor="middle">G/G</text>
<text fill="#000" x="968.2" y="288" font-size="19.65">LRT p=0.0723</text>
<text fill="#000" x="1037.25" y="488" font-size="19.3" text-anchor="middle">B.24</text>
<g stroke="#E3D2A9" stroke-width="1.65"><use href="#u500c" transform="translate(1157.9 372.16)scale(-0.087 -0.01117)"/><use href="#t500c" transform="translate(1157.9 360.99)scale(0.087 -0.03427)"/><use href="#u500b" transform="translate(1157.9 372.16)scale(-0.087 0.01287)"/><use href="#t500b" transform="translate(1157.9 385.03)scale(-0.087 0.03446)"/><path d="M1162.9 308.7h0M1150.3 326.1h0M1153.3 324.6h0M1154.8 319.7h0M1163.8 324.5h0M1160.9 325.1h0M1161.3 325.7h0M1155.5 321.1h0M1163.7 326.6h0M1159.9 311.9h0M1150.5 441.3h0M1160.2 419.9h0M1162 433.9h0M1152.5 429.6h0M1155 419.6h0M1157.2 426.3h0M1158 424.3h0M1154 419.6h0M1151.8 419.8h0M1164.5 421.8h0M1160.7 427.5h0M1158.8 420.6h0M1162.2 437.2h0M1162.4 429.5h0M1155.6 433.5h0M1165 430.6h0"/></g>
<g stroke="#EE8D31" stroke-width="1.65"><use href="#u30a" transform="translate(1201.1 370.27)scale(0.087 -0.01155)"/><use href="#t30b" transform="translate(1201.1 358.72)scale(-0.087 -0.03654)"/><use href="#u30a" transform="translate(1201.1 370.27)scale(0.087 0.01458)"/><use href="#t30b" transform="translate(1201.1 384.85)scale(-0.087 0.02026)"/></g>
<g stroke="#D01C33" stroke-width="1.65"><use href="#u45c" transform="translate(1244 369.89)scale(-0.087 -0.01325)"/><use href="#t45c" transform="translate(1244 356.63)scale(-0.087 -0.02954)"/><use href="#u45c" transform="translate(1244 369.89)scale(0.087 0.01231)"/><use href="#t45a" transform="translate(1244 382.19)scale(-0.087 0.03219)"/><path d="M1244 425.2h0M1240.1 415.1h0M1243.9 414.5h0"/></g>
<path d="M1157.9 326.72V360.99M1157.9 385.03V419.49M1144.95 360.99H1170.85V385.03H1144.95Z" stroke="#E3D2A9" stroke-width="2.1" fill="none" stroke-linecap="butt"/>
<path d="M1144.95 372.16H1170.85" stroke="#E3D2A9" stroke-width="4.2" stroke-linecap="butt"/>
<path d="M1201.1 322.18V358.72M1201.1 384.85V405.1M1188.15 358.72H1214.05V384.85H1188.15Z" stroke="#EE8D31" stroke-width="2.1" fill="none" stroke-linecap="butt"/>
<path d="M1188.15 370.27H1214.05" stroke="#EE8D31" stroke-width="4.2" stroke-linecap="butt"/>
<path d="M1244 327.1V356.63M1244 382.19V414.38M1231.05 356.63H1256.95V382.19H1231.05Z" stroke="#D01C33" stroke-width="2.1" fill="none" stroke-linecap="butt"/>
<path d="M1231.05 369.89H1256.95" stroke="#D01C33" stroke-width="4.2" stroke-linecap="butt"/>
<path d="M1131.7 302.5V446.6H1269.4" stroke="#000" stroke-width="1.25" fill="none" stroke-linejoin="miter"/>
<path d="M1131.08 332.4h-4.4M1131.08 370.27h-4.4M1131.08 408.13h-4.4M1131.08 446h-4.4M1157.9 447.23v4.4M1201.1 447.23v4.4M1244 447.23v4.4" stroke="#222" stroke-width="1.25" stroke-linecap="butt"/>
<text fill="#000" x="1123.08" y="338" font-size="14.4" text-anchor="end">2</text>
<text fill="#000" x="1123.08" y="376" font-size="14.4" text-anchor="end">0</text>
<text fill="#000" x="1123.08" y="414" font-size="14.4" text-anchor="end">−2</text>
<text fill="#000" x="1123.08" y="451" font-size="14.4" text-anchor="end">−4</text>
<text fill="#000" x="1158.5" y="466" font-size="14.4" text-anchor="middle">A/A</text>
<text fill="#000" x="1201.7" y="466" font-size="14.4" text-anchor="middle">A/G</text>
<text fill="#000" x="1244.6" y="466" font-size="14.4" text-anchor="middle">G/G</text>
<text fill="#000" x="1132" y="288" font-size="19.65">LRT p=0.00102</text>
<text fill="#000" x="1201.05" y="488" font-size="19.3" text-anchor="middle">B.25</text>
<g stroke="#E3D2A9" stroke-width="1.65"><use href="#u220b" transform="translate(1321.3 373.53)scale(0.087 -0.01473)"/><use href="#t220c" transform="translate(1321.3 358.8)scale(0.087 -0.03607)"/><use href="#u220c" transform="translate(1321.3 373.53)scale(-0.087 0.0119)"/><use href="#t220b" transform="translate(1321.3 385.43)scale(-0.087 0.03739)"/><path d="M1317.2 309.5h0M1317.6 322.6h0M1327 312.5h0M1320.7 439.1h0M1321.5 434.2h0M1312.7 423.4h0M1323.7 424h0"/></g>
<g stroke="#EE8D31" stroke-width="1.65"><use href="#u30c" transform="translate(1364.5 370.51)scale(0.087 -0.01039)"/><use href="#t30c" transform="translate(1364.5 360.12)scale(-0.087 -0.02606)"/><use href="#u30b" transform="translate(1364.5 370.51)scale(-0.087 0.01284)"/><use href="#t30c" transform="translate(1364.5 383.35)scale(0.087 0.03191)"/><path d="M1362.3 322.7h0M1357 419h0"/></g>
<g stroke="#D01C33" stroke-width="1.65"><use href="#u220a" transform="translate(1407.4 365.22)scale(0.087 -0.01227)"/><use href="#t220c" transform="translate(1407.4 352.95)scale(-0.087 -0.03399)"/><use href="#u220b" transform="translate(1407.4 365.22)scale(0.087 0.01152)"/><use href="#t220b" transform="translate(1407.4 376.74)scale(-0.087 0.03248)"/><path d="M1404 308.6h0M1400.2 312h0M1409.7 312.4h0M1405.8 315.3h0M1402.4 310.8h0M1410.1 318.7h0M1405.5 312.3h0M1415.2 311.7h0M1409.5 426.6h0M1411.8 411.6h0M1408.4 410.7h0M1399.5 409.6h0M1404.2 414.3h0M1406.1 424.7h0M1414 411h0M1409.5 425h0M1401.8 409.8h0M1400.4 420.3h0"/></g>
<path d="M1321.3 322.73V358.8M1321.3 385.43V422.82M1308.35 358.8H1334.25V385.43H1308.35Z" stroke="#E3D2A9" stroke-width="2.1" fill="none" stroke-linecap="butt"/>
<path d="M1308.35 373.53H1334.25" stroke="#E3D2A9" stroke-width="4.2" stroke-linecap="butt"/>
<path d="M1364.5 334.06V360.12M1364.5 383.35V415.26M1351.55 360.12H1377.45V383.35H1351.55Z" stroke="#EE8D31" stroke-width="2.1" fill="none" stroke-linecap="butt"/>
<path d="M1351.55 370.51H1377.45" stroke="#EE8D31" stroke-width="4.2" stroke-linecap="butt"/>
<path d="M1407.4 318.96V352.95M1407.4 376.74V409.22M1394.45 352.95H1420.35V376.74H1394.45Z" stroke="#D01C33" stroke-width="2.1" fill="none" stroke-linecap="butt"/>
<path d="M1394.45 365.22H1420.35" stroke="#D01C33" stroke-width="4.2" stroke-linecap="butt"/>
<path d="M1295.1 302.5V446.6H1432.8" stroke="#000" stroke-width="1.25" fill="none" stroke-linejoin="miter"/>
<path d="M1294.47 328.4h-4.4M1294.47 366.17h-4.4M1294.47 403.93h-4.4M1294.47 441.7h-4.4M1321.3 447.23v4.4M1364.5 447.23v4.4M1407.4 447.23v4.4" stroke="#222" stroke-width="1.25" stroke-linecap="butt"/>
<text fill="#000" x="1286.47" y="334" font-size="14.4" text-anchor="end">2</text>
<text fill="#000" x="1286.47" y="372" font-size="14.4" text-anchor="end">0</text>
<text fill="#000" x="1286.47" y="409" font-size="14.4" text-anchor="end">−2</text>
<text fill="#000" x="1286.47" y="447" font-size="14.4" text-anchor="end">−4</text>
<text fill="#000" x="1321.9" y="466" font-size="14.4" text-anchor="middle">A/A</text>
<text fill="#000" x="1365.1" y="466" font-size="14.4" text-anchor="middle">A/G</text>
<text fill="#000" x="1408" y="466" font-size="14.4" text-anchor="middle">G/G</text>
<text fill="#000" x="1295.4" y="288" font-size="19.65">LRT p=0</text>
<text fill="#000" x="1364.45" y="488" font-size="19.3" text-anchor="middle">B.29</text>
<text fill="#000" x="1454" y="32" font-size="42" class="L">c</text>
<text fill="#000" x="1491" y="248" font-size="19.3" text-anchor="middle" transform="rotate(-90 1491 248)">RNA − <tspan font-style="italic">CD79B</tspan></text>
<g stroke="#E3D2A9" stroke-width="1.65"><use href="#u500c" transform="translate(1560.1 120.93)scale(0.079 -0.01099)"/><use href="#t500b" transform="translate(1560.1 109.94)scale(-0.079 -0.03014)"/><use href="#u500b" transform="translate(1560.1 120.93)scale(0.079 0.01083)"/><use href="#t500a" transform="translate(1560.1 131.77)scale(0.079 0.02967)"/><path d="M1558.7 59.4h0M1563.4 72h0M1566.4 77h0M1554.2 74.5h0M1565.5 76.9h0M1555 79.6h0M1557.6 64.9h0M1566.6 79.7h0M1557.1 78.5h0M1558.3 70.8h0M1560.8 188.1h0M1566.7 166h0M1558.5 175.4h0M1564.6 161.6h0M1554.8 180.1h0M1555.7 167.7h0M1561.7 166.3h0M1564.6 177h0M1561.6 162.5h0M1553.2 177.8h0M1565.3 184.4h0M1564.8 163.5h0M1553.1 181.1h0M1565.1 162.4h0M1559.5 183.2h0M1557.5 173.2h0"/></g>
<g stroke="#EE8D31" stroke-width="1.65"><path d="M1600.9 124.3h0M1599.3 122.8h0M1593.7 122.7h0M1603.3 121.3h0M1598.7 120.7h0M1603.1 119.8h0M1600.6 118.9h0M1599.1 118h0M1593.9 117.2h0M1601.5 116.4h0M1594.5 115.6h0M1603 114.2h0M1606.5 113.3h0M1597.9 112.3h0M1598.7 111h0M1599.9 109.7h0M1603.3 108.3h0M1600.1 105.8h0M1594.2 105.1h0M1593.1 96.9h0M1601.7 124.6h0M1603 126.2h0M1592.4 127.1h0M1596.4 128.3h0M1595.3 129.2h0M1599 130.1h0M1591.5 130.3h0M1599.9 131.8h0M1602.5 133.5h0M1606.8 133.9h0M1600.3 134.9h0M1601.6 135.7h0M1598.4 136.4h0M1604.8 138h0M1597.7 138.1h0M1592.8 139.7h0M1597.9 141.4h0M1599.7 142.5h0M1597.3 145.2h0M1606 146.8h0"/></g>
<g stroke="#D01C33" stroke-width="1.65"><use href="#u70b" transform="translate(1637.9 122.35)scale(-0.079 -0.01099)"/><use href="#t70c" transform="translate(1637.9 111.36)scale(0.079 -0.03156)"/><use href="#u70a" transform="translate(1637.9 122.35)scale(0.079 0.01209)"/><use href="#t70c" transform="translate(1637.9 134.44)scale(-0.079 0.0325)"/><path d="M1633.8 188.9h0M1635.8 168.1h0M1643.2 170.9h0"/></g>
<path d="M1560.1 79.8V109.94M1560.1 131.77V161.44M1548.6 109.94H1571.6V131.77H1548.6Z" stroke="#E3D2A9" stroke-width="2.1" fill="none" stroke-linecap="butt"/>
<path d="M1548.6 120.93H1571.6" stroke="#E3D2A9" stroke-width="4.2" stroke-linecap="butt"/>
<path d="M1599 93.93V115.75M1599 134.75V153.59M1587.5 115.75H1610.5V134.75H1587.5Z" stroke="#EE8D31" stroke-width="2.1" fill="none" stroke-linecap="butt"/>
<path d="M1587.5 124.39H1610.5" stroke="#EE8D31" stroke-width="4.2" stroke-linecap="butt"/>
<path d="M1637.9 79.8V111.36M1637.9 134.44V166.94M1626.4 111.36H1649.4V134.44H1626.4Z" stroke="#D01C33" stroke-width="2.1" fill="none" stroke-linecap="butt"/>
<path d="M1626.4 122.35H1649.4" stroke="#D01C33" stroke-width="4.2" stroke-linecap="butt"/>
<path d="M1536.9 53.7V195.6H1660.7" stroke="#000" stroke-width="1.25" fill="none" stroke-linejoin="miter"/>
<path d="M1536.28 79.8h-4.4M1536.28 119.05h-4.4M1536.28 158.3h-4.4M1560.1 196.22v4.4M1599 196.22v4.4M1637.9 196.22v4.4" stroke="#222" stroke-width="1.25" stroke-linecap="butt"/>
<text fill="#000" x="1528.28" y="85" font-size="14.4" text-anchor="end">2.5</text>
<text fill="#000" x="1528.28" y="124" font-size="14.4" text-anchor="end">0.0</text>
<text fill="#000" x="1528.28" y="164" font-size="14.4" text-anchor="end">−2.5</text>
<text fill="#000" x="1560.7" y="215" font-size="14.4" text-anchor="middle">A/A</text>
<text fill="#000" x="1599.6" y="215" font-size="14.4" text-anchor="middle">A/G</text>
<text fill="#000" x="1638.5" y="215" font-size="14.4" text-anchor="middle">G/G</text>
<text fill="#000" x="1537.2" y="40" font-size="19.3">LRT p=0.225</text>
<text fill="#000" x="1599.3" y="237" font-size="19.3" text-anchor="middle">A.14</text>
<g stroke="#E3D2A9" stroke-width="1.65"><use href="#u500c" transform="translate(1721.8 120.93)scale(-0.079 -0.01099)"/><use href="#t500b" transform="translate(1721.8 109.94)scale(-0.079 -0.03014)"/><use href="#u500a" transform="translate(1721.8 120.93)scale(0.079 0.01083)"/><use href="#t500a" transform="translate(1721.8 131.77)scale(0.079 0.02967)"/><path d="M1724.7 59.4h0M1718 79.2h0M1718 74h0M1726.7 68.7h0M1729.2 68.1h0M1714.1 74.2h0M1725.2 67.1h0M1719.3 59.8h0M1724.6 63.2h0M1720.8 72.8h0M1726.7 188.1h0M1721.9 164h0M1718.5 171.5h0M1722.7 167.2h0M1725 172.4h0M1721.6 176h0M1719.4 165.6h0M1717.9 161.9h0M1724.2 161.6h0M1724.5 165.5h0M1718.8 167h0M1725.7 161.4h0M1728.1 174h0M1717.2 164.5h0M1717.9 162.5h0M1724.8 177.4h0"/></g>
<g stroke="#EE8D31" stroke-width="1.65"><path d="M1765.2 115.4h0M1757.7 113.6h0M1758.7 117.2h0M1764.9 117.9h0"/></g>
<g stroke="#D01C33" stroke-width="1.65"><path d="M1802.6 122.7h0M1804.5 121.2h0M1791.9 119.9h0M1797.8 118.3h0M1806.7 117.7h0M1803.4 116.4h0M1796.4 113.8h0M1796.5 113.3h0M1801.3 111.4h0M1792.6 110.3h0M1797.4 108.6h0M1794.4 107h0M1796.7 104.1h0M1794.6 102.3h0M1795.5 99.6h0M1806.5 95.1h0M1797.8 123.9h0M1803.6 125.7h0M1804.2 125.8h0M1806.7 128.3h0M1795.3 129.3h0M1807.2 131.4h0M1799.2 131.9h0M1796.8 134.4h0M1803.7 135.3h0M1792.9 137.8h0M1803.5 138.7h0M1792.2 140.9h0M1798.7 142h0M1807.2 145.3h0M1806.4 150.5h0M1793.5 152.9h0"/></g>
<path d="M1721.8 79.8V109.94M1721.8 131.77V161.44M1710.3 109.94H1733.3V131.77H1710.3Z" stroke="#E3D2A9" stroke-width="2.1" fill="none" stroke-linecap="butt"/>
<path d="M1710.3 120.93H1733.3" stroke="#E3D2A9" stroke-width="4.2" stroke-linecap="butt"/>
<path d="M1760.7 112.77V114.03M1760.7 117.48V118.74M1749.2 114.03H1772.2V117.48H1749.2Z" stroke="#EE8D31" stroke-width="2.1" fill="none" stroke-linecap="butt"/>
<path d="M1749.2 115.75H1772.2" stroke="#EE8D31" stroke-width="4.2" stroke-linecap="butt"/>
<path d="M1799.6 83.1V112.3M1799.6 135.22V162.7M1788.1 112.3H1811.1V135.22H1788.1Z" stroke="#D01C33" stroke-width="2.1" fill="none" stroke-linecap="butt"/>
<path d="M1788.1 122.82H1811.1" stroke="#D01C33" stroke-width="4.2" stroke-linecap="butt"/>
<path d="M1698.6 53.7V195.6H1822.4" stroke="#000" stroke-width="1.25" fill="none" stroke-linejoin="miter"/>
<path d="M1697.97 79.8h-4.4M1697.97 119.05h-4.4M1697.97 158.3h-4.4M1721.8 196.22v4.4M1760.7 196.22v4.4M1799.6 196.22v4.4" stroke="#222" stroke-width="1.25" stroke-linecap="butt"/>
<text fill="#000" x="1689.97" y="85" font-size="14.4" text-anchor="end">2.5</text>
<text fill="#000" x="1689.97" y="124" font-size="14.4" text-anchor="end">0.0</text>
<text fill="#000" x="1689.97" y="164" font-size="14.4" text-anchor="end">−2.5</text>
<text fill="#000" x="1722.4" y="215" font-size="14.4" text-anchor="middle">A/A</text>
<text fill="#000" x="1761.3" y="215" font-size="14.4" text-anchor="middle">A/G</text>
<text fill="#000" x="1800.2" y="215" font-size="14.4" text-anchor="middle">G/G</text>
<text fill="#000" x="1698.9" y="40" font-size="19.3">LRT p=0.941</text>
<text fill="#000" x="1761" y="237" font-size="19.3" text-anchor="middle">A.35</text>
<g stroke="#E3D2A9" stroke-width="1.65"><use href="#u500c" transform="translate(1883.9 120.93)scale(0.079 -0.01099)"/><use href="#t500b" transform="translate(1883.9 109.94)scale(0.079 -0.03014)"/><use href="#u500a" transform="translate(1883.9 120.93)scale(-0.079 0.01083)"/><use href="#t500c" transform="translate(1883.9 131.77)scale(-0.079 0.02967)"/><path d="M1882.5 59.4h0M1876.8 66.6h0M1876.3 79.2h0M1891.3 68.8h0M1891.7 63.7h0M1886.6 66.5h0M1885.8 79.5h0M1889.2 60h0M1884.3 61.9h0M1876.5 79.7h0M1888.8 188.1h0M1891.8 161.5h0M1876.2 173.7h0M1889 164.4h0M1890.8 170.6h0M1877.9 171.5h0M1880.2 162.3h0M1880.3 169.8h0M1886.8 169.6h0M1887.4 172.9h0M1880.2 187h0M1887.1 174.3h0M1889.8 162.6h0M1891.5 171.6h0M1886.6 161.7h0M1881.1 162.2h0"/></g>
<g stroke="#EE8D31" stroke-width="1.65"><path d="M1919.7 117h0M1922.7 113.4h0M1916.1 111.4h0M1922.2 109.9h0M1929.7 107.4h0M1918.9 106.4h0M1929.8 103.8h0M1919 103.3h0M1919.2 102h0M1922.1 101.4h0M1930.6 100.5h0M1915.3 98.7h0M1927.1 96.3h0M1919.8 119.7h0M1919.4 122.5h0M1928.2 126.1h0M1916.8 127.8h0M1927.8 132.4h0M1920.5 134.7h0M1929.3 137.2h0M1928.7 138h0M1915 141.1h0M1926.9 143.7h0M1924.2 147.1h0M1924.3 150.2h0"/></g>
<g stroke="#D01C33" stroke-width="1.65"><use href="#u45a" transform="translate(1961.7 122.03)scale(-0.079 -0.0113)"/><use href="#t45b" transform="translate(1961.7 110.73)scale(-0.079 -0.03297)"/><use href="#u45b" transform="translate(1961.7 122.03)scale(-0.079 0.01382)"/><use href="#t45b" transform="translate(1961.7 135.85)scale(0.079 0.03658)"/><path d="M1968 188.9h0"/></g>
<path d="M1883.9 79.8V109.94M1883.9 131.77V161.44M1872.4 109.94H1895.4V131.77H1872.4Z" stroke="#E3D2A9" stroke-width="2.1" fill="none" stroke-linecap="butt"/>
<path d="M1872.4 120.93H1895.4" stroke="#E3D2A9" stroke-width="4.2" stroke-linecap="butt"/>
<path d="M1922.8 92.36V103.98M1922.8 135.85V159.24M1911.3 103.98H1934.3V135.85H1911.3Z" stroke="#EE8D31" stroke-width="2.1" fill="none" stroke-linecap="butt"/>
<path d="M1911.3 117.48H1934.3" stroke="#EE8D31" stroke-width="4.2" stroke-linecap="butt"/>
<path d="M1961.7 77.76V110.73M1961.7 135.85V172.43M1950.2 110.73H1973.2V135.85H1950.2Z" stroke="#D01C33" stroke-width="2.1" fill="none" stroke-linecap="butt"/>
<path d="M1950.2 122.03H1973.2" stroke="#D01C33" stroke-width="4.2" stroke-linecap="butt"/>
<path d="M1860.7 53.7V195.6H1984.5" stroke="#000" stroke-width="1.25" fill="none" stroke-linejoin="miter"/>
<path d="M1860.08 79.8h-4.4M1860.08 119.05h-4.4M1860.08 158.3h-4.4M1883.9 196.22v4.4M1922.8 196.22v4.4M1961.7 196.22v4.4" stroke="#222" stroke-width="1.25" stroke-linecap="butt"/>
<text fill="#000" x="1852.08" y="85" font-size="14.4" text-anchor="end">2.5</text>
<text fill="#000" x="1852.08" y="124" font-size="14.4" text-anchor="end">0.0</text>
<text fill="#000" x="1852.08" y="164" font-size="14.4" text-anchor="end">−2.5</text>
<text fill="#000" x="1884.5" y="215" font-size="14.4" text-anchor="middle">A/A</text>
<text fill="#000" x="1923.4" y="215" font-size="14.4" text-anchor="middle">A/G</text>
<text fill="#000" x="1962.3" y="215" font-size="14.4" text-anchor="middle">G/G</text>
<text fill="#000" x="1861" y="40" font-size="19.3">LRT p=0.684</text>
<text fill="#000" x="1923.1" y="237" font-size="19.3" text-anchor="middle">A.36</text>
<g stroke="#E3D2A9" stroke-width="1.65"><use href="#u500c" transform="translate(2045.9 120.93)scale(-0.079 -0.01099)"/><use href="#t500c" transform="translate(2045.9 109.94)scale(0.079 -0.03014)"/><use href="#u500a" transform="translate(2045.9 120.93)scale(0.079 0.01083)"/><use href="#t500a" transform="translate(2045.9 131.77)scale(-0.079 0.02967)"/><path d="M2038.8 59.4h0M2049 66.1h0M2053.1 78.5h0M2039 71.4h0M2044.5 77.5h0M2049.4 62.9h0M2039.4 79.5h0M2039.1 63.3h0M2048.5 79.1h0M2038.8 59.6h0M2043.9 188.1h0M2038.1 168.6h0M2039.2 184.1h0M2049 163.4h0M2049.5 163.5h0M2046.4 186.5h0M2051.4 170.9h0M2043.2 166.1h0M2039.7 185.5h0M2038.5 179.1h0M2051.9 167.2h0M2041.4 162.1h0M2049.2 163.8h0M2042.3 161.5h0M2049.9 165.6h0M2049.2 161.4h0"/></g>
<g stroke="#EE8D31" stroke-width="1.65"><path d="M2083.7 122.9h0M2088.9 120.5h0M2088.4 119.1h0M2091.7 115.5h0M2077.8 113.3h0M2080.6 110.6h0M2084.9 109.5h0M2086.9 107.9h0M2080.2 107.2h0M2092.1 104.8h0M2086.2 103.1h0M2089.3 100.7h0M2090.2 96.1h0M2089 125.1h0M2091.1 125.7h0M2079.4 127.8h0M2083.1 128.8h0M2078.5 129.9h0M2086 131.4h0M2090.8 133.1h0M2089.6 133.5h0M2087 136.2h0M2078.6 140.1h0M2079.7 143.1h0M2091 146.2h0"/></g>
<g stroke="#D01C33" stroke-width="1.65"><use href="#u45a" transform="translate(2123.7 123.45)scale(-0.079 -0.01209)"/><use href="#t45c" transform="translate(2123.7 111.36)scale(0.079 -0.03313)"/><use href="#u45c" transform="translate(2123.7 123.45)scale(-0.079 0.01177)"/><use href="#t45c" transform="translate(2123.7 135.22)scale(-0.079 0.03093)"/><path d="M2125.4 188.9h0M2121.1 166.5h0M2119.5 173.9h0"/></g>
<path d="M2045.9 79.8V109.94M2045.9 131.77V161.44M2034.4 109.94H2057.4V131.77H2034.4Z" stroke="#E3D2A9" stroke-width="2.1" fill="none" stroke-linecap="butt"/>
<path d="M2034.4 120.93H2057.4" stroke="#E3D2A9" stroke-width="4.2" stroke-linecap="butt"/>
<path d="M2084.8 88.91V109.94M2084.8 131.45V158.3M2073.3 109.94H2096.3V131.45H2073.3Z" stroke="#EE8D31" stroke-width="2.1" fill="none" stroke-linecap="butt"/>
<path d="M2073.3 124.7H2096.3" stroke="#EE8D31" stroke-width="4.2" stroke-linecap="butt"/>
<path d="M2123.7 78.23V111.36M2123.7 135.22V166.15M2112.2 111.36H2135.2V135.22H2112.2Z" stroke="#D01C33" stroke-width="2.1" fill="none" stroke-linecap="butt"/>
<path d="M2112.2 123.45H2135.2" stroke="#D01C33" stroke-width="4.2" stroke-linecap="butt"/>
<path d="M2022.7 53.7V195.6H2146.5" stroke="#000" stroke-width="1.25" fill="none" stroke-linejoin="miter"/>
<path d="M2022.08 79.8h-4.4M2022.08 119.05h-4.4M2022.08 158.3h-4.4M2045.9 196.22v4.4M2084.8 196.22v4.4M2123.7 196.22v4.4" stroke="#222" stroke-width="1.25" stroke-linecap="butt"/>
<text fill="#000" x="2014.08" y="85" font-size="14.4" text-anchor="end">2.5</text>
<text fill="#000" x="2014.08" y="124" font-size="14.4" text-anchor="end">0.0</text>
<text fill="#000" x="2014.08" y="164" font-size="14.4" text-anchor="end">−2.5</text>
<text fill="#000" x="2046.5" y="215" font-size="14.4" text-anchor="middle">A/A</text>
<text fill="#000" x="2085.4" y="215" font-size="14.4" text-anchor="middle">A/G</text>
<text fill="#000" x="2124.3" y="215" font-size="14.4" text-anchor="middle">G/G</text>
<text fill="#000" x="2023" y="40" font-size="19.3">LRT p=0.606</text>
<text fill="#000" x="2085.1" y="237" font-size="19.3" text-anchor="middle">A.38</text>
<g stroke="#E3D2A9" stroke-width="1.65"><use href="#u500a" transform="translate(1560.1 369.52)scale(-0.079 -0.01093)"/><use href="#t500a" transform="translate(1560.1 358.59)scale(0.079 -0.02999)"/><use href="#u500c" transform="translate(1560.1 369.52)scale(-0.079 0.01078)"/><use href="#t500c" transform="translate(1560.1 380.3)scale(0.079 0.02952)"/><path d="M1554.2 308.3h0M1563.3 326.6h0M1555.8 326.1h0M1560.8 328h0M1560.5 312.5h0M1560.3 324.7h0M1557.6 327.9h0M1567.4 323.6h0M1556.7 320.4h0M1552.6 317.8h0M1564.5 436.4h0M1557.5 413.6h0M1558.9 418.2h0M1556.2 420.9h0M1558.2 424.1h0M1561.8 410.2h0M1553.4 417.2h0M1555.2 426.4h0M1567.4 411.5h0M1562.1 413.9h0M1555 416.2h0M1554.1 409.8h0M1560.5 423.4h0M1563.2 413.3h0M1559.9 433.9h0M1567.9 416.5h0"/></g>
<g stroke="#EE8D31" stroke-width="1.65"><path d="M1606.2 369.9h0M1605.4 369.2h0M1598.5 367.8h0M1595.2 366.9h0M1601.2 366.3h0M1604.2 365.5h0M1593.4 364.5h0M1600.5 364h0M1594.9 363.1h0M1598.3 362.2h0M1593.9 361.4h0M1601.3 360.3h0M1606.7 359.3h0M1595.6 358.4h0M1604.7 357.1h0M1592.7 355.9h0M1606 354.7h0M1601.6 354.1h0M1604.1 352.4h0M1600.2 351.1h0M1599.8 349.9h0M1606.9 346.6h0M1603 345.1h0M1598.8 340.5h0M1603.5 339.7h0M1598.3 370.3h0M1601.2 371.4h0M1591.8 372h0M1596 372.8h0M1598.6 373.8h0M1596.2 374.3h0M1601.6 375.2h0M1604.5 375.9h0M1603.8 376.6h0M1594.5 377.6h0M1591.7 378.4h0M1597.5 379.2h0M1601.5 380h0M1594.7 380.6h0M1604 381.5h0M1594.7 382h0M1593.6 382.5h0M1599.6 383.1h0M1598.3 384.1h0M1604.7 384.6h0M1599.6 385.6h0M1597.5 386.3h0M1593.6 388.3h0M1594.2 391.6h0"/></g>
<g stroke="#D01C33" stroke-width="1.65"><use href="#u30a" transform="translate(1637.9 370.93)scale(0.079 -0.01171)"/><use href="#t30b" transform="translate(1637.9 359.22)scale(0.079 -0.02515)"/><use href="#u30b" transform="translate(1637.9 370.93)scale(0.079 0.01109)"/><use href="#t30b" transform="translate(1637.9 382.02)scale(-0.079 0.0278)"/><path d="M1630.8 326.3h0M1640.5 425.4h0"/></g>
<path d="M1560.1 328.6V358.59M1560.1 380.3V409.82M1548.6 358.59H1571.6V380.3H1548.6Z" stroke="#E3D2A9" stroke-width="2.1" fill="none" stroke-linecap="butt"/>
<path d="M1548.6 369.52H1571.6" stroke="#E3D2A9" stroke-width="4.2" stroke-linecap="butt"/>
<path d="M1599 329.07V358.9M1599 379.99V394.52M1587.5 358.9H1610.5V379.99H1587.5Z" stroke="#EE8D31" stroke-width="2.1" fill="none" stroke-linecap="butt"/>
<path d="M1587.5 369.99H1610.5" stroke="#EE8D31" stroke-width="4.2" stroke-linecap="butt"/>
<path d="M1637.9 334.07V359.22M1637.9 382.02V409.82M1626.4 359.22H1649.4V382.02H1626.4Z" stroke="#D01C33" stroke-width="2.1" fill="none" stroke-linecap="butt"/>
<path d="M1626.4 370.93H1649.4" stroke="#D01C33" stroke-width="4.2" stroke-linecap="butt"/>
<path d="M1536.9 302.1V444H1660.7" stroke="#000" stroke-width="1.25" fill="none" stroke-linejoin="miter"/>
<path d="M1536.28 328.6h-4.4M1536.28 367.65h-4.4M1536.28 406.7h-4.4M1560.1 444.62v4.4M1599 444.62v4.4M1637.9 444.62v4.4" stroke="#222" stroke-width="1.25" stroke-linecap="butt"/>
<text fill="#000" x="1528.28" y="334" font-size="14.4" text-anchor="end">2.5</text>
<text fill="#000" x="1528.28" y="373" font-size="14.4" text-anchor="end">0.0</text>
<text fill="#000" x="1528.28" y="412" font-size="14.4" text-anchor="end">−2.5</text>
<text fill="#000" x="1560.7" y="463" font-size="14.4" text-anchor="middle">A/A</text>
<text fill="#000" x="1599.6" y="463" font-size="14.4" text-anchor="middle">A/G</text>
<text fill="#000" x="1638.5" y="463" font-size="14.4" text-anchor="middle">G/G</text>
<text fill="#000" x="1537.2" y="288" font-size="19.3">LRT p=0.901</text>
<text fill="#000" x="1599.3" y="485" font-size="19.3" text-anchor="middle">B.15</text>
<g stroke="#E3D2A9" stroke-width="1.65"><use href="#u500b" transform="translate(1721.8 369.52)scale(0.079 -0.01093)"/><use href="#t500c" transform="translate(1721.8 358.59)scale(0.079 -0.02999)"/><use href="#u500b" transform="translate(1721.8 369.52)scale(0.079 0.01078)"/><use href="#t500b" transform="translate(1721.8 380.3)scale(0.079 0.02952)"/><path d="M1715.3 308.3h0M1715.2 327h0M1726.6 322.4h0M1725.5 316.7h0M1727.9 316.1h0M1720.4 327.8h0M1728 319.8h0M1723.4 313.1h0M1725.9 327.9h0M1716.2 327.2h0M1727.9 436.4h0M1721.6 413.6h0M1717 420.9h0M1728 413.6h0M1726.3 423h0M1715.1 414.6h0M1720.4 416.6h0M1727.7 410.6h0M1729.1 413.5h0M1719.2 412.5h0M1722.4 432.4h0M1723 412.7h0M1725.2 422.5h0M1724.7 411.4h0M1717.1 430.7h0M1716 412.1h0"/></g>
<g stroke="#EE8D31" stroke-width="1.65"><use href="#u20a" transform="translate(1760.7 369.06)scale(-0.079 -0.00953)"/><use href="#t20a" transform="translate(1760.7 359.53)scale(-0.079 -0.02202)"/><use href="#u20b" transform="translate(1760.7 369.06)scale(-0.079 0.00968)"/><use href="#t20b" transform="translate(1760.7 378.74)scale(0.079 0.01843)"/><path d="M1755.7 308.3h0M1760 318h0M1755.7 406.7h0"/></g>
<g stroke="#D01C33" stroke-width="1.65"><use href="#u45b" transform="translate(1799.6 371.4)scale(-0.079 -0.01187)"/><use href="#t45b" transform="translate(1799.6 359.53)scale(-0.079 -0.03311)"/><use href="#u45b" transform="translate(1799.6 371.4)scale(-0.079 0.0114)"/><use href="#t45b" transform="translate(1799.6 382.8)scale(0.079 0.0278)"/><path d="M1795.8 323.9h0M1799.7 419.2h0"/></g>
<path d="M1721.8 328.6V358.59M1721.8 380.3V409.82M1710.3 358.59H1733.3V380.3H1710.3Z" stroke="#E3D2A9" stroke-width="2.1" fill="none" stroke-linecap="butt"/>
<path d="M1710.3 369.52H1733.3" stroke="#E3D2A9" stroke-width="4.2" stroke-linecap="butt"/>
<path d="M1760.7 337.5V359.53M1760.7 378.74V397.17M1749.2 359.53H1772.2V378.74H1749.2Z" stroke="#EE8D31" stroke-width="2.1" fill="none" stroke-linecap="butt"/>
<path d="M1749.2 369.06H1772.2" stroke="#EE8D31" stroke-width="4.2" stroke-linecap="butt"/>
<path d="M1799.6 326.41V359.53M1799.6 382.8V410.6M1788.1 359.53H1811.1V382.8H1788.1Z" stroke="#D01C33" stroke-width="2.1" fill="none" stroke-linecap="butt"/>
<path d="M1788.1 371.4H1811.1" stroke="#D01C33" stroke-width="4.2" stroke-linecap="butt"/>
<path d="M1698.6 302.1V444H1822.4" stroke="#000" stroke-width="1.25" fill="none" stroke-linejoin="miter"/>
<path d="M1697.97 328.6h-4.4M1697.97 367.65h-4.4M1697.97 406.7h-4.4M1721.8 444.62v4.4M1760.7 444.62v4.4M1799.6 444.62v4.4" stroke="#222" stroke-width="1.25" stroke-linecap="butt"/>
<text fill="#000" x="1689.97" y="334" font-size="14.4" text-anchor="end">2.5</text>
<text fill="#000" x="1689.97" y="373" font-size="14.4" text-anchor="end">0.0</text>
<text fill="#000" x="1689.97" y="412" font-size="14.4" text-anchor="end">−2.5</text>
<text fill="#000" x="1722.4" y="463" font-size="14.4" text-anchor="middle">A/A</text>
<text fill="#000" x="1761.3" y="463" font-size="14.4" text-anchor="middle">A/G</text>
<text fill="#000" x="1800.2" y="463" font-size="14.4" text-anchor="middle">G/G</text>
<text fill="#000" x="1698.9" y="288" font-size="19.3">LRT p=0.58</text>
<text fill="#000" x="1761" y="485" font-size="19.3" text-anchor="middle">B.24</text>
<g stroke="#E3D2A9" stroke-width="1.65"><use href="#u500a" transform="translate(1883.9 369.52)scale(0.079 -0.01093)"/><use href="#t500b" transform="translate(1883.9 358.59)scale(0.079 -0.02999)"/><use href="#u500a" transform="translate(1883.9 369.52)scale(-0.079 0.01078)"/><use href="#t500c" transform="translate(1883.9 380.3)scale(0.079 0.02952)"/><path d="M1881.2 308.3h0M1879.2 323.1h0M1881 328h0M1885.4 328.5h0M1876.2 317.5h0M1884.7 321.7h0M1882.8 310.4h0M1889.5 323.2h0M1890.3 325.6h0M1880.9 308.8h0M1878.7 436.4h0M1880.2 411h0M1887.6 423.9h0M1876.6 419.6h0M1883.1 429.3h0M1889.8 425.4h0M1879.4 410.1h0M1889.9 414h0M1884.1 415.4h0M1888.6 435h0M1876.2 421.9h0M1886.4 420.4h0M1885.6 428.3h0M1882.5 412.3h0M1877.2 421.6h0M1889.2 414.5h0"/></g>
<g stroke="#EE8D31" stroke-width="1.65"><use href="#u30c" transform="translate(1922.8 371.4)scale(-0.079 -0.00984)"/><use href="#t30c" transform="translate(1922.8 361.56)scale(-0.079 -0.02343)"/><use href="#u30a" transform="translate(1922.8 371.4)scale(-0.079 0.00859)"/><use href="#t30a" transform="translate(1922.8 379.99)scale(-0.079 0.02624)"/><path d="M1915.9 308.3h0M1918.1 334.8h0M1920.3 334.5h0"/></g>
<g stroke="#D01C33" stroke-width="1.65"><use href="#u45a" transform="translate(1961.7 372.02)scale(0.079 -0.01172)"/><use href="#t45a" transform="translate(1961.7 360.31)scale(0.079 -0.02515)"/><use href="#u45a" transform="translate(1961.7 372.02)scale(0.079 0.01078)"/><use href="#t45a" transform="translate(1961.7 382.8)scale(0.079 0.02843)"/><path d="M1964.7 324.7h0M1960.2 331.9h0M1954.6 335.1h0M1966.9 332.9h0M1965.3 328h0M1959.3 420.8h0M1962.8 412.6h0"/></g>
<path d="M1883.9 328.6V358.59M1883.9 380.3V409.82M1872.4 358.59H1895.4V380.3H1872.4Z" stroke="#E3D2A9" stroke-width="2.1" fill="none" stroke-linecap="butt"/>
<path d="M1872.4 369.52H1895.4" stroke="#E3D2A9" stroke-width="4.2" stroke-linecap="butt"/>
<path d="M1922.8 338.13V361.56M1922.8 379.99V406.23M1911.3 361.56H1934.3V379.99H1911.3Z" stroke="#EE8D31" stroke-width="2.1" fill="none" stroke-linecap="butt"/>
<path d="M1911.3 371.4H1934.3" stroke="#EE8D31" stroke-width="4.2" stroke-linecap="butt"/>
<path d="M1961.7 335.16V360.31M1961.7 382.8V411.23M1950.2 360.31H1973.2V382.8H1950.2Z" stroke="#D01C33" stroke-width="2.1" fill="none" stroke-linecap="butt"/>
<path d="M1950.2 372.02H1973.2" stroke="#D01C33" stroke-width="4.2" stroke-linecap="butt"/>
<path d="M1860.7 302.1V444H1984.5" stroke="#000" stroke-width="1.25" fill="none" stroke-linejoin="miter"/>
<path d="M1860.08 328.6h-4.4M1860.08 367.65h-4.4M1860.08 406.7h-4.4M1883.9 444.62v4.4M1922.8 444.62v4.4M1961.7 444.62v4.4" stroke="#222" stroke-width="1.25" stroke-linecap="butt"/>
<text fill="#000" x="1852.08" y="334" font-size="14.4" text-anchor="end">2.5</text>
<text fill="#000" x="1852.08" y="373" font-size="14.4" text-anchor="end">0.0</text>
<text fill="#000" x="1852.08" y="412" font-size="14.4" text-anchor="end">−2.5</text>
<text fill="#000" x="1884.5" y="463" font-size="14.4" text-anchor="middle">A/A</text>
<text fill="#000" x="1923.4" y="463" font-size="14.4" text-anchor="middle">A/G</text>
<text fill="#000" x="1962.3" y="463" font-size="14.4" text-anchor="middle">G/G</text>
<text fill="#000" x="1861" y="288" font-size="19.3">LRT p=0.00258</text>
<text fill="#000" x="1923.1" y="485" font-size="19.3" text-anchor="middle">B.25</text>
<g stroke="#E3D2A9" stroke-width="1.65"><use href="#u220c" transform="translate(2045.9 367.95)scale(-0.079 -0.01179)"/><use href="#t220c" transform="translate(2045.9 356.16)scale(0.079 -0.03246)"/><use href="#u220a" transform="translate(2045.9 367.95)scale(-0.079 0.01147)"/><use href="#t220c" transform="translate(2045.9 379.41)scale(-0.079 0.03472)"/><path d="M2053 316.3h0M2050.7 319.9h0M2050.6 437.9h0M2053.7 414.1h0M2053.5 426.3h0M2038.9 417.9h0M2049 431.9h0"/></g>
<g stroke="#EE8D31" stroke-width="1.65"><use href="#u30b" transform="translate(2084.8 367.3)scale(0.079 -0.01001)"/><use href="#t30b" transform="translate(2084.8 357.29)scale(0.079 -0.02697)"/><use href="#u30c" transform="translate(2084.8 367.3)scale(-0.079 0.00937)"/><use href="#t30b" transform="translate(2084.8 376.67)scale(-0.079 0.02762)"/><path d="M2089 321.3h0M2091.3 327.6h0M2080.9 328.2h0"/></g>
<g stroke="#D01C33" stroke-width="1.65"><use href="#u220b" transform="translate(2123.7 372.31)scale(-0.079 -0.01147)"/><use href="#t220b" transform="translate(2123.7 360.84)scale(-0.079 -0.02875)"/><use href="#u220b" transform="translate(2123.7 372.31)scale(0.079 0.0105)"/><use href="#t220c" transform="translate(2123.7 382.8)scale(0.079 0.02745)"/><path d="M2129 307.5h0M2127 323.9h0M2123.9 328.3h0M2123.8 325.7h0M2123.5 332.1h0M2130.9 332h0M2128.6 323.3h0M2120.7 320.6h0M2123.9 425.4h0M2123.5 420.5h0M2128.8 412.7h0M2119.7 419.9h0M2128.2 420.8h0"/></g>
<path d="M2045.9 323.69V356.16M2045.9 379.41V414.13M2034.4 356.16H2057.4V379.41H2034.4Z" stroke="#E3D2A9" stroke-width="2.1" fill="none" stroke-linecap="butt"/>
<path d="M2034.4 367.95H2057.4" stroke="#E3D2A9" stroke-width="4.2" stroke-linecap="butt"/>
<path d="M2084.8 330.32V357.29M2084.8 376.67V404.28M2073.3 357.29H2096.3V376.67H2073.3Z" stroke="#EE8D31" stroke-width="2.1" fill="none" stroke-linecap="butt"/>
<path d="M2073.3 367.3H2096.3" stroke="#EE8D31" stroke-width="4.2" stroke-linecap="butt"/>
<path d="M2123.7 332.09V360.84M2123.7 382.8V410.26M2112.2 360.84H2135.2V382.8H2112.2Z" stroke="#D01C33" stroke-width="2.1" fill="none" stroke-linecap="butt"/>
<path d="M2112.2 372.31H2135.2" stroke="#D01C33" stroke-width="4.2" stroke-linecap="butt"/>
<path d="M2022.7 302.1V444H2146.5" stroke="#000" stroke-width="1.25" fill="none" stroke-linejoin="miter"/>
<path d="M2022.08 302.7h-4.4M2022.08 335h-4.4M2022.08 367.3h-4.4M2022.08 399.6h-4.4M2022.08 431.9h-4.4M2045.9 444.62v4.4M2084.8 444.62v4.4M2123.7 444.62v4.4" stroke="#222" stroke-width="1.25" stroke-linecap="butt"/>
<text fill="#000" x="2014.08" y="308" font-size="14.4" text-anchor="end">4</text>
<text fill="#000" x="2014.08" y="340" font-size="14.4" text-anchor="end">2</text>
<text fill="#000" x="2014.08" y="373" font-size="14.4" text-anchor="end">0</text>
<text fill="#000" x="2014.08" y="405" font-size="14.4" text-anchor="end">−2</text>
<text fill="#000" x="2014.08" y="437" font-size="14.4" text-anchor="end">−4</text>
<text fill="#000" x="2046.5" y="463" font-size="14.4" text-anchor="middle">A/A</text>
<text fill="#000" x="2085.4" y="463" font-size="14.4" text-anchor="middle">A/G</text>
<text fill="#000" x="2124.3" y="463" font-size="14.4" text-anchor="middle">G/G</text>
<text fill="#000" x="2023" y="288" font-size="19.3">LRT p=7.02e−14</text>
<text fill="#000" x="2085.1" y="485" font-size="19.3" text-anchor="middle">B.29</text>
<text fill="#000" x="3" y="548" font-size="42" class="L">d</text>
<text fill="#000" x="41" y="766" font-size="19.65" text-anchor="middle" transform="rotate(-90 41 766)">ADT − CD72</text>
<g stroke="#E3D2A9" stroke-width="1.65"><use href="#u220a" transform="translate(101.3 657.48)scale(0.087 -0.01503)"/><use href="#m330b" transform="translate(101.3 642.45)scale(-0.087 -0.04199)"/><use href="#u220c" transform="translate(101.3 657.48)scale(0.087 0.01591)"/><use href="#m330b" transform="translate(101.3 673.39)scale(0.087 0.03978)"/><path d="M99.1 581.5h0M103.4 582.9h0M94.6 598.6h0M105.7 600.3h0M104.7 600.5h0M96.1 600.3h0M94.2 590.3h0M102.5 600.2h0M95 599.7h0M100.7 600.2h0M108.4 715.4h0M110 713.4h0"/></g>
<g stroke="#EE8D31" stroke-width="1.65"><path d="M146.4 658.2h0M145 655h0M147.6 651.9h0M152.7 647.9h0M138 646.7h0M137.9 642.9h0M146.6 640.7h0M152.8 638.1h0M142.2 635.8h0M143.6 632h0M136.6 628.9h0M149.2 618.7h0M143.6 662.1h0M138.2 663.2h0M148.3 670.1h0M137.3 670.7h0M146.4 676.1h0M145.5 678.8h0M150.7 683.7h0M139.5 684.2h0M145.1 686.7h0M153.1 687h0M149.4 689h0M136.6 696.9h0"/></g>
<g stroke="#D01C33" stroke-width="1.65"><use href="#u45b" transform="translate(187.4 658.58)scale(-0.087 -0.01149)"/><use href="#t45b" transform="translate(187.4 647.09)scale(-0.087 -0.04089)"/><use href="#u45a" transform="translate(187.4 658.58)scale(-0.087 0.0168)"/><use href="#t45a" transform="translate(187.4 675.38)scale(0.087 0.03227)"/></g>
<path d="M101.3 600.46V642.45M101.3 673.39V713.17M88.35 642.45H114.25V673.39H88.35Z" stroke="#E3D2A9" stroke-width="2.1" fill="none" stroke-linecap="butt"/>
<path d="M88.35 657.48H114.25" stroke="#E3D2A9" stroke-width="4.2" stroke-linecap="butt"/>
<path d="M144.5 611.29V641.12M144.5 682.67V700.35M131.55 641.12H157.45V682.67H131.55Z" stroke="#EE8D31" stroke-width="2.1" fill="none" stroke-linecap="butt"/>
<path d="M131.55 658.8H157.45" stroke="#EE8D31" stroke-width="4.2" stroke-linecap="butt"/>
<path d="M187.4 606.21V647.09M187.4 675.38V707.65M174.45 647.09H200.35V675.38H174.45Z" stroke="#D01C33" stroke-width="2.1" fill="none" stroke-linecap="butt"/>
<path d="M174.45 658.58H200.35" stroke="#D01C33" stroke-width="4.2" stroke-linecap="butt"/>
<path d="M75.4 576.4V720.2H212.6" stroke="#000" stroke-width="1.25" fill="none" stroke-linejoin="miter"/>
<path d="M74.78 609.3h-4.4M74.78 653.5h-4.4M74.78 697.7h-4.4M101.3 720.83v4.4M144.5 720.83v4.4M187.4 720.83v4.4" stroke="#222" stroke-width="1.25" stroke-linecap="butt"/>
<text fill="#000" x="66.78" y="615" font-size="14.4" text-anchor="end">2</text>
<text fill="#000" x="66.78" y="659" font-size="14.4" text-anchor="end">0</text>
<text fill="#000" x="66.78" y="703" font-size="14.4" text-anchor="end">−2</text>
<text fill="#000" x="101.9" y="739" font-size="14.4" text-anchor="middle">A/A</text>
<text fill="#000" x="145.1" y="739" font-size="14.4" text-anchor="middle">A/G</text>
<text fill="#000" x="188" y="739" font-size="14.4" text-anchor="middle">G/G</text>
<text fill="#000" x="75.7" y="562" font-size="19.65">LRT p=0.0869</text>
<text fill="#000" x="144.5" y="761" font-size="19.3" text-anchor="middle">A.14</text>
<g stroke="#E3D2A9" stroke-width="1.65"><use href="#u220c" transform="translate(264.5 656.93)scale(-0.087 -0.01486)"/><use href="#m330a" transform="translate(264.5 642.08)scale(-0.087 -0.04152)"/><use href="#u220a" transform="translate(264.5 656.93)scale(-0.087 0.01573)"/><use href="#m330c" transform="translate(264.5 672.66)scale(0.087 0.03933)"/><path d="M271.1 581.8h0M264 594.6h0M273 599.2h0M262.8 600.4h0M266 587.5h0M265.8 598.1h0M269.1 585.7h0M259.7 591h0M263.8 599.2h0M265.8 594.8h0M259.3 714.2h0M263.5 712.7h0"/></g>
<g stroke="#EE8D31" stroke-width="1.65"><path d="M305.1 658.7h0M307.5 654.2h0M302.5 665.8h0M315.6 677.1h0"/></g>
<g stroke="#D01C33" stroke-width="1.65"><path d="M346.5 652.2h0M349 649.9h0M356 646.8h0M359.2 645.3h0M352.5 641.8h0M356.6 641h0M353.8 638.6h0M346.1 637.5h0M357.9 634h0M349.4 633.1h0M351.4 629.1h0M347.9 619h0M342.7 653.8h0M347.2 654.9h0M347.7 657.3h0M352.6 658h0M344.2 660.9h0M354.3 663.1h0M354.9 664.2h0M354.8 665.5h0M356.1 667.6h0M343.8 670h0M349.3 671.3h0M346.2 677.8h0"/></g>
<path d="M264.5 600.56V642.08M264.5 672.66V712M251.55 642.08H277.45V672.66H251.55Z" stroke="#E3D2A9" stroke-width="2.1" fill="none" stroke-linecap="butt"/>
<path d="M251.55 656.93H277.45" stroke="#E3D2A9" stroke-width="4.2" stroke-linecap="butt"/>
<path d="M307.7 647.76V654.97M307.7 671.57V679.66M294.75 654.97H320.65V671.57H294.75Z" stroke="#EE8D31" stroke-width="2.1" fill="none" stroke-linecap="butt"/>
<path d="M294.75 663.05H320.65" stroke="#EE8D31" stroke-width="4.2" stroke-linecap="butt"/>
<path d="M350.6 617.17V639.02M350.6 663.27V685.34M337.65 639.02H363.55V663.27H337.65Z" stroke="#D01C33" stroke-width="2.1" fill="none" stroke-linecap="butt"/>
<path d="M337.65 652.34H363.55" stroke="#D01C33" stroke-width="4.2" stroke-linecap="butt"/>
<path d="M238.6 576.4V720.2H375.8" stroke="#000" stroke-width="1.25" fill="none" stroke-linejoin="miter"/>
<path d="M237.97 609.3h-4.4M237.97 653h-4.4M237.97 696.7h-4.4M264.5 720.83v4.4M307.7 720.83v4.4M350.6 720.83v4.4" stroke="#222" stroke-width="1.25" stroke-linecap="butt"/>
<text fill="#000" x="229.97" y="615" font-size="14.4" text-anchor="end">2</text>
<text fill="#000" x="229.97" y="658" font-size="14.4" text-anchor="end">0</text>
<text fill="#000" x="229.97" y="702" font-size="14.4" text-anchor="end">−2</text>
<text fill="#000" x="265.1" y="739" font-size="14.4" text-anchor="middle">A/A</text>
<text fill="#000" x="308.3" y="739" font-size="14.4" text-anchor="middle">A/G</text>
<text fill="#000" x="351.2" y="739" font-size="14.4" text-anchor="middle">G/G</text>
<text fill="#000" x="238.9" y="562" font-size="19.65">LRT p=0.335</text>
<text fill="#000" x="307.7" y="761" font-size="19.3" text-anchor="middle">A.35</text>
<g stroke="#E3D2A9" stroke-width="1.65"><use href="#u220a" transform="translate(427.6 657.15)scale(0.087 -0.01493)"/><use href="#m330c" transform="translate(427.6 642.23)scale(0.087 -0.04171)"/><use href="#u220c" transform="translate(427.6 657.15)scale(0.087 0.0158)"/><use href="#m330c" transform="translate(427.6 672.96)scale(0.087 0.03951)"/><path d="M435.3 581.6h0M428.4 597.9h0M433.5 594.6h0M427.2 599.9h0M431.9 589.4h0M431 600.3h0M420.9 596.6h0M429.3 598.8h0M430.6 585.8h0M433.6 598.1h0M431.1 714.7h0M431.1 712.6h0"/></g>
<g stroke="#EE8D31" stroke-width="1.65"><path d="M477.6 608.6h0M468.7 664.1h0M472 659.6h0M462.4 654.3h0M472.1 651.2h0M477.3 647.2h0M475.2 642.5h0M473.5 666.4h0M477.8 668h0M462.5 670h0M466.4 674.7h0M475.6 678.1h0M474.2 685.8h0"/></g>
<g stroke="#D01C33" stroke-width="1.65"><use href="#u30a" transform="translate(513.7 655.83)scale(0.087 -0.01098)"/><use href="#t30a" transform="translate(513.7 644.86)scale(-0.087 -0.03863)"/><use href="#u30c" transform="translate(513.7 655.83)scale(-0.087 0.01624)"/><use href="#t30b" transform="translate(513.7 672.08)scale(0.087 0.03468)"/><path d="M516.9 713.6h0"/></g>
<path d="M427.6 600.52V642.23M427.6 672.96V712.47M414.65 642.23H440.55V672.96H414.65Z" stroke="#E3D2A9" stroke-width="2.1" fill="none" stroke-linecap="butt"/>
<path d="M414.65 657.15H440.55" stroke="#E3D2A9" stroke-width="4.2" stroke-linecap="butt"/>
<path d="M470.8 635.2V651.22M470.8 672.08V697.76M457.85 651.22H483.75V672.08H457.85Z" stroke="#EE8D31" stroke-width="2.1" fill="none" stroke-linecap="butt"/>
<path d="M457.85 665.49H483.75" stroke="#EE8D31" stroke-width="4.2" stroke-linecap="butt"/>
<path d="M513.7 606.23V644.86M513.7 672.08V706.76M500.75 644.86H526.65V672.08H500.75Z" stroke="#D01C33" stroke-width="2.1" fill="none" stroke-linecap="butt"/>
<path d="M500.75 655.83H526.65" stroke="#D01C33" stroke-width="4.2" stroke-linecap="butt"/>
<path d="M401.7 576.4V720.2H538.9" stroke="#000" stroke-width="1.25" fill="none" stroke-linejoin="miter"/>
<path d="M401.07 609.3h-4.4M401.07 653.2h-4.4M401.07 697.1h-4.4M427.6 720.83v4.4M470.8 720.83v4.4M513.7 720.83v4.4" stroke="#222" stroke-width="1.25" stroke-linecap="butt"/>
<text fill="#000" x="393.07" y="615" font-size="14.4" text-anchor="end">2</text>
<text fill="#000" x="393.07" y="659" font-size="14.4" text-anchor="end">0</text>
<text fill="#000" x="393.07" y="703" font-size="14.4" text-anchor="end">−2</text>
<text fill="#000" x="428.2" y="739" font-size="14.4" text-anchor="middle">A/A</text>
<text fill="#000" x="471.4" y="739" font-size="14.4" text-anchor="middle">A/G</text>
<text fill="#000" x="514.3" y="739" font-size="14.4" text-anchor="middle">G/G</text>
<text fill="#000" x="402" y="562" font-size="19.65">LRT p=0.934</text>
<text fill="#000" x="470.8" y="761" font-size="19.3" text-anchor="middle">A.36</text>
<g stroke="#E3D2A9" stroke-width="1.65"><use href="#u220c" transform="translate(590.7 656.77)scale(-0.087 -0.01481)"/><use href="#m330c" transform="translate(590.7 641.96)scale(-0.087 -0.04137)"/><use href="#u220b" transform="translate(590.7 656.77)scale(0.087 0.01568)"/><use href="#m330a" transform="translate(590.7 672.45)scale(0.087 0.0392)"/><path d="M584.9 581.9h0M597.9 598.9h0M588.3 583h0M595 600.6h0M598.1 591.7h0M595.7 595.3h0M595 600h0M591.1 594.7h0M592.4 589.1h0M598.8 595.9h0M594.5 713.8h0M592.2 711.7h0"/></g>
<g stroke="#EE8D31" stroke-width="1.65"><path d="M638 656.6h0M632.9 654.4h0M630.6 652.1h0M637.4 649.6h0M639.9 645.4h0M637.8 639.8h0M634.6 659.9h0M635.6 662.7h0M635.9 664h0M641.8 666.7h0M638.5 669.3h0M634.1 677h0"/></g>
<g stroke="#D01C33" stroke-width="1.65"><use href="#u30b" transform="translate(676.8 656.12)scale(-0.087 -0.01045)"/><use href="#t30b" transform="translate(676.8 645.66)scale(0.087 -0.03201)"/><use href="#u30a" transform="translate(676.8 656.12)scale(-0.087 0.01502)"/><use href="#t30a" transform="translate(676.8 671.14)scale(-0.087 0.03549)"/><path d="M682.5 606h0M683.5 713.4h0"/></g>
<path d="M590.7 600.59V641.96M590.7 672.45V711.64M577.75 641.96H603.65V672.45H577.75Z" stroke="#E3D2A9" stroke-width="2.1" fill="none" stroke-linecap="butt"/>
<path d="M577.75 656.77H603.65" stroke="#E3D2A9" stroke-width="4.2" stroke-linecap="butt"/>
<path d="M633.9 630.64V649.8M633.9 666.13V680.94M620.95 649.8H646.85V666.13H620.95Z" stroke="#EE8D31" stroke-width="2.1" fill="none" stroke-linecap="butt"/>
<path d="M620.95 658.51H646.85" stroke="#EE8D31" stroke-width="4.2" stroke-linecap="butt"/>
<path d="M676.8 613.65V645.66M676.8 671.14V706.63M663.85 645.66H689.75V671.14H663.85Z" stroke="#D01C33" stroke-width="2.1" fill="none" stroke-linecap="butt"/>
<path d="M663.85 656.12H689.75" stroke="#D01C33" stroke-width="4.2" stroke-linecap="butt"/>
<path d="M564.8 576.4V720.2H702" stroke="#000" stroke-width="1.25" fill="none" stroke-linejoin="miter"/>
<path d="M564.17 609.3h-4.4M564.17 652.85h-4.4M564.17 696.4h-4.4M590.7 720.83v4.4M633.9 720.83v4.4M676.8 720.83v4.4" stroke="#222" stroke-width="1.25" stroke-linecap="butt"/>
<text fill="#000" x="556.17" y="615" font-size="14.4" text-anchor="end">2</text>
<text fill="#000" x="556.17" y="658" font-size="14.4" text-anchor="end">0</text>
<text fill="#000" x="556.17" y="702" font-size="14.4" text-anchor="end">−2</text>
<text fill="#000" x="591.3" y="739" font-size="14.4" text-anchor="middle">A/A</text>
<text fill="#000" x="634.5" y="739" font-size="14.4" text-anchor="middle">A/G</text>
<text fill="#000" x="677.4" y="739" font-size="14.4" text-anchor="middle">G/G</text>
<text fill="#000" x="565.1" y="562" font-size="19.65">LRT p=0.529</text>
<text fill="#000" x="633.9" y="761" font-size="19.3" text-anchor="middle">A.38</text>
<g stroke="#E3D2A9" stroke-width="1.65"><use href="#u220b" transform="translate(101.3 907.66)scale(-0.087 -0.01496)"/><use href="#m330a" transform="translate(101.3 892.7)scale(-0.087 -0.0418)"/><use href="#u220c" transform="translate(101.3 907.66)scale(0.087 0.01584)"/><use href="#m330c" transform="translate(101.3 923.5)scale(-0.087 0.0396)"/><path d="M94.8 832h0M94.6 846.6h0M94.7 850.8h0M101.3 850.4h0M93.5 839.3h0M105.8 846.3h0M98.5 850.8h0M94.2 844.4h0M103.2 840.2h0M95.3 849.2h0M101.8 965.3h0M99.2 965.2h0"/></g>
<g stroke="#EE8D31" stroke-width="1.65"><path d="M143.7 910.8h0M146.4 910h0M137.3 906.9h0M146.9 904.5h0M139.6 902.6h0M146.3 901.5h0M148.6 898.7h0M147.2 895.6h0M137.1 894.8h0M142.2 891.2h0M139.6 889.5h0M150.2 888.6h0M147.7 887.1h0M143.6 885.9h0M140.5 883.6h0M148.7 881.2h0M136.4 880.4h0M143.4 877.7h0M149 873.5h0M152 864.1h0M141.1 913.7h0M142.5 913.8h0M143.9 914.6h0M141.2 915.8h0M153.2 916.5h0M139.7 917.3h0M144.4 918.6h0M140 919.2h0M145.1 920.2h0M145.9 921.1h0M150.9 922.6h0M142.9 923.1h0M149.7 924.8h0M139.2 925.3h0M144.8 926.8h0M140.5 928.6h0M147.8 931h0M145.7 932.3h0M142.5 936.5h0M148.1 939.4h0"/></g>
<g stroke="#D01C33" stroke-width="1.65"><use href="#u20b" transform="translate(187.4 907)scale(-0.087 -0.01452)"/><use href="#t20b" transform="translate(187.4 892.48)scale(0.087 -0.03982)"/><use href="#u20c" transform="translate(187.4 907)scale(0.087 0.0209)"/><use href="#t20b" transform="translate(187.4 927.9)scale(0.087 0.02574)"/></g>
<path d="M101.3 850.9V892.7M101.3 923.5V963.1M88.35 892.7H114.25V923.5H88.35Z" stroke="#E3D2A9" stroke-width="2.1" fill="none" stroke-linecap="butt"/>
<path d="M88.35 907.66H114.25" stroke="#E3D2A9" stroke-width="4.2" stroke-linecap="butt"/>
<path d="M144.5 857.72V890.06M144.5 921.52V949.46M131.55 890.06H157.45V921.52H131.55Z" stroke="#EE8D31" stroke-width="2.1" fill="none" stroke-linecap="butt"/>
<path d="M131.55 912.94H157.45" stroke="#EE8D31" stroke-width="4.2" stroke-linecap="butt"/>
<path d="M187.4 852.66V892.48M187.4 927.9V953.64M174.45 892.48H200.35V927.9H174.45Z" stroke="#D01C33" stroke-width="2.1" fill="none" stroke-linecap="butt"/>
<path d="M174.45 907H200.35" stroke="#D01C33" stroke-width="4.2" stroke-linecap="butt"/>
<path d="M75.4 826.4V970.8H212.6" stroke="#000" stroke-width="1.25" fill="none" stroke-linejoin="miter"/>
<path d="M74.78 859.7h-4.4M74.78 903.7h-4.4M74.78 947.7h-4.4M101.3 971.42v4.4M144.5 971.42v4.4M187.4 971.42v4.4" stroke="#222" stroke-width="1.25" stroke-linecap="butt"/>
<text fill="#000" x="66.78" y="865" font-size="14.4" text-anchor="end">2</text>
<text fill="#000" x="66.78" y="909" font-size="14.4" text-anchor="end">0</text>
<text fill="#000" x="66.78" y="953" font-size="14.4" text-anchor="end">−2</text>
<text fill="#000" x="101.9" y="989" font-size="14.4" text-anchor="middle">A/A</text>
<text fill="#000" x="145.1" y="989" font-size="14.4" text-anchor="middle">A/G</text>
<text fill="#000" x="188" y="989" font-size="14.4" text-anchor="middle">G/G</text>
<text fill="#000" x="75.7" y="812" font-size="19.65">LRT p=0.685</text>
<text fill="#000" x="144.5" y="1011" font-size="19.3" text-anchor="middle">B.15</text>
<g stroke="#E3D2A9" stroke-width="1.65"><use href="#u220b" transform="translate(264.5 908.84)scale(0.087 -0.01452)"/><use href="#m330a" transform="translate(264.5 894.33)scale(0.087 -0.04057)"/><use href="#u220c" transform="translate(264.5 908.84)scale(-0.087 0.01537)"/><use href="#m330b" transform="translate(264.5 924.22)scale(-0.087 0.03843)"/><path d="M270.5 835.4h0M269.2 853.7h0M270.3 840.9h0M265.9 848.1h0M259.2 845.2h0M264.8 846.4h0M259.2 853.1h0M256.7 846.9h0M272.7 853h0M271.4 852.2h0M256.8 964.8h0M271.9 963.5h0"/></g>
<g stroke="#EE8D31" stroke-width="1.65"><use href="#u20c" transform="translate(307.7 915.67)scale(0.087 -0.01409)"/><use href="#t20b" transform="translate(307.7 901.58)scale(0.087 -0.03181)"/><use href="#u20c" transform="translate(307.7 915.67)scale(0.087 0.01025)"/><use href="#t20a" transform="translate(307.7 925.92)scale(-0.087 0.02092)"/><path d="M304.8 860.2h0"/></g>
<g stroke="#D01C33" stroke-width="1.65"><use href="#u45c" transform="translate(350.6 912.26)scale(-0.087 -0.01623)"/><use href="#t45a" transform="translate(350.6 896.03)scale(-0.087 -0.03373)"/><use href="#u45a" transform="translate(350.6 912.26)scale(0.087 0.01409)"/><use href="#t45c" transform="translate(350.6 926.35)scale(-0.087 0.03138)"/><path d="M358.2 842h0M342.2 853.5h0M353.9 846.6h0"/></g>
<path d="M264.5 853.76V894.33M264.5 924.22V962.65M251.55 894.33H277.45V924.22H251.55Z" stroke="#E3D2A9" stroke-width="2.1" fill="none" stroke-linecap="butt"/>
<path d="M251.55 908.84H277.45" stroke="#E3D2A9" stroke-width="4.2" stroke-linecap="butt"/>
<path d="M307.7 869.77V901.58M307.7 925.92V946.85M294.75 901.58H320.65V925.92H294.75Z" stroke="#EE8D31" stroke-width="2.1" fill="none" stroke-linecap="butt"/>
<path d="M294.75 915.67H320.65" stroke="#EE8D31" stroke-width="4.2" stroke-linecap="butt"/>
<path d="M350.6 862.3V896.03M350.6 926.35V957.73M337.65 896.03H363.55V926.35H337.65Z" stroke="#D01C33" stroke-width="2.1" fill="none" stroke-linecap="butt"/>
<path d="M337.65 912.26H363.55" stroke="#D01C33" stroke-width="4.2" stroke-linecap="butt"/>
<path d="M238.6 826.4V970.8H375.8" stroke="#000" stroke-width="1.25" fill="none" stroke-linejoin="miter"/>
<path d="M237.97 862.3h-4.4M237.97 905h-4.4M237.97 947.7h-4.4M264.5 971.42v4.4M307.7 971.42v4.4M350.6 971.42v4.4" stroke="#222" stroke-width="1.25" stroke-linecap="butt"/>
<text fill="#000" x="229.97" y="868" font-size="14.4" text-anchor="end">2</text>
<text fill="#000" x="229.97" y="910" font-size="14.4" text-anchor="end">0</text>
<text fill="#000" x="229.97" y="953" font-size="14.4" text-anchor="end">−2</text>
<text fill="#000" x="265.1" y="989" font-size="14.4" text-anchor="middle">A/A</text>
<text fill="#000" x="308.3" y="989" font-size="14.4" text-anchor="middle">A/G</text>
<text fill="#000" x="351.2" y="989" font-size="14.4" text-anchor="middle">G/G</text>
<text fill="#000" x="238.9" y="812" font-size="19.65">LRT p=0.0413</text>
<text fill="#000" x="307.7" y="1011" font-size="19.3" text-anchor="middle">B.24</text>
<g stroke="#E3D2A9" stroke-width="1.65"><use href="#u220b" transform="translate(427.6 907.01)scale(-0.087 -0.01498)"/><use href="#m330a" transform="translate(427.6 892.04)scale(-0.087 -0.04185)"/><use href="#u220c" transform="translate(427.6 907.01)scale(0.087 0.01586)"/><use href="#m330b" transform="translate(427.6 922.87)scale(0.087 0.03964)"/><path d="M434.8 831.2h0M423.1 841.9h0M427.8 831.3h0M426.4 848.8h0M419.8 839.3h0M435.7 834.7h0M419.3 836.5h0M430.3 832.3h0M434.1 850.1h0M421.8 832.3h0M422.2 964.7h0M424.3 963.2h0"/></g>
<g stroke="#EE8D31" stroke-width="1.65"><use href="#u30a" transform="translate(470.8 911.64)scale(-0.087 -0.01652)"/><use href="#t30a" transform="translate(470.8 895.12)scale(0.087 -0.03106)"/><use href="#u30b" transform="translate(470.8 911.64)scale(-0.087 0.01277)"/><use href="#t30a" transform="translate(470.8 924.41)scale(0.087 0.03084)"/><path d="M476.3 832.6h0M479.2 864h0"/></g>
<g stroke="#D01C33" stroke-width="1.65"><use href="#u45c" transform="translate(513.7 909.44)scale(0.087 -0.01674)"/><use href="#t45c" transform="translate(513.7 892.7)scale(0.087 -0.0337)"/><use href="#u45b" transform="translate(513.7 909.44)scale(0.087 0.01498)"/><use href="#t45a" transform="translate(513.7 924.41)scale(0.087 0.03106)"/><path d="M508.9 837h0M515.1 852.6h0M510.9 858.1h0"/></g>
<path d="M427.6 850.19V892.04M427.6 922.87V962.52M414.65 892.04H440.55V922.87H414.65Z" stroke="#E3D2A9" stroke-width="2.1" fill="none" stroke-linecap="butt"/>
<path d="M414.65 907.01H440.55" stroke="#E3D2A9" stroke-width="4.2" stroke-linecap="butt"/>
<path d="M470.8 864.07V895.12M470.8 924.41V955.25M457.85 895.12H483.75V924.41H457.85Z" stroke="#EE8D31" stroke-width="2.1" fill="none" stroke-linecap="butt"/>
<path d="M457.85 911.64H483.75" stroke="#EE8D31" stroke-width="4.2" stroke-linecap="butt"/>
<path d="M513.7 859V892.7M513.7 924.41V955.47M500.75 892.7H526.65V924.41H500.75Z" stroke="#D01C33" stroke-width="2.1" fill="none" stroke-linecap="butt"/>
<path d="M500.75 909.44H526.65" stroke="#D01C33" stroke-width="4.2" stroke-linecap="butt"/>
<path d="M401.7 826.4V970.8H538.9" stroke="#000" stroke-width="1.25" fill="none" stroke-linejoin="miter"/>
<path d="M401.07 859h-4.4M401.07 903.05h-4.4M401.07 947.1h-4.4M427.6 971.42v4.4M470.8 971.42v4.4M513.7 971.42v4.4" stroke="#222" stroke-width="1.25" stroke-linecap="butt"/>
<text fill="#000" x="393.07" y="864" font-size="14.4" text-anchor="end">2</text>
<text fill="#000" x="393.07" y="908" font-size="14.4" text-anchor="end">0</text>
<text fill="#000" x="393.07" y="953" font-size="14.4" text-anchor="end">−2</text>
<text fill="#000" x="428.2" y="989" font-size="14.4" text-anchor="middle">A/A</text>
<text fill="#000" x="471.4" y="989" font-size="14.4" text-anchor="middle">A/G</text>
<text fill="#000" x="514.3" y="989" font-size="14.4" text-anchor="middle">G/G</text>
<text fill="#000" x="402" y="812" font-size="19.65">LRT p=0.576</text>
<text fill="#000" x="470.8" y="1011" font-size="19.3" text-anchor="middle">B.25</text>
<g stroke="#E3D2A9" stroke-width="1.65"><use href="#u100c" transform="translate(590.7 899.5)scale(0.087 -0.01385)"/><use href="#t100c" transform="translate(590.7 885.65)scale(0.087 -0.03989)"/><use href="#u100a" transform="translate(590.7 899.5)scale(-0.087 0.01338)"/><use href="#t100c" transform="translate(590.7 912.87)scale(0.087 0.03966)"/><path d="M583.2 839.9h0M592.9 843.6h0M582 963.6h0M592.4 954.1h0M597.4 954.7h0"/></g>
<g stroke="#EE8D31" stroke-width="1.65"><use href="#u30a" transform="translate(633.9 898.79)scale(-0.087 -0.01713)"/><use href="#t30a" transform="translate(633.9 881.66)scale(-0.087 -0.03614)"/><use href="#u30c" transform="translate(633.9 898.79)scale(0.087 0.0176)"/><use href="#t30b" transform="translate(633.9 916.39)scale(-0.087 0.0413)"/></g>
<g stroke="#D01C33" stroke-width="1.65"><use href="#u100c" transform="translate(676.8 911.23)scale(-0.087 -0.01643)"/><use href="#m150b" transform="translate(676.8 894.8)scale(-0.087 -0.04506)"/><use href="#u100b" transform="translate(676.8 911.23)scale(0.087 0.01643)"/><use href="#m150b" transform="translate(676.8 927.66)scale(-0.087 0.03262)"/><path d="M681.8 832.1h0M681.6 834.2h0M684.4 848.9h0M678.6 846.4h0M681.7 849.7h0M671.9 847h0"/></g>
<path d="M590.7 845.76V885.65M590.7 912.87V952.53M577.75 885.65H603.65V912.87H577.75Z" stroke="#E3D2A9" stroke-width="2.1" fill="none" stroke-linecap="butt"/>
<path d="M577.75 899.5H603.65" stroke="#E3D2A9" stroke-width="4.2" stroke-linecap="butt"/>
<path d="M633.9 845.52V881.66M633.9 916.39V957.69M620.95 881.66H646.85V916.39H620.95Z" stroke="#EE8D31" stroke-width="2.1" fill="none" stroke-linecap="butt"/>
<path d="M620.95 898.79H646.85" stroke="#EE8D31" stroke-width="4.2" stroke-linecap="butt"/>
<path d="M676.8 849.75V894.8M676.8 927.66V960.27M663.85 894.8H689.75V927.66H663.85Z" stroke="#D01C33" stroke-width="2.1" fill="none" stroke-linecap="butt"/>
<path d="M663.85 911.23H689.75" stroke="#D01C33" stroke-width="4.2" stroke-linecap="butt"/>
<path d="M564.8 826.4V970.8H702" stroke="#000" stroke-width="1.25" fill="none" stroke-linejoin="miter"/>
<path d="M564.17 829.8h-4.4M564.17 853.27h-4.4M564.17 876.73h-4.4M564.17 900.2h-4.4M564.17 923.67h-4.4M564.17 947.13h-4.4M564.17 970.6h-4.4M590.7 971.42v4.4M633.9 971.42v4.4M676.8 971.42v4.4" stroke="#222" stroke-width="1.25" stroke-linecap="butt"/>
<text fill="#000" x="556.17" y="835" font-size="14.4" text-anchor="end">3</text>
<text fill="#000" x="556.17" y="859" font-size="14.4" text-anchor="end">2</text>
<text fill="#000" x="556.17" y="882" font-size="14.4" text-anchor="end">1</text>
<text fill="#000" x="556.17" y="906" font-size="14.4" text-anchor="end">0</text>
<text fill="#000" x="556.17" y="929" font-size="14.4" text-anchor="end">−1</text>
<text fill="#000" x="556.17" y="953" font-size="14.4" text-anchor="end">−2</text>
<text fill="#000" x="556.17" y="976" font-size="14.4" text-anchor="end">−3</text>
<text fill="#000" x="591.3" y="989" font-size="14.4" text-anchor="middle">A/A</text>
<text fill="#000" x="634.5" y="989" font-size="14.4" text-anchor="middle">A/G</text>
<text fill="#000" x="677.4" y="989" font-size="14.4" text-anchor="middle">G/G</text>
<text fill="#000" x="565.1" y="812" font-size="19.65">LRT p=1.21e−13</text>
<text fill="#000" x="633.9" y="1011" font-size="19.3" text-anchor="middle">B.29</text>
<text fill="#000" x="724" y="548" font-size="42" class="L">e</text>
<text fill="#000" x="766" y="768" font-size="19.65" text-anchor="middle" transform="rotate(-90 766 768)">ADT − HLA-DR</text>
<g stroke="#E3D2A9" stroke-width="1.65"><use href="#u220c" transform="translate(826 637.02)scale(-0.087 -0.01257)"/><use href="#t220a" transform="translate(826 624.45)scale(-0.087 -0.03615)"/><use href="#u220b" transform="translate(826 637.02)scale(-0.087 0.01489)"/><use href="#t220a" transform="translate(826 651.91)scale(-0.087 0.03789)"/><path d="M818.8 581.5h0M817.9 587.7h0M830.8 714h0M824.9 702.4h0M826.7 706.6h0M833.9 693.7h0M821.7 697h0M834.1 690.8h0M831.7 699.6h0M832.1 710.1h0M820.2 695.6h0"/></g>
<g stroke="#EE8D31" stroke-width="1.65"><path d="M862.3 634.7h0M861.4 634.1h0M861.4 632h0M872.6 630.3h0M868.7 629.7h0M862.4 627.6h0M860.7 626.3h0M877.5 625.3h0M866.8 624.3h0M872 623.6h0M873.3 621.6h0M874 619.7h0M865.9 618.4h0M865.2 611.7h0M874.1 635.8h0M869.5 637.1h0M869.8 638.5h0M877.7 641h0M864.1 642.3h0M874 642.8h0M867.1 645.4h0M865.4 646.2h0M861.3 647.2h0M863.8 649.3h0M868.9 650.9h0M864.8 654.5h0M873.9 657.4h0M866.9 662.6h0"/></g>
<g stroke="#D01C33" stroke-width="1.65"><use href="#u45b" transform="translate(912.4 638.37)scale(0.087 -0.01392)"/><use href="#t45b" transform="translate(912.4 624.45)scale(0.087 -0.02165)"/><use href="#u45a" transform="translate(912.4 638.37)scale(0.087 0.01721)"/><use href="#t45c" transform="translate(912.4 655.58)scale(0.087 0.04524)"/></g>
<path d="M826 588.3V624.45M826 651.91V689.8M813.05 624.45H838.95V651.91H813.05Z" stroke="#E3D2A9" stroke-width="2.1" fill="none" stroke-linecap="butt"/>
<path d="M813.05 637.02H838.95" stroke="#E3D2A9" stroke-width="4.2" stroke-linecap="butt"/>
<path d="M869.2 609.37V625.61M869.2 645.72V670.85M856.25 625.61H882.15V645.72H856.25Z" stroke="#EE8D31" stroke-width="2.1" fill="none" stroke-linecap="butt"/>
<path d="M856.25 635.67H882.15" stroke="#EE8D31" stroke-width="4.2" stroke-linecap="butt"/>
<path d="M912.4 602.8V624.45M912.4 655.58V700.82M899.45 624.45H925.35V655.58H899.45Z" stroke="#D01C33" stroke-width="2.1" fill="none" stroke-linecap="butt"/>
<path d="M899.45 638.37H925.35" stroke="#D01C33" stroke-width="4.2" stroke-linecap="butt"/>
<path d="M800.1 575.8V720H937.8" stroke="#000" stroke-width="1.25" fill="none" stroke-linejoin="miter"/>
<path d="M799.48 597h-4.4M799.48 635.67h-4.4M799.48 674.33h-4.4M799.48 713h-4.4M826 720.62v4.4M869.2 720.62v4.4M912.4 720.62v4.4" stroke="#222" stroke-width="1.25" stroke-linecap="butt"/>
<text fill="#000" x="791.48" y="602" font-size="14.4" text-anchor="end">2</text>
<text fill="#000" x="791.48" y="641" font-size="14.4" text-anchor="end">0</text>
<text fill="#000" x="791.48" y="680" font-size="14.4" text-anchor="end">−2</text>
<text fill="#000" x="791.48" y="718" font-size="14.4" text-anchor="end">−4</text>
<text fill="#000" x="826.6" y="739" font-size="14.4" text-anchor="middle">A/A</text>
<text fill="#000" x="869.8" y="739" font-size="14.4" text-anchor="middle">A/G</text>
<text fill="#000" x="913" y="739" font-size="14.4" text-anchor="middle">G/G</text>
<text fill="#000" x="800.4" y="562" font-size="19.65">LRT p=0.0243</text>
<text fill="#000" x="869.45" y="762" font-size="19.3" text-anchor="middle">A.14</text>
<g stroke="#E3D2A9" stroke-width="1.65"><use href="#u220c" transform="translate(989.4 636.63)scale(0.087 -0.01263)"/><use href="#t220c" transform="translate(989.4 624)scale(-0.087 -0.03634)"/><use href="#u220c" transform="translate(989.4 636.63)scale(-0.087 0.01496)"/><use href="#t220a" transform="translate(989.4 651.59)scale(-0.087 0.03809)"/><path d="M986 580.9h0M996.7 587.6h0M990.8 714h0M992.8 689.7h0M983.1 699h0M990.6 698.9h0M989.2 690.7h0M995.3 694.9h0M997.5 697h0M987.7 705.9h0M981.7 702.1h0"/></g>
<g stroke="#EE8D31" stroke-width="1.65"><path d="M1032.8 659.2h0M1026.2 653.5h0M1036.8 662.6h0M1033.7 667.8h0"/></g>
<g stroke="#D01C33" stroke-width="1.65"><path d="M1076.9 635.3h0M1075.8 632.4h0M1079.2 626.8h0M1081.4 623.9h0M1068.1 619.8h0M1070.5 617.8h0M1078.4 614.9h0M1069.9 613.1h0M1081.1 641.1h0M1074 643h0M1076.6 644.6h0M1074.4 645.8h0M1078.6 648.4h0M1081.3 649.8h0M1080.3 654.3h0M1077.3 657.6h0"/></g>
<path d="M989.4 587.65V624M989.4 651.59V689.68M976.45 624H1002.35V651.59H976.45Z" stroke="#E3D2A9" stroke-width="2.1" fill="none" stroke-linecap="butt"/>
<path d="M976.45 636.63H1002.35" stroke="#E3D2A9" stroke-width="4.2" stroke-linecap="butt"/>
<path d="M1032.6 651.98V656.25M1032.6 667.53V672M1019.65 656.25H1045.55V667.53H1019.65Z" stroke="#EE8D31" stroke-width="2.1" fill="none" stroke-linecap="butt"/>
<path d="M1019.65 661.89H1045.55" stroke="#EE8D31" stroke-width="4.2" stroke-linecap="butt"/>
<path d="M1075.8 604.17V620.89M1075.8 647.9V664.61M1062.85 620.89H1088.75V647.9H1062.85Z" stroke="#D01C33" stroke-width="2.1" fill="none" stroke-linecap="butt"/>
<path d="M1062.85 639.54H1088.75" stroke="#D01C33" stroke-width="4.2" stroke-linecap="butt"/>
<path d="M963.5 575.8V720H1101.2" stroke="#000" stroke-width="1.25" fill="none" stroke-linejoin="miter"/>
<path d="M962.88 596.4h-4.4M962.88 635.27h-4.4M962.88 674.13h-4.4M962.88 713h-4.4M989.4 720.62v4.4M1032.6 720.62v4.4M1075.8 720.62v4.4" stroke="#222" stroke-width="1.25" stroke-linecap="butt"/>
<text fill="#000" x="954.88" y="602" font-size="14.4" text-anchor="end">2</text>
<text fill="#000" x="954.88" y="641" font-size="14.4" text-anchor="end">0</text>
<text fill="#000" x="954.88" y="680" font-size="14.4" text-anchor="end">−2</text>
<text fill="#000" x="954.88" y="718" font-size="14.4" text-anchor="end">−4</text>
<text fill="#000" x="990" y="739" font-size="14.4" text-anchor="middle">A/A</text>
<text fill="#000" x="1033.2" y="739" font-size="14.4" text-anchor="middle">A/G</text>
<text fill="#000" x="1076.4" y="739" font-size="14.4" text-anchor="middle">G/G</text>
<text fill="#000" x="963.8" y="562" font-size="19.65">LRT p=0.491</text>
<text fill="#000" x="1032.85" y="762" font-size="19.3" text-anchor="middle">A.35</text>
<g stroke="#E3D2A9" stroke-width="1.65"><use href="#u220a" transform="translate(1153.2 636.63)scale(-0.087 -0.01263)"/><use href="#t220a" transform="translate(1153.2 624)scale(0.087 -0.03634)"/><use href="#u220a" transform="translate(1153.2 636.63)scale(0.087 0.01496)"/><use href="#t220a" transform="translate(1153.2 651.59)scale(0.087 0.03809)"/><path d="M1159.6 580.9h0M1159.8 587.3h0M1159.9 714h0M1145.6 691.8h0M1146.8 697h0M1154.9 694.5h0M1148.4 691.9h0M1147.2 699.3h0M1146.7 690.7h0M1147.3 701.4h0M1146.1 689.9h0"/></g>
<g stroke="#EE8D31" stroke-width="1.65"><path d="M1193.8 594.5h0M1194.3 635.3h0M1197.1 633.7h0M1198.5 633.3h0M1198.6 632h0M1203.1 629.6h0M1193.7 627.9h0M1194.8 636.8h0M1189.9 640h0M1189.6 642.2h0M1199.5 643.1h0M1196.6 645.1h0M1194.1 649.4h0"/></g>
<g stroke="#D01C33" stroke-width="1.65"><use href="#u30c" transform="translate(1239.6 635.27)scale(0.087 -0.01205)"/><use href="#t30a" transform="translate(1239.6 623.22)scale(-0.087 -0.01788)"/><use href="#u30c" transform="translate(1239.6 635.27)scale(0.087 0.01943)"/><use href="#t30a" transform="translate(1239.6 654.7)scale(-0.087 0.04722)"/></g>
<path d="M1153.2 587.65V624M1153.2 651.59V689.68M1140.25 624H1166.15V651.59H1140.25Z" stroke="#E3D2A9" stroke-width="2.1" fill="none" stroke-linecap="butt"/>
<path d="M1140.25 636.63H1166.15" stroke="#E3D2A9" stroke-width="4.2" stroke-linecap="butt"/>
<path d="M1196.4 623.61V631.96M1196.4 642.85V657.62M1183.45 631.96H1209.35V642.85H1183.45Z" stroke="#EE8D31" stroke-width="2.1" fill="none" stroke-linecap="butt"/>
<path d="M1183.45 636.24H1209.35" stroke="#EE8D31" stroke-width="4.2" stroke-linecap="butt"/>
<path d="M1239.6 605.34V623.22M1239.6 654.7V701.92M1226.65 623.22H1252.55V654.7H1226.65Z" stroke="#D01C33" stroke-width="2.1" fill="none" stroke-linecap="butt"/>
<path d="M1226.65 635.27H1252.55" stroke="#D01C33" stroke-width="4.2" stroke-linecap="butt"/>
<path d="M1127.3 575.8V720H1265" stroke="#000" stroke-width="1.25" fill="none" stroke-linejoin="miter"/>
<path d="M1126.67 596.4h-4.4M1126.67 635.27h-4.4M1126.67 674.13h-4.4M1126.67 713h-4.4M1153.2 720.62v4.4M1196.4 720.62v4.4M1239.6 720.62v4.4" stroke="#222" stroke-width="1.25" stroke-linecap="butt"/>
<text fill="#000" x="1118.67" y="602" font-size="14.4" text-anchor="end">2</text>
<text fill="#000" x="1118.67" y="641" font-size="14.4" text-anchor="end">0</text>
<text fill="#000" x="1118.67" y="680" font-size="14.4" text-anchor="end">−2</text>
<text fill="#000" x="1118.67" y="718" font-size="14.4" text-anchor="end">−4</text>
<text fill="#000" x="1153.8" y="739" font-size="14.4" text-anchor="middle">A/A</text>
<text fill="#000" x="1197" y="739" font-size="14.4" text-anchor="middle">A/G</text>
<text fill="#000" x="1240.2" y="739" font-size="14.4" text-anchor="middle">G/G</text>
<text fill="#000" x="1127.6" y="562" font-size="19.65">LRT p=0.118</text>
<text fill="#000" x="1196.65" y="762" font-size="19.3" text-anchor="middle">A.36</text>
<g stroke="#E3D2A9" stroke-width="1.65"><use href="#u220a" transform="translate(1316.7 636.63)scale(-0.087 -0.01263)"/><use href="#t220c" transform="translate(1316.7 624)scale(0.087 -0.03634)"/><use href="#u220c" transform="translate(1316.7 636.63)scale(-0.087 0.01496)"/><use href="#t220c" transform="translate(1316.7 651.59)scale(0.087 0.03809)"/><path d="M1320.4 580.9h0M1321.3 585.9h0M1309.8 714h0M1324 696.3h0M1309.9 699.3h0M1320.5 705.5h0M1309.7 706.9h0M1309.4 704.7h0M1315.4 703h0M1318.8 709.1h0M1322 690.8h0"/></g>
<g stroke="#EE8D31" stroke-width="1.65"><path d="M1367.8 593.5h0M1358.3 625.9h0M1356.1 624.2h0M1360.5 621.4h0M1362.6 620.5h0M1360.9 616.6h0M1364.5 627.1h0M1368.4 631.5h0M1356.6 634h0M1368.2 637.2h0"/></g>
<g stroke="#D01C33" stroke-width="1.65"><use href="#u30c" transform="translate(1403.1 633.32)scale(0.087 -0.01302)"/><use href="#t30c" transform="translate(1403.1 620.3)scale(-0.087 -0.02099)"/><use href="#u30b" transform="translate(1403.1 633.32)scale(0.087 0.01924)"/><use href="#t30b" transform="translate(1403.1 652.56)scale(-0.087 0.04334)"/><path d="M1395.2 701.3h0"/></g>
<path d="M1316.7 587.65V624M1316.7 651.59V689.68M1303.75 624H1329.65V651.59H1303.75Z" stroke="#E3D2A9" stroke-width="2.1" fill="none" stroke-linecap="butt"/>
<path d="M1303.75 636.63H1329.65" stroke="#E3D2A9" stroke-width="4.2" stroke-linecap="butt"/>
<path d="M1359.9 610V622.63M1359.9 633.91V639.93M1346.95 622.63H1372.85V633.91H1346.95Z" stroke="#EE8D31" stroke-width="2.1" fill="none" stroke-linecap="butt"/>
<path d="M1346.95 626.52H1372.85" stroke="#EE8D31" stroke-width="4.2" stroke-linecap="butt"/>
<path d="M1403.1 599.31V620.3M1403.1 652.56V695.9M1390.15 620.3H1416.05V652.56H1390.15Z" stroke="#D01C33" stroke-width="2.1" fill="none" stroke-linecap="butt"/>
<path d="M1390.15 633.32H1416.05" stroke="#D01C33" stroke-width="4.2" stroke-linecap="butt"/>
<path d="M1290.8 575.8V720H1428.5" stroke="#000" stroke-width="1.25" fill="none" stroke-linejoin="miter"/>
<path d="M1290.17 596.4h-4.4M1290.17 635.27h-4.4M1290.17 674.13h-4.4M1290.17 713h-4.4M1316.7 720.62v4.4M1359.9 720.62v4.4M1403.1 720.62v4.4" stroke="#222" stroke-width="1.25" stroke-linecap="butt"/>
<text fill="#000" x="1282.17" y="602" font-size="14.4" text-anchor="end">2</text>
<text fill="#000" x="1282.17" y="641" font-size="14.4" text-anchor="end">0</text>
<text fill="#000" x="1282.17" y="680" font-size="14.4" text-anchor="end">−2</text>
<text fill="#000" x="1282.17" y="718" font-size="14.4" text-anchor="end">−4</text>
<text fill="#000" x="1317.3" y="739" font-size="14.4" text-anchor="middle">A/A</text>
<text fill="#000" x="1360.5" y="739" font-size="14.4" text-anchor="middle">A/G</text>
<text fill="#000" x="1403.7" y="739" font-size="14.4" text-anchor="middle">G/G</text>
<text fill="#000" x="1291.1" y="562" font-size="19.65">LRT p=0.97</text>
<text fill="#000" x="1360.15" y="762" font-size="19.3" text-anchor="middle">A.38</text>
<g stroke="#E3D2A9" stroke-width="1.65"><use href="#u220c" transform="translate(826 887.37)scale(0.087 -0.01267)"/><use href="#t220c" transform="translate(826 874.69)scale(-0.087 -0.03647)"/><use href="#u220a" transform="translate(826 887.37)scale(0.087 0.01501)"/><use href="#t220b" transform="translate(826 902.38)scale(0.087 0.03822)"/><path d="M825.5 831.4h0M825.4 836.9h0M832.9 965h0M821.3 959h0M830.5 951h0M824.4 945.3h0M825.3 958.6h0M831.8 962.3h0M827.3 963.3h0M818.9 943.4h0M818.6 964.3h0"/></g>
<g stroke="#EE8D31" stroke-width="1.65"><path d="M869.5 885.1h0M872.9 883.7h0M874.5 882.9h0M868.6 882.7h0M861.3 881.3h0M871.4 880.6h0M874.6 879.6h0M871.7 878.7h0M875.2 877.8h0M865.5 877h0M875 875.4h0M866.6 874.5h0M870 871.9h0M869.4 870.3h0M866.4 869.9h0M866 867.4h0M866.3 864.6h0M871.6 862.4h0M873.8 856.8h0M872.5 849.4h0M875.8 886.5h0M872.7 887.5h0M868.3 891.3h0M864.9 892h0M865.7 894.3h0M865.4 896.7h0M865.6 898.7h0M874.7 901.2h0M874.2 903h0M865.9 905.5h0M864.3 908h0M870.7 908.5h0M866.7 910.2h0M867.6 911h0M875.4 913.1h0M862.9 914.2h0M877.2 916h0M862.9 916.9h0M864.1 919.4h0M870.5 925.5h0"/></g>
<g stroke="#D01C33" stroke-width="1.65"><use href="#u20a" transform="translate(912.4 886.39)scale(-0.087 -0.01131)"/><use href="#t20c" transform="translate(912.4 875.08)scale(-0.087 -0.02594)"/><use href="#u20a" transform="translate(912.4 886.39)scale(0.087 0.01228)"/><use href="#t20a" transform="translate(912.4 898.67)scale(0.087 0.03159)"/></g>
<path d="M826 838.23V874.69M826 902.38V940.6M813.05 874.69H838.95V902.38H813.05Z" stroke="#E3D2A9" stroke-width="2.1" fill="none" stroke-linecap="butt"/>
<path d="M813.05 887.37H838.95" stroke="#E3D2A9" stroke-width="4.2" stroke-linecap="butt"/>
<path d="M869.2 842.51V876.05M869.2 907.45V931.83M856.25 876.05H882.15V907.45H856.25Z" stroke="#EE8D31" stroke-width="2.1" fill="none" stroke-linecap="butt"/>
<path d="M856.25 885.41H882.15" stroke="#EE8D31" stroke-width="4.2" stroke-linecap="butt"/>
<path d="M912.4 849.14V875.08M912.4 898.67V930.26M899.45 875.08H925.35V898.67H899.45Z" stroke="#D01C33" stroke-width="2.1" fill="none" stroke-linecap="butt"/>
<path d="M899.45 886.39H925.35" stroke="#D01C33" stroke-width="4.2" stroke-linecap="butt"/>
<path d="M800.1 826.4V971H937.8" stroke="#000" stroke-width="1.25" fill="none" stroke-linejoin="miter"/>
<path d="M799.48 847h-4.4M799.48 886h-4.4M799.48 925h-4.4M799.48 964h-4.4M826 971.62v4.4M869.2 971.62v4.4M912.4 971.62v4.4" stroke="#222" stroke-width="1.25" stroke-linecap="butt"/>
<text fill="#000" x="791.48" y="852" font-size="14.4" text-anchor="end">2</text>
<text fill="#000" x="791.48" y="891" font-size="14.4" text-anchor="end">0</text>
<text fill="#000" x="791.48" y="930" font-size="14.4" text-anchor="end">−2</text>
<text fill="#000" x="791.48" y="969" font-size="14.4" text-anchor="end">−4</text>
<text fill="#000" x="826.6" y="989" font-size="14.4" text-anchor="middle">A/A</text>
<text fill="#000" x="869.8" y="989" font-size="14.4" text-anchor="middle">A/G</text>
<text fill="#000" x="913" y="989" font-size="14.4" text-anchor="middle">G/G</text>
<text fill="#000" x="800.4" y="812" font-size="19.65">LRT p=0.562</text>
<text fill="#000" x="869.45" y="1012" font-size="19.3" text-anchor="middle">B.15</text>
<g stroke="#E3D2A9" stroke-width="1.65"><use href="#u220b" transform="translate(989.4 887.37)scale(-0.087 -0.01267)"/><use href="#t220a" transform="translate(989.4 874.69)scale(0.087 -0.03647)"/><use href="#u220c" transform="translate(989.4 887.37)scale(0.087 0.01501)"/><use href="#t220c" transform="translate(989.4 902.38)scale(0.087 0.03822)"/><path d="M988.5 831.4h0M992.3 836h0M997.1 965h0M986.3 952.9h0M990.4 942.5h0M997.4 945.2h0M994.2 949.1h0M981.7 941.3h0M984.7 942.6h0M990.8 941.5h0M992.6 956.1h0"/></g>
<g stroke="#EE8D31" stroke-width="1.65"><use href="#u20c" transform="translate(1032.6 887.37)scale(0.087 -0.01228)"/><use href="#t20c" transform="translate(1032.6 875.08)scale(0.087 -0.02496)"/><use href="#u20a" transform="translate(1032.6 887.37)scale(0.087 0.01365)"/><use href="#t20c" transform="translate(1032.6 901.01)scale(0.087 0.02594)"/><path d="M1029 950.4h0M1035 927h0"/></g>
<g stroke="#D01C33" stroke-width="1.65"><use href="#u45c" transform="translate(1075.8 888.73)scale(0.087 -0.0156)"/><use href="#t45b" transform="translate(1075.8 873.13)scale(0.087 -0.03959)"/><use href="#u45c" transform="translate(1075.8 888.73)scale(-0.087 0.01755)"/><use href="#t45b" transform="translate(1075.8 906.28)scale(0.087 0.05109)"/></g>
<path d="M989.4 838.23V874.69M989.4 902.38V940.6M976.45 874.69H1002.35V902.38H976.45Z" stroke="#E3D2A9" stroke-width="2.1" fill="none" stroke-linecap="butt"/>
<path d="M976.45 887.37H1002.35" stroke="#E3D2A9" stroke-width="4.2" stroke-linecap="butt"/>
<path d="M1032.6 850.12V875.08M1032.6 901.01V926.95M1019.65 875.08H1045.55V901.01H1019.65Z" stroke="#EE8D31" stroke-width="2.1" fill="none" stroke-linecap="butt"/>
<path d="M1019.65 887.37H1045.55" stroke="#EE8D31" stroke-width="4.2" stroke-linecap="butt"/>
<path d="M1075.8 833.54V873.13M1075.8 906.28V957.37M1062.85 873.13H1088.75V906.28H1062.85Z" stroke="#D01C33" stroke-width="2.1" fill="none" stroke-linecap="butt"/>
<path d="M1062.85 888.73H1088.75" stroke="#D01C33" stroke-width="4.2" stroke-linecap="butt"/>
<path d="M963.5 826.4V971H1101.2" stroke="#000" stroke-width="1.25" fill="none" stroke-linejoin="miter"/>
<path d="M962.88 847h-4.4M962.88 886h-4.4M962.88 925h-4.4M962.88 964h-4.4M989.4 971.62v4.4M1032.6 971.62v4.4M1075.8 971.62v4.4" stroke="#222" stroke-width="1.25" stroke-linecap="butt"/>
<text fill="#000" x="954.88" y="852" font-size="14.4" text-anchor="end">2</text>
<text fill="#000" x="954.88" y="891" font-size="14.4" text-anchor="end">0</text>
<text fill="#000" x="954.88" y="930" font-size="14.4" text-anchor="end">−2</text>
<text fill="#000" x="954.88" y="969" font-size="14.4" text-anchor="end">−4</text>
<text fill="#000" x="990" y="989" font-size="14.4" text-anchor="middle">A/A</text>
<text fill="#000" x="1033.2" y="989" font-size="14.4" text-anchor="middle">A/G</text>
<text fill="#000" x="1076.4" y="989" font-size="14.4" text-anchor="middle">G/G</text>
<text fill="#000" x="963.8" y="812" font-size="19.65">LRT p=0.656</text>
<text fill="#000" x="1032.85" y="1012" font-size="19.3" text-anchor="middle">B.24</text>
<g stroke="#E3D2A9" stroke-width="1.65"><use href="#u220a" transform="translate(1153.2 886.01)scale(0.087 -0.01307)"/><use href="#t220b" transform="translate(1153.2 872.94)scale(-0.087 -0.03759)"/><use href="#u220b" transform="translate(1153.2 886.01)scale(-0.087 0.01548)"/><use href="#t220c" transform="translate(1153.2 901.48)scale(0.087 0.0394)"/><path d="M1149.8 828.3h0M1144.7 834.9h0M1150.1 966h0M1149.9 941.3h0M1148.7 959.4h0M1150.5 945h0M1144.6 941.2h0M1148.4 941.4h0M1146.4 946.5h0M1152.4 962.2h0M1147.4 956.4h0"/></g>
<g stroke="#EE8D31" stroke-width="1.65"><use href="#u30b" transform="translate(1196.4 887.62)scale(-0.087 -0.01126)"/><use href="#t30c" transform="translate(1196.4 876.36)scale(0.087 -0.03819)"/><use href="#u30b" transform="translate(1196.4 887.62)scale(-0.087 0.01688)"/><use href="#t30b" transform="translate(1196.4 904.5)scale(-0.087 0.03698)"/><path d="M1197.3 950.9h0"/></g>
<g stroke="#D01C33" stroke-width="1.65"><use href="#u30c" transform="translate(1239.6 889.62)scale(-0.087 -0.01829)"/><use href="#t30c" transform="translate(1239.6 871.33)scale(0.087 -0.03759)"/><use href="#u30a" transform="translate(1239.6 889.62)scale(0.087 0.01889)"/><use href="#t30c" transform="translate(1239.6 908.52)scale(-0.087 0.05025)"/></g>
<path d="M1153.2 835.36V872.94M1153.2 901.48V940.88M1140.25 872.94H1166.15V901.48H1140.25Z" stroke="#E3D2A9" stroke-width="2.1" fill="none" stroke-linecap="butt"/>
<path d="M1140.25 886.01H1166.15" stroke="#E3D2A9" stroke-width="4.2" stroke-linecap="butt"/>
<path d="M1196.4 838.17V876.36M1196.4 904.5V941.48M1183.45 876.36H1209.35V904.5H1183.45Z" stroke="#EE8D31" stroke-width="2.1" fill="none" stroke-linecap="butt"/>
<path d="M1183.45 887.62H1209.35" stroke="#EE8D31" stroke-width="4.2" stroke-linecap="butt"/>
<path d="M1239.6 833.75V871.33M1239.6 908.52V958.77M1226.65 871.33H1252.55V908.52H1226.65Z" stroke="#D01C33" stroke-width="2.1" fill="none" stroke-linecap="butt"/>
<path d="M1226.65 889.62H1252.55" stroke="#D01C33" stroke-width="4.2" stroke-linecap="butt"/>
<path d="M1127.3 826.4V971H1265" stroke="#000" stroke-width="1.25" fill="none" stroke-linejoin="miter"/>
<path d="M1126.67 844.4h-4.4M1126.67 884.6h-4.4M1126.67 924.8h-4.4M1126.67 965h-4.4M1153.2 971.62v4.4M1196.4 971.62v4.4M1239.6 971.62v4.4" stroke="#222" stroke-width="1.25" stroke-linecap="butt"/>
<text fill="#000" x="1118.67" y="850" font-size="14.4" text-anchor="end">2</text>
<text fill="#000" x="1118.67" y="890" font-size="14.4" text-anchor="end">0</text>
<text fill="#000" x="1118.67" y="930" font-size="14.4" text-anchor="end">−2</text>
<text fill="#000" x="1118.67" y="970" font-size="14.4" text-anchor="end">−4</text>
<text fill="#000" x="1153.8" y="989" font-size="14.4" text-anchor="middle">A/A</text>
<text fill="#000" x="1197" y="989" font-size="14.4" text-anchor="middle">A/G</text>
<text fill="#000" x="1240.2" y="989" font-size="14.4" text-anchor="middle">G/G</text>
<text fill="#000" x="1127.6" y="812" font-size="19.65">LRT p=0.00469</text>
<text fill="#000" x="1196.65" y="1012" font-size="19.3" text-anchor="middle">B.25</text>
<g stroke="#E3D2A9" stroke-width="1.65"><use href="#u100b" transform="translate(1316.7 886.09)scale(0.087 -0.01187)"/><use href="#t100a" transform="translate(1316.7 874.22)scale(0.087 -0.04062)"/><use href="#u100c" transform="translate(1316.7 886.09)scale(-0.087 0.01577)"/><use href="#t100c" transform="translate(1316.7 901.86)scale(-0.087 0.04025)"/><path d="M1324 949.7h0M1316.8 943.4h0"/></g>
<g stroke="#EE8D31" stroke-width="1.65"><use href="#u30a" transform="translate(1359.9 885.16)scale(0.087 -0.00872)"/><use href="#t30b" transform="translate(1359.9 876.44)scale(0.087 -0.02245)"/><use href="#u30a" transform="translate(1359.9 885.16)scale(0.087 0.01373)"/><use href="#t30c" transform="translate(1359.9 898.89)scale(-0.087 0.0345)"/><path d="M1353.1 947.9h0M1363 936.6h0"/></g>
<g stroke="#D01C33" stroke-width="1.65"><use href="#u100c" transform="translate(1403.1 892.77)scale(0.087 -0.0115)"/><use href="#t100c" transform="translate(1403.1 881.27)scale(-0.087 -0.03729)"/><use href="#u100a" transform="translate(1403.1 892.77)scale(0.087 0.01465)"/><use href="#t100c" transform="translate(1403.1 907.42)scale(-0.087 0.03599)"/><path d="M1407 964.6h0M1407.1 951.4h0M1402.7 950.3h0"/></g>
<path d="M1316.7 833.59V874.22M1316.7 901.86V942.11M1303.75 874.22H1329.65V901.86H1303.75Z" stroke="#E3D2A9" stroke-width="2.1" fill="none" stroke-linecap="butt"/>
<path d="M1303.75 886.09H1329.65" stroke="#E3D2A9" stroke-width="4.2" stroke-linecap="butt"/>
<path d="M1359.9 854V876.44M1359.9 898.89V933.39M1346.95 876.44H1372.85V898.89H1346.95Z" stroke="#EE8D31" stroke-width="2.1" fill="none" stroke-linecap="butt"/>
<path d="M1346.95 885.16H1372.85" stroke="#EE8D31" stroke-width="4.2" stroke-linecap="butt"/>
<path d="M1403.1 843.98V881.27M1403.1 907.42V943.41M1390.15 881.27H1416.05V907.42H1390.15Z" stroke="#D01C33" stroke-width="2.1" fill="none" stroke-linecap="butt"/>
<path d="M1390.15 892.77H1416.05" stroke="#D01C33" stroke-width="4.2" stroke-linecap="butt"/>
<path d="M1290.8 826.4V971H1428.5" stroke="#000" stroke-width="1.25" fill="none" stroke-linejoin="miter"/>
<path d="M1290.17 851.4h-4.4M1290.17 888.5h-4.4M1290.17 925.6h-4.4M1290.17 962.7h-4.4M1316.7 971.62v4.4M1359.9 971.62v4.4M1403.1 971.62v4.4" stroke="#222" stroke-width="1.25" stroke-linecap="butt"/>
<text fill="#000" x="1282.17" y="857" font-size="14.4" text-anchor="end">2</text>
<text fill="#000" x="1282.17" y="894" font-size="14.4" text-anchor="end">0</text>
<text fill="#000" x="1282.17" y="931" font-size="14.4" text-anchor="end">−2</text>
<text fill="#000" x="1282.17" y="968" font-size="14.4" text-anchor="end">−4</text>
<text fill="#000" x="1317.3" y="989" font-size="14.4" text-anchor="middle">A/A</text>
<text fill="#000" x="1360.5" y="989" font-size="14.4" text-anchor="middle">A/G</text>
<text fill="#000" x="1403.7" y="989" font-size="14.4" text-anchor="middle">G/G</text>
<text fill="#000" x="1291.1" y="812" font-size="19.65">LRT p=1.28e−09</text>
<text fill="#000" x="1360.15" y="1012" font-size="19.3" text-anchor="middle">B.29</text>
<text fill="#000" x="0" y="1070" font-size="42" class="L">f</text>
<text fill="#000" x="465" y="1070" font-size="42" class="L">g</text>
<text fill="#000" x="1010" y="1070" font-size="42" class="L">h</text>
<text fill="#000" x="1553" y="1070" font-size="42" class="L">i</text>
<g stroke="#6FAFD6" stroke-width="4.2" stroke-opacity="0.6"><use href="#u70c" transform="translate(121.3 1392.61)scale(0.14 -0.02579)"/><use href="#t70c" transform="translate(121.3 1366.81)scale(-0.14 -0.07107)"/><use href="#u70c" transform="translate(121.3 1392.61)scale(0.14 0.02579)"/><use href="#t70b" transform="translate(121.3 1418.4)scale(-0.14 0.06476)"/><use href="#u70a" transform="translate(121.3 1392.61)scale(0.14 -0.02579)"/><use href="#t70a" transform="translate(121.3 1366.81)scale(0.14 -0.07107)"/><use href="#u70a" transform="translate(121.3 1392.61)scale(0.14 0.02579)"/><use href="#t70c" transform="translate(121.3 1418.4)scale(-0.14 0.06476)"/><path d="M132.7 1236.2h0M116 1262.4h0M126.4 1246.8h0M113.4 1269.4h0M124.2 1271.9h0M121.9 1241.2h0M125.2 1273.8h0M111.9 1245.4h0M121.7 1256h0M126.2 1288.2h0M109.5 1245.7h0M111.6 1252.5h0M129.6 1263.9h0M113.2 1277.5h0"/></g>
<g stroke="#E2532F" stroke-width="4.2" stroke-opacity="0.62"><use href="#u30c" transform="translate(165.7 1379.71)scale(0.14 -0.02058)"/><use href="#t30b" transform="translate(165.7 1359.13)scale(0.14 -0.05131)"/><use href="#u30b" transform="translate(165.7 1379.71)scale(-0.14 0.01399)"/><use href="#t30c" transform="translate(165.7 1393.71)scale(-0.14 0.04418)"/><use href="#u30c" transform="translate(165.7 1379.71)scale(-0.14 -0.02058)"/><use href="#t30a" transform="translate(165.7 1359.13)scale(0.14 -0.05131)"/><use href="#u30a" transform="translate(165.7 1379.71)scale(-0.14 0.01399)"/><use href="#t30a" transform="translate(165.7 1393.71)scale(-0.14 0.04418)"/><path d="M155.1 1258.2h0M168.4 1270.8h0M179.5 1307.8h0M172.3 1304.3h0M167.4 1273.4h0M168 1264.6h0M167.6 1272.4h0M159.1 1305.6h0M160.6 1293.8h0M154.5 1307.7h0M167 1488.6h0M159.1 1458.2h0M165.1 1465.5h0M157.9 1437.9h0M162.9 1207.4h0"/></g>
<g stroke="#6FAFD6" stroke-width="4.2" stroke-opacity="0.6"><use href="#u12a" transform="translate(231.4 1385.2)scale(0.14 -0.01701)"/><use href="#t12b" transform="translate(231.4 1368.19)scale(0.14 -0.05049)"/><use href="#u12c" transform="translate(231.4 1385.2)scale(0.14 0.02305)"/><use href="#t12b" transform="translate(231.4 1408.25)scale(-0.14 0.05927)"/><use href="#u12b" transform="translate(231.4 1385.2)scale(0.14 -0.01701)"/><use href="#t12a" transform="translate(231.4 1368.19)scale(-0.14 -0.05049)"/><use href="#u12a" transform="translate(231.4 1385.2)scale(-0.14 0.02305)"/><use href="#t12a" transform="translate(231.4 1408.25)scale(0.14 0.05927)"/><path d="M231.5 1207.4h0M221.6 1236.2h0"/></g>
<g stroke="#E2532F" stroke-width="4.2" stroke-opacity="0.62"><path d="M281.3 1376.1h0M278 1335.6h0M281.4 1324.2h0M268 1287.8h0M288.6 1381.8h0M286.7 1393.3h0M280.4 1394.9h0M283.9 1395.3h0"/></g>
<g stroke="#6FAFD6" stroke-width="4.2" stroke-opacity="0.6"><use href="#u70a" transform="translate(341.8 1367.36)scale(-0.14 -0.02085)"/><use href="#t70c" transform="translate(341.8 1346.51)scale(0.14 -0.06092)"/><use href="#u70c" transform="translate(341.8 1367.36)scale(-0.14 0.02113)"/><use href="#t70b" transform="translate(341.8 1388.49)scale(-0.14 0.05625)"/><use href="#u70c" transform="translate(341.8 1367.36)scale(-0.14 -0.02085)"/><use href="#t70a" transform="translate(341.8 1346.51)scale(-0.14 -0.06092)"/><use href="#u70c" transform="translate(341.8 1367.36)scale(0.14 0.02113)"/><use href="#t70c" transform="translate(341.8 1388.49)scale(0.14 0.05625)"/><path d="M350.8 1212.9h0M328.1 1271.1h0M355.1 1275.4h0M342.9 1274.2h0M331.1 1278.1h0M352.5 1285.4h0M337 1280h0M348.8 1277h0M329.6 1227.2h0M341.5 1272.9h0M355.6 1283.5h0M353 1270.6h0M342.9 1282.3h0M337.3 1230.3h0M342.2 1277.3h0M345.9 1254h0M331.6 1240.3h0M344.5 1241.3h0M344.4 1273h0M346.3 1284.9h0M337.3 1284.5h0M340.8 1271.5h0M343.5 1255.4h0M342.4 1284.2h0M334.7 1242h0M334.1 1284.7h0M330 1250.3h0M355.1 1282.1h0M335.3 1237.2h0M330.3 1279.1h0M351.8 1466.7h0M331.9 1452.4h0"/></g>
<g stroke="#E2532F" stroke-width="4.2" stroke-opacity="0.62"><use href="#u20a" transform="translate(386.2 1346.51)scale(0.14 -0.0236)"/><use href="#t20c" transform="translate(386.2 1322.91)scale(0.14 -0.05653)"/><use href="#u20c" transform="translate(386.2 1346.51)scale(-0.14 0.02415)"/><use href="#t20c" transform="translate(386.2 1370.66)scale(-0.14 0.05845)"/><use href="#u20c" transform="translate(386.2 1346.51)scale(-0.14 -0.0236)"/><use href="#t20a" transform="translate(386.2 1322.91)scale(-0.14 -0.05653)"/><use href="#u20a" transform="translate(386.2 1346.51)scale(-0.14 0.02415)"/><use href="#t20c" transform="translate(386.2 1370.66)scale(-0.14 0.05845)"/><path d="M385.4 1232.1h0M399.3 1260.4h0M391.6 1248.2h0M391.5 1255h0M382.1 1253.6h0"/></g>
<path d="M121.3 1295.74V1366.81M121.3 1418.4V1483.16M102.3 1366.81H140.3V1418.4H102.3Z" stroke="#6FAFD6" stroke-width="2.6" fill="none" stroke-linecap="butt"/>
<path d="M102.3 1392.61H140.3" stroke="#6FAFD6" stroke-width="5.2" stroke-linecap="butt"/>
<path d="M165.7 1307.82V1359.13M165.7 1393.71V1437.88M146.7 1359.13H184.7V1393.71H146.7Z" stroke="#D7263A" stroke-width="2.6" fill="none" stroke-linecap="butt"/>
<path d="M146.7 1379.71H184.7" stroke="#D7263A" stroke-width="5.2" stroke-linecap="butt"/>
<path d="M231.4 1317.7V1368.19M231.4 1408.25V1467.52M212.4 1368.19H250.4V1408.25H212.4Z" stroke="#6FAFD6" stroke-width="2.6" fill="none" stroke-linecap="butt"/>
<path d="M212.4 1385.2H250.4" stroke="#6FAFD6" stroke-width="5.2" stroke-linecap="butt"/>
<path d="M275.8 1256.51V1330.87M275.8 1394.8V1395.35M256.8 1330.87H294.8V1394.8H256.8Z" stroke="#D7263A" stroke-width="2.6" fill="none" stroke-linecap="butt"/>
<path d="M256.8 1378.61H294.8" stroke="#D7263A" stroke-width="5.2" stroke-linecap="butt"/>
<path d="M341.8 1285.59V1346.51M341.8 1388.49V1444.74M322.8 1346.51H360.8V1388.49H322.8Z" stroke="#6FAFD6" stroke-width="2.6" fill="none" stroke-linecap="butt"/>
<path d="M322.8 1367.36H360.8" stroke="#6FAFD6" stroke-width="5.2" stroke-linecap="butt"/>
<path d="M386.2 1266.38V1322.91M386.2 1370.66V1429.1M367.2 1322.91H405.2V1370.66H367.2Z" stroke="#D7263A" stroke-width="2.6" fill="none" stroke-linecap="butt"/>
<path d="M367.2 1346.51H405.2" stroke="#D7263A" stroke-width="5.2" stroke-linecap="butt"/>
<path d="M77.1 1063.2V1508.5H431.2" stroke="#000" stroke-width="1.4" fill="none" stroke-linejoin="miter"/>
<path d="M76.4 1099h-6.5M76.4 1236.2h-6.5M76.4 1373.4h-6.5M143.5 1509.2v6.5M253.6 1509.2v6.5M364 1509.2v6.5" stroke="#222" stroke-width="1.4" stroke-linecap="butt"/>
<text fill="#000" x="65.4" y="1106" font-size="19.2" text-anchor="end">10</text>
<text fill="#000" x="65.4" y="1243" font-size="19.2" text-anchor="end">5</text>
<text fill="#000" x="65.4" y="1381" font-size="19.2" text-anchor="end">0</text>
<text fill="#000" x="144.1" y="1534" font-size="19.2" text-anchor="middle">0</text>
<text fill="#000" x="254.2" y="1534" font-size="19.2" text-anchor="middle">1</text>
<text fill="#000" x="364.6" y="1534" font-size="19.2" text-anchor="middle">2</text>
<text fill="#000" x="253.8" y="1561" font-size="24.5" text-anchor="middle">B.29</text>
<text fill="#000" x="33" y="1285" font-size="24.5" text-anchor="middle" transform="rotate(-90 33 1285)">B29 gene score</text>
<text fill="#000" x="101.3" y="1116" font-size="24.5">A edited</text>
<path d="M224.5 1091.3V1097.7M224.5 1118.3V1124.7M208.9 1097.7H240.1V1118.3H208.9ZM208.9 1108H240.1" stroke="#6FAFD6" stroke-width="2.8" stroke-linecap="butt" fill="none"/>
<text fill="#000" x="257.6" y="1113" font-size="13.9">FALSE</text>
<path d="M335 1091.3V1097.7M335 1118.3V1124.7M319.4 1097.7H350.6V1118.3H319.4ZM319.4 1108H350.6" stroke="#D7263A" stroke-width="2.8" stroke-linecap="butt" fill="none"/>
<text fill="#000" x="369.5" y="1113" font-size="13.9">TRUE</text>
<rect x="617.8" y="1495.8" width="100.4" height="14.2" fill="#58595B" stroke="none"/>
<rect x="819" y="1109.5" width="100.4" height="400.5" fill="#58595B" stroke="none"/>
<path d="M547.9 1109.5V1510H990" stroke="#000" stroke-width="1.4" fill="none" stroke-linejoin="miter"/>
<path d="M547.2 1191h-6.5M547.2 1297.33h-6.5M547.2 1403.67h-6.5M547.2 1510h-6.5M668 1510.7v6.5M869.2 1510.7v6.5" stroke="#222" stroke-width="1.4" stroke-linecap="butt"/>
<text fill="#000" x="536.2" y="1198" font-size="19.2" text-anchor="end">90</text>
<text fill="#000" x="536.2" y="1305" font-size="19.2" text-anchor="end">60</text>
<text fill="#000" x="536.2" y="1411" font-size="19.2" text-anchor="end">30</text>
<text fill="#000" x="536.2" y="1517" font-size="19.2" text-anchor="end">0</text>
<text fill="#000" x="668.6" y="1534" font-size="19.2" text-anchor="middle"></text>
<text fill="#000" x="869.8" y="1534" font-size="19.2" text-anchor="middle"></text>
<text fill="#000" x="669" y="1485" font-size="25.5" text-anchor="middle">4</text>
<text fill="#000" x="869.6" y="1103" font-size="25.5" text-anchor="middle">113</text>
<text fill="#000" x="678" y="1530" font-size="19" text-anchor="end" transform="rotate(-45 678 1530)">A edited</text>
<text fill="#000" x="879.2" y="1530" font-size="19" text-anchor="end" transform="rotate(-45 879.2 1530)">B.29</text>
<text fill="#000" x="504" y="1309" font-size="24.5" text-anchor="middle" transform="rotate(-90 504 1309)">Number of significant genes</text>
<g stroke="#6FAFD6" stroke-width="2.7"><use href="#u100a" transform="translate(1160 1288.14)scale(-0.1 -0.02093)"/><use href="#t100b" transform="translate(1160 1267.21)scale(-0.1 -0.05602)"/><use href="#u100a" transform="translate(1160 1288.14)scale(0.1 0.01939)"/><use href="#t100a" transform="translate(1160 1307.53)scale(0.1 0.0554)"/><path d="M1152.9 1204.4h0M1153.3 1208.7h0M1161.9 1209.4h0M1153 1369.1h0M1151.7 1363h0M1159 1402.9h0M1168 1407.6h0M1156 1495.3h0"/></g>
<g stroke="#D7263A" stroke-width="2.7"><use href="#u70b" transform="translate(1213 1280.14)scale(-0.1 -0.01939)"/><use href="#t70b" transform="translate(1213 1260.74)scale(-0.1 -0.04709)"/><use href="#u70a" transform="translate(1213 1280.14)scale(0.1 0.01785)"/><use href="#t70c" transform="translate(1213 1297.99)scale(0.1 0.05263)"/><path d="M1218.9 1193.6h0M1220.3 1209.4h0M1206.5 1212.2h0M1217.3 1213.6h0M1216.3 1205.2h0M1217.1 1356.8h0M1219 1375.2h0M1214 1384.5h0M1216 1393.7h0M1222 1409.1h0M1205 1458.4h0"/></g>
<g stroke="#6FAFD6" stroke-width="2.7"><use href="#u30c" transform="translate(1292.8 1289.68)scale(0.1 -0.01878)"/><use href="#t30c" transform="translate(1292.8 1270.9)scale(0.1 -0.04586)"/><use href="#u30c" transform="translate(1292.8 1289.68)scale(0.1 0.01908)"/><use href="#t30a" transform="translate(1292.8 1308.76)scale(0.1 0.05109)"/><path d="M1297.8 1213.7h0M1290.7 1361.4h0M1292.8 1389.1h0"/></g>
<g stroke="#D7263A" stroke-width="2.7"><path d="M1346.8 1358.9h0M1347.4 1279h0M1339.6 1270.5h0M1352.2 1264.4h0M1348.1 1255.2h0M1341.9 1282.8h0M1348.1 1290.7h0M1338.7 1302h0M1337.6 1304.6h0"/></g>
<g stroke="#6FAFD6" stroke-width="2.7"><use href="#u150a" transform="translate(1425.6 1274.29)scale(0.1 -0.01878)"/><use href="#t150c" transform="translate(1425.6 1255.51)scale(0.1 -0.05294)"/><use href="#u150b" transform="translate(1425.6 1274.29)scale(-0.1 0.01662)"/><use href="#t150c" transform="translate(1425.6 1290.91)scale(0.1 0.05263)"/><path d="M1423.2 1184.4h0M1423.9 1196.9h0M1425.1 1190.5h0M1421.8 1201.7h0M1431.2 1355.2h0M1427.1 1348.8h0M1426.3 1351.3h0M1428.6 1406h0"/></g>
<g stroke="#D7263A" stroke-width="2.7"><use href="#u45c" transform="translate(1478.6 1256.74)scale(-0.1 -0.01354)"/><use href="#t45c" transform="translate(1478.6 1243.2)scale(-0.1 -0.04648)"/><use href="#u45a" transform="translate(1478.6 1256.74)scale(0.1 0.02185)"/><use href="#t45a" transform="translate(1478.6 1278.6)scale(0.1 0.03786)"/><path d="M1476.8 1190.6h0M1478 1318.3h0M1470.6 1158.2h0M1475.6 1161.3h0"/></g>
<path d="M1160 1211.19V1267.21M1160 1307.53V1362.93M1137.25 1267.21H1182.75V1307.53H1137.25Z" stroke="#6FAFD6" stroke-width="2.3" fill="none" stroke-linecap="butt"/>
<path d="M1137.25 1288.14H1182.75" stroke="#6FAFD6" stroke-width="4.6" stroke-linecap="butt"/>
<path d="M1213 1213.65V1260.74M1213 1297.99V1350.62M1190.25 1260.74H1235.75V1297.99H1190.25Z" stroke="#D7263A" stroke-width="2.3" fill="none" stroke-linecap="butt"/>
<path d="M1190.25 1280.14H1235.75" stroke="#D7263A" stroke-width="4.6" stroke-linecap="butt"/>
<path d="M1292.8 1225.04V1270.9M1292.8 1308.76V1359.86M1270.05 1270.9H1315.55V1308.76H1270.05Z" stroke="#6FAFD6" stroke-width="2.3" fill="none" stroke-linecap="butt"/>
<path d="M1270.05 1289.68H1315.55" stroke="#6FAFD6" stroke-width="4.6" stroke-linecap="butt"/>
<path d="M1345.8 1247.82V1265.36M1345.8 1300.45V1315.84M1323.05 1265.36H1368.55V1300.45H1323.05Z" stroke="#D7263A" stroke-width="2.3" fill="none" stroke-linecap="butt"/>
<path d="M1323.05 1279.21H1368.55" stroke="#D7263A" stroke-width="4.6" stroke-linecap="butt"/>
<path d="M1425.6 1202.57V1255.51M1425.6 1290.91V1343.54M1402.85 1255.51H1448.35V1290.91H1402.85Z" stroke="#6FAFD6" stroke-width="2.3" fill="none" stroke-linecap="butt"/>
<path d="M1402.85 1274.29H1448.35" stroke="#6FAFD6" stroke-width="4.6" stroke-linecap="butt"/>
<path d="M1478.6 1196.72V1243.2M1478.6 1278.6V1316.46M1455.85 1243.2H1501.35V1278.6H1455.85Z" stroke="#D7263A" stroke-width="2.3" fill="none" stroke-linecap="butt"/>
<path d="M1455.85 1256.74H1501.35" stroke="#D7263A" stroke-width="4.6" stroke-linecap="butt"/>
<path d="M1106.7 1141.6V1512.1H1531.6" stroke="#000" stroke-width="1.4" fill="none" stroke-linejoin="miter"/>
<path d="M1106 1199.8h-6.5M1106 1276.75h-6.5M1106 1353.7h-6.5M1106 1430.65h-6.5M1106 1507.6h-6.5M1186.5 1512.8v6.5M1319.3 1512.8v6.5M1452.1 1512.8v6.5" stroke="#222" stroke-width="1.4" stroke-linecap="butt"/>
<text fill="#000" x="1095" y="1207" font-size="19.2" text-anchor="end">2.5</text>
<text fill="#000" x="1095" y="1284" font-size="19.2" text-anchor="end">0.0</text>
<text fill="#000" x="1095" y="1361" font-size="19.2" text-anchor="end">−2.5</text>
<text fill="#000" x="1095" y="1438" font-size="19.2" text-anchor="end">−5.0</text>
<text fill="#000" x="1095" y="1515" font-size="19.2" text-anchor="end">−7.5</text>
<text fill="#000" x="1187.1" y="1536" font-size="19.2" text-anchor="middle">A/A</text>
<text fill="#000" x="1319.9" y="1536" font-size="19.2" text-anchor="middle">A/G</text>
<text fill="#000" x="1452.7" y="1536" font-size="19.2" text-anchor="middle">G/G</text>
<text fill="#000" x="1108" y="1123" font-size="24.3">Interaction LRT p=2.54e−05</text>
<text fill="#000" x="1319.3" y="1564" font-size="24.5" text-anchor="middle">B.29</text>
<text fill="#000" x="1045" y="1324.6" font-size="24.5" text-anchor="middle" transform="rotate(-90 1045 1324.6)">RNA − <tspan font-style="italic">RPL10</tspan></text>
<g stroke="#6FAFD6" stroke-width="2.7"><use href="#u100a" transform="translate(1701 1308.57)scale(0.1 -0.02121)"/><use href="#t100c" transform="translate(1701 1287.36)scale(-0.1 -0.06151)"/><use href="#u100c" transform="translate(1701 1308.57)scale(-0.1 0.02368)"/><use href="#t100c" transform="translate(1701 1332.25)scale(0.1 0.06681)"/><path d="M1694.2 1210.3h0M1700.4 1213.3h0M1692.7 1215.5h0M1695 1401.2h0M1699.2 1399.5h0M1704 1411.8h0M1702 1434.8h0M1697 1496.6h0"/></g>
<g stroke="#D7263A" stroke-width="2.7"><use href="#u70b" transform="translate(1756.2 1301.14)scale(0.1 -0.02616)"/><use href="#t70a" transform="translate(1756.2 1274.98)scale(-0.1 -0.06186)"/><use href="#u70a" transform="translate(1756.2 1301.14)scale(0.1 0.02121)"/><use href="#t70a" transform="translate(1756.2 1322.35)scale(-0.1 0.07141)"/><path d="M1746.8 1203.2h0M1756.5 1397.6h0M1755.7 1394.8h0M1749.3 1397.1h0M1760.2 1406.5h0M1760.2 1417.1h0M1761.2 1482.5h0"/></g>
<g stroke="#6FAFD6" stroke-width="2.7"><use href="#u30b" transform="translate(1839.1 1311.75)scale(-0.1 -0.0205)"/><use href="#t30c" transform="translate(1839.1 1291.24)scale(-0.1 -0.05939)"/><use href="#u30c" transform="translate(1839.1 1311.75)scale(-0.1 0.0198)"/><use href="#t30b" transform="translate(1839.1 1331.54)scale(-0.1 0.05691)"/><path d="M1842.7 1222.7h0M1846.2 1394.1h0"/></g>
<g stroke="#D7263A" stroke-width="2.7"><path d="M1899.3 1411.8h0M1904 1301.1h0M1884.8 1293.8h0M1904.2 1284.9h0M1889.5 1275h0M1892.1 1314.4h0M1895.2 1327.5h0M1884.8 1330h0M1897.2 1333h0"/></g>
<g stroke="#6FAFD6" stroke-width="2.7"><use href="#u150a" transform="translate(1977.1 1292.3)scale(0.1 -0.0198)"/><use href="#t150b" transform="translate(1977.1 1272.51)scale(-0.1 -0.06504)"/><use href="#u150b" transform="translate(1977.1 1292.3)scale(0.1 0.02227)"/><use href="#t150b" transform="translate(1977.1 1314.58)scale(-0.1 0.06186)"/><path d="M1973.7 1183.8h0M1978.7 1187.1h0M1971.7 1189.8h0M1971.2 1387h0M1976.3 1376.9h0M1968.1 1382.2h0"/></g>
<g stroke="#D7263A" stroke-width="2.7"><use href="#u45a" transform="translate(2032.3 1276.4)scale(0.1 -0.02262)"/><use href="#t45a" transform="translate(2032.3 1253.77)scale(-0.1 -0.04878)"/><use href="#u45a" transform="translate(2032.3 1276.4)scale(0.1 0.02651)"/><use href="#t45b" transform="translate(2032.3 1302.91)scale(0.1 0.04914)"/><path d="M2042.3 1203.2h0M2032.3 1159h0M2035.3 1176.7h0"/></g>
<path d="M1701 1225.85V1287.36M1701 1332.25V1399.06M1677.35 1287.36H1724.65V1332.25H1677.35Z" stroke="#6FAFD6" stroke-width="2.3" fill="none" stroke-linecap="butt"/>
<path d="M1677.35 1308.57H1724.65" stroke="#6FAFD6" stroke-width="4.6" stroke-linecap="butt"/>
<path d="M1756.2 1213.12V1274.98M1756.2 1322.35V1393.76M1732.55 1274.98H1779.85V1322.35H1732.55Z" stroke="#D7263A" stroke-width="2.3" fill="none" stroke-linecap="butt"/>
<path d="M1732.55 1301.14H1779.85" stroke="#D7263A" stroke-width="4.6" stroke-linecap="butt"/>
<path d="M1839.1 1231.86V1291.24M1839.1 1331.54V1388.46M1815.45 1291.24H1862.75V1331.54H1815.45Z" stroke="#6FAFD6" stroke-width="2.3" fill="none" stroke-linecap="butt"/>
<path d="M1815.45 1311.75H1862.75" stroke="#6FAFD6" stroke-width="4.6" stroke-linecap="butt"/>
<path d="M1894.3 1271.8V1288.42M1894.3 1329.78V1335.43M1870.65 1288.42H1917.95V1329.78H1870.65Z" stroke="#D7263A" stroke-width="2.3" fill="none" stroke-linecap="butt"/>
<path d="M1870.65 1305.03H1917.95" stroke="#D7263A" stroke-width="4.6" stroke-linecap="butt"/>
<path d="M1977.1 1207.46V1272.51M1977.1 1314.58V1376.44M1953.45 1272.51H2000.75V1314.58H1953.45Z" stroke="#6FAFD6" stroke-width="2.3" fill="none" stroke-linecap="butt"/>
<path d="M1953.45 1292.3H2000.75" stroke="#6FAFD6" stroke-width="4.6" stroke-linecap="butt"/>
<path d="M2032.3 1204.99V1253.77M2032.3 1302.91V1352.05M2008.65 1253.77H2055.95V1302.91H2008.65Z" stroke="#D7263A" stroke-width="2.3" fill="none" stroke-linecap="butt"/>
<path d="M2008.65 1276.4H2055.95" stroke="#D7263A" stroke-width="4.6" stroke-linecap="butt"/>
<path d="M1646 1142.6V1513.5H2087.2" stroke="#000" stroke-width="1.4" fill="none" stroke-linejoin="miter"/>
<path d="M1645.3 1155.5h-6.5M1645.3 1226.2h-6.5M1645.3 1296.9h-6.5M1645.3 1367.6h-6.5M1645.3 1438.3h-6.5M1645.3 1509h-6.5M1728.6 1514.2v6.5M1866.7 1514.2v6.5M2004.7 1514.2v6.5" stroke="#222" stroke-width="1.4" stroke-linecap="butt"/>
<text fill="#000" x="1634.3" y="1163" font-size="19.2" text-anchor="end">4</text>
<text fill="#000" x="1634.3" y="1233" font-size="19.2" text-anchor="end">2</text>
<text fill="#000" x="1634.3" y="1304" font-size="19.2" text-anchor="end">0</text>
<text fill="#000" x="1634.3" y="1375" font-size="19.2" text-anchor="end">−2</text>
<text fill="#000" x="1634.3" y="1446" font-size="19.2" text-anchor="end">−4</text>
<text fill="#000" x="1634.3" y="1516" font-size="19.2" text-anchor="end">−6</text>
<text fill="#000" x="1729.2" y="1537" font-size="19.2" text-anchor="middle">A/A</text>
<text fill="#000" x="1867.3" y="1537" font-size="19.2" text-anchor="middle">A/G</text>
<text fill="#000" x="2005.3" y="1537" font-size="19.2" text-anchor="middle">G/G</text>
<text fill="#000" x="1647.3" y="1124" font-size="24.3">Interaction LRT p=9.39e−05</text>
<text fill="#000" x="1866.7" y="1566" font-size="24.5" text-anchor="middle">B.29</text>
<text fill="#000" x="1596" y="1327" font-size="24.5" text-anchor="middle" transform="rotate(-90 1596 1327)">RNA − <tspan font-style="italic">ASTN2</tspan></text>
</g>
</svg>
</body>
</html>
